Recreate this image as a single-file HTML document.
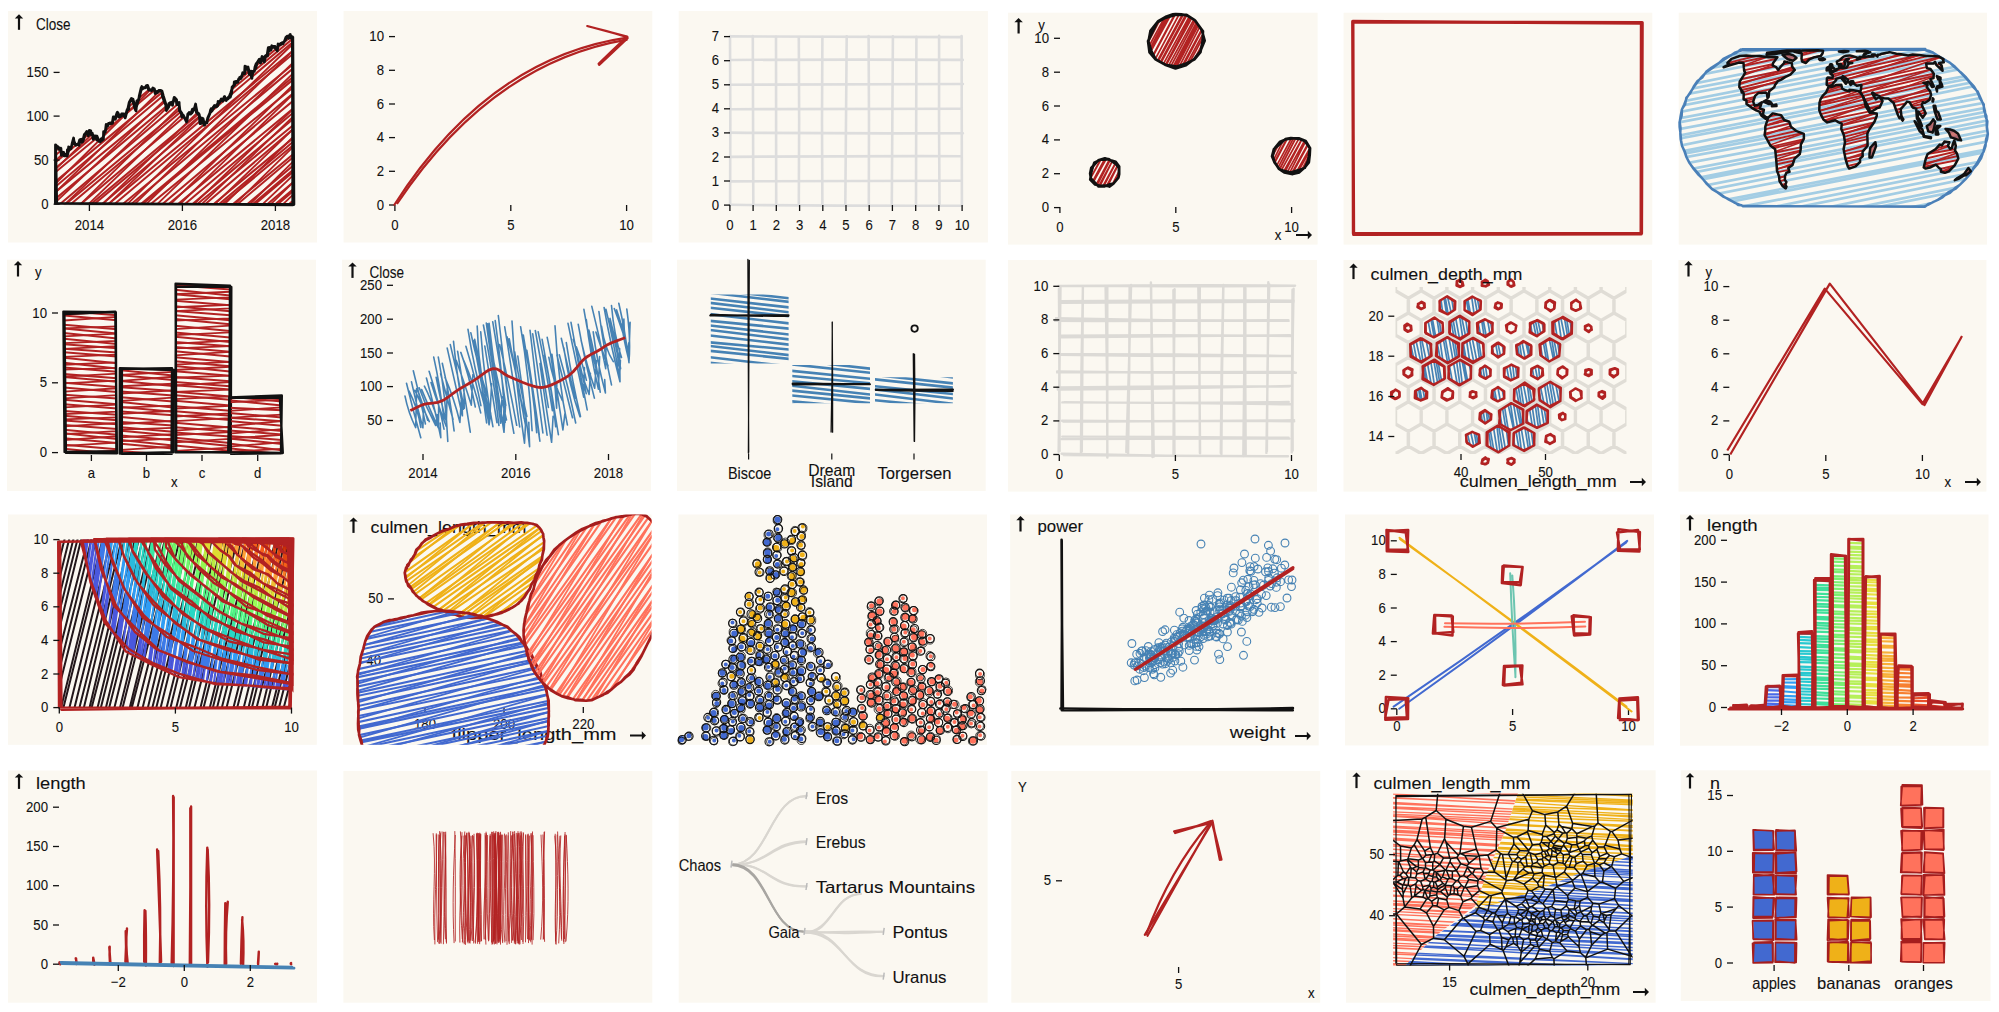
<!DOCTYPE html><html><head><meta charset="utf-8"><title>Sketchy plots</title><style>html,body{margin:0;padding:0;background:#fff;width:1999px;height:1012px;overflow:hidden}text{font-family:"Liberation Sans",sans-serif}</style></head><body><svg width="1999" height="1012" viewBox="0 0 1999 1012" style="display:block;font-family:'Liberation Sans', sans-serif"><defs><clipPath id="c1"><path d="M56 204.2L56 144.8L57.5 146.7L59.1 148.6L60.4 148.9L61.7 155.2L62.9 151.7L64.2 155.4L65.5 155L66.8 155.5L68.1 150.5L69.4 147.4L70.6 148.7L71.9 144.7L73.2 138.7L74.5 143.7L75.8 144.7L77.1 143.6L78.4 144.8L79.6 140.2L80.9 139.9L82.2 142.4L83.5 140.2L84.8 134.8L86.1 133.7L87.3 132.1L88.6 135.1L89.9 131.2L91.2 134.4L92.5 133.7L93.8 138.6L95.1 135.7L96.3 136.9L97.6 139.5L98.9 140.6L100.2 141L101.5 139.5L102.8 140.1L104 131.9L105.3 131.5L106.6 125.2L107.9 125.5L109.2 123.4L110.5 123.6L111.8 122.9L113 117.5L114.3 118.2L115.6 118.7L116.9 113.8L118.2 112.7L119.5 116.9L120.7 115.8L122 113.7L123.3 114.7L124.6 114.7L125.9 117.6L127.2 110.5L128.5 108.9L129.7 103L131 98.4L132.3 100L133.6 102.3L134.9 108.3L136.2 110.4L137.4 101L138.7 100.1L140 95.1L141.3 87L142.6 89.1L143.9 87.2L145.2 88L146.4 85.8L147.7 86.1L149 90L150.3 89.5L151.6 90.2L152.9 88.6L154.1 88.8L155.4 92.8L156.7 92.1L158 91.8L159.3 91L160.6 90L161.8 91L163.1 96.7L164.4 101.4L165.7 104.1L167 110.6L168.3 107L169.6 103.4L170.8 102.3L172.1 104.8L173.4 103.6L174.7 97.6L176 99.6L177.3 104L178.5 102.8L179.8 110.9L181.1 113.1L182.4 116.4L183.7 115.1L185 117.8L186.3 121.5L187.5 114.7L188.8 112.7L190.1 114.1L191.4 113.3L192.7 110L194 108.7L195.2 103.9L196.5 112.4L197.8 113.5L199.1 115.2L200.4 123.2L201.7 118.4L203 119.2L204.2 125.7L205.5 123L206.8 122.2L208.1 117.7L209.4 112.4L210.7 109.4L211.9 111.2L213.2 107.6L214.5 105.6L215.8 106.3L217.1 104.9L218.4 101.6L219.7 103L220.9 99.4L222.2 100.5L223.5 98.6L224.8 96.6L226.1 100.2L227.4 98.3L228.6 96.9L229.9 97L231.2 93L232.5 87.3L233.8 85.1L235.1 82.6L236.4 81.8L237.6 82.2L238.9 78.5L240.2 78.1L241.5 77L242.8 73.1L244.1 73.4L245.3 66.2L246.6 69.9L247.9 67.6L249.2 74.1L250.5 71.4L251.8 77.7L253.1 71.7L254.3 71.5L255.6 67L256.9 63.8L258.2 61.1L259.5 59.2L260.8 63.4L262 57.2L263.3 57.5L264.6 61.8L265.9 56.6L267.2 55.2L268.5 48L269.7 50.7L271 49.6L272.3 46.1L273.6 46.7L274.9 46.3L276.2 48L277.5 50.1L278.7 44.6L280 45.1L281.3 42.7L282.6 43.4L283.9 42.1L285.2 40.3L286.4 36.9L287.7 36.4L289 37.8L290.3 35.1L291.6 38.2L292.9 37.3L293.5 204.2Z"/></clipPath><clipPath id="c2"><path d="M56 204.2L56 144.8L57.5 146.7L59.1 148.6L60.4 148.9L61.7 155.2L62.9 151.7L64.2 155.4L65.5 155L66.8 155.5L68.1 150.5L69.4 147.4L70.6 148.7L71.9 144.7L73.2 138.7L74.5 143.7L75.8 144.7L77.1 143.6L78.4 144.8L79.6 140.2L80.9 139.9L82.2 142.4L83.5 140.2L84.8 134.8L86.1 133.7L87.3 132.1L88.6 135.1L89.9 131.2L91.2 134.4L92.5 133.7L93.8 138.6L95.1 135.7L96.3 136.9L97.6 139.5L98.9 140.6L100.2 141L101.5 139.5L102.8 140.1L104 131.9L105.3 131.5L106.6 125.2L107.9 125.5L109.2 123.4L110.5 123.6L111.8 122.9L113 117.5L114.3 118.2L115.6 118.7L116.9 113.8L118.2 112.7L119.5 116.9L120.7 115.8L122 113.7L123.3 114.7L124.6 114.7L125.9 117.6L127.2 110.5L128.5 108.9L129.7 103L131 98.4L132.3 100L133.6 102.3L134.9 108.3L136.2 110.4L137.4 101L138.7 100.1L140 95.1L141.3 87L142.6 89.1L143.9 87.2L145.2 88L146.4 85.8L147.7 86.1L149 90L150.3 89.5L151.6 90.2L152.9 88.6L154.1 88.8L155.4 92.8L156.7 92.1L158 91.8L159.3 91L160.6 90L161.8 91L163.1 96.7L164.4 101.4L165.7 104.1L167 110.6L168.3 107L169.6 103.4L170.8 102.3L172.1 104.8L173.4 103.6L174.7 97.6L176 99.6L177.3 104L178.5 102.8L179.8 110.9L181.1 113.1L182.4 116.4L183.7 115.1L185 117.8L186.3 121.5L187.5 114.7L188.8 112.7L190.1 114.1L191.4 113.3L192.7 110L194 108.7L195.2 103.9L196.5 112.4L197.8 113.5L199.1 115.2L200.4 123.2L201.7 118.4L203 119.2L204.2 125.7L205.5 123L206.8 122.2L208.1 117.7L209.4 112.4L210.7 109.4L211.9 111.2L213.2 107.6L214.5 105.6L215.8 106.3L217.1 104.9L218.4 101.6L219.7 103L220.9 99.4L222.2 100.5L223.5 98.6L224.8 96.6L226.1 100.2L227.4 98.3L228.6 96.9L229.9 97L231.2 93L232.5 87.3L233.8 85.1L235.1 82.6L236.4 81.8L237.6 82.2L238.9 78.5L240.2 78.1L241.5 77L242.8 73.1L244.1 73.4L245.3 66.2L246.6 69.9L247.9 67.6L249.2 74.1L250.5 71.4L251.8 77.7L253.1 71.7L254.3 71.5L255.6 67L256.9 63.8L258.2 61.1L259.5 59.2L260.8 63.4L262 57.2L263.3 57.5L264.6 61.8L265.9 56.6L267.2 55.2L268.5 48L269.7 50.7L271 49.6L272.3 46.1L273.6 46.7L274.9 46.3L276.2 48L277.5 50.1L278.7 44.6L280 45.1L281.3 42.7L282.6 43.4L283.9 42.1L285.2 40.3L286.4 36.9L287.7 36.4L289 37.8L290.3 35.1L291.6 38.2L292.9 37.3L293.5 204.2Z"/></clipPath><clipPath id="pc4"><rect x="1008" y="12.7" width="309.6" height="231.9"/></clipPath><clipPath id="c4"><path d="M1118.9 173L1117.4 178.3L1114.2 182.6L1109.7 185.4L1104.6 186.7L1099.2 186L1094.4 183.2L1091.2 178.6L1090.3 173L1091.8 167.7L1095 163.4L1099.5 160.6L1104.6 159.3L1110 160L1114.8 162.8L1118 167.4Z"/></clipPath><clipPath id="c5"><path d="M1203.8 40.8L1200.9 51L1194.6 59.2L1186.1 64.8L1176.2 67.2L1165.8 66L1156.5 60.5L1150.3 51.5L1148.6 40.8L1151.5 30.6L1157.8 22.4L1166.3 16.8L1176.2 14.4L1186.6 15.6L1195.9 21.1L1202.1 30.1Z"/></clipPath><clipPath id="c6"><path d="M1310 155.2L1308.1 162L1303.9 167.5L1298.2 171.2L1291.6 172.8L1284.7 172L1278.4 168.4L1274.3 162.4L1273.2 155.2L1275.1 148.4L1279.3 142.9L1285 139.2L1291.6 137.6L1298.5 138.4L1304.8 142L1308.9 148Z"/></clipPath><clipPath id="c7"><path d="M1924.7 206.2L1925.7 205.7L1928.5 204.4L1932.7 202.4L1937.9 199.6L1943.6 196.3L1949.4 192.6L1955.1 188.4L1960.4 183.8L1965.4 179L1969.9 173.9L1973.9 168.6L1977.4 163.1L1980.4 157.4L1982.9 151.6L1984.8 145.8L1986.2 139.8L1987.1 133.8L1987.3 127.8L1987.1 121.8L1986.2 115.8L1984.8 109.8L1982.9 104L1980.4 98.2L1977.4 92.5L1973.9 87L1969.9 81.7L1965.4 76.6L1960.4 71.8L1955.1 67.2L1949.4 63L1943.6 59.3L1937.9 56L1932.7 53.2L1928.5 51.2L1925.7 49.9L1924.7 49.4L1742.5 49.4L1741.5 49.9L1738.7 51.2L1734.5 53.2L1729.3 56L1723.6 59.3L1717.8 63L1712.1 67.2L1706.8 71.8L1701.8 76.6L1697.3 81.7L1693.3 87L1689.8 92.5L1686.8 98.2L1684.3 104L1682.4 109.8L1681 115.8L1680.1 121.8L1679.9 127.8L1680.1 133.8L1681 139.8L1682.4 145.8L1684.3 151.6L1686.8 157.4L1689.8 163.1L1693.3 168.6L1697.3 173.9L1701.8 179L1706.8 183.8L1712.1 188.4L1717.8 192.6L1723.6 196.3L1729.3 199.6L1734.5 202.4L1738.7 204.4L1741.5 205.7L1742.5 206.2Z"/></clipPath><clipPath id="c8"><path d="M1727.4 63L1731.5 58.9L1739.7 56L1746.2 55.5L1751.6 56.1L1759.4 56L1768.5 57.2L1777.4 57.2L1773.1 63L1772.7 65.5L1776.2 67.2L1778.2 69.9L1780.3 67.2L1784.1 63L1784.4 61.5L1787.7 62.3L1791.8 63L1792.1 66.4L1794.8 69.9L1790.3 74.6L1785.1 77.1L1781.3 79.6L1777.8 81.2L1775 84.9L1774.4 87L1769.2 91.4L1768.6 97L1767.5 98.2L1767 93.6L1765.7 92.5L1761.5 93.1L1758.3 93.1L1755.1 95.9L1753.2 101.6L1754.5 105.7L1757.9 105.1L1761.8 102.2L1759.8 108.6L1763.9 109.8L1762.9 114.6L1765.7 117L1767.8 117.6L1765.6 118.8L1761.5 115.8L1759.4 111.6L1756.2 110.4L1753.1 108.6L1746.5 104L1746.5 100.5L1743.6 99.3L1743.7 93.6L1742.5 91.4L1741.7 92.5L1741.2 89.8L1739.3 87L1739.7 81.7L1743.5 75.6L1745.2 72.7L1744.2 70.8L1743.8 67.2L1743.5 63L1738.8 62.6L1734.8 63.9L1728.9 65.5L1723.6 67.2L1729.1 64.3L1727.4 63Z"/></clipPath><clipPath id="c9"><path d="M1727.4 63L1731.5 58.9L1739.7 56L1746.2 55.5L1751.6 56.1L1759.4 56L1768.5 57.2L1777.4 57.2L1773.1 63L1772.7 65.5L1776.2 67.2L1778.2 69.9L1780.3 67.2L1784.1 63L1784.4 61.5L1787.7 62.3L1791.8 63L1792.1 66.4L1794.8 69.9L1790.3 74.6L1785.1 77.1L1781.3 79.6L1777.8 81.2L1775 84.9L1774.4 87L1769.2 91.4L1768.6 97L1767.5 98.2L1767 93.6L1765.7 92.5L1761.5 93.1L1758.3 93.1L1755.1 95.9L1753.2 101.6L1754.5 105.7L1757.9 105.1L1761.8 102.2L1759.8 108.6L1763.9 109.8L1762.9 114.6L1765.7 117L1767.8 117.6L1765.6 118.8L1761.5 115.8L1759.4 111.6L1756.2 110.4L1753.1 108.6L1746.5 104L1746.5 100.5L1743.6 99.3L1743.7 93.6L1742.5 91.4L1741.7 92.5L1741.2 89.8L1739.3 87L1739.7 81.7L1743.5 75.6L1745.2 72.7L1744.2 70.8L1743.8 67.2L1743.5 63L1738.8 62.6L1734.8 63.9L1728.9 65.5L1723.6 67.2L1729.1 64.3L1727.4 63Z"/></clipPath><clipPath id="c10"><path d="M1794.5 51.9L1802.4 50.5L1818.1 50.2L1823.1 50.8L1822.6 53.2L1820.8 56L1814.7 57.2L1809.2 59.3L1805.9 63L1802.1 61.5L1801.5 58.6L1801.7 56L1801.7 53.2L1797.2 52.5L1794.5 51.9Z"/></clipPath><clipPath id="c11"><path d="M1794.5 51.9L1802.4 50.5L1818.1 50.2L1823.1 50.8L1822.6 53.2L1820.8 56L1814.7 57.2L1809.2 59.3L1805.9 63L1802.1 61.5L1801.5 58.6L1801.7 56L1801.7 53.2L1797.2 52.5L1794.5 51.9Z"/></clipPath><clipPath id="c12"><path d="M1768.2 117.6L1772.7 113.4L1781.1 115.2L1784.2 120L1789.3 121.8L1790.9 126.6L1796 130.8L1803.8 133.8L1803.9 138.6L1800.8 144.6L1800.7 149.3L1799.8 154L1794.6 158.6L1792.4 165.3L1788.3 168L1789.5 171.8L1786.4 172.8L1785 176L1784.9 180L1786.4 181.9L1785.4 184.8L1786.5 186.6L1785.7 188.4L1782.3 185.7L1779.5 181L1779 176L1777 170.7L1776.5 163.1L1775.2 149.3L1770.6 145.8L1764.6 135L1765.3 130.2L1765.3 126.6L1768.2 117.6Z"/></clipPath><clipPath id="c13"><path d="M1768.2 117.6L1772.7 113.4L1781.1 115.2L1784.2 120L1789.3 121.8L1790.9 126.6L1796 130.8L1803.8 133.8L1803.9 138.6L1800.8 144.6L1800.7 149.3L1799.8 154L1794.6 158.6L1792.4 165.3L1788.3 168L1789.5 171.8L1786.4 172.8L1785 176L1784.9 180L1786.4 181.9L1785.4 184.8L1786.5 186.6L1785.7 188.4L1782.3 185.7L1779.5 181L1779 176L1777 170.7L1776.5 163.1L1775.2 149.3L1770.6 145.8L1764.6 135L1765.3 130.2L1765.3 126.6L1768.2 117.6Z"/></clipPath><clipPath id="c14"><path d="M1826.9 78.6L1827.7 77.6L1832.5 78.1L1832.9 75.6L1830.4 73.7L1832.5 72.2L1835 70.8L1836.4 70.4L1837 69L1839.4 68.1L1838.9 65.5L1840.5 65.1L1840.7 67.7L1843.1 68.1L1846.5 67.7L1847.8 65.5L1849.1 63.4L1852.3 63L1848 62.6L1847 60.7L1848.8 58.9L1846.4 59.3L1844.3 61.5L1845.2 63.4L1844.3 66.4L1842 66.4L1840.7 63.9L1837.2 63.9L1836.8 61.5L1839.8 60L1842 57.9L1843.6 56.6L1846.3 55.7L1849.7 55.4L1852.8 56.3L1858.1 57.9L1856.9 59.6L1860.2 58.6L1859.5 56.9L1864.8 56.9L1868.6 56.3L1873.4 56.6L1872 54.5L1874.8 54.5L1877.5 56.6L1877.9 54.8L1879.9 54.5L1882 53.7L1887.9 52.5L1889.6 52.1L1896.4 53.7L1901 54.2L1908.2 55.4L1912.7 54.5L1919.2 55.1L1926.3 56L1932.1 56L1939 56.6L1943.6 59.3L1943 59.6L1943.8 62.3L1939.1 63L1941.6 65.5L1942.6 70.8L1936.5 65.1L1935 61.9L1933.8 63.4L1926.1 63.4L1926.9 68.1L1930.5 69L1933.8 73.7L1933.5 78.1L1930.4 79.1L1933.9 86.5L1932.2 87L1930.4 84.3L1928.2 81.7L1926.1 82.8L1923.5 82.8L1927.6 84.9L1926.7 87L1930.2 91.4L1931.1 94.8L1929.5 99.9L1925 102.8L1922.8 102.2L1921.8 105.1L1925.7 113.4L1922.8 117.6L1920.9 115.2L1918.3 111.6L1917.7 117L1919.6 120L1922 126L1919.8 124.2L1916.9 118.2L1916.2 108.6L1912.6 107.5L1909.6 102.2L1907 101.6L1905.3 104L1900.7 109.2L1901.4 115.8L1899.5 118.2L1898 115.2L1893.5 102.8L1891.2 101L1888.3 98.4L1884.2 98.2L1880 97.6L1879.3 95.9L1875.5 94.8L1872.7 92.5L1872 93.1L1874.1 96.5L1875.8 99.3L1879.1 97L1882.6 101L1879.6 107.5L1877.1 108.1L1869.9 112.8L1869.2 108.6L1865.8 102.2L1861.8 94.8L1861.5 95.3L1859.6 92.5L1860.6 90.9L1861.3 87L1861.4 85.1L1856.8 85.7L1853.9 83.8L1853.2 81.2L1851 81.2L1852 83.8L1850.6 84.9L1848.3 81.2L1847.8 79.6L1845 77.6L1842.7 76.1L1844.1 79.6L1845.7 81.7L1847.6 81.7L1845.9 83.8L1845.4 83.3L1842.6 79.6L1841 77.6L1838.8 78.1L1835.8 79.1L1836.2 80.2L1833.6 82.8L1832.1 85.1L1828.9 85.9L1826.7 84.9L1826.9 78.6Z"/></clipPath><clipPath id="c15"><path d="M1826.9 78.6L1827.7 77.6L1832.5 78.1L1832.9 75.6L1830.4 73.7L1832.5 72.2L1835 70.8L1836.4 70.4L1837 69L1839.4 68.1L1838.9 65.5L1840.5 65.1L1840.7 67.7L1843.1 68.1L1846.5 67.7L1847.8 65.5L1849.1 63.4L1852.3 63L1848 62.6L1847 60.7L1848.8 58.9L1846.4 59.3L1844.3 61.5L1845.2 63.4L1844.3 66.4L1842 66.4L1840.7 63.9L1837.2 63.9L1836.8 61.5L1839.8 60L1842 57.9L1843.6 56.6L1846.3 55.7L1849.7 55.4L1852.8 56.3L1858.1 57.9L1856.9 59.6L1860.2 58.6L1859.5 56.9L1864.8 56.9L1868.6 56.3L1873.4 56.6L1872 54.5L1874.8 54.5L1877.5 56.6L1877.9 54.8L1879.9 54.5L1882 53.7L1887.9 52.5L1889.6 52.1L1896.4 53.7L1901 54.2L1908.2 55.4L1912.7 54.5L1919.2 55.1L1926.3 56L1932.1 56L1939 56.6L1943.6 59.3L1943 59.6L1943.8 62.3L1939.1 63L1941.6 65.5L1942.6 70.8L1936.5 65.1L1935 61.9L1933.8 63.4L1926.1 63.4L1926.9 68.1L1930.5 69L1933.8 73.7L1933.5 78.1L1930.4 79.1L1933.9 86.5L1932.2 87L1930.4 84.3L1928.2 81.7L1926.1 82.8L1923.5 82.8L1927.6 84.9L1926.7 87L1930.2 91.4L1931.1 94.8L1929.5 99.9L1925 102.8L1922.8 102.2L1921.8 105.1L1925.7 113.4L1922.8 117.6L1920.9 115.2L1918.3 111.6L1917.7 117L1919.6 120L1922 126L1919.8 124.2L1916.9 118.2L1916.2 108.6L1912.6 107.5L1909.6 102.2L1907 101.6L1905.3 104L1900.7 109.2L1901.4 115.8L1899.5 118.2L1898 115.2L1893.5 102.8L1891.2 101L1888.3 98.4L1884.2 98.2L1880 97.6L1879.3 95.9L1875.5 94.8L1872.7 92.5L1872 93.1L1874.1 96.5L1875.8 99.3L1879.1 97L1882.6 101L1879.6 107.5L1877.1 108.1L1869.9 112.8L1869.2 108.6L1865.8 102.2L1861.8 94.8L1861.5 95.3L1859.6 92.5L1860.6 90.9L1861.3 87L1861.4 85.1L1856.8 85.7L1853.9 83.8L1853.2 81.2L1851 81.2L1852 83.8L1850.6 84.9L1848.3 81.2L1847.8 79.6L1845 77.6L1842.7 76.1L1844.1 79.6L1845.7 81.7L1847.6 81.7L1845.9 83.8L1845.4 83.3L1842.6 79.6L1841 77.6L1838.8 78.1L1835.8 79.1L1836.2 80.2L1833.6 82.8L1832.1 85.1L1828.9 85.9L1826.7 84.9L1826.9 78.6Z"/></clipPath><clipPath id="c16"><path d="M1819.5 102.8L1820.5 99.3L1823.1 95.3L1826 92.5L1828.9 86.2L1832 87L1835.9 85.1L1841.3 84.7L1842.2 88.7L1845.5 90.3L1849.5 91.4L1849.4 89.8L1853.4 90.3L1859 91.2L1861.3 93.6L1863.8 98.2L1865.7 106.3L1869.9 112.8L1876.7 113.4L1876.8 115.8L1874.5 121.8L1869.5 129L1867.3 133.8L1867.5 140.4L1867.6 145.8L1862.6 151.6L1862.7 156.3L1860 158.6L1860.1 162L1855.6 166.4L1849.2 168.6L1847.8 166.4L1845.7 159.7L1843.6 149.3L1845 142.2L1843.8 135L1841.3 129L1841.7 123.6L1838.7 122.4L1835.3 120.2L1829.3 121.8L1827.2 122.4L1823.4 119.4L1820.9 114.6L1819.3 110.4L1819.5 102.8Z"/></clipPath><clipPath id="c17"><path d="M1819.5 102.8L1820.5 99.3L1823.1 95.3L1826 92.5L1828.9 86.2L1832 87L1835.9 85.1L1841.3 84.7L1842.2 88.7L1845.5 90.3L1849.5 91.4L1849.4 89.8L1853.4 90.3L1859 91.2L1861.3 93.6L1863.8 98.2L1865.7 106.3L1869.9 112.8L1876.7 113.4L1876.8 115.8L1874.5 121.8L1869.5 129L1867.3 133.8L1867.5 140.4L1867.6 145.8L1862.6 151.6L1862.7 156.3L1860 158.6L1860.1 162L1855.6 166.4L1849.2 168.6L1847.8 166.4L1845.7 159.7L1843.6 149.3L1845 142.2L1843.8 135L1841.3 129L1841.7 123.6L1838.7 122.4L1835.3 120.2L1829.3 121.8L1827.2 122.4L1823.4 119.4L1820.9 114.6L1819.3 110.4L1819.5 102.8Z"/></clipPath><clipPath id="c18"><path d="M1927.6 154L1925.8 158.6L1923.7 167.5L1925.6 168.6L1930 167.5L1935.9 164.7L1939.1 168L1940.9 169.1L1940.9 171.8L1944.8 172.8L1948.9 171.3L1954.7 165.3L1958.3 158.6L1957.2 154L1955 150.5L1955.8 145.8L1954.3 140.4L1953 143.4L1951.9 148.1L1950.1 148.7L1947.9 145.8L1949.4 142.2L1944.4 141.6L1942.1 145.2L1939.7 144.6L1935.4 149.3L1927.6 154Z"/></clipPath><clipPath id="c19"><path d="M1927.6 154L1925.8 158.6L1923.7 167.5L1925.6 168.6L1930 167.5L1935.9 164.7L1939.1 168L1940.9 169.1L1940.9 171.8L1944.8 172.8L1948.9 171.3L1954.7 165.3L1958.3 158.6L1957.2 154L1955 150.5L1955.8 145.8L1954.3 140.4L1953 143.4L1951.9 148.1L1950.1 148.7L1947.9 145.8L1949.4 142.2L1944.4 141.6L1942.1 145.2L1939.7 144.6L1935.4 149.3L1927.6 154Z"/></clipPath><clipPath id="c20"><path d="M1829.7 71.8L1834.6 70.8L1834.8 69L1833.3 67.7L1832.3 66.4L1832.3 64.9L1831.6 64.2L1830.3 64.2L1829.6 65.9L1830.5 67.7L1831.5 68.6L1830.5 69.9L1829.7 71.8Z"/></clipPath><clipPath id="c21"><path d="M1829.7 71.8L1834.6 70.8L1834.8 69L1833.3 67.7L1832.3 66.4L1832.3 64.9L1831.6 64.2L1830.3 64.2L1829.6 65.9L1830.5 67.7L1831.5 68.6L1830.5 69.9L1829.7 71.8Z"/></clipPath><clipPath id="c22"><path d="M64.2 313L116.1 313L116.1 452.6L64.2 452.6Z"/></clipPath><clipPath id="c23"><path d="M64.2 313L116.1 313L116.1 452.6L64.2 452.6Z"/></clipPath><clipPath id="c24"><path d="M121 368.8L173 368.8L173 452.6L121 452.6Z"/></clipPath><clipPath id="c25"><path d="M121 368.8L173 368.8L173 452.6L121 452.6Z"/></clipPath><clipPath id="c26"><path d="M175.4 285.1L229.7 285.1L229.7 452.6L175.4 452.6Z"/></clipPath><clipPath id="c27"><path d="M175.4 285.1L229.7 285.1L229.7 452.6L175.4 452.6Z"/></clipPath><clipPath id="c28"><path d="M229.7 396.8L281.6 396.8L281.6 452.6L229.7 452.6Z"/></clipPath><clipPath id="c29"><path d="M229.7 396.8L281.6 396.8L281.6 452.6L229.7 452.6Z"/></clipPath><clipPath id="c30"><path d="M710.8 294.5L788.6 294.5L788.6 363.6L710.8 363.6Z"/></clipPath><clipPath id="c31"><path d="M792.3 364.9L870 364.9L870 403.2L792.3 403.2Z"/></clipPath><clipPath id="c32"><path d="M875 377.2L952.9 377.2L952.9 403.2L875 403.2Z"/></clipPath><clipPath id="hexclip"><rect x="1395.5" y="287" width="231" height="167"/></clipPath><clipPath id="c33"><path d="M1447.4 314.5L1439.7 310L1439.7 301.1L1447.4 296.7L1455.1 301.1L1455.1 310Z"/></clipPath><clipPath id="c34"><path d="M1472.8 314.5L1465.1 310L1465.1 301.1L1472.8 296.7L1480.5 301.1L1480.5 310Z"/></clipPath><clipPath id="c35"><path d="M1433.8 337.7L1425.3 332.8L1425.3 322.9L1433.8 317.9L1442.4 322.9L1442.4 332.8Z"/></clipPath><clipPath id="c36"><path d="M1459.8 339.2L1449.9 333.5L1449.9 322.1L1459.8 316.5L1469.6 322.1L1469.6 333.5Z"/></clipPath><clipPath id="c37"><path d="M1485.2 336.7L1477.5 332.3L1477.5 323.4L1485.2 318.9L1492.9 323.4L1492.9 332.3Z"/></clipPath><clipPath id="c38"><path d="M1537.1 335.7L1530.2 331.8L1530.2 323.9L1537.1 319.9L1543.9 323.9L1543.9 331.8Z"/></clipPath><clipPath id="c39"><path d="M1562.3 338.7L1552.9 333.3L1552.9 322.4L1562.3 316.9L1571.7 322.4L1571.7 333.3Z"/></clipPath><clipPath id="c40"><path d="M1421 361.9L1410.7 356L1410.7 344.1L1421 338.2L1431.2 344.1L1431.2 356Z"/></clipPath><clipPath id="c41"><path d="M1447.4 362.9L1436.3 356.5L1436.3 343.6L1447.4 337.2L1458.5 343.6L1458.5 356.5Z"/></clipPath><clipPath id="c42"><path d="M1472.8 362.4L1462.1 356.2L1462.1 343.9L1472.8 337.7L1483.5 343.9L1483.5 356.2Z"/></clipPath><clipPath id="c43"><path d="M1498 357L1492.1 353.5L1492.1 346.6L1498 343.1L1504 346.6L1504 353.5Z"/></clipPath><clipPath id="c44"><path d="M1524 358.4L1516.7 354.2L1516.7 345.8L1524 341.7L1531.3 345.8L1531.3 354.2Z"/></clipPath><clipPath id="c45"><path d="M1549.9 361.4L1540.1 355.7L1540.1 344.4L1549.9 338.7L1559.8 344.4L1559.8 355.7Z"/></clipPath><clipPath id="c46"><path d="M1433.8 384.6L1423.1 378.5L1423.1 366.1L1433.8 359.9L1444.5 366.1L1444.5 378.5Z"/></clipPath><clipPath id="c47"><path d="M1459.8 385.1L1448.6 378.7L1448.6 365.9L1459.8 359.4L1470.9 365.9L1470.9 378.7Z"/></clipPath><clipPath id="c48"><path d="M1485.2 378.7L1479.6 375.5L1479.6 369.1L1485.2 365.9L1490.8 369.1L1490.8 375.5Z"/></clipPath><clipPath id="c49"><path d="M1511.1 380.2L1504.3 376.2L1504.3 368.3L1511.1 364.4L1518 368.3L1518 376.2Z"/></clipPath><clipPath id="c50"><path d="M1537.1 378.7L1531.5 375.5L1531.5 369.1L1537.1 365.9L1542.6 369.1L1542.6 375.5Z"/></clipPath><clipPath id="c51"><path d="M1421 400.9L1415.4 397.7L1415.4 391.3L1421 388.1L1426.5 391.3L1426.5 397.7Z"/></clipPath><clipPath id="c52"><path d="M1498 401.4L1492.1 398L1492.1 391.1L1498 387.6L1504 391.1L1504 398Z"/></clipPath><clipPath id="c53"><path d="M1524 405.9L1514.1 400.2L1514.1 388.8L1524 383.2L1533.8 388.8L1533.8 400.2Z"/></clipPath><clipPath id="c54"><path d="M1549.9 406.9L1539.2 400.7L1539.2 388.3L1549.9 382.2L1560.6 388.3L1560.6 400.7Z"/></clipPath><clipPath id="c55"><path d="M1485.2 423.2L1479.6 420L1479.6 413.5L1485.2 410.3L1490.8 413.5L1490.8 420Z"/></clipPath><clipPath id="c56"><path d="M1511.1 430.1L1499.6 423.4L1499.6 410.1L1511.1 403.4L1522.7 410.1L1522.7 423.4Z"/></clipPath><clipPath id="c57"><path d="M1537.1 428.6L1526.8 422.7L1526.8 410.8L1537.1 404.9L1547.3 410.8L1547.3 422.7Z"/></clipPath><clipPath id="c58"><path d="M1472.8 446.4L1466.4 442.7L1466.4 435.3L1472.8 431.6L1479.3 435.3L1479.3 442.7Z"/></clipPath><clipPath id="c59"><path d="M1498 451.8L1486.9 445.4L1486.9 432.6L1498 426.1L1509.2 432.6L1509.2 445.4Z"/></clipPath><clipPath id="c60"><path d="M1524 450.8L1513.7 444.9L1513.7 433.1L1524 427.1L1534.3 433.1L1534.3 444.9Z"/></clipPath><clipPath id="ctr"><rect x="57.3" y="537.6" width="236.2" height="172.0"/></clipPath><clipPath id="c61"><path d="M59.3 707.6L291.5 707.6L291.5 539.6L59.3 539.6Z"/></clipPath><clipPath id="c62"><path d="M82.5 539.6L83.8 548.5L86.4 563.9L90 580.6L94.4 596.5L99.5 610.6L105.3 622.7L111.6 633L118.6 641.8L126 649.1L134 655.4L142.5 660.7L151.5 665.3L160.9 669.2L170.7 672.6L181 675.6L191.8 678.1L202.9 680.4L214.4 682.4L226.3 684.2L238.6 685.8L251.3 687.3L264.3 688.6L277.7 689.7L291.5 690.8L291.5 682.4L278.5 680.9L265.8 679.3L253.5 677.5L241.6 675.5L229.9 673.3L218.7 670.9L207.8 668.2L197.3 665.2L187.2 661.8L177.4 658.1L168.1 653.8L159.2 649L150.8 643.6L142.8 637.5L135.2 630.5L128.2 622.6L121.6 613.7L115.6 603.7L110.2 592.6L105.4 580.6L101.2 568L97.8 555.7L95.4 545.3L94.1 539.6Z"/></clipPath><clipPath id="c63"><path d="M94.1 539.6L95.4 545.3L97.8 555.7L101.2 568L105.4 580.6L110.2 592.6L115.6 603.7L121.6 613.7L128.2 622.6L135.2 630.5L142.8 637.5L150.8 643.6L159.2 649L168.1 653.8L177.4 658.1L187.2 661.8L197.3 665.2L207.8 668.2L218.7 670.9L229.9 673.3L241.6 675.5L253.5 677.5L265.8 679.3L278.5 680.9L291.5 682.4L291.5 674L279.3 672.1L267.4 670.1L255.8 667.9L244.5 665.5L233.6 662.8L223 659.9L212.7 656.7L202.8 653.2L193.3 649.4L184.2 645.1L175.4 640.4L167 635.2L159.1 629.4L151.5 623L144.4 615.9L137.8 608.2L131.6 599.7L126 590.5L120.8 580.8L116.3 570.7L112.4 560.7L109.2 551.3L106.9 543.7L105.7 539.6Z"/></clipPath><clipPath id="c64"><path d="M105.7 539.6L106.9 543.7L109.2 551.3L112.4 560.7L116.3 570.7L120.8 580.8L126 590.5L131.6 599.7L137.8 608.2L144.4 615.9L151.5 623L159.1 629.4L167 635.2L175.4 640.4L184.2 645.1L193.3 649.4L202.8 653.2L212.7 656.7L223 659.9L233.6 662.8L244.5 665.5L255.8 667.9L267.4 670.1L279.3 672.1L291.5 674L291.5 665.6L280 663.4L268.9 661.1L258 658.5L247.4 655.8L237.2 652.8L227.3 649.5L217.7 646L208.4 642.2L199.4 638L190.9 633.5L182.6 628.5L174.8 623.2L167.3 617.3L160.3 611L153.6 604.2L147.4 596.9L141.6 589.1L136.3 580.9L131.5 572.5L127.3 564.1L123.6 555.9L120.6 548.6L118.4 542.7L117.3 539.6Z"/></clipPath><clipPath id="c65"><path d="M117.3 539.6L118.4 542.7L120.6 548.6L123.6 555.9L127.3 564.1L131.5 572.5L136.3 580.9L141.6 589.1L147.4 596.9L153.6 604.2L160.3 611L167.3 617.3L174.8 623.2L182.6 628.5L190.9 633.5L199.4 638L208.4 642.2L217.7 646L227.3 649.5L237.2 652.8L247.4 655.8L258 658.5L268.9 661.1L280 663.4L291.5 665.6L291.5 657.2L280.8 654.8L270.4 652.2L260.2 649.4L250.4 646.4L240.8 643.1L231.5 639.7L222.6 635.9L213.9 631.9L205.6 627.6L197.6 623L189.9 618L182.6 612.7L175.6 607L169 600.9L162.8 594.5L157 587.8L151.6 580.8L146.6 573.6L142.2 566.4L138.2 559.3L134.8 552.6L132 546.6L130 542L129 539.6Z"/></clipPath><clipPath id="c66"><path d="M129 539.6L130 542L132 546.6L134.8 552.6L138.2 559.3L142.2 566.4L146.6 573.6L151.6 580.8L157 587.8L162.8 594.5L169 600.9L175.6 607L182.6 612.7L189.9 618L197.6 623L205.6 627.6L213.9 631.9L222.6 635.9L231.5 639.7L240.8 643.1L250.4 646.4L260.2 649.4L270.4 652.2L280.8 654.8L291.5 657.2L291.5 648.8L281.6 646.2L271.9 643.4L262.5 640.4L253.3 637.2L244.4 633.8L235.8 630.3L227.5 626.4L219.5 622.4L211.7 618L204.3 613.4L197.2 608.6L190.4 603.4L183.9 598L177.8 592.3L172 586.4L166.6 580.3L161.6 574.1L157 567.8L152.8 561.6L149.2 555.7L146 550.1L143.4 545.3L141.5 541.5L140.6 539.6Z"/></clipPath><clipPath id="c67"><path d="M140.6 539.6L141.5 541.5L143.4 545.3L146 550.1L149.2 555.7L152.8 561.6L157 567.8L161.6 574.1L166.6 580.3L172 586.4L177.8 592.3L183.9 598L190.4 603.4L197.2 608.6L204.3 613.4L211.7 618L219.5 622.4L227.5 626.4L235.8 630.3L244.4 633.8L253.3 637.2L262.5 640.4L271.9 643.4L281.6 646.2L291.5 648.8L291.5 640.4L282.3 637.6L273.4 634.7L264.7 631.6L256.2 628.4L248 624.9L240.1 621.3L232.4 617.5L225 613.4L217.9 609.2L211 604.7L204.4 600.1L198.1 595.2L192.2 590.2L186.5 584.9L181.2 579.6L176.2 574.1L171.6 568.6L167.3 563.2L163.5 557.9L160.1 552.8L157.2 548.2L154.8 544.2L153 541.1L152.2 539.6Z"/></clipPath><clipPath id="c68"><path d="M152.2 539.6L153 541.1L154.8 544.2L157.2 548.2L160.1 552.8L163.5 557.9L167.3 563.2L171.6 568.6L176.2 574.1L181.2 579.6L186.5 584.9L192.2 590.2L198.1 595.2L204.4 600.1L211 604.7L217.9 609.2L225 613.4L232.4 617.5L240.1 621.3L248 624.9L256.2 628.4L264.7 631.6L273.4 634.7L282.3 637.6L291.5 640.4L291.5 632L283.1 629.2L274.9 626.2L266.9 623.1L259.2 619.8L251.7 616.3L244.4 612.8L237.3 609L230.5 605.1L224 601L217.7 596.8L211.7 592.4L205.9 587.9L200.4 583.2L195.3 578.5L190.4 573.7L185.8 568.8L181.6 564L177.7 559.3L174.2 554.8L171.1 550.5L168.4 546.7L166.2 543.4L164.6 540.9L163.8 539.6Z"/></clipPath><clipPath id="c69"><path d="M163.8 539.6L164.6 540.9L166.2 543.4L168.4 546.7L171.1 550.5L174.2 554.8L177.7 559.3L181.6 564L185.8 568.8L190.4 573.7L195.3 578.5L200.4 583.2L205.9 587.9L211.7 592.4L217.7 596.8L224 601L230.5 605.1L237.3 609L244.4 612.8L251.7 616.3L259.2 619.8L266.9 623.1L274.9 626.2L283.1 629.2L291.5 632L291.5 623.6L283.9 620.7L276.4 617.8L269.2 614.7L262.1 611.4L255.3 608.1L248.7 604.6L242.3 601L236.1 597.3L230.1 593.4L224.4 589.5L218.9 585.4L213.7 581.3L208.7 577.1L204 572.8L199.6 568.5L195.4 564.3L191.6 560.1L188 556.1L184.8 552.2L182 548.6L179.6 545.4L177.6 542.7L176.1 540.6L175.4 539.6Z"/></clipPath><clipPath id="c70"><path d="M175.4 539.6L176.1 540.6L177.6 542.7L179.6 545.4L182 548.6L184.8 552.2L188 556.1L191.6 560.1L195.4 564.3L199.6 568.5L204 572.8L208.7 577.1L213.7 581.3L218.9 585.4L224.4 589.5L230.1 593.4L236.1 597.3L242.3 601L248.7 604.6L255.3 608.1L262.1 611.4L269.2 614.7L276.4 617.8L283.9 620.7L291.5 623.6L291.5 615.2L284.6 612.4L277.9 609.5L271.4 606.4L265.1 603.3L258.9 600.1L253 596.8L247.2 593.4L241.6 589.9L236.3 586.4L231.1 582.7L226.2 579L221.5 575.3L217 571.5L212.8 567.8L208.8 564.1L205 560.4L201.6 556.8L198.4 553.3L195.5 550.1L193 547.1L190.8 544.4L189 542.1L187.7 540.4L187 539.6Z"/></clipPath><clipPath id="c71"><path d="M187 539.6L187.7 540.4L189 542.1L190.8 544.4L193 547.1L195.5 550.1L198.4 553.3L201.6 556.8L205 560.4L208.8 564.1L212.8 567.8L217 571.5L221.5 575.3L226.2 579L231.1 582.7L236.3 586.4L241.6 589.9L247.2 593.4L253 596.8L258.9 600.1L265.1 603.3L271.4 606.4L277.9 609.5L284.6 612.4L291.5 615.2L291.5 606.8L285.4 604.1L279.4 601.3L273.6 598.4L268 595.4L262.5 592.4L257.2 589.4L252.1 586.2L247.2 583L242.4 579.8L237.8 576.5L233.4 573.2L229.3 569.9L225.3 566.6L221.5 563.3L218 560.1L214.6 556.9L211.6 553.9L208.7 551L206.2 548.2L203.9 545.7L202 543.5L200.4 541.7L199.2 540.3L198.6 539.6Z"/></clipPath><clipPath id="c72"><path d="M198.6 539.6L199.2 540.3L200.4 541.7L202 543.5L203.9 545.7L206.2 548.2L208.7 551L211.6 553.9L214.6 556.9L218 560.1L221.5 563.3L225.3 566.6L229.3 569.9L233.4 573.2L237.8 576.5L242.4 579.8L247.2 583L252.1 586.2L257.2 589.4L262.5 592.4L268 595.4L273.6 598.4L279.4 601.3L285.4 604.1L291.5 606.8L291.5 598.4L286.2 595.8L280.9 593.2L275.9 590.5L270.9 587.8L266.2 585L261.5 582.2L257 579.4L252.7 576.5L248.5 573.6L244.5 570.7L240.7 567.8L237 564.9L233.6 562.1L230.3 559.3L227.1 556.5L224.2 553.9L221.5 551.3L219.1 548.9L216.8 546.6L214.9 544.6L213.1 542.8L211.8 541.3L210.7 540.2L210.2 539.6Z"/></clipPath><clipPath id="c73"><path d="M210.2 539.6L210.7 540.2L211.8 541.3L213.1 542.8L214.9 544.6L216.8 546.6L219.1 548.9L221.5 551.3L224.2 553.9L227.1 556.5L230.3 559.3L233.6 562.1L237 564.9L240.7 567.8L244.5 570.7L248.5 573.6L252.7 576.5L257 579.4L261.5 582.2L266.2 585L270.9 587.8L275.9 590.5L280.9 593.2L286.2 595.8L291.5 598.4L291.5 590L286.9 587.6L282.4 585.2L278.1 582.8L273.9 580.3L269.8 577.9L265.8 575.4L262 572.9L258.3 570.3L254.7 567.8L251.2 565.3L248 562.9L244.8 560.4L241.8 558L239 555.6L236.3 553.4L233.9 551.2L231.5 549.1L229.4 547.1L227.5 545.3L225.8 543.6L224.3 542.1L223.1 540.9L222.3 540L221.8 539.6Z"/></clipPath><clipPath id="c74"><path d="M221.8 539.6L222.3 540L223.1 540.9L224.3 542.1L225.8 543.6L227.5 545.3L229.4 547.1L231.5 549.1L233.9 551.2L236.3 553.4L239 555.6L241.8 558L244.8 560.4L248 562.9L251.2 565.3L254.7 567.8L258.3 570.3L262 572.9L265.8 575.4L269.8 577.9L273.9 580.3L278.1 582.8L282.4 585.2L286.9 587.6L291.5 590L291.5 581.6L287.7 579.5L284 577.4L280.3 575.2L276.8 573.1L273.4 570.9L270.1 568.8L266.9 566.7L263.8 564.5L260.8 562.4L258 560.3L255.2 558.3L252.6 556.2L250.1 554.3L247.8 552.4L245.5 550.5L243.5 548.7L241.5 547.1L239.8 545.5L238.2 544L236.8 542.7L235.5 541.6L234.5 540.6L233.8 539.9L233.4 539.6Z"/></clipPath><clipPath id="c75"><path d="M233.4 539.6L233.8 539.9L234.5 540.6L235.5 541.6L236.8 542.7L238.2 544L239.8 545.5L241.5 547.1L243.5 548.7L245.5 550.5L247.8 552.4L250.1 554.3L252.6 556.2L255.2 558.3L258 560.3L260.8 562.4L263.8 564.5L266.9 566.7L270.1 568.8L273.4 570.9L276.8 573.1L280.3 575.2L284 577.4L287.7 579.5L291.5 581.6L291.5 573.2L288.4 571.4L285.5 569.6L282.6 567.8L279.7 566L277 564.3L274.4 562.5L271.8 560.7L269.3 559L267 557.3L264.7 555.6L262.5 554L260.4 552.4L258.4 550.8L256.5 549.3L254.7 547.9L253.1 546.5L251.5 545.3L250.1 544L248.8 542.9L247.7 542L246.7 541.1L245.9 540.4L245.3 539.9L245.1 539.6Z"/></clipPath><clipPath id="c76"><path d="M245.1 539.6L245.3 539.9L245.9 540.4L246.7 541.1L247.7 542L248.8 542.9L250.1 544L251.5 545.3L253.1 546.5L254.7 547.9L256.5 549.3L258.4 550.8L260.4 552.4L262.5 554L264.7 555.6L267 557.3L269.3 559L271.8 560.7L274.4 562.5L277 564.3L279.7 566L282.6 567.8L285.5 569.6L288.4 571.4L291.5 573.2L291.5 564.8L289.2 563.4L287 562L284.8 560.6L282.7 559.2L280.6 557.8L278.7 556.4L276.7 555.1L274.9 553.8L273.1 552.5L271.4 551.2L269.7 550L268.2 548.8L266.7 547.7L265.3 546.6L263.9 545.6L262.7 544.6L261.5 543.6L260.5 542.8L259.5 542L258.7 541.3L257.9 540.7L257.3 540.2L256.9 539.8L256.7 539.6Z"/></clipPath><clipPath id="c77"><path d="M256.7 539.6L256.9 539.8L257.3 540.2L257.9 540.7L258.7 541.3L259.5 542L260.5 542.8L261.5 543.6L262.7 544.6L263.9 545.6L265.3 546.6L266.7 547.7L268.2 548.8L269.7 550L271.4 551.2L273.1 552.5L274.9 553.8L276.7 555.1L278.7 556.4L280.6 557.8L282.7 559.2L284.8 560.6L287 562L289.2 563.4L291.5 564.8L291.5 556.4L290 555.4L288.5 554.4L287 553.4L285.6 552.5L284.3 551.5L282.9 550.6L281.7 549.7L280.4 548.8L279.2 548L278.1 547.1L277 546.3L275.9 545.5L274.9 544.8L274 544.1L273.1 543.4L272.3 542.8L271.5 542.2L270.8 541.6L270.2 541.1L269.6 540.7L269.1 540.3L268.7 539.9L268.4 539.7L268.3 539.6Z"/></clipPath><clipPath id="c78"><path d="M268.3 539.6L268.4 539.7L268.7 539.9L269.1 540.3L269.6 540.7L270.2 541.1L270.8 541.6L271.5 542.2L272.3 542.8L273.1 543.4L274 544.1L274.9 544.8L275.9 545.5L277 546.3L278.1 547.1L279.2 548L280.4 548.8L281.7 549.7L282.9 550.6L284.3 551.5L285.6 552.5L287 553.4L288.5 554.4L290 555.4L291.5 556.4L291.5 548L290.7 547.5L290 547L289.3 546.4L288.6 546L287.9 545.5L287.2 545L286.6 544.5L286 544.1L285.4 543.7L284.8 543.3L284.2 542.9L283.7 542.5L283.2 542.1L282.8 541.8L282.3 541.4L281.9 541.1L281.5 540.8L281.2 540.6L280.8 540.3L280.6 540.1L280.3 539.9L280.1 539.8L280 539.7L279.9 539.6Z"/></clipPath><clipPath id="c79"><path d="M279.9 539.6L280 539.7L280.1 539.8L280.3 539.9L280.6 540.1L280.8 540.3L281.2 540.6L281.5 540.8L281.9 541.1L282.3 541.4L282.8 541.8L283.2 542.1L283.7 542.5L284.2 542.9L284.8 543.3L285.4 543.7L286 544.1L286.6 544.5L287.2 545L287.9 545.5L288.6 546L289.3 546.4L290 547L290.7 547.5L291.5 548L291.5 539.6Z"/></clipPath><clipPath id="pc32"><rect x="343.2" y="514.5" width="308.3" height="230.3"/></clipPath><clipPath id="c80"><path d="M411 560.1L412.8 557L414.6 553.6L416.7 550.1L419.2 546.6L422.3 543.2L426.1 540.1L430.7 537.1L436.1 534.2L442 531.5L448.3 528.9L454.8 526.8L461.2 525.1L467.6 523.8L474.3 523.1L481.2 522.7L488.1 522.5L494.8 522.5L501.3 522.5L507.7 522.5L514.3 522.4L520.8 522.4L526.9 522.7L532.1 523.6L536.3 525.1L539.4 527.3L541.4 530.1L542.8 533.4L543.5 537L543.8 541L543.9 545.1L543.6 549.6L542.7 554.6L541.5 559.8L540 565.2L538.2 570.3L536.3 575.2L534.3 579.8L532.1 584.4L529.6 588.8L527 593L524.2 596.8L521.3 600.2L518.4 603.1L515.4 605.6L512.2 607.8L508.9 609.6L505.2 611.3L501.3 612.8L496.8 614.2L492 615.5L486.8 616.5L481.6 617.3L476.3 617.8L471.2 617.8L466.1 617.3L461 616.5L455.8 615.3L450.8 613.8L445.8 612.1L441.1 610.3L436.5 608.3L431.9 606L427.4 603.5L423.2 600.9L419.3 598.1L416 595.2L413.2 592.1L410.7 588.7L408.6 585.2L406.9 581.7L405.7 578.3L405 575.2L404.9 572.4L405.4 570L406.4 567.7L407.7 565.3L409.3 562.9Z"/></clipPath><clipPath id="c81"><path d="M411 560.1L412.8 557L414.6 553.6L416.7 550.1L419.2 546.6L422.3 543.2L426.1 540.1L430.7 537.1L436.1 534.2L442 531.5L448.3 528.9L454.8 526.8L461.2 525.1L467.6 523.8L474.3 523.1L481.2 522.7L488.1 522.5L494.8 522.5L501.3 522.5L507.7 522.5L514.3 522.4L520.8 522.4L526.9 522.7L532.1 523.6L536.3 525.1L539.4 527.3L541.4 530.1L542.8 533.4L543.5 537L543.8 541L543.9 545.1L543.6 549.6L542.7 554.6L541.5 559.8L540 565.2L538.2 570.3L536.3 575.2L534.3 579.8L532.1 584.4L529.6 588.8L527 593L524.2 596.8L521.3 600.2L518.4 603.1L515.4 605.6L512.2 607.8L508.9 609.6L505.2 611.3L501.3 612.8L496.8 614.2L492 615.5L486.8 616.5L481.6 617.3L476.3 617.8L471.2 617.8L466.1 617.3L461 616.5L455.8 615.3L450.8 613.8L445.8 612.1L441.1 610.3L436.5 608.3L431.9 606L427.4 603.5L423.2 600.9L419.3 598.1L416 595.2L413.2 592.1L410.7 588.7L408.6 585.2L406.9 581.7L405.7 578.3L405 575.2L404.9 572.4L405.4 570L406.4 567.7L407.7 565.3L409.3 562.9Z"/></clipPath><clipPath id="c82"><path d="M370.9 630.3L374.8 626.6L379.3 623.9L384.2 621.9L389.6 620.5L395.2 619.2L401 617.8L407.1 616.2L413.6 614.7L420.4 613.4L427.4 612.4L434.3 611.6L441.1 611.3L447.9 611.3L454.8 611.7L461.8 612.5L468.6 613.5L475.1 614.8L481.2 616.3L486.9 618L492.3 619.9L497.5 622L502.4 624.5L507 627.2L511.3 630.3L515.3 633.7L518.9 637.5L522.2 641.5L525.4 645.9L528.4 650.5L531.3 655.4L534.3 660.7L537.2 666.5L539.9 672.6L542.5 678.8L544.6 684.8L546.4 690.5L547.6 695.8L548.4 701L548.9 706.1L549.1 711.1L549 715.9L548.9 720.5L548.7 724.9L548.4 729.1L547.9 733.1L547.1 737.1L545.8 741.2L543.9 745.6L541.7 750.6L539.4 756L536.7 761.6L533 767L528 771.8L521.3 775.7L512.4 778.9L501.4 781.6L489.2 783.8L476.3 785.3L463.4 786L451.1 785.7L438.9 784.2L425.9 781.4L412.9 777.9L400.6 773.8L389.7 769.6L381 765.7L374.5 761.9L369.9 758L366.7 754.1L364.4 749.9L362.6 745.4L360.9 740.6L359.4 735.3L358.7 729.6L358.4 723.7L358.4 717.6L358.5 711.5L358.4 705.5L358.1 699.7L357.7 694L357.5 688.3L357.4 682.5L357.6 676.6L358.4 670.4L359.6 663.7L361 656.4L362.8 649L365 641.8L367.7 635.5Z"/></clipPath><clipPath id="c83"><path d="M370.9 630.3L374.8 626.6L379.3 623.9L384.2 621.9L389.6 620.5L395.2 619.2L401 617.8L407.1 616.2L413.6 614.7L420.4 613.4L427.4 612.4L434.3 611.6L441.1 611.3L447.9 611.3L454.8 611.7L461.8 612.5L468.6 613.5L475.1 614.8L481.2 616.3L486.9 618L492.3 619.9L497.5 622L502.4 624.5L507 627.2L511.3 630.3L515.3 633.7L518.9 637.5L522.2 641.5L525.4 645.9L528.4 650.5L531.3 655.4L534.3 660.7L537.2 666.5L539.9 672.6L542.5 678.8L544.6 684.8L546.4 690.5L547.6 695.8L548.4 701L548.9 706.1L549.1 711.1L549 715.9L548.9 720.5L548.7 724.9L548.4 729.1L547.9 733.1L547.1 737.1L545.8 741.2L543.9 745.6L541.7 750.6L539.4 756L536.7 761.6L533 767L528 771.8L521.3 775.7L512.4 778.9L501.4 781.6L489.2 783.8L476.3 785.3L463.4 786L451.1 785.7L438.9 784.2L425.9 781.4L412.9 777.9L400.6 773.8L389.7 769.6L381 765.7L374.5 761.9L369.9 758L366.7 754.1L364.4 749.9L362.6 745.4L360.9 740.6L359.4 735.3L358.7 729.6L358.4 723.7L358.4 717.6L358.5 711.5L358.4 705.5L358.1 699.7L357.7 694L357.5 688.3L357.4 682.5L357.6 676.6L358.4 670.4L359.6 663.7L361 656.4L362.8 649L365 641.8L367.7 635.5Z"/></clipPath><clipPath id="c84"><path d="M531.3 595.2L533.2 589.3L535.2 583.3L537.4 577.2L540 571.3L542.9 565.6L546.4 560.1L550.4 555L554.9 549.9L559.8 545.1L565.1 540.6L570.7 536.4L576.4 532.6L582.6 529.1L589.3 526L596.2 523.2L603.2 520.8L610 518.9L616.5 517.5L622.9 516.3L629.2 514.9L635.3 514.1L641.2 514.3L646.7 516.1L651.6 520L656.4 526.6L661.3 535.3L665.7 545.6L669.3 556.9L671.4 568.6L671.7 580.2L669.5 592.4L665.2 605.8L659.5 619.7L653.1 633.1L646.9 645.3L641.6 655.4L637.2 663.2L633.1 669.3L629.1 674.2L625.1 678.2L621 681.8L616.5 685.5L611.9 689.1L607.1 692.5L602.1 695.5L597 697.9L591.8 699.6L586.5 700.5L580.7 700.4L574.6 699.6L568.3 698L562.1 695.8L556.4 693.3L551.4 690.5L547 687.3L543.1 683.6L539.6 679.5L536.5 675.1L533.8 670.3L531.3 665.4L529.2 660.1L527.3 654.4L525.8 648.5L524.7 642.4L524 636.3L523.8 630.3L524.1 624.5L524.9 618.6L526.2 612.8L527.7 606.9L529.5 601.1Z"/></clipPath><clipPath id="c85"><path d="M531.3 595.2L533.2 589.3L535.2 583.3L537.4 577.2L540 571.3L542.9 565.6L546.4 560.1L550.4 555L554.9 549.9L559.8 545.1L565.1 540.6L570.7 536.4L576.4 532.6L582.6 529.1L589.3 526L596.2 523.2L603.2 520.8L610 518.9L616.5 517.5L622.9 516.3L629.2 514.9L635.3 514.1L641.2 514.3L646.7 516.1L651.6 520L656.4 526.6L661.3 535.3L665.7 545.6L669.3 556.9L671.4 568.6L671.7 580.2L669.5 592.4L665.2 605.8L659.5 619.7L653.1 633.1L646.9 645.3L641.6 655.4L637.2 663.2L633.1 669.3L629.1 674.2L625.1 678.2L621 681.8L616.5 685.5L611.9 689.1L607.1 692.5L602.1 695.5L597 697.9L591.8 699.6L586.5 700.5L580.7 700.4L574.6 699.6L568.3 698L562.1 695.8L556.4 693.3L551.4 690.5L547 687.3L543.1 683.6L539.6 679.5L536.5 675.1L533.8 670.3L531.3 665.4L529.2 660.1L527.3 654.4L525.8 648.5L524.7 642.4L524 636.3L523.8 630.3L524.1 624.5L524.9 618.6L526.2 612.8L527.7 606.9L529.5 601.1Z"/></clipPath><clipPath id="c86"><path d="M1766 686.6L1780.5 686.6L1780.5 707.5L1766 707.5Z"/></clipPath><clipPath id="c87"><path d="M1782.5 675.7L1797 675.7L1797 707.5L1782.5 707.5Z"/></clipPath><clipPath id="c88"><path d="M1799 632.3L1813.4 632.3L1813.4 707.5L1799 707.5Z"/></clipPath><clipPath id="c89"><path d="M1815.4 579.6L1829.8 579.6L1829.8 707.5L1815.4 707.5Z"/></clipPath><clipPath id="c90"><path d="M1831.8 555.3L1846.3 555.3L1846.3 707.5L1831.8 707.5Z"/></clipPath><clipPath id="c91"><path d="M1848.3 540.3L1862.8 540.3L1862.8 707.5L1848.3 707.5Z"/></clipPath><clipPath id="c92"><path d="M1864.8 576.2L1879.2 576.2L1879.2 707.5L1864.8 707.5Z"/></clipPath><clipPath id="c93"><path d="M1881.2 634.8L1895.6 634.8L1895.6 707.5L1881.2 707.5Z"/></clipPath><clipPath id="c94"><path d="M1897.6 665.7L1912.1 665.7L1912.1 707.5L1897.6 707.5Z"/></clipPath><clipPath id="c95"><path d="M1914.1 694.1L1928.5 694.1L1928.5 707.5L1914.1 707.5Z"/></clipPath><clipPath id="c96"><path d="M1930.5 701.6L1945 701.6L1945 707.5L1930.5 707.5Z"/></clipPath><clipPath id="c97"><path d="M1393.1 793.6L1517.9 793.6L1505.4 830.7L1487.8 870.8L1475.3 905.9L1435.2 936L1405.2 965.5L1393.1 965.5Z"/></clipPath><clipPath id="c98"><path d="M1517.9 793.6L1632.7 793.6L1632.7 855.8L1585.6 870.8L1535.5 890.9L1475.3 910.9L1475.3 905.9L1487.8 870.8L1505.4 830.7Z"/></clipPath><clipPath id="c99"><path d="M1475.3 908.4L1535.5 890.9L1585.6 870.8L1632.7 855.8L1632.7 965.5L1405.2 965.5L1435.2 936Z"/></clipPath><clipPath id="vor"><rect x="1393.1" y="793.7" width="239.5" height="171.9"/></clipPath></defs><rect x="8" y="11" width="309" height="231.5" fill="#fbf8f1"/><g clip-path="url(#c1)"><path d="M-45.4 103L195.4 -98.6M-45.3 107.4L197.1 -98.7M-38.2 108.2L201.1 -95.9M-39 111.1L204.7 -90.9M-34.7 117.7L206.2 -88M-33.9 119.9L209 -85.9M-26.9 123.2L213.1 -82.8M-24.5 125.4L218 -76M-24.9 131.6L217.6 -72.3M-19.5 132.8L222.1 -68.2M-19 135.5L225 -65.5M-15.7 139.7L229 -61.9M-11.9 141.9L232.5 -62.4M-10.3 148L231.8 -56.5M-7.8 147.4L233.6 -55.7M-4 153.7L240.1 -51.5M0.3 155.7L243.4 -47.6M0.8 161.4L245.1 -43.2M4 163.2L246.4 -41.1M10 168.4L250 -37.5M12.2 168.4L254.4 -35.3M11.8 174.1L257.5 -31.4M17 178.7L259.8 -24.8M20.8 179.9L263.1 -23.1M23.5 182.4L263.2 -21.5M25.5 187.9L266.6 -16.8M27.3 191.9L272.6 -14M29.3 193.8L275.6 -10M32.7 200.6L275.6 -2.5M36.5 202.7L279.5 -2.7M40.8 204.2L284.2 3.3M42.8 209.4L283.4 8.5M48 214.3L290.3 8.7M51.2 216.2L293.7 15M52.5 219.5L295.2 15.9M55 225.8L300.4 19.1M61.3 228.9L303.8 25.7M62.5 230.6L304.3 29M63.1 237.3L306.8 30.3M67.8 237.8L310 36.5M71.6 240.2L311.8 38M74.4 243.8L317.9 43.9M79.5 247.5L320.7 45.2M81.9 253.4L324.1 50.8M81.5 254.6L325.3 53M84.2 258.6L329.8 57.3M90.2 265.3L329.8 62.3M93.2 266.6L334.1 66.9M94.9 273L340.1 69.6M98.7 276.9L341.9 71.5M104.1 278.8L342.5 77.3M103.7 281.2L348 80M109.5 285.9L348.7 81.7M112 288.5L353.8 87.7M112.6 293.8L355.7 89M115.3 292.9L358.9 90.7M120.7 297.1L360.4 98.5M122.8 301.1L362.1 98.9M123.5 308.3L369.2 101.6M128.9 308.7L368.1 106.5M128.3 310.8L370 107.3M133.4 317.9L377.2 110.9M135.1 320.7L380.7 116.6M138.1 321.9L379.5 118.4M143.9 327.3L382.6 124.7M143.3 329.6L388.2 128.5M146.4 333.1L390.8 129.9M152.8 338.3L393.3 134.9M156.7 343L397.4 136.6" fill="none" stroke="#b22222" stroke-width="2.0"/></g><g clip-path="url(#c2)"><path d="M-48.3 119.8L183.8 -101.8M-38.9 126.5L188.3 -93M-36.5 131.7L193.9 -89.4M-29.5 134.6L201.1 -83.3M-24 144.2L203.8 -76.7M-18 148.2L208.3 -73.2M-10.9 152.7L213.1 -65.5M-5.9 158.7L222.3 -59.8M-1.7 168.6L227.2 -52.7M3.5 173.6L233.4 -48.9M12.1 179.3L236.9 -43.1M19 184.6L243.4 -35.3M24.5 190.7L252.3 -30.1M30.1 193.5L256.9 -23.9M35.7 203.2L259.2 -17.7M40.1 207.2L267.8 -13.8M44.3 212.6L275.4 -3.5M49.7 218.5L279.4 1.7M59.4 225L282.1 5.8M61.8 229.7L290.3 10.9M68.5 236.7L296.1 17.7M70.7 240.2L298.4 23.1M80.1 249.7L306.9 30.4M85.7 251.7L308.6 35.5M90.5 257.7L316.8 39.7M93.1 265.8L322.4 45.3M101.9 270.9L328.8 50.1M104.7 277.5L333.7 54.6M111.2 283.5L339.8 64.5M116.5 285.9L344.7 67.1M122.4 293L351.4 73.1M126.5 300.5L354 77M134.4 303.2L358.5 82.5M140.9 311.7L365.2 90.4M146.8 314.2L373.4 99M152.5 319.7L375.3 102.1M155.4 326.5L384.9 106.5M159.3 333.7L386.3 112.1M167.1 338.9L391.6 120.2" fill="none" stroke="#b22222" stroke-width="1.8"/></g><path d="M55.4 203.4L55.5 144.8L57.3 146.7L59.1 149.4L60.7 148.3L61.4 155.4L63.7 152.4L64.8 155.9L66.2 154.2L67.2 155.2L67.4 149.8L70.1 147.6L70.5 149.1L72.1 144.4L73.4 139.3L74.6 143L75.8 145.3L77.9 143.8L78.6 144.4L79.4 140.6L81 139.7L81.6 142.3L82.7 141L84.4 134.4L85.6 133.2L86.7 131.5L88.2 135.9L89.3 130.4L91.3 134.3L92.3 133.3L93.2 139.3L95.7 136.5L95.8 137.2L96.8 140.1L98.8 140L100.4 141.7L101 140.1L103.4 139.4L103.6 131.7L104.8 132L107.2 124.8L107.8 124.9L108.9 123.7L110 122.8L112.3 122.8L113.3 116.9L114.9 117.6L115.2 118.4L116.9 113.1L117.4 112.2L119.6 116.2L120.6 115.1L122.2 113.9L123.9 114L124 115.2L125.2 117.9L127.2 110.4L128.7 109.3L129.2 103.5L131.2 99L132.3 100.2L133.2 102.2L135.1 109L136 110.9L136.9 100.9L138.4 99.9L139.9 95L141.9 86.5L142.3 89L143.5 87.6L145 87.6L146 86.3L147.1 86.3L148.9 90.1L149.8 89.5L151.6 90.8L152.8 88L154.1 88.7L155.5 92.4L156.3 91.8L157.5 92.5L158.8 90.5L160.8 90.4L162 91.3L162.4 96.3L164.1 100.8L165.8 104.9L166.3 110.5L168.6 106.9L169.8 103.2L170.1 102.7L172.5 105.3L172.7 103.6L174.7 97.6L176.5 99.6L177.2 104.7L179 103.2L179.9 110.5L181.9 113.6L182.4 116.9L183 115.2L184.2 117.1L186.5 122L187.8 115L189.2 112.4L189.5 113.8L190.7 114.1L192.4 109.4L194.4 108.5L195.6 104L196.4 112.4L198.4 113.3L199.2 114.6L200.9 123.6L202 118L202.3 119.8L204.2 125.2L205.8 122.6L206.9 122.7L207.7 118L210 112.8L210.6 109.8L211.2 111.6L213.8 107.7L214.3 105.7L216.3 106.9L217.8 105.6L218.1 101.4L219.1 103L221.4 100L222.7 99.9L224.2 99L224.7 96.7L225.5 99.9L227.8 99L229.1 97.5L229.4 96.3L230.9 92.4L232.6 86.9L234.3 85.3L235.4 82.9L236.2 82.5L237.7 82.4L238.7 79L240.9 78.6L241.8 76.3L242.7 72.8L244.6 73.6L245.9 66.7L246.5 69.3L248 66.9L249.3 74.3L249.8 71.3L251.9 78.4L252.5 71.4L254.3 71.4L255 66.9L256.1 63.9L257.8 61.8L258.9 59.8L260.9 62.7L262.4 56.8L263.4 58.1L264.1 61.4L265.4 55.9L267.2 54.7L268.3 47.7L269.1 50.9L270.4 49.5L271.8 45.8L273.9 47.5L274.4 47L275.4 47.7L277.3 50.3L278.3 44.3L280.2 44.7L282.1 42.6L283.3 43.1L283.2 42.8L284.6 41L285.8 37.6L287.1 36.3L288.2 37.4L290.2 34.4L291 38.1L292.4 36.7L292.8 204.9ZM56.7 203.6L55.6 145.5L58.3 147L59.8 149.2L60.9 148.3L61.4 155.4L63 152.3L64.1 155.9L65.4 155.7L67.2 156L68.6 150.4L68.6 147L71 148.6L72 144.2L73.6 138L74.1 143.8L76.5 144.5L77.7 144.1L79 145.3L79.7 139.7L81.1 139.2L82.4 141.9L83.2 140.6L85.1 134.1L85.9 133.7L86.7 132L88.3 135.6L90.7 130.7L91.1 134.5L92.4 134.5L94.5 138.1L94.6 135.8L97 136.2L98.2 139.2L99.1 141.4L99.9 141L101.3 138.7L102.1 140.4L104.6 132.2L105.3 132L106.2 124.5L107.5 126.2L108.5 123.4L109.7 123.8L112.5 123.4L113.4 117.3L114.3 118.6L115.3 119.3L117.2 114.5L118.1 113.2L119.1 117.1L121.2 116.3L121.7 113.8L122.6 115.1L125.2 115.3L125.1 117.2L126.9 110.5L127.9 108.5L129.2 102.5L131.4 98.4L133 99.3L133.7 102L135.6 107.6L135.5 110.1L138.2 100.7L138.8 99.6L139.3 95.7L141.2 87.7L143.2 88.5L144.2 87.6L145.2 87.9L146.4 85.6L147.6 85.4L149.2 90L149.8 89.6L151.1 90.1L152.7 88.9L154.4 88.9L155.2 93.6L156.9 91.4L157.6 91.4L159.8 91L161 90.8L161.9 90.8L163.3 95.9L165 101.4L166.1 104.9L166.2 109.9L168.7 106.9L168.9 103.5L171.6 102.3L171.9 104.5L172.9 103.2L174.2 97.4L176.2 100.3L176.7 104L179.1 102.4L179.5 110.8L181.3 113.1L181.8 117L183.2 115.1L184.7 118.2L187 121L187.8 114L188.6 113.2L190.6 113.7L191.8 113L193.3 110.5L194.5 108.5L195.5 104.3L197 112L197.7 113.9L199.2 114.6L200 123.6L202.2 118.4L203 118.6L204.6 125L206 122.3L206.5 122.2L207.9 118.3L210.1 113L211.2 108.7L212.1 110.7L213.4 107.1L214.9 105.6L215.9 105.7L216.7 105L219 102.4L219 103.4L221.3 98.9L222.8 101.1L223.6 98.4L224.3 96.8L226.2 100.5L227.9 97.7L229.4 96.4L230.2 97.3L231.6 93.1L232.1 87.2L234.1 84.8L234.3 81.8L235.6 81.5L237.5 81.4L239.6 78L239.6 77.6L241.3 76.7L242.9 73.6L244.5 73.7L245 66.1L246.9 69.4L248 67.1L249.7 73.8L250.9 71.1L251.5 77.5L253.4 71.4L254.1 70.9L256 67.5L256.8 63.5L257.9 61.4L259.4 59.1L260.2 63.1L262.1 56.5L262.9 56.9L264.3 62L265.6 56.3L267.5 55.9L269.2 47.3L269.9 50.5L270.9 50L272 46.7L274.1 46.4L275 46.5L275.4 48.4L277.3 50.9L278.1 44L280.7 44.5L280.8 43.5L282.9 43.8L283.7 42.1L285.8 39.6L285.9 37.3L287.3 36.2L288.7 38.3L290.1 35.7L291.9 38.6L292.8 37.1L293.9 204.5Z" fill="none" stroke="#111" stroke-width="2.8" stroke-linejoin="round" stroke-linecap="round"/><path d="M53.6 204.2h6" stroke="#111" stroke-width="1.3"/><text x="48.6" y="208.7" text-anchor="end" font-size="15" fill="#111" stroke="#111" stroke-width="0.1"  textLength="7.3" lengthAdjust="spacingAndGlyphs">0</text><path d="M53.6 160.1h6" stroke="#111" stroke-width="1.3"/><text x="48.6" y="164.6" text-anchor="end" font-size="15" fill="#111" stroke="#111" stroke-width="0.1"  textLength="14.7" lengthAdjust="spacingAndGlyphs">50</text><path d="M53.6 116.1h6" stroke="#111" stroke-width="1.3"/><text x="48.6" y="120.6" text-anchor="end" font-size="15" fill="#111" stroke="#111" stroke-width="0.1"  textLength="22" lengthAdjust="spacingAndGlyphs">100</text><path d="M53.6 72.4h6" stroke="#111" stroke-width="1.3"/><text x="48.6" y="76.9" text-anchor="end" font-size="15" fill="#111" stroke="#111" stroke-width="0.1"  textLength="22" lengthAdjust="spacingAndGlyphs">150</text><path d="M89.4 205v6" stroke="#111" stroke-width="1.3"/><text x="89.4" y="230" text-anchor="middle" font-size="15" fill="#111" stroke="#111" stroke-width="0.1"  textLength="29.4" lengthAdjust="spacingAndGlyphs">2014</text><path d="M182.4 205v6" stroke="#111" stroke-width="1.3"/><text x="182.4" y="230" text-anchor="middle" font-size="15" fill="#111" stroke="#111" stroke-width="0.1"  textLength="29.4" lengthAdjust="spacingAndGlyphs">2016</text><path d="M275.4 205v6" stroke="#111" stroke-width="1.3"/><text x="275.4" y="230" text-anchor="middle" font-size="15" fill="#111" stroke="#111" stroke-width="0.1"  textLength="29.4" lengthAdjust="spacingAndGlyphs">2018</text><path d="M14.8 18.5L19 14.3L23.2 18.5Z" fill="#111"/><path d="M19 17.3V29.8" stroke="#111" stroke-width="2.2"/><text x="36" y="30.3" text-anchor="start" font-size="16.5" fill="#111" stroke="#111" stroke-width="0.1"  textLength="34.6" lengthAdjust="spacingAndGlyphs">Close</text><rect x="343.6" y="11" width="308.7" height="231.5" fill="#fbf8f1"/><path d="M389 205h6" stroke="#111" stroke-width="1.3"/><text x="384" y="209.5" text-anchor="end" font-size="15" fill="#111" stroke="#111" stroke-width="0.1"  textLength="7.3" lengthAdjust="spacingAndGlyphs">0</text><path d="M389 171.3h6" stroke="#111" stroke-width="1.3"/><text x="384" y="175.8" text-anchor="end" font-size="15" fill="#111" stroke="#111" stroke-width="0.1"  textLength="7.3" lengthAdjust="spacingAndGlyphs">2</text><path d="M389 137.6h6" stroke="#111" stroke-width="1.3"/><text x="384" y="142.1" text-anchor="end" font-size="15" fill="#111" stroke="#111" stroke-width="0.1"  textLength="7.3" lengthAdjust="spacingAndGlyphs">4</text><path d="M389 104h6" stroke="#111" stroke-width="1.3"/><text x="384" y="108.5" text-anchor="end" font-size="15" fill="#111" stroke="#111" stroke-width="0.1"  textLength="7.3" lengthAdjust="spacingAndGlyphs">6</text><path d="M389 70.3h6" stroke="#111" stroke-width="1.3"/><text x="384" y="74.8" text-anchor="end" font-size="15" fill="#111" stroke="#111" stroke-width="0.1"  textLength="7.3" lengthAdjust="spacingAndGlyphs">8</text><path d="M389 36.6h6" stroke="#111" stroke-width="1.3"/><text x="384" y="41.1" text-anchor="end" font-size="15" fill="#111" stroke="#111" stroke-width="0.1"  textLength="14.7" lengthAdjust="spacingAndGlyphs">10</text><path d="M394.9 205v6" stroke="#111" stroke-width="1.3"/><text x="394.9" y="230" text-anchor="middle" font-size="15" fill="#111" stroke="#111" stroke-width="0.1"  textLength="7.3" lengthAdjust="spacingAndGlyphs">0</text><path d="M510.8 205v6" stroke="#111" stroke-width="1.3"/><text x="510.8" y="230" text-anchor="middle" font-size="15" fill="#111" stroke="#111" stroke-width="0.1"  textLength="7.3" lengthAdjust="spacingAndGlyphs">5</text><path d="M626.6 205v6" stroke="#111" stroke-width="1.3"/><text x="626.6" y="230" text-anchor="middle" font-size="15" fill="#111" stroke="#111" stroke-width="0.1"  textLength="14.7" lengthAdjust="spacingAndGlyphs">10</text><path d="M393.9 205.5Q488 58 627.2 37.6" fill="none" stroke="#b22222" stroke-width="2.2"/><path d="M396.9 204Q492 62 627.4 39.6" fill="none" stroke="#b22222" stroke-width="2.2"/><path d="M627.5 37.1Q608 31 587.8 26.3M627.1 36.6Q607.4 31.3 587.2 26" fill="none" stroke="#b22222" stroke-width="2.2" stroke-linecap="round"/><path d="M626.8 36.8Q611.7 50.9 598.6 63.9M627.6 38.3Q612.5 52.7 599.2 64.9" fill="none" stroke="#b22222" stroke-width="2.2" stroke-linecap="round"/><rect x="678.7" y="11" width="309.2" height="231.5" fill="#fbf8f1"/><path d="M730 36.1Q730.6 120.7 730.1 205.6" fill="none" stroke="#ddd" stroke-width="2.6" stroke-linecap="round"/><path d="M752.8 36Q752.8 120.3 753.3 205.6" fill="none" stroke="#ddd" stroke-width="2.6" stroke-linecap="round"/><path d="M776 36.8Q775.9 120.3 776.2 204.6" fill="none" stroke="#ddd" stroke-width="2.6" stroke-linecap="round"/><path d="M798.8 37.3Q799.5 120.7 798.8 204.4" fill="none" stroke="#ddd" stroke-width="2.6" stroke-linecap="round"/><path d="M822.4 37Q821.6 121.4 822.4 205.3" fill="none" stroke="#ddd" stroke-width="2.6" stroke-linecap="round"/><path d="M846.7 36.3Q846 120.4 845.3 205.9" fill="none" stroke="#ddd" stroke-width="2.6" stroke-linecap="round"/><path d="M868.6 36Q869.3 119.7 868.8 204.8" fill="none" stroke="#ddd" stroke-width="2.6" stroke-linecap="round"/><path d="M892.9 36.2Q892.4 120 891.8 204.6" fill="none" stroke="#ddd" stroke-width="2.6" stroke-linecap="round"/><path d="M916.4 36.9Q916.3 121.2 916 204.7" fill="none" stroke="#ddd" stroke-width="2.6" stroke-linecap="round"/><path d="M939.1 35.9Q938.8 119.5 939.5 204.8" fill="none" stroke="#ddd" stroke-width="2.6" stroke-linecap="round"/><path d="M961.6 36Q961.8 120.1 961.9 205.1" fill="none" stroke="#ddd" stroke-width="2.6" stroke-linecap="round"/><path d="M730 204.8Q845.5 206 962 205.7" fill="none" stroke="#ddd" stroke-width="2.6" stroke-linecap="round"/><path d="M730.2 181.4Q846.6 181 961.6 180.8" fill="none" stroke="#ddd" stroke-width="2.6" stroke-linecap="round"/><path d="M730.4 156.9Q845.3 156 961.4 156.2" fill="none" stroke="#ddd" stroke-width="2.6" stroke-linecap="round"/><path d="M729.4 132.6Q846.8 133.7 962.9 133.2" fill="none" stroke="#ddd" stroke-width="2.6" stroke-linecap="round"/><path d="M730.6 109.2Q845.5 109.3 961.4 108.8" fill="none" stroke="#ddd" stroke-width="2.6" stroke-linecap="round"/><path d="M729.2 84.7Q846.2 84.7 962.9 84" fill="none" stroke="#ddd" stroke-width="2.6" stroke-linecap="round"/><path d="M730.4 60Q846.8 59.3 962.8 59.9" fill="none" stroke="#ddd" stroke-width="2.6" stroke-linecap="round"/><path d="M730.1 36.4Q845.1 37 961.5 37.1" fill="none" stroke="#ddd" stroke-width="2.6" stroke-linecap="round"/><path d="M724 205.1h6" stroke="#111" stroke-width="1.3"/><text x="719" y="209.6" text-anchor="end" font-size="15" fill="#111" stroke="#111" stroke-width="0.1"  textLength="7.3" lengthAdjust="spacingAndGlyphs">0</text><path d="M724 181h6" stroke="#111" stroke-width="1.3"/><text x="719" y="185.5" text-anchor="end" font-size="15" fill="#111" stroke="#111" stroke-width="0.1"  textLength="7.3" lengthAdjust="spacingAndGlyphs">1</text><path d="M724 157h6" stroke="#111" stroke-width="1.3"/><text x="719" y="161.5" text-anchor="end" font-size="15" fill="#111" stroke="#111" stroke-width="0.1"  textLength="7.3" lengthAdjust="spacingAndGlyphs">2</text><path d="M724 132.9h6" stroke="#111" stroke-width="1.3"/><text x="719" y="137.4" text-anchor="end" font-size="15" fill="#111" stroke="#111" stroke-width="0.1"  textLength="7.3" lengthAdjust="spacingAndGlyphs">3</text><path d="M724 108.8h6" stroke="#111" stroke-width="1.3"/><text x="719" y="113.3" text-anchor="end" font-size="15" fill="#111" stroke="#111" stroke-width="0.1"  textLength="7.3" lengthAdjust="spacingAndGlyphs">4</text><path d="M724 84.8h6" stroke="#111" stroke-width="1.3"/><text x="719" y="89.2" text-anchor="end" font-size="15" fill="#111" stroke="#111" stroke-width="0.1"  textLength="7.3" lengthAdjust="spacingAndGlyphs">5</text><path d="M724 60.7h6" stroke="#111" stroke-width="1.3"/><text x="719" y="65.2" text-anchor="end" font-size="15" fill="#111" stroke="#111" stroke-width="0.1"  textLength="7.3" lengthAdjust="spacingAndGlyphs">6</text><path d="M724 36.6h6" stroke="#111" stroke-width="1.3"/><text x="719" y="41.1" text-anchor="end" font-size="15" fill="#111" stroke="#111" stroke-width="0.1"  textLength="7.3" lengthAdjust="spacingAndGlyphs">7</text><path d="M729.9 205v6" stroke="#111" stroke-width="1.3"/><text x="729.9" y="230" text-anchor="middle" font-size="15" fill="#111" stroke="#111" stroke-width="0.1"  textLength="7.3" lengthAdjust="spacingAndGlyphs">0</text><path d="M753.1 205v6" stroke="#111" stroke-width="1.3"/><text x="753.1" y="230" text-anchor="middle" font-size="15" fill="#111" stroke="#111" stroke-width="0.1"  textLength="7.3" lengthAdjust="spacingAndGlyphs">1</text><path d="M776.3 205v6" stroke="#111" stroke-width="1.3"/><text x="776.3" y="230" text-anchor="middle" font-size="15" fill="#111" stroke="#111" stroke-width="0.1"  textLength="7.3" lengthAdjust="spacingAndGlyphs">2</text><path d="M799.6 205v6" stroke="#111" stroke-width="1.3"/><text x="799.6" y="230" text-anchor="middle" font-size="15" fill="#111" stroke="#111" stroke-width="0.1"  textLength="7.3" lengthAdjust="spacingAndGlyphs">3</text><path d="M822.8 205v6" stroke="#111" stroke-width="1.3"/><text x="822.8" y="230" text-anchor="middle" font-size="15" fill="#111" stroke="#111" stroke-width="0.1"  textLength="7.3" lengthAdjust="spacingAndGlyphs">4</text><path d="M846 205v6" stroke="#111" stroke-width="1.3"/><text x="846" y="230" text-anchor="middle" font-size="15" fill="#111" stroke="#111" stroke-width="0.1"  textLength="7.3" lengthAdjust="spacingAndGlyphs">5</text><path d="M869.2 205v6" stroke="#111" stroke-width="1.3"/><text x="869.2" y="230" text-anchor="middle" font-size="15" fill="#111" stroke="#111" stroke-width="0.1"  textLength="7.3" lengthAdjust="spacingAndGlyphs">6</text><path d="M892.4 205v6" stroke="#111" stroke-width="1.3"/><text x="892.4" y="230" text-anchor="middle" font-size="15" fill="#111" stroke="#111" stroke-width="0.1"  textLength="7.3" lengthAdjust="spacingAndGlyphs">7</text><path d="M915.7 205v6" stroke="#111" stroke-width="1.3"/><text x="915.7" y="230" text-anchor="middle" font-size="15" fill="#111" stroke="#111" stroke-width="0.1"  textLength="7.3" lengthAdjust="spacingAndGlyphs">8</text><path d="M938.9 205v6" stroke="#111" stroke-width="1.3"/><text x="938.9" y="230" text-anchor="middle" font-size="15" fill="#111" stroke="#111" stroke-width="0.1"  textLength="7.3" lengthAdjust="spacingAndGlyphs">9</text><path d="M962.1 205v6" stroke="#111" stroke-width="1.3"/><text x="962.1" y="230" text-anchor="middle" font-size="15" fill="#111" stroke="#111" stroke-width="0.1"  textLength="14.7" lengthAdjust="spacingAndGlyphs">10</text><rect x="1008" y="12.7" width="309.6" height="231.9" fill="#fbf8f1"/><path d="M1054 207.6h6" stroke="#111" stroke-width="1.3"/><text x="1049" y="212.1" text-anchor="end" font-size="15" fill="#111" stroke="#111" stroke-width="0.1"  textLength="7.3" lengthAdjust="spacingAndGlyphs">0</text><path d="M1054 173.7h6" stroke="#111" stroke-width="1.3"/><text x="1049" y="178.2" text-anchor="end" font-size="15" fill="#111" stroke="#111" stroke-width="0.1"  textLength="7.3" lengthAdjust="spacingAndGlyphs">2</text><path d="M1054 139.9h6" stroke="#111" stroke-width="1.3"/><text x="1049" y="144.4" text-anchor="end" font-size="15" fill="#111" stroke="#111" stroke-width="0.1"  textLength="7.3" lengthAdjust="spacingAndGlyphs">4</text><path d="M1054 106h6" stroke="#111" stroke-width="1.3"/><text x="1049" y="110.5" text-anchor="end" font-size="15" fill="#111" stroke="#111" stroke-width="0.1"  textLength="7.3" lengthAdjust="spacingAndGlyphs">6</text><path d="M1054 72.2h6" stroke="#111" stroke-width="1.3"/><text x="1049" y="76.7" text-anchor="end" font-size="15" fill="#111" stroke="#111" stroke-width="0.1"  textLength="7.3" lengthAdjust="spacingAndGlyphs">8</text><path d="M1054 38.3h6" stroke="#111" stroke-width="1.3"/><text x="1049" y="42.8" text-anchor="end" font-size="15" fill="#111" stroke="#111" stroke-width="0.1"  textLength="14.7" lengthAdjust="spacingAndGlyphs">10</text><path d="M1059.9 207v6" stroke="#111" stroke-width="1.3"/><text x="1059.9" y="232" text-anchor="middle" font-size="15" fill="#111" stroke="#111" stroke-width="0.1"  textLength="7.3" lengthAdjust="spacingAndGlyphs">0</text><path d="M1175.8 207v6" stroke="#111" stroke-width="1.3"/><text x="1175.8" y="232" text-anchor="middle" font-size="15" fill="#111" stroke="#111" stroke-width="0.1"  textLength="7.3" lengthAdjust="spacingAndGlyphs">5</text><path d="M1291.6 207v6" stroke="#111" stroke-width="1.3"/><text x="1291.6" y="232" text-anchor="middle" font-size="15" fill="#111" stroke="#111" stroke-width="0.1"  textLength="14.7" lengthAdjust="spacingAndGlyphs">10</text><g clip-path="url(#pc4)"><g clip-path="url(#c4)"><path d="M1072.2 182.4L1095.2 140.8M1076.3 185.5L1098.1 143.3M1079.9 185.9L1101.2 143.7M1081.8 189L1104.1 145.7M1084.7 189L1107.4 146.8M1087.7 190.6L1110 149.1M1092.6 193.8L1114.5 151.7M1095.7 194.6L1116.9 151.9M1097.9 195.4L1119.8 155M1101.2 199L1123.1 155M1104.7 200.7L1126.5 158.7M1108 200.8L1129.6 159.2M1110.7 203.2L1133.1 161.5M1072.2 182.8L1095.9 140.2M1075.9 184.6L1098.4 142.4M1079.6 187.1L1100.5 143.5M1082.1 188.4L1104.5 145.5M1084.7 188.8L1107.2 148.3M1087.7 192.2L1111.5 149.5M1091.4 193.6L1114 150.9M1093.7 195.5L1117.4 151.7M1098 197.3L1120.2 154.4M1099.9 198.3L1123 155.5M1104.7 199.3L1125.7 158.3M1107.9 200.8L1129.7 159.7M1109.8 202.7L1132.7 161.1M1114 203.7L1136.4 162.2" fill="none" stroke="#b22222" stroke-width="1.7"/></g><path d="M1119.2 174.2L1118.5 177.6L1113.6 183.5L1109.9 184.3L1104.7 186.4L1098.3 186.5L1095.2 182.8L1090.9 178.5L1090.1 173.5L1091.2 168L1095.6 163.3L1098.3 160.3L1104.9 158.3L1110.8 160.3L1115.7 161.7L1119.2 166.6ZM1118.9 173.2L1118.5 177.3L1113.4 183.8L1109.4 186.6L1105.4 185.6L1099.9 185.7L1095.1 184.5L1090.2 179.6L1091.4 172.1L1092.8 166.9L1094.3 162.7L1100.1 159.8L1104.4 159.6L1108.8 159.1L1115.7 164L1118.9 167.8Z" fill="none" stroke="#111" stroke-width="2.6" stroke-linejoin="round" stroke-linecap="round"/><g clip-path="url(#c5)"><path d="M1120.5 57.8L1159 -15.2M1122.7 60L1162.4 -14.4M1126.1 60.9L1164.8 -13M1128.2 62.4L1167.6 -11.8M1132.8 65L1170.9 -8.9M1135.6 66.4L1174.6 -7.9M1137.6 67.4L1177.2 -5.9M1141 69.4L1181.5 -4.6M1144.4 72.4L1184.3 -2.5M1147.1 74.3L1187.7 -1.6M1150.9 74.9L1190.6 1.1M1153.1 77.3L1193.4 3.1M1157.7 79.6L1198 3.3M1160.6 80.3L1200.8 6.8M1165.1 81.8L1204 8M1167.4 84.7L1206.6 9.4M1171.7 85.4L1211.3 11.3M1173.8 87.9L1214.1 13.3M1178.3 89.5L1217.8 15.1M1180.9 90L1219.9 15.5M1184 92.6L1223.7 18.1M1187.9 94.6L1226.2 20.1M1190.4 96.6L1230.1 22.3M1193.6 96.9L1232.9 22.4M1119.6 58.5L1159.6 -16.5M1123 60.8L1162.4 -14M1125.5 61.6L1165.2 -12.5M1129.7 62.6L1168.8 -11.1M1131.5 65.7L1171.4 -9.7M1134.4 67.6L1173.7 -7.6M1139.1 69.1L1178.4 -5.1M1140.3 69.2L1179.6 -5.3M1144.4 71.4L1183.9 -2.8M1148.1 72.5L1187.3 -1M1149.6 75.4L1190.3 -0.2M1153.4 75.2L1193 1.2M1155.3 78.8L1196.2 3.8M1158.2 79.8L1198.4 5.8M1162.4 82.1L1202.8 6.3M1166.6 82.5L1204.9 9.1M1169.6 85.4L1207.8 11.2M1172.9 85.6L1211.4 12.4M1175.1 89.4L1216 13.5M1178.9 90.3L1218.3 15.8M1183.1 92.3L1222.2 17.6M1185.2 94.3L1225.5 19.8M1188.5 95.3L1228.2 21.3M1193.2 98.3L1232.4 23.7" fill="none" stroke="#b22222" stroke-width="1.7"/></g><path d="M1202.6 41L1200.5 52.2L1194.7 59.3L1186.1 63.5L1176.7 66.5L1165.5 64.7L1155.5 59.4L1149.5 52.5L1148 41.1L1152.7 31.7L1157.3 22.5L1165.2 17.9L1175.9 14.8L1186.6 14.9L1194.7 20.1L1203 31.3ZM1204.7 40.7L1200.3 51.3L1193.9 59.2L1186 65.3L1175.5 68.5L1165 64.7L1155.9 59.5L1151.4 51L1148.4 41.7L1150.4 30.9L1158.2 21.1L1166.5 16.4L1175.8 13.3L1186.8 15.4L1195.2 20.5L1201.9 30.3Z" fill="none" stroke="#111" stroke-width="2.6" stroke-linejoin="round" stroke-linecap="round"/><g clip-path="url(#c6)"><path d="M1253.3 169.1L1281.4 117.2M1257.7 169.6L1285.7 118.3M1259.3 171.4L1287 120.5M1262.7 173.8L1291.5 121.4M1267.8 175.2L1294.7 123.4M1270.7 176.8L1298.9 124.2M1274.3 179.2L1302 126M1276 180L1304.8 127.9M1279.5 182.5L1306.7 130.1M1283.6 184.8L1310.6 131.5M1286.1 185.3L1313.4 134.8M1288.9 188.4L1317.8 136M1293.3 188.8L1321.4 138M1296.4 190.4L1324.5 138.4M1299.2 192.7L1327.2 141.2M1302.4 194.9L1331.5 142.2M1253.4 167.2L1279.9 116.3M1256.1 169.5L1283.2 118.1M1258.2 170.7L1286.5 118M1262.1 173.5L1288.9 121.7M1266 175.3L1292.6 121.6M1267.4 176.9L1295.1 123.7M1272.6 178.1L1299.7 126.4M1274.3 179.8L1301.6 126.9M1278.4 180.9L1306.8 130.3M1280.8 183.9L1310.1 130.7M1285.3 184.9L1313.6 133.6M1288 186.9L1317.1 135.3M1292.5 188.3L1319.1 135.9M1293.9 189.9L1321.5 137.9M1297.9 191.6L1325.3 139.1M1301.8 192.7L1328.2 140.8" fill="none" stroke="#b22222" stroke-width="1.7"/></g><path d="M1309.8 154.3L1308.9 162.4L1304.6 167.6L1299.3 172.4L1292.7 174.1L1284.2 172.5L1279 169L1274.4 161.7L1272.7 156L1274.8 148.1L1280.1 141.6L1286.2 139.3L1292.6 138.4L1298.8 138.2L1305.7 140.9L1310.1 148.2ZM1308.8 156.4L1308 160.9L1304.8 167.9L1298.7 170.1L1290.9 172.6L1283.7 170.8L1279.7 169.5L1274.5 162.5L1272 156.2L1273.8 149.2L1280.5 143.5L1285.3 139.1L1290.9 138L1298.9 138.9L1304.7 141L1309.8 147.9Z" fill="none" stroke="#111" stroke-width="2.6" stroke-linejoin="round" stroke-linecap="round"/></g><path d="M1014.4 22.2L1018.6 18L1022.8 22.2Z" fill="#111"/><path d="M1018.6 21V33.5" stroke="#111" stroke-width="2.2"/><text x="1041.5" y="30" text-anchor="middle" font-size="15" fill="#111" stroke="#111" stroke-width="0.1"  textLength="6.6" lengthAdjust="spacingAndGlyphs">y</text><text x="1278" y="240" text-anchor="middle" font-size="15" fill="#111" stroke="#111" stroke-width="0.1"  textLength="6.6" lengthAdjust="spacingAndGlyphs">x</text><path d="M1307.8 230.8L1312 235L1307.8 239.2Z" fill="#111"/><path d="M1296 235H1309" stroke="#111" stroke-width="2"/><rect x="1343.6" y="12.7" width="308.7" height="231.9" fill="#fbf8f1"/><path d="M1352.9 21.9L1642.2 22.6L1641.5 233.5L1353.4 233.5ZM1352.7 21.4L1641.4 23.2L1641.1 233.9L1353.6 234.4Z" fill="none" stroke="#b22222" stroke-width="3.2" stroke-linejoin="round" stroke-linecap="round"/><rect x="1678.7" y="12.7" width="308.3" height="231.9" fill="#fbf8f1"/><g clip-path="url(#c7)"><path d="M1625.8 -11.9L1975.4 -80.4M1626.2 -7.2L1974.1 -75.8M1627.1 -3.3L1974.4 -72.2M1625.1 3L1978.2 -64.5M1627.9 6.7L1979.5 -59.2M1627.8 13.2L1977.8 -55.7M1630.8 19.6L1980.8 -52.3M1629.4 24.4L1981.3 -46M1632.6 29.6L1980.5 -40.6M1633.1 31.4L1984.6 -35.2M1635.7 38.5L1983 -29.3M1632.9 42.6L1985.1 -25.2M1634.1 49.9L1984.9 -18.5M1635.8 56.6L1986 -15.3M1636.5 59.4L1988 -8.5M1640.2 64.1L1989.5 -3.6M1639.7 69L1990.9 -1.2M1639.5 73.6L1990.7 4.8M1642.6 78.4L1991.4 10.5M1640.5 81.6L1991.8 14.3M1644.8 85.4L1992.9 18.1M1642.7 94L1994 23.1M1647.3 97.3L1994.6 29.9M1646.9 101.6L1995.8 35.9M1645.6 108.7L1995.8 40.3M1646.8 112.2L1998.3 45.5M1648.8 118.1L2001.5 49.5M1649.6 123.8L2002.3 58M1653 127.4L2001.8 61.2M1651.9 134.2L2004.5 68.7M1651.5 140.9L2001.9 72.2M1656.1 143.1L2005.2 76.2M1655.5 150.6L2005.7 79.9M1655.6 156.4L2007 88.3M1655.8 158.9L2005.9 93.2M1656.6 162.4L2009.4 98.2M1661.3 168L2009 103.5M1662 174.8L2009 107.3M1660.7 178.8L2011.9 110.8M1664.1 184.5L2013.5 115.2M1664.5 186.7L2014.4 119.2M1664 193.5L2015.3 125.2M1666.2 198.4L2015.9 129.2M1664.4 204.1L2015.5 136.1M1668 211L2017.6 143.3M1666.4 214.3L2017.2 145.8M1668.8 220.4L2020.5 153.9M1671.3 227.5L2021.8 157.2M1673.3 231.8L2021.6 162.9M1674.1 239.1L2021.5 167.5M1675.4 244.2L2024.4 173.9M1674.7 247.5L2024.8 177.9M1675.5 252.8L2024 185.4M1675 258.2L2026.5 190.5M1679 262.5L2028.7 196.5M1680.3 267.9L2028.9 200.1M1679.3 273.4L2029 204.1M1681 279.4L2029.2 207.8M1680.1 281.1L2031.9 214.2M1680.2 285.9L2032.3 217.3M1684.8 290.4L2034.7 224.9M1685.4 295.2L2034.1 227.5M1683.5 301.7L2035.9 232.2M1686.7 305.4L2034.8 240.6M1688.5 310.3L2038.5 243M1689.4 318.4L2037.8 247.6M1687.3 323.3L2041.1 254.9M1690.4 326.1L2041.1 257.1M1690.8 329.3L2041.7 263.9M1690.4 336.6L2040.5 267.8" fill="none" stroke="#a3cde4" stroke-width="2.7"/></g><path d="M1925 206.8L1925.3 205.9L1927.9 204.9L1932.8 202.2L1937.9 200L1942.8 197.1L1948.5 192.2L1955.8 188.7L1960.5 184.2L1965.3 179.4L1970.5 173.2L1973.7 168.4L1977.6 163.9L1981.2 158.2L1983.5 151.3L1984.7 146.4L1987.1 139.4L1987.9 134L1987 126.9L1987.4 121.3L1985.5 116.5L1984.9 110.7L1983.1 103.9L1980.9 98.7L1977.8 91.7L1973.8 87.7L1969.6 82.3L1965.1 77.2L1960.5 72.4L1954.8 66.5L1950.2 62.9L1943.2 59.1L1938.4 56L1933.3 52.7L1928.5 50.6L1925.8 50.3L1925.4 49L1742.3 49.3L1742 50.4L1738.6 51.3L1735.3 53.4L1729.8 55.5L1723.3 58.8L1718 63.9L1712.9 67.7L1706.9 71.7L1702 76.5L1697.6 81.8L1693.5 87.5L1689.9 93L1686.9 97.5L1684.2 104.4L1682 109.3L1681.7 115.8L1679.5 122.2L1679.6 127L1680.5 133.7L1681.1 140.2L1682.1 146.1L1684.7 151.2L1686.6 157.4L1689.9 163.6L1693.7 169.1L1697.8 174.1L1702 178.1L1706.2 183.3L1712.1 189.2L1717.6 192.5L1722.7 196.3L1728.8 199.2L1735 202.9L1739.5 204.7L1742 205.5L1743.2 206ZM1924.5 206.4L1925.2 206.5L1928.6 203.8L1932.9 202.3L1937.7 199.9L1942.8 196.1L1950 192.9L1955.3 187.8L1960.3 184.4L1965.4 179.4L1970.4 173.8L1973.1 168.5L1977.1 163L1980.3 156.9L1983.7 151.6L1985.6 145.8L1986 139.4L1987.8 134L1986.8 127.9L1986.7 122.5L1986.4 116L1984 110.5L1983.8 104.5L1980 98.3L1977.3 91.8L1974.1 86.5L1969.7 81.8L1966.1 77.4L1960.9 72.4L1954.2 66.9L1949.8 62.7L1943.3 58.7L1937.3 55.8L1932.7 52.5L1929.3 51.7L1926.5 50.6L1924.3 49.5L1743.2 50.3L1740.7 49.5L1738.4 51.3L1734.7 52.7L1729.2 56.5L1724 59.8L1718 63.6L1711.7 67.5L1706.1 71.8L1702.3 77.5L1697.5 80.9L1693.7 86.5L1690.4 93L1686.3 97.8L1685.2 104.1L1681.9 109.3L1680.6 116L1679.7 121.9L1680.6 127.9L1680.3 133.6L1680.6 139L1681.9 145.5L1684.6 151.9L1686.2 156.7L1689.5 163.1L1693.7 168.4L1697.9 173.1L1702.7 179L1707.2 183.9L1711.8 188.7L1718.2 192.5L1724.1 196.8L1728.9 199.7L1735.2 202.8L1738.2 205L1741.4 205.2L1743 206.4Z" fill="none" stroke="#4a80b8" stroke-width="2.4" stroke-linejoin="round" stroke-linecap="round"/><g clip-path="url(#c8)"><path d="M1699.6 53L1799.8 29.7M1700.4 56.2L1799.7 32M1700 59.9L1799.2 35.3M1700.5 65.3L1802.5 41.3M1701.8 69.7L1802.8 44M1702.3 70.3L1803.7 49.1M1704.8 74.4L1805.5 52.4M1705.5 78.6L1805.9 57M1704.6 82.5L1805.6 59.4M1705.9 86.6L1807 65.3M1706.9 91.1L1807.5 66.6M1706.8 96.3L1808.3 70.5M1708.3 97.6L1810.3 74.6M1708.5 102.6L1810 80.6M1711.7 106.4L1810.8 84.9M1713.1 110.7L1812.9 86.9M1713.4 113.4L1813.3 92M1711.9 119.5L1814.8 94.7M1714.7 121.1L1815 100.3M1716 125L1816 101.8M1716.4 129.9L1815.5 106.8M1716.1 133.1L1817.5 112.1M1717.1 138.8L1818.3 115.1M1717.7 142.7L1820.9 119.1M1719.8 144.7L1818.9 121.5M1720.7 147.5L1820.3 124.6" fill="none" stroke="#b22222" stroke-width="1.9"/></g><g clip-path="url(#c9)"><path d="M1692.6 53.8L1792.4 21.4M1696.9 63.4L1795.3 31M1699.1 69.6L1795.1 35.9M1703.2 80.1L1800.4 44.9M1706.5 88.8L1802 54.3M1707.6 94.9L1805.6 62.6M1709.4 103.4L1809.3 70.3M1712.4 113.4L1812.3 77.6M1715 121.3L1814.3 87M1719.9 129.6L1817.2 97.6M1723 139.8L1818.7 103.6M1725.3 145L1821.2 113.5" fill="none" stroke="#b22222" stroke-width="1.6"/></g><path d="M1727.4 63L1731.5 58.9L1739.7 56L1746.2 55.5L1751.6 56.1L1759.4 56L1768.5 57.2L1777.4 57.2L1773.1 63L1772.7 65.5L1776.2 67.2L1778.2 69.9L1780.3 67.2L1784.1 63L1784.4 61.5L1787.7 62.3L1791.8 63L1792.1 66.4L1794.8 69.9L1790.3 74.6L1785.1 77.1L1781.3 79.6L1777.8 81.2L1775 84.9L1774.4 87L1769.2 91.4L1768.6 97L1767.5 98.2L1767 93.6L1765.7 92.5L1761.5 93.1L1758.3 93.1L1755.1 95.9L1753.2 101.6L1754.5 105.7L1757.9 105.1L1761.8 102.2L1759.8 108.6L1763.9 109.8L1762.9 114.6L1765.7 117L1767.8 117.6L1765.6 118.8L1761.5 115.8L1759.4 111.6L1756.2 110.4L1753.1 108.6L1746.5 104L1746.5 100.5L1743.6 99.3L1743.7 93.6L1742.5 91.4L1741.7 92.5L1741.2 89.8L1739.3 87L1739.7 81.7L1743.5 75.6L1745.2 72.7L1744.2 70.8L1743.8 67.2L1743.5 63L1738.8 62.6L1734.8 63.9L1728.9 65.5L1723.6 67.2L1729.1 64.3L1727.4 63Z" fill="none" stroke="#111" stroke-width="2.5" stroke-linejoin="round"/><g clip-path="url(#c10)"><path d="M1784.9 43L1825.2 33.9M1787.3 47.1L1824.6 37M1786.6 51.9L1827 40.8M1787.3 53.4L1825.4 46.1M1790.1 58.3L1827.4 48.3M1789.7 62.9L1827.4 54.2M1789.9 64.8L1829.5 55.8M1792.6 69.9L1828.7 60.4M1792.2 74.5L1829.5 65.7M1792.4 77.1L1832.9 68.2" fill="none" stroke="#b22222" stroke-width="1.9"/></g><g clip-path="url(#c11)"><path d="M1785.2 50.4L1823.6 38.6M1788.2 57.2L1827.3 46.5M1793 68.2L1829.1 55.7M1792.6 75.4L1830 61" fill="none" stroke="#b22222" stroke-width="1.6"/></g><path d="M1794.5 51.9L1802.4 50.5L1818.1 50.2L1823.1 50.8L1822.6 53.2L1820.8 56L1814.7 57.2L1809.2 59.3L1805.9 63L1802.1 61.5L1801.5 58.6L1801.7 56L1801.7 53.2L1797.2 52.5L1794.5 51.9Z" fill="none" stroke="#111" stroke-width="2.5" stroke-linejoin="round"/><path d="M1782.5 54.8L1788.9 54L1793.5 55.4L1796.5 57.9L1793 60.7L1787.8 59.3L1784.1 56.3L1782.5 54.8Z" fill="#b22222" fill-opacity="0.6"/><path d="M1782.5 54.8L1788.9 54L1793.5 55.4L1796.5 57.9L1793 60.7L1787.8 59.3L1784.1 56.3L1782.5 54.8Z" fill="none" stroke="#111" stroke-width="2.5" stroke-linejoin="round"/><path d="M1766.6 54.8L1774.6 54.2L1781.8 52.7L1791.4 51.2L1799.8 50.5L1786.8 50.5L1774.7 51.9L1767.1 52.7L1766.6 54.8Z" fill="#b22222" fill-opacity="0.6"/><path d="M1766.6 54.8L1774.6 54.2L1781.8 52.7L1791.4 51.2L1799.8 50.5L1786.8 50.5L1774.7 51.9L1767.1 52.7L1766.6 54.8Z" fill="none" stroke="#111" stroke-width="2.5" stroke-linejoin="round"/><g clip-path="url(#c12)"><path d="M1727.9 118.2L1818.4 94.9M1729.9 122L1818.6 99M1731.3 125.3L1819.3 104.8M1732.9 129L1820.5 108.6M1733 133.2L1823.7 111.9M1732.6 137.1L1824.9 115.1M1733.2 140.1L1825.1 121M1733.8 145.1L1825 124.4M1737.1 147.8L1826.9 127.4M1738.3 154.3L1828.4 133.5M1738.5 156.5L1829.7 134.9M1739.4 160L1830.6 141.1M1740.2 163.8L1831 143.7M1740.8 169L1831.8 149M1742.1 171.7L1832.8 152.4M1741.5 177L1833.3 155.9M1742.8 179.5L1832.3 160.7M1746.1 184.3L1836.3 165.5M1746.1 188.7L1837.2 168M1746.8 193.9L1837.6 172.4M1747.2 195L1836.7 177M1746.6 200.7L1839.1 179.9M1750 204.6L1840.9 184.6" fill="none" stroke="#b22222" stroke-width="1.9"/></g><g clip-path="url(#c13)"><path d="M1726.5 127.9L1816.7 97.6M1731.7 135.8L1819.5 108.6M1733.2 146.1L1819.9 115.7M1736.8 156.6L1822.9 126.5M1740.4 164L1826.7 133.1M1741.1 170.6L1829.7 141.9M1744.4 180.9L1834.1 149M1746.7 189.6L1835.9 158.4M1749.9 195.6L1836.9 166.2M1752.2 203.2L1841.7 172.6" fill="none" stroke="#b22222" stroke-width="1.6"/></g><path d="M1768.2 117.6L1772.7 113.4L1781.1 115.2L1784.2 120L1789.3 121.8L1790.9 126.6L1796 130.8L1803.8 133.8L1803.9 138.6L1800.8 144.6L1800.7 149.3L1799.8 154L1794.6 158.6L1792.4 165.3L1788.3 168L1789.5 171.8L1786.4 172.8L1785 176L1784.9 180L1786.4 181.9L1785.4 184.8L1786.5 186.6L1785.7 188.4L1782.3 185.7L1779.5 181L1779 176L1777 170.7L1776.5 163.1L1775.2 149.3L1770.6 145.8L1764.6 135L1765.3 130.2L1765.3 126.6L1768.2 117.6Z" fill="none" stroke="#111" stroke-width="2.5" stroke-linejoin="round"/><g clip-path="url(#c14)"><path d="M1796.4 37.1L1940 5.3M1798.4 39.7L1940.2 7.9M1800 45.1L1942.9 12.3M1800.9 47.5L1943.9 16.5M1800.6 51.7L1945.3 20.8M1803.8 56.6L1944.7 23.8M1802.7 60.3L1947.1 26.8M1805.7 62.8L1947.3 30.3M1805.3 68.7L1947.4 34.7M1804.7 72.4L1949.5 38M1805.6 77.9L1949 43.6M1806.7 80.4L1950.9 48M1809.3 84.8L1951.2 50.4M1808.5 88.1L1953.2 53.9M1811 92.8L1953.1 61.1M1812.6 95.6L1954.6 64.4M1812.8 99.4L1956.1 69M1813.2 104.2L1955.4 70.9M1813.6 106.9L1958.8 74.9M1814.5 111L1956.5 78.3M1815.7 116L1958.1 83.8M1818 120.6L1959.9 86.2M1816.9 123L1960.5 91.3M1817.4 127.9L1961.2 95M1819 130.1L1961.5 98M1820.9 136.8L1965 103.3M1822.7 137.5L1962.7 107.3M1821.8 142.6L1965.3 110.6M1824.5 147.7L1965 112.5M1825.2 152.1L1966.6 118.7M1824 154.7L1969.3 122.3M1824.7 159.4L1968.2 126.8M1825.9 161.2L1969 129.9M1827.2 165.1L1970.6 132.1M1830.3 169.8L1973.2 138.8M1828.8 176.6L1972.8 143.4" fill="none" stroke="#b22222" stroke-width="1.9"/></g><g clip-path="url(#c15)"><path d="M1795 51.2L1934.9 4.1M1797.3 60.1L1937.6 11.6M1799.1 67.8L1939.9 22.1M1804.1 77.2L1941.6 31M1805.6 86L1945.8 38.5M1809.7 92L1948.9 45.1M1811.7 102L1951.1 53.6M1815.4 109.3L1953 61.9M1819 118.4L1954.7 69.1M1819.2 127.3L1957.9 77.8M1822 135.8L1962.2 87.4M1826.7 143.3L1965.8 95.9M1827.9 150.4L1968.6 104M1832.3 158.5L1971.7 110.2M1834.5 166.8L1972.9 119.1M1837.3 175.9L1975.3 128.3" fill="none" stroke="#b22222" stroke-width="1.6"/></g><path d="M1826.9 78.6L1827.7 77.6L1832.5 78.1L1832.9 75.6L1830.4 73.7L1832.5 72.2L1835 70.8L1836.4 70.4L1837 69L1839.4 68.1L1838.9 65.5L1840.5 65.1L1840.7 67.7L1843.1 68.1L1846.5 67.7L1847.8 65.5L1849.1 63.4L1852.3 63L1848 62.6L1847 60.7L1848.8 58.9L1846.4 59.3L1844.3 61.5L1845.2 63.4L1844.3 66.4L1842 66.4L1840.7 63.9L1837.2 63.9L1836.8 61.5L1839.8 60L1842 57.9L1843.6 56.6L1846.3 55.7L1849.7 55.4L1852.8 56.3L1858.1 57.9L1856.9 59.6L1860.2 58.6L1859.5 56.9L1864.8 56.9L1868.6 56.3L1873.4 56.6L1872 54.5L1874.8 54.5L1877.5 56.6L1877.9 54.8L1879.9 54.5L1882 53.7L1887.9 52.5L1889.6 52.1L1896.4 53.7L1901 54.2L1908.2 55.4L1912.7 54.5L1919.2 55.1L1926.3 56L1932.1 56L1939 56.6L1943.6 59.3L1943 59.6L1943.8 62.3L1939.1 63L1941.6 65.5L1942.6 70.8L1936.5 65.1L1935 61.9L1933.8 63.4L1926.1 63.4L1926.9 68.1L1930.5 69L1933.8 73.7L1933.5 78.1L1930.4 79.1L1933.9 86.5L1932.2 87L1930.4 84.3L1928.2 81.7L1926.1 82.8L1923.5 82.8L1927.6 84.9L1926.7 87L1930.2 91.4L1931.1 94.8L1929.5 99.9L1925 102.8L1922.8 102.2L1921.8 105.1L1925.7 113.4L1922.8 117.6L1920.9 115.2L1918.3 111.6L1917.7 117L1919.6 120L1922 126L1919.8 124.2L1916.9 118.2L1916.2 108.6L1912.6 107.5L1909.6 102.2L1907 101.6L1905.3 104L1900.7 109.2L1901.4 115.8L1899.5 118.2L1898 115.2L1893.5 102.8L1891.2 101L1888.3 98.4L1884.2 98.2L1880 97.6L1879.3 95.9L1875.5 94.8L1872.7 92.5L1872 93.1L1874.1 96.5L1875.8 99.3L1879.1 97L1882.6 101L1879.6 107.5L1877.1 108.1L1869.9 112.8L1869.2 108.6L1865.8 102.2L1861.8 94.8L1861.5 95.3L1859.6 92.5L1860.6 90.9L1861.3 87L1861.4 85.1L1856.8 85.7L1853.9 83.8L1853.2 81.2L1851 81.2L1852 83.8L1850.6 84.9L1848.3 81.2L1847.8 79.6L1845 77.6L1842.7 76.1L1844.1 79.6L1845.7 81.7L1847.6 81.7L1845.9 83.8L1845.4 83.3L1842.6 79.6L1841 77.6L1838.8 78.1L1835.8 79.1L1836.2 80.2L1833.6 82.8L1832.1 85.1L1828.9 85.9L1826.7 84.9L1826.9 78.6Z" fill="none" stroke="#111" stroke-width="2.5" stroke-linejoin="round"/><g clip-path="url(#c16)"><path d="M1783.4 87.5L1888.4 62.3M1781.8 89.2L1890.5 66.5M1784.9 95.5L1891.3 69.5M1785.3 98.7L1892.5 73.5M1785.5 102.9L1891.7 76.3M1786.8 105.9L1895.2 81M1786.9 109.5L1893.9 86.1M1789.6 112.2L1894.6 88.3M1790.1 117.8L1897 91.6M1791.1 120.8L1896.7 97.1M1790.2 125.8L1896.8 99.1M1791.3 127.5L1898.8 105.4M1793 134.4L1898.8 107.1M1793.5 136.3L1899.7 112.1M1794.9 141.4L1901.4 116M1794.7 145.6L1903.2 118M1797.5 148.1L1903 122.5M1798.7 152.6L1906 127.3M1799.5 155.5L1904.3 130.3M1799.8 162.6L1908.2 134.9M1799.1 163.6L1907.4 141.4M1800.1 168.9L1909.1 144.8M1801.6 170.9L1909.2 148.2M1801.7 177L1910.8 151M1803.2 178.8L1912.5 155.2M1806.2 182.9L1911.9 158.7M1806.6 188.1L1912.2 162M1808.2 191.5L1914.4 168.5" fill="none" stroke="#b22222" stroke-width="1.9"/></g><g clip-path="url(#c17)"><path d="M1778.8 97L1882.6 60.4M1781.7 106.5L1886.9 71M1786.5 116.7L1889.7 79.8M1788.6 121.3L1893.1 86.7M1791.8 132.2L1895 95.1M1794.4 141.3L1899.3 105.1M1799.2 149.3L1901.2 114.4M1801 154.9L1903.8 120.5M1802.4 165.2L1907.5 130.8M1805.3 172.8L1911.3 136.6M1808.4 183.4L1913.9 145.8M1812.7 189.3L1916.5 153.3" fill="none" stroke="#b22222" stroke-width="1.6"/></g><path d="M1819.5 102.8L1820.5 99.3L1823.1 95.3L1826 92.5L1828.9 86.2L1832 87L1835.9 85.1L1841.3 84.7L1842.2 88.7L1845.5 90.3L1849.5 91.4L1849.4 89.8L1853.4 90.3L1859 91.2L1861.3 93.6L1863.8 98.2L1865.7 106.3L1869.9 112.8L1876.7 113.4L1876.8 115.8L1874.5 121.8L1869.5 129L1867.3 133.8L1867.5 140.4L1867.6 145.8L1862.6 151.6L1862.7 156.3L1860 158.6L1860.1 162L1855.6 166.4L1849.2 168.6L1847.8 166.4L1845.7 159.7L1843.6 149.3L1845 142.2L1843.8 135L1841.3 129L1841.7 123.6L1838.7 122.4L1835.3 120.2L1829.3 121.8L1827.2 122.4L1823.4 119.4L1820.9 114.6L1819.3 110.4L1819.5 102.8Z" fill="none" stroke="#111" stroke-width="2.5" stroke-linejoin="round"/><path d="M1869.5 157.4L1871.9 157.4L1876 146.4L1875.4 142.2L1870.4 147.5L1869.5 154L1869.5 157.4Z" fill="#b22222" fill-opacity="0.6"/><path d="M1869.5 157.4L1871.9 157.4L1876 146.4L1875.4 142.2L1870.4 147.5L1869.5 154L1869.5 157.4Z" fill="none" stroke="#111" stroke-width="2.5" stroke-linejoin="round"/><g clip-path="url(#c18)"><path d="M1910.2 138.9L1963.6 126.2M1909.4 143.5L1962.5 131M1911.6 147.2L1964 136.4M1912 150.5L1966.3 137.5M1910.4 153.9L1964.8 141.9M1912.4 156.5L1967.7 147.1M1914.9 161.1L1967.5 148.8M1913.3 165.9L1969.8 153.4M1916.5 168.4L1970 157.4M1917.7 174.5L1969.8 161.8M1918.3 176.7L1971.4 165.1M1917.7 182.9L1972.4 168.6M1917.7 186L1973.7 172.2M1919.1 189.7L1973.6 176.8" fill="none" stroke="#b22222" stroke-width="1.9"/></g><g clip-path="url(#c19)"><path d="M1905.4 144.3L1959.7 124.2M1908.5 151.6L1962.1 133.3M1912.9 159L1964.9 140.6M1914.6 168.9L1966.8 149.1M1920.6 179.2L1971.4 160.1M1922.4 185.8L1973.6 168.5" fill="none" stroke="#b22222" stroke-width="1.6"/></g><path d="M1927.6 154L1925.8 158.6L1923.7 167.5L1925.6 168.6L1930 167.5L1935.9 164.7L1939.1 168L1940.9 169.1L1940.9 171.8L1944.8 172.8L1948.9 171.3L1954.7 165.3L1958.3 158.6L1957.2 154L1955 150.5L1955.8 145.8L1954.3 140.4L1953 143.4L1951.9 148.1L1950.1 148.7L1947.9 145.8L1949.4 142.2L1944.4 141.6L1942.1 145.2L1939.7 144.6L1935.4 149.3L1927.6 154Z" fill="none" stroke="#111" stroke-width="2.5" stroke-linejoin="round"/><g clip-path="url(#c20)"><path d="M1823.8 64.5L1839.6 60.9M1822.6 68.3L1841 62.9M1823.2 69.6L1839.9 67.3M1823.7 73.1L1841.4 72.1M1824.9 79L1842.5 73" fill="none" stroke="#b22222" stroke-width="1.9"/></g><g clip-path="url(#c21)"><path d="M1825 69.9L1841 66.2" fill="none" stroke="#b22222" stroke-width="1.6"/></g><path d="M1829.7 71.8L1834.6 70.8L1834.8 69L1833.3 67.7L1832.3 66.4L1832.3 64.9L1831.6 64.2L1830.3 64.2L1829.6 65.9L1830.5 67.7L1831.5 68.6L1830.5 69.9L1829.7 71.8Z" fill="none" stroke="#111" stroke-width="2.5" stroke-linejoin="round"/><path d="M1826.6 70.4L1829.4 69.9L1829.5 67.7L1828.2 67.1L1826.8 68.1L1826.6 70.4Z" fill="#b22222" fill-opacity="0.6"/><path d="M1826.6 70.4L1829.4 69.9L1829.5 67.7L1828.2 67.1L1826.8 68.1L1826.6 70.4Z" fill="none" stroke="#111" stroke-width="2.5" stroke-linejoin="round"/><path d="M1819 58.9L1822.8 58.2L1825 59.3L1822.4 60.3L1820 60.1L1819 58.9Z" fill="#b22222" fill-opacity="0.6"/><path d="M1819 58.9L1822.8 58.2L1825 59.3L1822.4 60.3L1820 60.1L1819 58.9Z" fill="none" stroke="#111" stroke-width="2.5" stroke-linejoin="round"/><path d="M1937 91.4L1936.2 88.1L1939.1 87.6L1942.4 86.5L1941.6 83.8L1940 80.7L1939.6 81.7L1940.4 84.3L1939 85.9L1937 86.5L1937 91.4Z" fill="#b22222" fill-opacity="0.6"/><path d="M1937 91.4L1936.2 88.1L1939.1 87.6L1942.4 86.5L1941.6 83.8L1940 80.7L1939.6 81.7L1940.4 84.3L1939 85.9L1937 86.5L1937 91.4Z" fill="none" stroke="#111" stroke-width="2.5" stroke-linejoin="round"/><path d="M1938.2 79.6L1940.5 79.6L1940.5 77.6L1936.8 76.1L1938.2 79.6Z" fill="#b22222" fill-opacity="0.6"/><path d="M1938.2 79.6L1940.5 79.6L1940.5 77.6L1936.8 76.1L1938.2 79.6Z" fill="none" stroke="#111" stroke-width="2.5" stroke-linejoin="round"/><path d="M1914.6 121.2L1917.2 123.6L1922.4 129.6L1923.9 135L1919.8 131.4L1914.6 121.2Z" fill="#b22222" fill-opacity="0.6"/><path d="M1914.6 121.2L1917.2 123.6L1922.4 129.6L1923.9 135L1919.8 131.4L1914.6 121.2Z" fill="none" stroke="#111" stroke-width="2.5" stroke-linejoin="round"/><path d="M1926.7 126L1930 124.2L1933.2 119.4L1935.1 121.8L1934.4 126.6L1932.6 132.6L1928.3 131.4L1926.7 126Z" fill="#b22222" fill-opacity="0.6"/><path d="M1926.7 126L1930 124.2L1933.2 119.4L1935.1 121.8L1934.4 126.6L1932.6 132.6L1928.3 131.4L1926.7 126Z" fill="none" stroke="#111" stroke-width="2.5" stroke-linejoin="round"/><path d="M1923.4 136L1931 137.2L1930.9 138.3L1923.8 136.8Z" fill="#b22222" fill-opacity="0.6"/><path d="M1923.4 136L1931 137.2L1930.9 138.3L1923.8 136.8Z" fill="none" stroke="#111" stroke-width="2.5" stroke-linejoin="round"/><path d="M1935.2 129L1936.9 126L1940.3 126L1936.9 129L1938.4 134.4L1935.9 134.4L1935.2 129Z" fill="#b22222" fill-opacity="0.6"/><path d="M1935.2 129L1936.9 126L1940.3 126L1936.9 129L1938.4 134.4L1935.9 134.4L1935.2 129Z" fill="none" stroke="#111" stroke-width="2.5" stroke-linejoin="round"/><path d="M1945.5 129L1950.6 129.6L1954 130.8L1958.1 133.8L1961.1 140.4L1958.2 139.8L1955 138.6L1950.9 137.4L1948.8 132.6L1945.5 129Z" fill="#b22222" fill-opacity="0.6"/><path d="M1945.5 129L1950.6 129.6L1954 130.8L1958.1 133.8L1961.1 140.4L1958.2 139.8L1955 138.6L1950.9 137.4L1948.8 132.6L1945.5 129Z" fill="none" stroke="#111" stroke-width="2.5" stroke-linejoin="round"/><path d="M1933.6 105.7L1935.2 105.7L1936.3 111L1938.2 112.2L1940.8 119.4L1937.4 119.4L1934.6 111L1933.6 105.7Z" fill="#b22222" fill-opacity="0.6"/><path d="M1933.6 105.7L1935.2 105.7L1936.3 111L1938.2 112.2L1940.8 119.4L1937.4 119.4L1934.6 111L1933.6 105.7Z" fill="none" stroke="#111" stroke-width="2.5" stroke-linejoin="round"/><path d="M1901.5 116.4L1903.4 119.4L1902.6 120.6L1901.7 119.4L1901.5 116.4Z" fill="#b22222" fill-opacity="0.6"/><path d="M1901.5 116.4L1903.4 119.4L1902.6 120.6L1901.7 119.4L1901.5 116.4Z" fill="none" stroke="#111" stroke-width="2.5" stroke-linejoin="round"/><path d="M1968.4 168L1970.8 171.3L1965.6 175.4L1963.4 174.9L1968.4 168Z" fill="#b22222" fill-opacity="0.6"/><path d="M1968.4 168L1970.8 171.3L1965.6 175.4L1963.4 174.9L1968.4 168Z" fill="none" stroke="#111" stroke-width="2.5" stroke-linejoin="round"/><path d="M1963.8 174.4L1964.1 175.4L1959.2 178.5L1954.8 180.2L1957.4 178L1963.8 174.4Z" fill="#b22222" fill-opacity="0.6"/><path d="M1963.8 174.4L1964.1 175.4L1959.2 178.5L1954.8 180.2L1957.4 178L1963.8 174.4Z" fill="none" stroke="#111" stroke-width="2.5" stroke-linejoin="round"/><path d="M1763.5 101.6L1766.3 100.2L1770.1 101.6L1772.2 104L1768.9 104L1763.5 101.6Z" fill="#b22222" fill-opacity="0.6"/><path d="M1763.5 101.6L1766.3 100.2L1770.1 101.6L1772.2 104L1768.9 104L1763.5 101.6Z" fill="none" stroke="#111" stroke-width="2.5" stroke-linejoin="round"/><path d="M1772 105.7L1776.3 104.5L1776.5 106.1L1771.9 106.3Z" fill="#b22222" fill-opacity="0.6"/><path d="M1772 105.7L1776.3 104.5L1776.5 106.1L1771.9 106.3Z" fill="none" stroke="#111" stroke-width="2.5" stroke-linejoin="round"/><path d="M1932.5 101.6L1932.7 98.2L1933.5 99.3L1932.9 101.6Z" fill="#b22222" fill-opacity="0.6"/><path d="M1932.5 101.6L1932.7 98.2L1933.5 99.3L1932.9 101.6Z" fill="none" stroke="#111" stroke-width="2.5" stroke-linejoin="round"/><path d="M1856.8 51.2L1865 50.8L1867.9 51.2L1860.1 51.3L1856.8 51.2Z" fill="#b22222" fill-opacity="0.6"/><path d="M1856.8 51.2L1865 50.8L1867.9 51.2L1860.1 51.3L1856.8 51.2Z" fill="none" stroke="#111" stroke-width="2.5" stroke-linejoin="round"/><path d="M1838.9 51.5L1844.1 51L1848.4 51.2L1843.3 52.3L1838.9 51.5Z" fill="#b22222" fill-opacity="0.6"/><path d="M1838.9 51.5L1844.1 51L1848.4 51.2L1843.3 52.3L1838.9 51.5Z" fill="none" stroke="#111" stroke-width="2.5" stroke-linejoin="round"/><path d="M1863.4 55.4L1864.6 53.5L1870.3 52.3L1866.6 53.2L1864.8 54.8L1863.4 55.4Z" fill="#b22222" fill-opacity="0.6"/><path d="M1863.4 55.4L1864.6 53.5L1870.3 52.3L1866.6 53.2L1864.8 54.8L1863.4 55.4Z" fill="none" stroke="#111" stroke-width="2.5" stroke-linejoin="round"/><rect x="7" y="259.7" width="309" height="231.3" fill="#fbf8f1"/><g clip-path="url(#c22)"><path d="M17.2 303L175.7 316M18.3 307.3L176 320M17.9 311.4L175.3 325.4M15.6 320.5L172.3 334.2M18.2 324.2L171.2 338.5M17.8 328L171 344.2M15.1 334L171.9 349.4M15.4 340.4L172.2 352.6M15.3 345.2L170.9 356.2M12.9 348.3L170.6 360.8M15.1 352.7L168.8 368.5M14.2 357.6L169.3 374M12.3 363.4L170.6 376.2M13.1 370.2L168.8 382.2M12.7 372.5L167.8 386.2M12.6 378.8L166.7 391M11.1 383.2L169.5 396.3M12.4 390.9L165.5 402M11.6 395.3L167.7 408.5M11.5 400.2L167.3 412.5M9.1 407.2L165.9 418.2M7.8 410.9L163.4 424.2M8.2 416.3L165.7 427.9M6.9 420.8L164.1 432.5M5.7 424.1L162.3 439.1M6.8 427L165.5 444.4M5.5 432.8L161.6 447.2M8.3 440.1L160.9 452.8M6.2 442.9L163.6 458.7M6.8 448.9L161.7 463M4.2 452.5L160.3 466.2" fill="none" stroke="#b22222" stroke-width="2.0"/></g><g clip-path="url(#c23)"><path d="M8.1 308.7L166.2 300.1M9.2 317.5L164.5 309M9.9 324.1L164.1 313.8M10.6 330.4L163.8 324.5M10.6 339.4L167.5 330.8M8.9 345.4L165.7 338.8M11.6 351.6L166.8 343.5M9.5 359.2L166.9 352.4M10.3 367.2L165.9 360.1M12.5 371.5L166.6 366.1M11.5 379.8L170 370.5M10.7 386.1L169.2 378M12.5 394.9L168.5 385M12.4 401.3L170.6 392.1M11.8 410.2L171.4 401.6M12.6 416.5L169.2 409.1M14.5 421.1L172.2 415.5M14.8 429.5L168.8 419.7M14.8 436.8L169.6 428.2M15 443.9L170.6 432.2M14 448.8L172.4 439.4M16.5 455.9L172.3 447.6M15.9 460.6L172.8 450.7" fill="none" stroke="#b22222" stroke-width="1.8"/></g><path d="M63.4 311.6L115.8 312.2L116.4 451.3L64.6 451.9ZM64.4 314.1L115.3 311.8L116.9 453.2L65.9 452.8Z" fill="none" stroke="#111" stroke-width="2.4" stroke-linejoin="round" stroke-linecap="round"/><g clip-path="url(#c24)"><path d="M99.5 355.1L202.8 364.7M99 360.7L203.2 368.6M96.2 364.8L202.4 372.7M97.8 367.9L203.4 378.5M98.6 373.2L201.4 382.6M95.6 378.5L204.1 389M95.2 385.4L202.3 393.2M96.8 389.5L203.2 398M95.8 395.3L201.5 403.9M94 399L201 410.5M95.8 404.7L198.6 414M93.7 409.5L200.6 417.3M94.1 414.6L199 424.2M93.5 420.1L197 427M94.2 424.9L198.5 434.1M93.3 428.2L196.7 437.7M89.6 432.8L196.5 442.4M89.4 436.6L199.1 448.3M90.4 440.8L195.5 450.7M88.3 448.9L197.4 456.5M88.2 452.1L194.8 462.7M90.4 458.1L196 466.5" fill="none" stroke="#b22222" stroke-width="2.0"/></g><g clip-path="url(#c25)"><path d="M90.9 361.6L198.8 356.6M92.1 366.5L197.8 363.3M92.1 376.5L198 370.4M90.7 383.3L200.2 374.6M93.5 387.6L200.6 382.4M91.8 395.3L198.8 388.7M92.1 402.7L199.6 396M92.9 408.7L201.5 404.6M92.7 415.5L199.5 409.2M93.5 425.6L201.9 419.2M95.2 430.4L200.2 426.9M97 438.8L203.3 432.3M95.6 442.5L202.4 437.1M96.2 451.3L204 444.8M94.1 455.6L200.5 453.8M96.4 462.3L201.6 458.3" fill="none" stroke="#b22222" stroke-width="1.8"/></g><path d="M119.9 368.3L174.1 370L173.1 452.2L119.7 453.5ZM121.9 368.9L172 368.2L171.6 453.9L121.8 453.8Z" fill="none" stroke="#111" stroke-width="2.4" stroke-linejoin="round" stroke-linecap="round"/><g clip-path="url(#c26)"><path d="M117.3 273.1L300.7 286.7M116.7 274.9L301.3 290.1M118 280.8L302.7 295.2M118.8 283.8L302.7 303M118.4 289L298.9 305.5M117.7 295.8L300.3 311.2M116.2 300.8L300.3 317.9M116.1 306.3L300.6 320.9M115.6 309.7L297.6 326.4M116.2 313.5L299.9 330.9M114.6 319.9L298.8 337.5M115.2 327.3L295.3 343.3M111.9 330.9L296.9 348.3M112.3 337.3L297.2 351.2M112.6 341.8L296.9 357.3M110.3 345.2L294.3 362.5M111.9 351.8L295.8 367.6M111.6 355.5L296.3 372.2M109.2 359.3L294 377.8M111 365.9L295.1 381.1M111.6 371.8L291.8 386.3M107.9 376.9L294.5 391.2M108.4 380.2L292.1 394.1M110.4 385.9L293.5 402.2M109.2 390.2L292.9 404.6M106 395L290.9 410.7M105.8 400.8L290 415.4M108.6 405.5L289 420.9M105.7 409.6L290.5 424.9M105.3 416.6L287.9 432.4M106.9 422.3L289.1 435.8M106.6 427.5L288.7 440.8M103.1 431.1L289.5 448.5M103.2 433.3L288.2 451.7M105.5 438.8L288.6 456.3M102.5 447L288.8 459.3M101.1 451.2L286.8 467.5" fill="none" stroke="#b22222" stroke-width="2.0"/></g><g clip-path="url(#c27)"><path d="M106.1 284.3L291.6 273.7M107.8 288.7L289.2 282.3M107.6 297.3L291.2 289M107 302.3L288.9 294.9M108.3 310.2L292.7 302.1M107.8 314.5L290.2 305.4M108.3 323.6L290.6 315.7M109.8 333.2L293.3 321.5M107.9 338.7L293 329.1M108.1 347.2L291.9 337.3M108.7 351.1L295.3 343.4M110.7 359.3L293.3 347.9M109.7 367.9L295.1 358.5M111.9 373.8L295.8 362.8M112.3 380.2L295.3 373M112.3 389.2L294.1 378.4M110.5 394.6L296 386.8M113 402.1L295.8 393.2M113.8 411.9L295.4 402.3M114.6 419.9L298.3 409.6M112.8 424.4L295.5 414.5M112.8 434.9L298.7 422.3M112.2 438.5L299.7 428.4M115.3 446.1L299.9 434.6M115.9 454.5L297 443.6M117 461.7L298.5 451" fill="none" stroke="#b22222" stroke-width="1.8"/></g><path d="M176 286.7L231.3 286.9L230.7 452.3L175.3 452.3ZM175.6 283.7L230 285.8L229.3 452.6L176.2 451.9Z" fill="none" stroke="#111" stroke-width="2.4" stroke-linejoin="round" stroke-linecap="round"/><g clip-path="url(#c28)"><path d="M218.2 379.9L300.5 387.6M215.5 387.6L300.4 393.8M217 390.4L301.5 399.4M217.1 395.5L300.9 403.3M215.1 398.9L301 407.4M214.6 407L300.3 411.2M214.1 411.6L299.7 419.1M212.5 416.5L299.1 422.4M211.7 419.6L299 427.1M212.1 425L296 432.2M211 429L295.7 435.5M212.8 434.7L294.6 440.9M213.4 436.8L295.7 445.4M213.5 441.4L293.8 451.8M210.8 446.3L295.7 455.8M209.5 452.9L292.8 460.3M211.4 456.1L293.6 464.3" fill="none" stroke="#b22222" stroke-width="2.0"/></g><g clip-path="url(#c29)"><path d="M210.3 387.9L297.1 383.1M212.7 393.4L297.9 389.3M211.8 403.2L296.3 398.9M213.5 412L296.7 406.3M214.8 418.7L297 413.6M213.6 427.5L295.9 419.7M212.2 435L297.7 427.9M216.3 439.4L298.3 433.6M216.5 447.7L299.4 440.8M215.2 452.5L298.2 447.9M216.1 460.7L299.1 457.4M214.5 466.7L299.1 462.7" fill="none" stroke="#b22222" stroke-width="1.8"/></g><path d="M229.4 397.9L279.9 397.8L282.8 453L228.2 452.1ZM229.4 397.5L281.8 395.5L281 453.3L231 453.8Z" fill="none" stroke="#111" stroke-width="2.4" stroke-linejoin="round" stroke-linecap="round"/><path d="M52 452.6h6" stroke="#111" stroke-width="1.3"/><text x="47" y="457.1" text-anchor="end" font-size="15" fill="#111" stroke="#111" stroke-width="0.1"  textLength="7.3" lengthAdjust="spacingAndGlyphs">0</text><path d="M52 382.8h6" stroke="#111" stroke-width="1.3"/><text x="47" y="387.3" text-anchor="end" font-size="15" fill="#111" stroke="#111" stroke-width="0.1"  textLength="7.3" lengthAdjust="spacingAndGlyphs">5</text><path d="M52 313h6" stroke="#111" stroke-width="1.3"/><text x="47" y="317.5" text-anchor="end" font-size="15" fill="#111" stroke="#111" stroke-width="0.1"  textLength="14.7" lengthAdjust="spacingAndGlyphs">10</text><path d="M91.4 455v6" stroke="#111" stroke-width="1.3"/><text x="91.4" y="478" text-anchor="middle" font-size="15" fill="#111" stroke="#111" stroke-width="0.1"  textLength="7.3" lengthAdjust="spacingAndGlyphs">a</text><path d="M146.5 455v6" stroke="#111" stroke-width="1.3"/><text x="146.5" y="478" text-anchor="middle" font-size="15" fill="#111" stroke="#111" stroke-width="0.1"  textLength="7.3" lengthAdjust="spacingAndGlyphs">b</text><path d="M202 455v6" stroke="#111" stroke-width="1.3"/><text x="202" y="478" text-anchor="middle" font-size="15" fill="#111" stroke="#111" stroke-width="0.1"  textLength="6.6" lengthAdjust="spacingAndGlyphs">c</text><path d="M257.7 455v6" stroke="#111" stroke-width="1.3"/><text x="257.7" y="478" text-anchor="middle" font-size="15" fill="#111" stroke="#111" stroke-width="0.1"  textLength="7.3" lengthAdjust="spacingAndGlyphs">d</text><text x="174.2" y="487" text-anchor="middle" font-size="15" fill="#111" stroke="#111" stroke-width="0.1"  textLength="6.6" lengthAdjust="spacingAndGlyphs">x</text><path d="M13.8 265.2L18 261L22.2 265.2Z" fill="#111"/><path d="M18 264V276.5" stroke="#111" stroke-width="2.2"/><text x="35" y="277" text-anchor="start" font-size="15" fill="#111" stroke="#111" stroke-width="0.1"  textLength="6.6" lengthAdjust="spacingAndGlyphs">y</text><rect x="342" y="259.7" width="309" height="231.3" fill="#fbf8f1"/><path d="M387 420.5h6" stroke="#111" stroke-width="1.3"/><text x="382" y="425" text-anchor="end" font-size="15" fill="#111" stroke="#111" stroke-width="0.1"  textLength="14.7" lengthAdjust="spacingAndGlyphs">50</text><path d="M387 386.6h6" stroke="#111" stroke-width="1.3"/><text x="382" y="391.1" text-anchor="end" font-size="15" fill="#111" stroke="#111" stroke-width="0.1"  textLength="22" lengthAdjust="spacingAndGlyphs">100</text><path d="M387 353h6" stroke="#111" stroke-width="1.3"/><text x="382" y="357.5" text-anchor="end" font-size="15" fill="#111" stroke="#111" stroke-width="0.1"  textLength="22" lengthAdjust="spacingAndGlyphs">150</text><path d="M387 319.2h6" stroke="#111" stroke-width="1.3"/><text x="382" y="323.7" text-anchor="end" font-size="15" fill="#111" stroke="#111" stroke-width="0.1"  textLength="22" lengthAdjust="spacingAndGlyphs">200</text><path d="M387 285.3h6" stroke="#111" stroke-width="1.3"/><text x="382" y="289.8" text-anchor="end" font-size="15" fill="#111" stroke="#111" stroke-width="0.1"  textLength="22" lengthAdjust="spacingAndGlyphs">250</text><path d="M423 454v6" stroke="#111" stroke-width="1.3"/><text x="423" y="478" text-anchor="middle" font-size="15" fill="#111" stroke="#111" stroke-width="0.1"  textLength="29.4" lengthAdjust="spacingAndGlyphs">2014</text><path d="M515.8 454v6" stroke="#111" stroke-width="1.3"/><text x="515.8" y="478" text-anchor="middle" font-size="15" fill="#111" stroke="#111" stroke-width="0.1"  textLength="29.4" lengthAdjust="spacingAndGlyphs">2016</text><path d="M608.5 454v6" stroke="#111" stroke-width="1.3"/><text x="608.5" y="478" text-anchor="middle" font-size="15" fill="#111" stroke="#111" stroke-width="0.1"  textLength="29.4" lengthAdjust="spacingAndGlyphs">2018</text><path d="M348.3 266.6L352.5 262.4L356.7 266.6Z" fill="#111"/><path d="M352.5 265.4V277.9" stroke="#111" stroke-width="2.2"/><text x="369.5" y="278.4" text-anchor="start" font-size="16.5" fill="#111" stroke="#111" stroke-width="0.1"  textLength="34.6" lengthAdjust="spacingAndGlyphs">Close</text><path d="M405 396.1Q408.3 412.7 415.7 427.6M415.7 427.6L416.6 388.8M406.5 383.3Q413.1 410.8 420.8 437.7M409.1 391.2Q417.8 408.3 420.8 427.4M411.5 381.9Q416.1 403.7 422.9 427.8M422.9 427.8L423.4 410M413.3 370.8Q420.9 401 425.4 424M414.9 390.3Q422.7 406.8 429.3 421.6M417.7 390.1Q424.9 411.1 427.7 420.2M419.2 387.7Q425.7 406.8 435.7 425.5M435.7 425.5L437.4 414.7M421.7 389.6Q431.5 413.3 438.4 427.8M438.4 427.8L438.7 405M424.4 386.2Q430.6 397.9 437.8 420.1M426.4 378Q436.2 413.9 440.8 437.7M440.8 437.7L440.2 423M429.1 371.3Q437.8 397.8 444 429.1M431 382.5Q439.2 408.1 446.2 426.3M433.7 357.1Q439.8 383.8 444.1 420.1M436.1 377.2Q440.6 401.2 446.4 421.8M446.4 421.8L447.2 388.3M438.3 357.1Q445.8 396.1 447.8 441.5M440.6 373.7Q447.4 399.2 453 419.3M442.3 363.3Q450.3 398.1 454.1 430.9M445 377.4Q454.6 399.7 459.9 422.4M459.9 422.4L461.5 397M447.2 348.1Q454.2 379 462.4 415.8M462.4 415.8L462.2 402.3M450.3 344.6Q458 375.2 464.2 408.4M464.2 408.4L463.9 383M453.5 341.4Q457.4 380.5 463.2 409.3M456.2 360.3Q464.9 384.4 471.3 405.1M471.3 405.1L472.9 374.6M457.6 351.2Q464.2 392.4 470.3 432.2M460.8 352.4Q468.9 374.1 475.3 407M463.8 360.7Q473.9 383.4 480.7 412.9M465.9 346.3Q476.1 380.1 480.9 405.7M468 329.3Q474 368.6 484.9 407.4M484.9 407.4L485 389M470.8 332.7Q476.8 361.9 487.7 397M473.4 340.5Q482.2 387.4 489.1 424.8M489.1 424.8L490.7 413.1M474.7 339.4Q482 375.9 489.7 420M489.7 420L491.6 383.7M477.2 326.1Q479 371.7 486.6 422.9M479 355.6Q482.5 387.9 491.1 417.4M480.7 331.8Q484.6 383.2 492.9 426.7M483.4 325Q493.8 377.5 498.9 425.4M484.8 346Q490.7 382.3 496.9 422.7M486.3 323Q493.1 376.6 503.2 423.6M503.2 423.6L504 407.7M487.6 323.8Q494 375.1 500.7 423.1M500.7 423.1L502 396.7M489.1 323.4Q495.6 379.8 504 432.3M504 432.3L505.5 406.3M491 348.4Q499.4 388.6 506.5 420M492.7 321.7Q500.1 364.3 505.8 405.4M495.2 320.6Q502.8 376 505.2 422.4M498.3 315.5Q503.3 359.1 508.9 404.1M499.7 344.6Q508.3 379.5 516.7 425.3M501.7 344.8Q506.5 394.6 513.9 433.3M504.7 326.9Q512.1 371.6 519.7 427M507.1 336.9Q517.8 376.4 524.1 418.5M524.1 418.5L523.3 400.8M509.2 338.7Q518.1 386.4 525.5 425.2M512 321Q515.3 382 524.5 443.2M524.5 443.2L526 415.1M514.7 351.9Q520.2 388.2 526.9 416.5M517.8 356Q523.8 398.2 529.6 446.6M529.6 446.6L528.8 422.4M520.6 326.7Q529.3 377.7 532.1 430.7M523.3 335.1Q533 392.8 539.9 441.1M525.5 349.8Q533.2 388.9 536.7 432.8M526.8 350.2Q533.1 389.5 539.3 435.1M530 330.2Q535.5 380.7 542.9 432.9M532.7 333.9Q539.5 382.7 547.1 435.1M535.3 330.5Q542.3 368.3 548.4 407.5M538.2 331.8Q546.8 373.3 552.4 410.7M540 363.6Q544.5 397.7 551.6 442.3M551.6 442.3L553.1 416.4M542.1 339.3Q551.2 387.1 558.4 434.7M544.5 355.4Q552.5 393.5 555.7 426.8M547.2 337.4Q554.5 369.5 556.6 408.3M556.6 408.3L556.8 382.6M548.8 357.2Q553 381.9 562.4 400.7M551.9 354.2Q556.8 391.8 562.9 429.9M562.9 429.9L564.9 413.7M555 325.9Q558.3 381.4 567.4 424.9M556.9 355Q563.7 382.2 572.5 417.8M559.3 354.8Q568.1 385.9 575.7 423M561.3 338.3Q568.5 370.4 575 398.3M563.8 347.7Q569.4 386.9 580 416.8M566.3 342.6Q572.4 382.6 580.5 416.5M568 323.4Q576.5 364.9 583.7 397.1M583.7 397.1L584.4 367.5M571 322.4Q579 367.6 587.2 409.9M573.3 339.2Q581.2 367.4 586.2 393.7M574.8 344.3Q579.4 369.1 589.1 394.5M589.1 394.5L590.4 373.2M576.4 346.9Q584 367.9 586.4 380.3M578.2 324.2Q584 357.8 594.4 398.1M581.1 340.2Q587 366.5 594.7 388.2M594.7 388.2L596.4 360.5M583.9 309.3Q588.5 338.4 598.6 379.2M586.3 319.6Q589.8 351.6 598.4 389.1M598.4 389.1L599.6 356.6M588.9 330.1Q595.9 357.8 600.2 392.2M591.8 306.4Q599.4 336.1 605.7 368.7M605.7 368.7L606 346.2M593.2 331.9Q596.6 359.7 605.4 392.9M605.4 392.9L604.7 379.5M595.9 332.1Q599.9 344.8 608 365.9M598.9 311.5Q604.2 351.7 611.5 384.9M601.5 326Q604.9 348.6 613.3 361.6M604.1 307.5Q611.1 347.3 620 381.7M620 381.7L619.6 348.6M606 309.4Q613.5 341.1 619.6 377.5M619.6 377.5L620.4 360.4M607.9 317.4Q616.4 342.8 619.1 366M610 318.4Q617.9 348.8 620.6 368.7M611.5 305.5Q614 335.1 621.5 357.5M614.3 308.6Q623.8 333.7 629 352.8M629 352.8L630.1 322.4M616.6 309.9Q623.5 329.2 629 359.3M629 359.3L629.2 342.5M618.8 303.2Q625.1 330.4 629 362.7M621.6 324.1Q623.8 340.3 629 360.7M623.9 319.1Q623.7 336.5 629 359.8M626.8 309.1Q630.9 338.5 629 361.5M629 361.5L628.7 342.9" fill="none" stroke="#4682b4" stroke-width="1.6" stroke-linecap="round"/><path d="M410.3 410.6L412.1 409.7L414.6 408.4L417.6 407L420.8 405.5L423.9 404.4L427.2 403.7L430.6 403.3L434.1 402.9L437.7 402.3L441.2 401.2L444.7 399.4L448.3 397L451.8 394.4L455.2 391.8L458.5 389.6L461.6 387.7L464.4 386.1L467.2 384.5L470.1 382.8L473.3 380.9L477.1 378.4L481.1 375.3L485.3 372.3L489.4 369.8L493.1 368.6L496.2 368.8L498.9 370L501.5 371.9L504.4 374L507.9 376L512.4 378L517.6 380.2L523 382.5L528.2 384.5L532.6 385.9L536.1 386.8L538.9 387.3L541.5 387.5L544.2 387.2L547.5 386.4L551.5 384.9L556.2 382.8L561 380.3L565.6 377.6L569.7 374.8L573.1 371.7L576.1 368.3L578.9 364.8L581.7 361.5L584.5 358.7L587.5 356.5L590.7 354.6L593.8 353L596.7 351.5L599.3 350L601.5 348.7L603.3 347.4L605 346.2L606.9 345.1L609.2 343.9L612.3 342.5L616 341.1L619.7 339.7L623 338.5L625.3 337.7" fill="none" stroke="#b22222" stroke-width="2.8" stroke-linejoin="round"/><rect x="677" y="259.7" width="308.7" height="231.3" fill="#fbf8f1"/><g clip-path="url(#c30)"><path d="M699.7 272.2L810.4 283.5M699.2 276.4L809.9 288.6M698.5 281.6L810.1 293.4M696.7 287.9L808.1 300.4M697.1 291.2L809.2 304.2M696.7 297L808.7 309.6M697.2 301.3L806.7 314.4M696.4 306.2L808.1 318.4M695.3 312.4L807.6 325.6M693.7 319.3L806.5 330.3M693 323.6L804.7 336.3M692.4 327.9L805.5 341.4M692.6 333.5L804.9 346.4M691.1 340.7L802.8 350.7M692.5 343.9L803.2 356.8M690.1 348.8L803.4 360.3M691.7 355.2L801.4 367.7M690.4 360.9L801 372M690.1 365.4L801 377.4M687.8 372.6L799.4 382M689.3 375.7L800.8 389.3" fill="none" stroke="#4682b4" stroke-width="2.6"/></g><path d="M747.9 259.4Q747.9 355.9 748.7 452.3M749.3 260.3Q748.7 356.8 748.4 453" fill="none" stroke="#111" stroke-width="1.3" stroke-linecap="round"/><path d="M710.8 314.8Q750.1 315.9 788.4 316.1M710.2 315.6Q749.2 315.3 788.6 315.2" fill="none" stroke="#111" stroke-width="2.0" stroke-linecap="round"/><g clip-path="url(#c31)"><path d="M787.5 335.7L882 346.1M787.9 340.8L882.4 351.1M788.8 344.1L882.5 356.3M787.5 348.9L881.4 360.4M787.5 353.2L880.3 363.1M785.6 359L879.8 369.8M784.7 363.6L880.2 373.8M785.2 370.2L878.2 379.6M783.7 375.2L878.3 384.1M784.6 380.5L877 389.6M784 384.8L878.1 395.4M783.1 389.8L876.6 399M782.4 394.6L875.7 403.7M782.8 400.6L877 409M782 403.4L874.8 415.1M780.6 408.4L875.5 419.6M779.7 414.8L873.6 423.4M780.3 419.5L873.1 429.9M779.2 424.6L872.4 434.6" fill="none" stroke="#4682b4" stroke-width="2.6"/></g><path d="M832.3 322.1Q832.4 376.7 831.1 432.1M832.2 322.1Q832.7 376.6 832.6 432.2" fill="none" stroke="#111" stroke-width="1.3" stroke-linecap="round"/><path d="M792.6 383.6Q831.1 383.8 870 384.2M792.7 384.5Q830.7 384.1 869.2 383.9" fill="none" stroke="#111" stroke-width="2.0" stroke-linecap="round"/><g clip-path="url(#c32)"><path d="M873.5 341.4L962.6 352.5M874.1 346.4L963.5 355.9M873.6 351.5L961.9 362.1M871.4 357L961.5 365.4M872.3 363L962 370.9M871.1 367L961.4 378.4M870.9 374.6L960.2 384.1M871 378.9L960.6 388.4M868.8 385.7L958.9 394.6M869.4 388.7L957.9 399.1M868.6 393.8L957.1 404.2M867.6 399.6L958.2 408.3M866.4 405.3L957.2 412.5M866.3 408.7L955.4 419.5M865.5 413.3L956.1 423M865.7 418.8L955.4 429.4M864.3 423.7L955.8 434.7" fill="none" stroke="#4682b4" stroke-width="2.6"/></g><path d="M914.5 354.1Q915.3 397.8 914.5 441.4M913.3 353.7Q913.8 397.1 914.2 441.3" fill="none" stroke="#111" stroke-width="1.3" stroke-linecap="round"/><path d="M875.7 389.7Q914.8 389.5 953 389.6M875.7 389.9Q914.3 390.9 952.8 391.1" fill="none" stroke="#111" stroke-width="2.0" stroke-linecap="round"/><circle cx="914.6" cy="328.6" r="3.2" fill="none" stroke="#111" stroke-width="1.8"/><path d="M748.6 453.5v6" stroke="#111" stroke-width="1.2"/><path d="M831.8 453.5v6" stroke="#111" stroke-width="1.2"/><path d="M914 453.5v6" stroke="#111" stroke-width="1.2"/><text x="749.6" y="478.5" text-anchor="middle" font-size="16.5" fill="#111" stroke="#111" stroke-width="0.1"  textLength="43.3" lengthAdjust="spacingAndGlyphs">Biscoe</text><text x="831.8" y="476" text-anchor="middle" font-size="16.5" fill="#111" stroke="#111" stroke-width="0.1"  textLength="47" lengthAdjust="spacingAndGlyphs">Dream</text><text x="831.8" y="487" text-anchor="middle" font-size="16.5" fill="#111" stroke="#111" stroke-width="0.1"  textLength="42" lengthAdjust="spacingAndGlyphs">Island</text><text x="914.5" y="478.5" text-anchor="middle" font-size="16.5" fill="#111" stroke="#111" stroke-width="0.1"  textLength="74" lengthAdjust="spacingAndGlyphs">Torgersen</text><rect x="1008" y="260" width="309" height="231.6" fill="#fbf8f1"/><path d="M1058.9 288.9Q1059.9 371.7 1058.6 451.8M1060.5 287.6Q1058.9 369.9 1059.6 450.9" fill="none" stroke="#dcdad6" stroke-width="2.4" stroke-linecap="round"/><path d="M1082.9 286.5Q1082.3 369.7 1081.8 451.6M1082.9 286.8Q1080.9 370.1 1081 453.5" fill="none" stroke="#dcdad6" stroke-width="2.4" stroke-linecap="round"/><path d="M1105.6 287.7Q1107.4 371.7 1107.4 457.5M1107.3 287.2Q1107.3 371.6 1107.3 457.5" fill="none" stroke="#dcdad6" stroke-width="2.4" stroke-linecap="round"/><path d="M1129.6 286.7Q1129.6 371.1 1128.1 454M1131.1 284.9Q1129.1 368.2 1126.3 452" fill="none" stroke="#dcdad6" stroke-width="2.4" stroke-linecap="round"/><path d="M1150.9 282.4Q1152.4 369.4 1153.8 456.6M1151.1 284.1Q1151.8 370 1152.5 457" fill="none" stroke="#dcdad6" stroke-width="2.4" stroke-linecap="round"/><path d="M1173.4 290.1Q1174.3 371.4 1173.5 455.4M1174.6 289.3Q1173.3 371.9 1174.5 455.5" fill="none" stroke="#dcdad6" stroke-width="2.4" stroke-linecap="round"/><path d="M1198.3 285.3Q1199.6 369.9 1200.1 453.2M1199.8 285.4Q1199.1 368.1 1199.9 452.9" fill="none" stroke="#dcdad6" stroke-width="2.4" stroke-linecap="round"/><path d="M1223.3 284.9Q1221.1 368.6 1220.8 453.1M1223.4 285.3Q1221.8 370.7 1221.4 454.3" fill="none" stroke="#dcdad6" stroke-width="2.4" stroke-linecap="round"/><path d="M1244.3 287.3Q1244.7 370.6 1243.3 456M1245.4 287.9Q1245 371.7 1245.7 454.4" fill="none" stroke="#dcdad6" stroke-width="2.4" stroke-linecap="round"/><path d="M1268.3 282.3Q1268.1 367.1 1266.4 452.9M1269.2 284.1Q1267 366.9 1266.9 451.3" fill="none" stroke="#dcdad6" stroke-width="2.4" stroke-linecap="round"/><path d="M1293.6 288.7Q1291.9 368.1 1292.7 450.5M1292.5 289.7Q1292.4 372 1291.7 452.4" fill="none" stroke="#dcdad6" stroke-width="2.4" stroke-linecap="round"/><path d="M1063.7 455.1Q1174.9 456.3 1286.8 456.3M1061.6 453.7Q1173.7 456.4 1288 456.2" fill="none" stroke="#dcdad6" stroke-width="2.4" stroke-linecap="round"/><path d="M1062.3 436.6Q1174.7 436.6 1288.6 437.8M1061.3 439.1Q1174.5 438.3 1289.6 438.6" fill="none" stroke="#dcdad6" stroke-width="2.4" stroke-linecap="round"/><path d="M1063.5 421.9Q1178.3 420.6 1294.2 421.2M1062 420.8Q1178.3 421.6 1294.1 420.1" fill="none" stroke="#dcdad6" stroke-width="2.4" stroke-linecap="round"/><path d="M1062.3 402.4Q1176.4 402.4 1290.7 404.3M1064.3 402.4Q1177.8 403.5 1288.7 401.9" fill="none" stroke="#dcdad6" stroke-width="2.4" stroke-linecap="round"/><path d="M1057.3 387.5Q1172.8 386 1289.2 386.6M1057.8 389.5Q1173.3 389.2 1291.3 385.9" fill="none" stroke="#dcdad6" stroke-width="2.4" stroke-linecap="round"/><path d="M1057.1 372.4Q1175.5 372.3 1293.9 371.9M1057.1 371.5Q1177.5 373.4 1295.9 372.7" fill="none" stroke="#dcdad6" stroke-width="2.4" stroke-linecap="round"/><path d="M1058.9 354.9Q1174 356.6 1291.9 355.9M1061.2 354.3Q1175.7 354.1 1291.6 356" fill="none" stroke="#dcdad6" stroke-width="2.4" stroke-linecap="round"/><path d="M1059.3 335.7Q1174.2 334.8 1291.4 336M1061.6 337.3Q1176.3 335.9 1290 335.2" fill="none" stroke="#dcdad6" stroke-width="2.4" stroke-linecap="round"/><path d="M1055.1 320.9Q1171.6 321.1 1288.4 320.1M1056 318.3Q1172.3 321.1 1288.6 320.9" fill="none" stroke="#dcdad6" stroke-width="2.4" stroke-linecap="round"/><path d="M1060.2 302.8Q1175.5 301.9 1293.4 301.8M1060.6 301.3Q1177.4 300 1293.5 300.6" fill="none" stroke="#dcdad6" stroke-width="2.4" stroke-linecap="round"/><path d="M1058.9 286.1Q1176.6 284.8 1295.1 285.6M1058.4 285.9Q1175.3 286.6 1294.4 285.9" fill="none" stroke="#dcdad6" stroke-width="2.4" stroke-linecap="round"/><path d="M1053.3 454.5h6" stroke="#111" stroke-width="1.3"/><text x="1048.3" y="459" text-anchor="end" font-size="15" fill="#111" stroke="#111" stroke-width="0.1"  textLength="7.3" lengthAdjust="spacingAndGlyphs">0</text><path d="M1053.3 420.9h6" stroke="#111" stroke-width="1.3"/><text x="1048.3" y="425.4" text-anchor="end" font-size="15" fill="#111" stroke="#111" stroke-width="0.1"  textLength="7.3" lengthAdjust="spacingAndGlyphs">2</text><path d="M1053.3 387.2h6" stroke="#111" stroke-width="1.3"/><text x="1048.3" y="391.7" text-anchor="end" font-size="15" fill="#111" stroke="#111" stroke-width="0.1"  textLength="7.3" lengthAdjust="spacingAndGlyphs">4</text><path d="M1053.3 353.6h6" stroke="#111" stroke-width="1.3"/><text x="1048.3" y="358.1" text-anchor="end" font-size="15" fill="#111" stroke="#111" stroke-width="0.1"  textLength="7.3" lengthAdjust="spacingAndGlyphs">6</text><path d="M1053.3 319.9h6" stroke="#111" stroke-width="1.3"/><text x="1048.3" y="324.4" text-anchor="end" font-size="15" fill="#111" stroke="#111" stroke-width="0.1"  textLength="7.3" lengthAdjust="spacingAndGlyphs">8</text><path d="M1053.3 286.3h6" stroke="#111" stroke-width="1.3"/><text x="1048.3" y="290.8" text-anchor="end" font-size="15" fill="#111" stroke="#111" stroke-width="0.1"  textLength="14.7" lengthAdjust="spacingAndGlyphs">10</text><path d="M1059.3 455v6" stroke="#111" stroke-width="1.3"/><text x="1059.3" y="479" text-anchor="middle" font-size="15" fill="#111" stroke="#111" stroke-width="0.1"  textLength="7.3" lengthAdjust="spacingAndGlyphs">0</text><path d="M1175.4 455v6" stroke="#111" stroke-width="1.3"/><text x="1175.4" y="479" text-anchor="middle" font-size="15" fill="#111" stroke="#111" stroke-width="0.1"  textLength="7.3" lengthAdjust="spacingAndGlyphs">5</text><path d="M1291.5 455v6" stroke="#111" stroke-width="1.3"/><text x="1291.5" y="479" text-anchor="middle" font-size="15" fill="#111" stroke="#111" stroke-width="0.1"  textLength="14.7" lengthAdjust="spacingAndGlyphs">10</text><rect x="1343.5" y="260" width="308.5" height="231.6" fill="#fbf8f1"/><g clip-path="url(#hexclip)"><path d="M1344.1 276L1331.3 268.6L1331.3 253.8L1344.1 246.4L1356.9 253.8L1356.9 268.6ZM1369.8 276L1357 268.6L1357 253.8L1369.8 246.4L1382.6 253.8L1382.6 268.6ZM1395.5 276L1382.7 268.6L1382.7 253.8L1395.5 246.4L1408.3 253.8L1408.3 268.6ZM1421.2 276L1408.4 268.6L1408.4 253.8L1421.2 246.4L1434 253.8L1434 268.6ZM1446.9 276L1434.1 268.6L1434.1 253.8L1446.9 246.4L1459.7 253.8L1459.7 268.6ZM1472.6 276L1459.8 268.6L1459.8 253.8L1472.6 246.4L1485.4 253.8L1485.4 268.6ZM1498.3 276L1485.5 268.6L1485.5 253.8L1498.3 246.4L1511.1 253.8L1511.1 268.6ZM1524 276L1511.2 268.6L1511.2 253.8L1524 246.4L1536.8 253.8L1536.8 268.6ZM1549.7 276L1536.9 268.6L1536.9 253.8L1549.7 246.4L1562.5 253.8L1562.5 268.6ZM1575.4 276L1562.6 268.6L1562.6 253.8L1575.4 246.4L1588.2 253.8L1588.2 268.6ZM1601.1 276L1588.3 268.6L1588.3 253.8L1601.1 246.4L1613.9 253.8L1613.9 268.6ZM1626.8 276L1614 268.6L1614 253.8L1626.8 246.4L1639.6 253.8L1639.6 268.6ZM1357 298.2L1344.1 290.8L1344.1 276L1357 268.6L1369.8 276L1369.8 290.8ZM1382.7 298.2L1369.8 290.8L1369.8 276L1382.7 268.6L1395.5 276L1395.5 290.8ZM1408.4 298.2L1395.5 290.8L1395.5 276L1408.4 268.6L1421.2 276L1421.2 290.8ZM1434.1 298.2L1421.2 290.8L1421.2 276L1434.1 268.6L1446.9 276L1446.9 290.8ZM1459.8 298.2L1446.9 290.8L1446.9 276L1459.8 268.6L1472.6 276L1472.6 290.8ZM1485.5 298.2L1472.6 290.8L1472.6 276L1485.5 268.6L1498.3 276L1498.3 290.8ZM1511.2 298.2L1498.3 290.8L1498.3 276L1511.2 268.6L1524 276L1524 290.8ZM1536.9 298.2L1524 290.8L1524 276L1536.9 268.6L1549.7 276L1549.7 290.8ZM1562.6 298.2L1549.7 290.8L1549.7 276L1562.6 268.6L1575.4 276L1575.4 290.8ZM1588.3 298.2L1575.4 290.8L1575.4 276L1588.3 268.6L1601.1 276L1601.1 290.8ZM1614 298.2L1601.1 290.8L1601.1 276L1614 268.6L1626.8 276L1626.8 290.8ZM1639.7 298.2L1626.8 290.8L1626.8 276L1639.7 268.6L1652.5 276L1652.5 290.8ZM1344.1 320.4L1331.3 313L1331.3 298.2L1344.1 290.8L1356.9 298.2L1356.9 313ZM1369.8 320.4L1357 313L1357 298.2L1369.8 290.8L1382.6 298.2L1382.6 313ZM1395.5 320.4L1382.7 313L1382.7 298.2L1395.5 290.8L1408.3 298.2L1408.3 313ZM1421.2 320.4L1408.4 313L1408.4 298.2L1421.2 290.8L1434 298.2L1434 313ZM1446.9 320.4L1434.1 313L1434.1 298.2L1446.9 290.8L1459.7 298.2L1459.7 313ZM1472.6 320.4L1459.8 313L1459.8 298.2L1472.6 290.8L1485.4 298.2L1485.4 313ZM1498.3 320.4L1485.5 313L1485.5 298.2L1498.3 290.8L1511.1 298.2L1511.1 313ZM1524 320.4L1511.2 313L1511.2 298.2L1524 290.8L1536.8 298.2L1536.8 313ZM1549.7 320.4L1536.9 313L1536.9 298.2L1549.7 290.8L1562.5 298.2L1562.5 313ZM1575.4 320.4L1562.6 313L1562.6 298.2L1575.4 290.8L1588.2 298.2L1588.2 313ZM1601.1 320.4L1588.3 313L1588.3 298.2L1601.1 290.8L1613.9 298.2L1613.9 313ZM1626.8 320.4L1614 313L1614 298.2L1626.8 290.8L1639.6 298.2L1639.6 313ZM1357 342.6L1344.1 335.2L1344.1 320.4L1357 313L1369.8 320.4L1369.8 335.2ZM1382.7 342.6L1369.8 335.2L1369.8 320.4L1382.7 313L1395.5 320.4L1395.5 335.2ZM1408.4 342.6L1395.5 335.2L1395.5 320.4L1408.4 313L1421.2 320.4L1421.2 335.2ZM1434.1 342.6L1421.2 335.2L1421.2 320.4L1434.1 313L1446.9 320.4L1446.9 335.2ZM1459.8 342.6L1446.9 335.2L1446.9 320.4L1459.8 313L1472.6 320.4L1472.6 335.2ZM1485.5 342.6L1472.6 335.2L1472.6 320.4L1485.5 313L1498.3 320.4L1498.3 335.2ZM1511.2 342.6L1498.3 335.2L1498.3 320.4L1511.2 313L1524 320.4L1524 335.2ZM1536.9 342.6L1524 335.2L1524 320.4L1536.9 313L1549.7 320.4L1549.7 335.2ZM1562.6 342.6L1549.7 335.2L1549.7 320.4L1562.6 313L1575.4 320.4L1575.4 335.2ZM1588.3 342.6L1575.4 335.2L1575.4 320.4L1588.3 313L1601.1 320.4L1601.1 335.2ZM1614 342.6L1601.1 335.2L1601.1 320.4L1614 313L1626.8 320.4L1626.8 335.2ZM1639.7 342.6L1626.8 335.2L1626.8 320.4L1639.7 313L1652.5 320.4L1652.5 335.2ZM1344.1 364.8L1331.3 357.4L1331.3 342.6L1344.1 335.2L1356.9 342.6L1356.9 357.4ZM1369.8 364.8L1357 357.4L1357 342.6L1369.8 335.2L1382.6 342.6L1382.6 357.4ZM1395.5 364.8L1382.7 357.4L1382.7 342.6L1395.5 335.2L1408.3 342.6L1408.3 357.4ZM1421.2 364.8L1408.4 357.4L1408.4 342.6L1421.2 335.2L1434 342.6L1434 357.4ZM1446.9 364.8L1434.1 357.4L1434.1 342.6L1446.9 335.2L1459.7 342.6L1459.7 357.4ZM1472.6 364.8L1459.8 357.4L1459.8 342.6L1472.6 335.2L1485.4 342.6L1485.4 357.4ZM1498.3 364.8L1485.5 357.4L1485.5 342.6L1498.3 335.2L1511.1 342.6L1511.1 357.4ZM1524 364.8L1511.2 357.4L1511.2 342.6L1524 335.2L1536.8 342.6L1536.8 357.4ZM1549.7 364.8L1536.9 357.4L1536.9 342.6L1549.7 335.2L1562.5 342.6L1562.5 357.4ZM1575.4 364.8L1562.6 357.4L1562.6 342.6L1575.4 335.2L1588.2 342.6L1588.2 357.4ZM1601.1 364.8L1588.3 357.4L1588.3 342.6L1601.1 335.2L1613.9 342.6L1613.9 357.4ZM1626.8 364.8L1614 357.4L1614 342.6L1626.8 335.2L1639.6 342.6L1639.6 357.4ZM1357 387L1344.1 379.6L1344.1 364.8L1357 357.4L1369.8 364.8L1369.8 379.6ZM1382.7 387L1369.8 379.6L1369.8 364.8L1382.7 357.4L1395.5 364.8L1395.5 379.6ZM1408.4 387L1395.5 379.6L1395.5 364.8L1408.4 357.4L1421.2 364.8L1421.2 379.6ZM1434.1 387L1421.2 379.6L1421.2 364.8L1434.1 357.4L1446.9 364.8L1446.9 379.6ZM1459.8 387L1446.9 379.6L1446.9 364.8L1459.8 357.4L1472.6 364.8L1472.6 379.6ZM1485.5 387L1472.6 379.6L1472.6 364.8L1485.5 357.4L1498.3 364.8L1498.3 379.6ZM1511.2 387L1498.3 379.6L1498.3 364.8L1511.2 357.4L1524 364.8L1524 379.6ZM1536.9 387L1524 379.6L1524 364.8L1536.9 357.4L1549.7 364.8L1549.7 379.6ZM1562.6 387L1549.7 379.6L1549.7 364.8L1562.6 357.4L1575.4 364.8L1575.4 379.6ZM1588.3 387L1575.4 379.6L1575.4 364.8L1588.3 357.4L1601.1 364.8L1601.1 379.6ZM1614 387L1601.1 379.6L1601.1 364.8L1614 357.4L1626.8 364.8L1626.8 379.6ZM1639.7 387L1626.8 379.6L1626.8 364.8L1639.7 357.4L1652.5 364.8L1652.5 379.6ZM1344.1 409.2L1331.3 401.8L1331.3 387L1344.1 379.6L1356.9 387L1356.9 401.8ZM1369.8 409.2L1357 401.8L1357 387L1369.8 379.6L1382.6 387L1382.6 401.8ZM1395.5 409.2L1382.7 401.8L1382.7 387L1395.5 379.6L1408.3 387L1408.3 401.8ZM1421.2 409.2L1408.4 401.8L1408.4 387L1421.2 379.6L1434 387L1434 401.8ZM1446.9 409.2L1434.1 401.8L1434.1 387L1446.9 379.6L1459.7 387L1459.7 401.8ZM1472.6 409.2L1459.8 401.8L1459.8 387L1472.6 379.6L1485.4 387L1485.4 401.8ZM1498.3 409.2L1485.5 401.8L1485.5 387L1498.3 379.6L1511.1 387L1511.1 401.8ZM1524 409.2L1511.2 401.8L1511.2 387L1524 379.6L1536.8 387L1536.8 401.8ZM1549.7 409.2L1536.9 401.8L1536.9 387L1549.7 379.6L1562.5 387L1562.5 401.8ZM1575.4 409.2L1562.6 401.8L1562.6 387L1575.4 379.6L1588.2 387L1588.2 401.8ZM1601.1 409.2L1588.3 401.8L1588.3 387L1601.1 379.6L1613.9 387L1613.9 401.8ZM1626.8 409.2L1614 401.8L1614 387L1626.8 379.6L1639.6 387L1639.6 401.8ZM1357 431.4L1344.1 424L1344.1 409.2L1357 401.8L1369.8 409.2L1369.8 424ZM1382.7 431.4L1369.8 424L1369.8 409.2L1382.7 401.8L1395.5 409.2L1395.5 424ZM1408.4 431.4L1395.5 424L1395.5 409.2L1408.4 401.8L1421.2 409.2L1421.2 424ZM1434.1 431.4L1421.2 424L1421.2 409.2L1434.1 401.8L1446.9 409.2L1446.9 424ZM1459.8 431.4L1446.9 424L1446.9 409.2L1459.8 401.8L1472.6 409.2L1472.6 424ZM1485.5 431.4L1472.6 424L1472.6 409.2L1485.5 401.8L1498.3 409.2L1498.3 424ZM1511.2 431.4L1498.3 424L1498.3 409.2L1511.2 401.8L1524 409.2L1524 424ZM1536.9 431.4L1524 424L1524 409.2L1536.9 401.8L1549.7 409.2L1549.7 424ZM1562.6 431.4L1549.7 424L1549.7 409.2L1562.6 401.8L1575.4 409.2L1575.4 424ZM1588.3 431.4L1575.4 424L1575.4 409.2L1588.3 401.8L1601.1 409.2L1601.1 424ZM1614 431.4L1601.1 424L1601.1 409.2L1614 401.8L1626.8 409.2L1626.8 424ZM1639.7 431.4L1626.8 424L1626.8 409.2L1639.7 401.8L1652.5 409.2L1652.5 424ZM1344.1 453.6L1331.3 446.2L1331.3 431.4L1344.1 424L1356.9 431.4L1356.9 446.2ZM1369.8 453.6L1357 446.2L1357 431.4L1369.8 424L1382.6 431.4L1382.6 446.2ZM1395.5 453.6L1382.7 446.2L1382.7 431.4L1395.5 424L1408.3 431.4L1408.3 446.2ZM1421.2 453.6L1408.4 446.2L1408.4 431.4L1421.2 424L1434 431.4L1434 446.2ZM1446.9 453.6L1434.1 446.2L1434.1 431.4L1446.9 424L1459.7 431.4L1459.7 446.2ZM1472.6 453.6L1459.8 446.2L1459.8 431.4L1472.6 424L1485.4 431.4L1485.4 446.2ZM1498.3 453.6L1485.5 446.2L1485.5 431.4L1498.3 424L1511.1 431.4L1511.1 446.2ZM1524 453.6L1511.2 446.2L1511.2 431.4L1524 424L1536.8 431.4L1536.8 446.2ZM1549.7 453.6L1536.9 446.2L1536.9 431.4L1549.7 424L1562.5 431.4L1562.5 446.2ZM1575.4 453.6L1562.6 446.2L1562.6 431.4L1575.4 424L1588.2 431.4L1588.2 446.2ZM1601.1 453.6L1588.3 446.2L1588.3 431.4L1601.1 424L1613.9 431.4L1613.9 446.2ZM1626.8 453.6L1614 446.2L1614 431.4L1626.8 424L1639.6 431.4L1639.6 446.2ZM1357 475.8L1344.1 468.4L1344.1 453.6L1357 446.2L1369.8 453.6L1369.8 468.4ZM1382.7 475.8L1369.8 468.4L1369.8 453.6L1382.7 446.2L1395.5 453.6L1395.5 468.4ZM1408.4 475.8L1395.5 468.4L1395.5 453.6L1408.4 446.2L1421.2 453.6L1421.2 468.4ZM1434.1 475.8L1421.2 468.4L1421.2 453.6L1434.1 446.2L1446.9 453.6L1446.9 468.4ZM1459.8 475.8L1446.9 468.4L1446.9 453.6L1459.8 446.2L1472.6 453.6L1472.6 468.4ZM1485.5 475.8L1472.6 468.4L1472.6 453.6L1485.5 446.2L1498.3 453.6L1498.3 468.4ZM1511.2 475.8L1498.3 468.4L1498.3 453.6L1511.2 446.2L1524 453.6L1524 468.4ZM1536.9 475.8L1524 468.4L1524 453.6L1536.9 446.2L1549.7 453.6L1549.7 468.4ZM1562.6 475.8L1549.7 468.4L1549.7 453.6L1562.6 446.2L1575.4 453.6L1575.4 468.4ZM1588.3 475.8L1575.4 468.4L1575.4 453.6L1588.3 446.2L1601.1 453.6L1601.1 468.4ZM1614 475.8L1601.1 468.4L1601.1 453.6L1614 446.2L1626.8 453.6L1626.8 468.4ZM1639.7 475.8L1626.8 468.4L1626.8 453.6L1639.7 446.2L1652.5 453.6L1652.5 468.4ZM1344.1 498L1331.3 490.6L1331.3 475.8L1344.1 468.4L1356.9 475.8L1356.9 490.6ZM1369.8 498L1357 490.6L1357 475.8L1369.8 468.4L1382.6 475.8L1382.6 490.6ZM1395.5 498L1382.7 490.6L1382.7 475.8L1395.5 468.4L1408.3 475.8L1408.3 490.6ZM1421.2 498L1408.4 490.6L1408.4 475.8L1421.2 468.4L1434 475.8L1434 490.6ZM1446.9 498L1434.1 490.6L1434.1 475.8L1446.9 468.4L1459.7 475.8L1459.7 490.6ZM1472.6 498L1459.8 490.6L1459.8 475.8L1472.6 468.4L1485.4 475.8L1485.4 490.6ZM1498.3 498L1485.5 490.6L1485.5 475.8L1498.3 468.4L1511.1 475.8L1511.1 490.6ZM1524 498L1511.2 490.6L1511.2 475.8L1524 468.4L1536.8 475.8L1536.8 490.6ZM1549.7 498L1536.9 490.6L1536.9 475.8L1549.7 468.4L1562.5 475.8L1562.5 490.6ZM1575.4 498L1562.6 490.6L1562.6 475.8L1575.4 468.4L1588.2 475.8L1588.2 490.6ZM1601.1 498L1588.3 490.6L1588.3 475.8L1601.1 468.4L1613.9 475.8L1613.9 490.6ZM1626.8 498L1614 490.6L1614 475.8L1626.8 468.4L1639.6 475.8L1639.6 490.6Z" fill="none" stroke="#e0ddd6" stroke-width="3.4"/></g><path d="M1460.2 287L1456.6 285.5L1456.9 281L1459.1 280.5L1462.1 282.2L1462.2 285.8ZM1460.3 286.6L1457.2 284.9L1457 281.1L1459.8 280L1462.4 282L1463.3 285.6Z" fill="none" stroke="#b22222" stroke-width="2.6" stroke-linejoin="round" stroke-linecap="round"/><path d="M1485.5 286.3L1481.8 285.7L1482.4 281.9L1485.2 279.7L1487.6 281.1L1488.9 284.8ZM1485.7 286.4L1482.1 285.1L1481.9 281.8L1485.4 280.4L1487.6 282.2L1488.1 284.6Z" fill="none" stroke="#b22222" stroke-width="2.6" stroke-linejoin="round" stroke-linecap="round"/><path d="M1511.6 286.7L1507.7 284.7L1507.7 282L1511.2 279.7L1513.6 281.9L1514.3 285.4ZM1510.6 286.5L1508.5 284.7L1507.9 281.5L1510.9 279.6L1513.6 282L1513.8 285.2Z" fill="none" stroke="#b22222" stroke-width="2.6" stroke-linejoin="round" stroke-linecap="round"/><path d="M1421.1 309.1L1418.4 306.8L1418 303.9L1421.3 302.5L1423.6 303.4L1424.7 307.4ZM1420.7 308.9L1417.5 307.1L1418.3 304.1L1421.6 301.9L1424.5 303.5L1424.6 307.4Z" fill="none" stroke="#b22222" stroke-width="2.6" stroke-linejoin="round" stroke-linecap="round"/><g clip-path="url(#c33)"><path d="M1459.4 287L1464.2 319M1456 286L1461.7 320.3M1453.1 287.7L1459 321.5M1450.2 289.5L1455.4 321.9M1445.8 289.2L1453.4 322.3M1444.1 290.4L1449.5 322.1M1442.8 290.7L1447.8 321.6M1439.9 291L1443.9 322.5M1435.7 290.8L1441.9 322.2M1433.8 291.4L1438.7 323.7M1428.8 292.7L1435.8 325.1" fill="none" stroke="#4682b4" stroke-width="1.7"/></g><path d="M1447.7 314.4L1439.6 310.7L1439.7 300.7L1447.2 296.3L1455.3 301.2L1455 309.6ZM1447.2 314.2L1439.9 309.4L1439.5 301.1L1446.7 296.5L1454.6 301.4L1454.5 310Z" fill="none" stroke="#b22222" stroke-width="2.4" stroke-linejoin="round" stroke-linecap="round"/><g clip-path="url(#c34)"><path d="M1485.9 285.9L1489.9 320M1481.6 286.5L1488.3 318.7M1478.4 286.9L1483.2 319.7M1475.6 289.2L1481.3 319.8M1473 289.5L1478.8 320.5M1470.7 290L1475.2 321.7M1465.9 288.7L1471.9 321.6M1464.6 290.9L1470.6 323M1461.1 290.3L1465.5 323.9M1456.6 292.4L1463.2 324.2M1453.8 291.1L1461.7 324.7" fill="none" stroke="#4682b4" stroke-width="1.7"/></g><path d="M1473 314L1464.5 310L1464.9 301L1472.5 297L1480.7 300.5L1480.2 309.8ZM1472.6 315.1L1464.6 310.3L1464.5 301.2L1472.3 296.5L1480.9 301.2L1480.6 309.4Z" fill="none" stroke="#b22222" stroke-width="2.4" stroke-linejoin="round" stroke-linecap="round"/><path d="M1498.3 309.2L1495.6 306.7L1495.5 304.5L1497.6 302.4L1501.4 303.7L1501.1 306.9ZM1498 309.3L1494.8 307.7L1495.7 303.5L1498.4 302.7L1501.7 303.9L1501.5 307.8Z" fill="none" stroke="#b22222" stroke-width="2.6" stroke-linejoin="round" stroke-linecap="round"/><path d="M1550.4 310.4L1545.2 307.6L1545.6 302.4L1549.2 300.1L1554.3 303.5L1554.1 309ZM1550.5 311.4L1545.8 307.7L1545.9 303.4L1549.9 299.9L1555 302.3L1554.5 308.2Z" fill="none" stroke="#b22222" stroke-width="2.4" stroke-linejoin="round" stroke-linecap="round"/><path d="M1575.8 310.8L1571.4 308.8L1571.2 302.7L1575.5 300.1L1580.1 302.6L1580.2 308.8ZM1575.4 310.6L1571.2 308.2L1571.5 303.5L1576.1 299.6L1580 302.9L1581.1 308.3Z" fill="none" stroke="#b22222" stroke-width="2.4" stroke-linejoin="round" stroke-linecap="round"/><path d="M1407.6 331.7L1404.6 329.6L1405.2 326.5L1407.9 324.8L1411 325.7L1411.4 330.2ZM1408.3 331.3L1404.6 329.1L1404.5 325.5L1407.4 323.7L1410.4 325.8L1411.4 329.5Z" fill="none" stroke="#b22222" stroke-width="2.6" stroke-linejoin="round" stroke-linecap="round"/><g clip-path="url(#c35)"><path d="M1445.3 307.5L1452 344M1442.8 307.7L1449.2 342.1M1439.6 309.5L1447 343.2M1437.4 308.7L1443 344.6M1435.4 308.2L1441 345.6M1430.8 310.3L1437.1 344.3M1429.5 311.3L1435.5 344.7M1426.3 311.7L1433.1 346.9M1421.9 312.7L1428.4 347.5M1419.3 312.8L1426 346.8M1416.5 313.1L1421.5 348.2M1413 312.3L1419.4 348.7" fill="none" stroke="#4682b4" stroke-width="1.7"/></g><path d="M1433.3 337.2L1425.2 332.4L1425.3 323.1L1434.5 317.5L1442.7 323.5L1443.1 332.1ZM1433.9 337.4L1425.8 333.4L1425.6 322.9L1433.9 317.7L1442.6 322.5L1443 332.4Z" fill="none" stroke="#b22222" stroke-width="2.4" stroke-linejoin="round" stroke-linecap="round"/><g clip-path="url(#c36)"><path d="M1476.6 304.4L1481.3 343.4M1472.2 304.5L1479.1 343.8M1469.1 306.8L1476.8 345.9M1466.9 305.9L1474.3 346.1M1464 307.8L1469.8 347.2M1459.7 307.5L1467.8 347.1M1458.4 308.5L1464.3 348.6M1453.9 308.6L1461.2 347.6M1451.1 308.3L1458.1 348.3M1449.2 309.7L1455.9 349M1446.2 308.8L1451.9 349.8M1441.4 310.9L1449.5 349M1439.6 310.7L1445.9 351.3M1437.7 311.4L1444.8 350.5" fill="none" stroke="#4682b4" stroke-width="1.7"/></g><path d="M1460.2 339.5L1449.3 332.9L1449.4 321.8L1459.2 316.1L1469.4 321.9L1469 333.8ZM1459.5 338.6L1449.8 333.9L1449.9 322.4L1460 315.8L1469.3 321.5L1469.4 333.2Z" fill="none" stroke="#b22222" stroke-width="2.4" stroke-linejoin="round" stroke-linecap="round"/><g clip-path="url(#c37)"><path d="M1499.5 307.9L1503.3 341.5M1495.1 309.1L1501.3 343M1490.8 309.2L1496.6 341.6M1488.8 311.4L1494.3 344.1M1485.9 310.4L1491.6 343.3M1481.9 312.6L1487.8 344.4M1480.2 310.7L1485.5 345.5M1476.2 313.3L1482.8 345.8M1473.9 312.1L1480.2 346.6M1469.9 314.2L1475.9 345.4M1467.3 313.3L1472.2 346" fill="none" stroke="#4682b4" stroke-width="1.7"/></g><path d="M1485.5 336.1L1477.6 332.9L1477 323.1L1484.7 319.3L1492.7 322.8L1492.2 331.8ZM1485.4 337L1477.6 332.3L1477.9 323L1485.3 319.4L1492.4 323.7L1492.6 332.4Z" fill="none" stroke="#b22222" stroke-width="2.4" stroke-linejoin="round" stroke-linecap="round"/><path d="M1511.4 333L1506.9 330.9L1506 325.2L1510.7 322.4L1516.2 325.6L1515.4 330.7ZM1510.6 333L1506.8 330.2L1507.1 324.9L1511.6 322.7L1516.4 325.5L1515.3 330.9Z" fill="none" stroke="#b22222" stroke-width="2.4" stroke-linejoin="round" stroke-linecap="round"/><g clip-path="url(#c38)"><path d="M1549 311.4L1552.8 339.4M1544.1 311.5L1550.8 341.6M1542.9 310.7L1546.8 341.2M1540.4 311.8L1545.4 342.2M1536.2 313L1542.8 342.9M1533.7 312.2L1539.8 342.8M1531.4 313.2L1537.5 342.9M1529.1 314.1L1533.7 344.2M1526.2 313.3L1531.1 345.5M1522.6 314.4L1527.7 344.9" fill="none" stroke="#4682b4" stroke-width="1.7"/></g><path d="M1536.7 336.1L1529.6 332.4L1530.3 324.3L1536.7 320.2L1544.4 324.4L1544.4 331.2ZM1537 336.2L1530.2 331.7L1529.9 323.2L1537.5 320L1543.7 323.2L1543.7 331.1Z" fill="none" stroke="#b22222" stroke-width="2.4" stroke-linejoin="round" stroke-linecap="round"/><g clip-path="url(#c39)"><path d="M1576.7 305.7L1583.7 344M1573.9 306.5L1580 343.8M1572 307L1578.7 344.8M1567.8 306.8L1574.1 346.3M1564.6 306.9L1571.1 345.5M1562.6 307.6L1569.3 346.2M1559.1 309.5L1566.6 346.1M1556.9 308.5L1562.4 347M1552.7 308.8L1559 349.1M1548.3 309.4L1556.8 348.8M1545.3 312L1554.2 347.9M1542.2 311.1L1548.9 348.6" fill="none" stroke="#4682b4" stroke-width="1.7"/></g><path d="M1561.8 339.1L1552.5 333.7L1552.3 322L1561.8 317.6L1571.9 322.4L1571.2 333.1ZM1562.9 339.3L1553.4 333.2L1553.3 322.5L1562.9 316.7L1572.1 322.3L1571.9 333.8Z" fill="none" stroke="#b22222" stroke-width="2.4" stroke-linejoin="round" stroke-linecap="round"/><path d="M1588.7 332L1585 329.4L1585.3 326.5L1588.9 324.8L1591.3 326.7L1591.4 329.2ZM1588.1 331.1L1585.2 329.4L1585 326.1L1588.3 324.6L1591 326.5L1591.7 329.8Z" fill="none" stroke="#b22222" stroke-width="2.6" stroke-linejoin="round" stroke-linecap="round"/><g clip-path="url(#c40)"><path d="M1434.9 327.2L1442.5 367.7M1433.5 325.9L1439.2 367.1M1429.8 326.3L1437.3 368.4M1426.6 326.9L1433.8 368.1M1423.7 327.8L1431.6 368.3M1419.4 328.6L1428 369.2M1418.5 328.6L1424 370M1413.4 329.4L1422.7 370M1411.3 331.4L1418.8 371.3M1407.7 330.4L1416.8 373.2M1407.1 332.2L1412.3 371.4M1402.7 332.9L1409.4 373.7M1399.6 332L1406.9 373.2M1396.5 332.1L1404.9 372.9" fill="none" stroke="#4682b4" stroke-width="1.7"/></g><path d="M1421.4 362.5L1410.6 356.6L1410.2 344L1420.4 338.2L1430.9 344.3L1431.6 355.7ZM1420.6 361.7L1410.9 355.6L1410.3 344.8L1421.5 338.4L1431.2 344L1430.6 356.3Z" fill="none" stroke="#b22222" stroke-width="2.4" stroke-linejoin="round" stroke-linecap="round"/><g clip-path="url(#c41)"><path d="M1464.2 325.6L1472.7 368.6M1459.9 325.2L1469 367.6M1458.1 324.9L1464.9 368.9M1455 327L1463.2 370M1452.7 327L1459.3 370.5M1450.3 327.6L1457.7 371.1M1447.3 328.2L1455.1 371.9M1443.5 328.4L1451.3 371.8M1441.5 328.9L1449.4 372.7M1438.4 329.4L1444.6 372.8M1434.6 329.9L1443.2 373.7M1432.9 330L1440 373.1M1429.8 329.8L1437.2 373.2M1427 331.4L1433.3 373.9M1422.7 330.9L1431.5 376.4" fill="none" stroke="#4682b4" stroke-width="1.7"/></g><path d="M1447.6 362.7L1436.8 355.9L1436.7 343L1447.4 337.1L1457.9 344.2L1459.1 356.1ZM1447.7 363.2L1436 355.9L1436.8 344L1446.9 337.5L1459 343.4L1458.8 356.6Z" fill="none" stroke="#b22222" stroke-width="2.4" stroke-linejoin="round" stroke-linecap="round"/><g clip-path="url(#c42)"><path d="M1489.8 324.7L1497.1 367.8M1486.1 324.8L1493.7 368.4M1482.9 326.4L1491.7 367.5M1480.9 327.4L1486.7 368.9M1476.6 327.2L1483.3 370.5M1475 328.5L1481.2 370.7M1470.1 327.7L1478.8 370.5M1467.3 328.6L1475.8 372.6M1464.8 328.9L1471.5 373M1461.4 330.9L1468 371.5M1459.8 329.8L1467 373.6M1455.4 331.3L1463.6 372.4M1452.7 332.6L1459.7 373.8M1448.9 333L1457.4 375.4" fill="none" stroke="#4682b4" stroke-width="1.7"/></g><path d="M1473 361.9L1462.2 355.8L1462.4 343.4L1473.1 337.9L1483 343.3L1484 356.2ZM1472.9 363L1462 356.8L1462.6 344L1472.4 338.2L1483.5 344L1483.7 356.8Z" fill="none" stroke="#b22222" stroke-width="2.4" stroke-linejoin="round" stroke-linecap="round"/><g clip-path="url(#c43)"><path d="M1508 334.2L1513.9 360.1M1505.5 334.2L1510.1 361.1M1502.2 335.8L1507.1 362.4M1501.1 336.5L1505.1 363.4M1496.6 336.7L1502.2 364.2M1494.4 336.9L1499.4 364.3M1490.4 337.8L1495.8 365.2M1488.5 337.3L1491.8 364.8M1485.6 339.1L1488.3 366.6" fill="none" stroke="#4682b4" stroke-width="1.7"/></g><path d="M1498.1 357.6L1492.6 353.2L1492 346.6L1497.5 342.8L1504.5 347.1L1504.1 353.6ZM1498.1 356.9L1492 353.3L1492.2 347.3L1498.6 342.6L1504 346.5L1503.9 354Z" fill="none" stroke="#b22222" stroke-width="2.4" stroke-linejoin="round" stroke-linecap="round"/><g clip-path="url(#c44)"><path d="M1536.3 331.2L1540.5 362.3M1532.5 332.9L1539.6 362.8M1531.2 332.2L1535.9 365.1M1526 334.1L1531.7 364.7M1524.2 334.9L1530.8 365.5M1520.6 335.6L1526.9 366.8M1518.5 335.1L1522.9 366.4M1515.8 335.1L1521.2 366.8M1511.7 337L1517.7 367.3M1508.8 335.6L1514.8 368.9M1504.9 336.1L1510.3 367.9" fill="none" stroke="#4682b4" stroke-width="1.7"/></g><path d="M1524 358.5L1517 354.2L1516.2 346.3L1523.3 341L1531.1 345.3L1530.6 354.3ZM1524.5 358.6L1517.2 354L1516.2 345.2L1524.1 341.9L1531.4 346L1531.3 354.7Z" fill="none" stroke="#b22222" stroke-width="2.4" stroke-linejoin="round" stroke-linecap="round"/><g clip-path="url(#c45)"><path d="M1563.8 326.2L1572.9 366M1560.9 328.7L1569.4 367.8M1558.9 328L1567 368.3M1555.2 327.8L1561.7 367.8M1551.8 328.7L1559.5 368.4M1550 328.8L1556.7 369.7M1547.4 329.9L1555.4 368.9M1543.6 331.4L1550.1 370.7M1541.2 330L1548.3 370.7M1538.1 331L1544.8 371.1M1533.9 332.6L1542 372.4M1532.4 332.6L1537.6 372.1M1529.2 334.1L1535.8 372.1" fill="none" stroke="#4682b4" stroke-width="1.7"/></g><path d="M1549.3 361.5L1540.4 355.2L1539.5 344.6L1549.7 338.3L1560.2 344.5L1559.3 356.1ZM1549.4 361.4L1540.7 355.6L1540.2 344.9L1550.2 338.6L1560 344.1L1559.4 355.2Z" fill="none" stroke="#b22222" stroke-width="2.4" stroke-linejoin="round" stroke-linecap="round"/><path d="M1408.1 377.4L1403.7 374.4L1403.5 370.3L1408.3 367.6L1412.4 369.5L1411.4 374.9ZM1408.4 377.4L1403.8 374L1404.4 369.7L1407.6 367.9L1411.9 370.4L1412.2 375.1Z" fill="none" stroke="#b22222" stroke-width="2.6" stroke-linejoin="round" stroke-linecap="round"/><g clip-path="url(#c46)"><path d="M1449.7 348.6L1455.7 389.3M1445.5 349.3L1454.3 390.9M1444.3 349.7L1451.2 390.7M1440.7 349.8L1448.4 391.3M1436.1 350.7L1443.7 392.9M1434.3 350.3L1441.3 392M1432 350L1439.3 393M1429.1 350.2L1435.6 393M1425.2 350.9L1433 394M1422.1 352.4L1430 395.3M1421.3 353.1L1428 395.8M1416.5 353.9L1425.4 396M1413 354.6L1421.6 395.4M1410.6 354L1416.9 398" fill="none" stroke="#4682b4" stroke-width="1.7"/></g><path d="M1433.7 385L1423.3 378.1L1422.6 366.4L1434.4 359.6L1444.5 366.6L1444.9 378.3ZM1433.4 384.7L1422.5 379.1L1423.3 366.8L1433.9 360.6L1444 366.6L1444.5 378.9Z" fill="none" stroke="#b22222" stroke-width="2.4" stroke-linejoin="round" stroke-linecap="round"/><g clip-path="url(#c47)"><path d="M1475.7 347.9L1483.2 391.5M1472.2 347.8L1479.3 390.1M1469.5 347.3L1475.6 390.6M1466.1 348.1L1474.5 391.2M1461.9 350.2L1469.8 393M1460 350.1L1468.4 393.8M1457.9 349.1L1463.6 394.3M1455 350.2L1461.4 395M1451.4 350.7L1459 394.3M1447 352.5L1454.9 395.2M1444.7 353.2L1452.9 397.2M1442.4 352.8L1448.2 396.5M1438.4 354.7L1446.7 396.2M1434.4 354.6L1444.3 398.8" fill="none" stroke="#4682b4" stroke-width="1.7"/></g><path d="M1459.5 384.8L1448.4 378.2L1448.9 366.1L1459.7 360L1471.2 366.1L1470.5 378.8ZM1459.4 385.4L1449.1 378.9L1448.4 366.3L1460.4 359.8L1471.1 366.1L1470.9 378.6Z" fill="none" stroke="#b22222" stroke-width="2.4" stroke-linejoin="round" stroke-linecap="round"/><g clip-path="url(#c48)"><path d="M1493.6 357.1L1497.7 384.2M1491.4 358.9L1495.8 384.6M1488 358.7L1491.7 385.5M1484.4 358.9L1488.2 385M1481.8 360.8L1485.8 385.9M1478.8 360.4L1483.7 386.7M1475.5 360.8L1479.4 387.1M1472.4 361L1476.6 387.8" fill="none" stroke="#4682b4" stroke-width="1.7"/></g><path d="M1484.7 378.4L1480 376L1479.8 369.6L1484.8 365.6L1490.7 369.5L1490.5 375.8ZM1485.8 378.9L1479.4 375.2L1480.3 368.5L1485.7 366.1L1490.1 369L1490.6 375.3Z" fill="none" stroke="#b22222" stroke-width="2.4" stroke-linejoin="round" stroke-linecap="round"/><g clip-path="url(#c49)"><path d="M1523.5 354.2L1528.6 384.6M1520.7 356.2L1524.6 384.6M1517.9 354.7L1523.1 386.3M1514.3 357.1L1518.1 386M1511.7 355.8L1515.1 386.6M1508.1 356.4L1513.2 387.1M1504.9 357.5L1510.5 387.6M1502.7 358.5L1505.9 388.3M1498.1 359.6L1503.7 389.6M1496.7 359.8L1500.5 388.8" fill="none" stroke="#4682b4" stroke-width="1.7"/></g><path d="M1511.3 380.2L1504 375.9L1503.9 368.3L1511.2 365L1518.5 367.8L1518.2 376.9ZM1510.6 380.5L1504.1 376.9L1504.8 368.5L1511.4 364.5L1517.8 367.8L1517.8 376.8Z" fill="none" stroke="#b22222" stroke-width="2.4" stroke-linejoin="round" stroke-linecap="round"/><g clip-path="url(#c50)"><path d="M1545.6 357.1L1550.4 382.9M1544 357.6L1547.2 383M1540.3 358.2L1545 384.5M1537.7 358.3L1540.3 384.3M1533.7 359.4L1538.8 385.4M1531.3 361.3L1535 384.9M1526.2 359.8L1531.8 385.3M1525.1 361.6L1530 387.8" fill="none" stroke="#4682b4" stroke-width="1.7"/></g><path d="M1537.7 378.9L1531.1 375.5L1531.3 368.9L1536.8 366L1542.6 369L1543.1 375.3ZM1537.7 379.3L1531 375.4L1531.6 369.3L1537.7 365.7L1542.7 368.7L1541.9 375.7Z" fill="none" stroke="#b22222" stroke-width="2.4" stroke-linejoin="round" stroke-linecap="round"/><path d="M1562.6 377.5L1557.4 374.4L1557.7 369.9L1561.9 367L1567.4 369.5L1567.1 374.8ZM1561.9 378.4L1557.7 374.8L1558 369.1L1562.9 366.4L1566.7 369.4L1566.6 375.1Z" fill="none" stroke="#b22222" stroke-width="2.4" stroke-linejoin="round" stroke-linecap="round"/><path d="M1587.8 375.1L1585.5 373.8L1585.4 370L1588.9 369.2L1591.6 369.9L1591.6 374.4ZM1588.8 376L1584.9 374.3L1585.9 371.1L1588.2 369.4L1591 370.6L1590.7 374.6Z" fill="none" stroke="#b22222" stroke-width="2.6" stroke-linejoin="round" stroke-linecap="round"/><path d="M1613.5 377.3L1609.8 374.3L1609.9 369.8L1614.8 368.2L1617.8 369.4L1617.9 373.9ZM1614 376.3L1609.9 374.5L1610.5 370.3L1614.3 368.5L1617.6 369.6L1617.4 374.5Z" fill="none" stroke="#b22222" stroke-width="2.6" stroke-linejoin="round" stroke-linecap="round"/><path d="M1395.9 398.8L1391.2 396.9L1392.2 392.8L1395.4 389.6L1399.3 391.9L1399.4 396.8ZM1394.9 399L1391.4 396.8L1391.2 392.1L1395.8 389.8L1399.5 392L1399.6 396.4Z" fill="none" stroke="#b22222" stroke-width="2.6" stroke-linejoin="round" stroke-linecap="round"/><g clip-path="url(#c51)"><path d="M1431.6 380.5L1436.3 404.3M1429 380.3L1432 406.5M1424.8 379.9L1431 405.8M1421.4 380.3L1426.2 407.9M1418.5 381.6L1423.4 407.5M1417.2 380.8L1421.6 407M1414.9 382.4L1419.7 409.2M1411.5 383L1417.2 408M1408.8 383L1413.1 409.1" fill="none" stroke="#4682b4" stroke-width="1.7"/></g><path d="M1420.5 400.3L1414.8 398.1L1415.1 391.1L1421.1 387.7L1426.3 392L1425.9 397.8ZM1420.5 400.6L1416.1 397.6L1415.5 390.7L1420.6 388L1427.2 391.9L1427 398.2Z" fill="none" stroke="#b22222" stroke-width="2.4" stroke-linejoin="round" stroke-linecap="round"/><path d="M1446.7 400.6L1441.6 397.5L1442.2 391.8L1448 388.1L1453.1 392.1L1452.8 397.9ZM1447.7 399.9L1441.7 397.1L1442.8 392.1L1447.8 389.3L1452.9 391.4L1452 397.9Z" fill="none" stroke="#b22222" stroke-width="2.4" stroke-linejoin="round" stroke-linecap="round"/><path d="M1473.4 398.2L1470.4 396.9L1470.1 392.3L1472.4 391.2L1475.9 392.5L1476.4 396.7ZM1472.7 397.3L1469.8 396.8L1470.2 393.1L1472.8 391.5L1476.2 392.3L1476 396.6Z" fill="none" stroke="#b22222" stroke-width="2.6" stroke-linejoin="round" stroke-linecap="round"/><g clip-path="url(#c52)"><path d="M1510.2 377.7L1514.5 405.8M1506.5 379.6L1511.4 405.4M1503.6 380.5L1507.7 408M1500.5 379.8L1505.5 407.6M1496.7 381.2L1501.9 408.8M1492.9 381.7L1498.3 409.5M1490.4 381.2L1496.8 409.2M1487.3 382L1492.8 409.9M1484.7 382.7L1488.9 409.5M1481.7 382.2L1486 409.7" fill="none" stroke="#4682b4" stroke-width="1.7"/></g><path d="M1497.7 401.4L1492.4 398.6L1492.4 390.9L1498 387L1504 391.5L1504.3 398ZM1497.8 401.4L1491.4 397.7L1492.2 390.6L1497.9 387.3L1504.2 391.2L1504.3 398.5Z" fill="none" stroke="#b22222" stroke-width="2.4" stroke-linejoin="round" stroke-linecap="round"/><g clip-path="url(#c53)"><path d="M1539.3 370.7L1547.5 410.1M1536.5 372.4L1543.7 412.3M1533.9 372.5L1540.7 412.1M1530.8 372.9L1538.6 412.8M1527.2 374L1534 413.7M1525.9 373.3L1531.1 414.6M1521.2 373.9L1529.5 414.8M1519 374.4L1525 414.2M1516.5 374.9L1522.9 415.9M1513.8 376.4L1521 414.6M1509.6 377.6L1516.2 417.3M1506.7 376.9L1513.4 417.3M1503.6 376.5L1511.3 416.5M1501.5 376.9L1508.9 417.3" fill="none" stroke="#4682b4" stroke-width="1.7"/></g><path d="M1523.6 405.9L1514.1 400.8L1514.6 389.2L1524.7 382.5L1534.5 389.3L1533.8 400.4ZM1524.6 406.2L1513.9 400L1514.2 389.2L1523.9 383.8L1533.2 389.5L1534.3 399.8Z" fill="none" stroke="#b22222" stroke-width="2.4" stroke-linejoin="round" stroke-linecap="round"/><g clip-path="url(#c54)"><path d="M1566.8 369.5L1573.2 411.1M1563.6 370.7L1570.7 412.7M1558.9 371.5L1566.7 413.7M1555.8 372.5L1564.5 414M1553.2 371.5L1561.8 415.5M1549.7 371.9L1558.4 415.7M1548.1 373.2L1554.8 414.5M1544.8 373.2L1553 415.9M1543 374.5L1549.5 417.2M1537.8 374.9L1547.2 417.9M1535.8 376.1L1544.3 416.6M1532.2 375.3L1541.6 418.1M1530.5 376.2L1538.8 418.3M1527 377L1535.7 419.3" fill="none" stroke="#4682b4" stroke-width="1.7"/></g><path d="M1549.4 406.3L1539.7 400.1L1538.9 388.4L1550.3 381.7L1560.7 388.6L1560.4 400.8ZM1550.3 407.3L1539.6 400.2L1538.7 388.9L1549.7 381.9L1560.8 387.8L1560.4 401.1Z" fill="none" stroke="#b22222" stroke-width="2.4" stroke-linejoin="round" stroke-linecap="round"/><path d="M1576.1 400.5L1571 396.9L1570.5 391.9L1575.3 388.4L1580.3 390.9L1581.7 398.1ZM1575.6 401L1570.4 397.6L1570.1 392.1L1575.5 388.4L1581.5 391.4L1581.5 397.8Z" fill="none" stroke="#b22222" stroke-width="2.4" stroke-linejoin="round" stroke-linecap="round"/><path d="M1602.5 398.7L1598.7 396.1L1598.8 392.6L1602.1 391.1L1604.8 392.2L1604.9 396.8ZM1601.7 397.4L1598.9 396L1598.9 392.5L1601.5 391.8L1604.8 392.9L1604.9 395.6Z" fill="none" stroke="#b22222" stroke-width="2.6" stroke-linejoin="round" stroke-linecap="round"/><g clip-path="url(#c55)"><path d="M1492.1 402.1L1497 428.4M1490.8 402.3L1495.1 427.8M1486.5 402.2L1490.9 429.2M1485.5 404.1L1488.3 428.2M1482 404.5L1486.3 430.3M1480.2 404.2L1483.1 429.9M1476 404.4L1481.1 430.2M1472.1 404.8L1477.9 430.7" fill="none" stroke="#4682b4" stroke-width="1.7"/></g><path d="M1485.2 423.5L1480.1 419.5L1480.3 414.2L1484.9 410.8L1491.4 414.2L1491 419.6ZM1485 423.3L1479.4 419.4L1479.9 413L1484.9 410L1490.7 414.2L1490.9 419.4Z" fill="none" stroke="#b22222" stroke-width="2.4" stroke-linejoin="round" stroke-linecap="round"/><g clip-path="url(#c56)"><path d="M1528.5 391.5L1535.4 434.8M1526.1 391.5L1534.2 436.1M1522.7 391.2L1529.8 436.8M1520.1 392.8L1528 438.2M1516.5 393.6L1524.3 436.9M1513.8 392.1L1523.1 438M1511.8 393.7L1519.4 438.4M1508.9 393.7L1515.9 439.5M1505.6 393.3L1515.6 438.4M1502.8 396L1510 440.7M1500.6 396.4L1507.6 439.4M1497.5 396.9L1504.2 440.1M1493.9 397.7L1502.4 441.4M1492.1 397L1498.1 442.7M1488.2 397.1L1495.9 442.6M1486 397.3L1492 442" fill="none" stroke="#4682b4" stroke-width="1.7"/></g><path d="M1510.6 430L1499.2 423.7L1500.3 410L1511.4 403.2L1522.7 409.6L1523.4 423.5ZM1510.5 430.2L1500.1 424L1499 410.7L1511.2 403.1L1523.3 409.5L1523.1 423.8Z" fill="none" stroke="#b22222" stroke-width="2.4" stroke-linejoin="round" stroke-linecap="round"/><g clip-path="url(#c57)"><path d="M1553 392.6L1559.5 433.2M1549.9 392.4L1557.2 433.5M1547.7 393.1L1553.7 435.6M1544.9 394.7L1552.2 436M1542.2 395.8L1548.7 436.5M1539.3 395.7L1546 436.6M1536.2 395.1L1542 437.2M1534 396.4L1539.7 436.1M1530.8 397L1536.6 436.6M1527.8 398L1534.3 438.4M1523.3 398L1531 439.9M1520.3 398.4L1529.6 439.8M1519 398.2L1526.4 439.1M1514.9 399.7L1522.6 440.9M1512.2 400.5L1520.6 440.3" fill="none" stroke="#4682b4" stroke-width="1.7"/></g><path d="M1536.9 427.9L1526.3 422.5L1527.3 411.3L1537.1 405L1547.5 411.1L1547.5 422.8ZM1537.1 427.9L1526.4 422.1L1526.6 410.9L1536.8 404.5L1547.9 410.5L1547.8 422.8Z" fill="none" stroke="#b22222" stroke-width="2.4" stroke-linejoin="round" stroke-linecap="round"/><path d="M1561.9 420.1L1559.4 418.3L1559.1 414.6L1562.9 412.9L1565.3 415.2L1565.2 419.1ZM1561.8 420L1559.9 418.4L1560 415.7L1562.6 413.1L1565.3 414.4L1565.2 419.1Z" fill="none" stroke="#b22222" stroke-width="2.6" stroke-linejoin="round" stroke-linecap="round"/><g clip-path="url(#c58)"><path d="M1484.1 422.3L1490.5 451.3M1481.7 421.6L1486.9 450.5M1478 422.3L1482.9 452.2M1474.6 424.5L1480 453.5M1472.8 424.6L1477.8 452.4M1469.1 425.1L1475.4 453.1M1465.5 425.7L1472.5 454.8M1462.8 426.1L1467.7 454.6M1459.8 427.2L1466 456M1458.4 426.1L1463 454.5" fill="none" stroke="#4682b4" stroke-width="1.7"/></g><path d="M1472.7 446.8L1466.4 442L1466.1 435.3L1472.2 431.8L1479.1 434.7L1479.8 443ZM1473.4 446.5L1467 443.1L1465.9 434.8L1472.4 431.9L1479.1 435L1479 443.1Z" fill="none" stroke="#b22222" stroke-width="2.4" stroke-linejoin="round" stroke-linecap="round"/><g clip-path="url(#c59)"><path d="M1516 414.5L1522.4 456.3M1512.9 413.5L1520.8 458.3M1508.8 413.9L1516.5 459.3M1506.3 416.2L1513.1 458.6M1504.6 415L1510.1 459.6M1499.7 416.7L1507.4 460.5M1497.2 416.2L1504.3 461M1495.7 416.2L1501 460.1M1492 417.9L1498.8 461.1M1488 417.2L1496 462.6M1486.6 418.5L1493.2 461.2M1483 418.4L1490.3 463.3M1479.7 419.9L1489.1 464.4M1477.9 421.1L1485.1 463.2M1474.8 420.6L1482.2 465" fill="none" stroke="#4682b4" stroke-width="1.7"/></g><path d="M1498.1 452.3L1487.4 446L1487.5 432.5L1498.3 425.5L1508.5 432.4L1509.3 445.5ZM1498.6 452.2L1486.6 445.5L1486.7 432.3L1497.4 425.8L1509.6 432.1L1509.2 445.4Z" fill="none" stroke="#b22222" stroke-width="2.4" stroke-linejoin="round" stroke-linecap="round"/><g clip-path="url(#c60)"><path d="M1538.9 414.2L1547 456.1M1537 416.2L1544.5 455.6M1534 415.8L1541.8 456.1M1531.7 416.4L1537.3 457.4M1529.3 416.6L1534.7 457M1525.9 417L1532 459.3M1523.2 417L1530.2 459.6M1519.6 419.1L1526.5 458.9M1517.3 418.1L1522.5 459M1514.2 420.6L1521.1 461.4M1510.5 421L1517.3 460.4M1506 421.4L1515.6 461.4M1503.4 420.5L1510.3 462.7M1500.3 422.9L1508.5 463.4" fill="none" stroke="#4682b4" stroke-width="1.7"/></g><path d="M1524.1 451L1513.3 445.3L1514 432.8L1523.4 427.5L1533.8 432.8L1534.3 445.2ZM1523.8 450.5L1513.3 445L1513.6 433.2L1524.6 427.5L1534.5 433.3L1534.1 445.5Z" fill="none" stroke="#b22222" stroke-width="2.4" stroke-linejoin="round" stroke-linecap="round"/><path d="M1550.5 443.4L1545.4 441.8L1546.2 436L1550.4 434.1L1554.4 437.2L1554.7 440.9ZM1549.9 443.9L1546.1 440.9L1546.1 436.2L1549.9 434.5L1554.4 436.5L1554.7 441.3Z" fill="none" stroke="#b22222" stroke-width="2.6" stroke-linejoin="round" stroke-linecap="round"/><path d="M1484.7 464.3L1481.8 462.8L1482.5 459.6L1485.3 457.4L1487.8 459.7L1488 462.6ZM1485.8 464.1L1481.6 463.4L1482.7 460L1485.6 458.4L1488.7 459.1L1487.8 462.9Z" fill="none" stroke="#b22222" stroke-width="2.6" stroke-linejoin="round" stroke-linecap="round"/><path d="M1511.4 464.7L1508.4 462.8L1507.5 459.6L1511.8 458.1L1514.2 459.4L1514.4 462.5ZM1511.6 464.7L1507.4 463.1L1508.4 459L1511.2 458.2L1514.5 459.6L1513.7 462.3Z" fill="none" stroke="#b22222" stroke-width="2.6" stroke-linejoin="round" stroke-linecap="round"/><path d="M1388.3 316.2h6" stroke="#111" stroke-width="1.3"/><text x="1383.3" y="320.7" text-anchor="end" font-size="15" fill="#111" stroke="#111" stroke-width="0.1"  textLength="14.7" lengthAdjust="spacingAndGlyphs">20</text><path d="M1388.3 356.2h6" stroke="#111" stroke-width="1.3"/><text x="1383.3" y="360.7" text-anchor="end" font-size="15" fill="#111" stroke="#111" stroke-width="0.1"  textLength="14.7" lengthAdjust="spacingAndGlyphs">18</text><path d="M1388.3 396.5h6" stroke="#111" stroke-width="1.3"/><text x="1383.3" y="401" text-anchor="end" font-size="15" fill="#111" stroke="#111" stroke-width="0.1"  textLength="14.7" lengthAdjust="spacingAndGlyphs">16</text><path d="M1388.3 436.5h6" stroke="#111" stroke-width="1.3"/><text x="1383.3" y="441" text-anchor="end" font-size="15" fill="#111" stroke="#111" stroke-width="0.1"  textLength="14.7" lengthAdjust="spacingAndGlyphs">14</text><path d="M1461 454v6" stroke="#111" stroke-width="1.3"/><text x="1461" y="477" text-anchor="middle" font-size="15" fill="#111" stroke="#111" stroke-width="0.1"  textLength="14.7" lengthAdjust="spacingAndGlyphs">40</text><path d="M1545.5 454v6" stroke="#111" stroke-width="1.3"/><text x="1545.5" y="477" text-anchor="middle" font-size="15" fill="#111" stroke="#111" stroke-width="0.1"  textLength="14.7" lengthAdjust="spacingAndGlyphs">50</text><path d="M1349.3 267.8L1353.5 263.6L1357.7 267.8Z" fill="#111"/><path d="M1353.5 266.6V279.1" stroke="#111" stroke-width="2.2"/><text x="1370.5" y="279.6" text-anchor="start" font-size="16.5" fill="#111" stroke="#111" stroke-width="0.1"  textLength="152" lengthAdjust="spacingAndGlyphs">culmen_depth_mm</text><path d="M1641.8 477.8L1646 482L1641.8 486.2Z" fill="#111"/><path d="M1630 482H1643" stroke="#111" stroke-width="2"/><text x="1459.8" y="487" text-anchor="start" font-size="16.5" fill="#111" stroke="#111" stroke-width="0.1"  textLength="157" lengthAdjust="spacingAndGlyphs">culmen_length_mm</text><rect x="1678.5" y="260" width="307.9" height="231.6" fill="#fbf8f1"/><path d="M1727.3 450.5L1824.8 288.6L1922.4 404.1L1961 338M1730.3 454.5L1829.8 283.6L1924.4 405.1L1962 336" fill="none" stroke="#b22222" stroke-width="2.2" stroke-linejoin="round"/><path d="M1723.3 454.5h6" stroke="#111" stroke-width="1.3"/><text x="1718.3" y="459" text-anchor="end" font-size="15" fill="#111" stroke="#111" stroke-width="0.1"  textLength="7.3" lengthAdjust="spacingAndGlyphs">0</text><path d="M1723.3 420.9h6" stroke="#111" stroke-width="1.3"/><text x="1718.3" y="425.4" text-anchor="end" font-size="15" fill="#111" stroke="#111" stroke-width="0.1"  textLength="7.3" lengthAdjust="spacingAndGlyphs">2</text><path d="M1723.3 387.3h6" stroke="#111" stroke-width="1.3"/><text x="1718.3" y="391.8" text-anchor="end" font-size="15" fill="#111" stroke="#111" stroke-width="0.1"  textLength="7.3" lengthAdjust="spacingAndGlyphs">4</text><path d="M1723.3 353.8h6" stroke="#111" stroke-width="1.3"/><text x="1718.3" y="358.3" text-anchor="end" font-size="15" fill="#111" stroke="#111" stroke-width="0.1"  textLength="7.3" lengthAdjust="spacingAndGlyphs">6</text><path d="M1723.3 320.2h6" stroke="#111" stroke-width="1.3"/><text x="1718.3" y="324.7" text-anchor="end" font-size="15" fill="#111" stroke="#111" stroke-width="0.1"  textLength="7.3" lengthAdjust="spacingAndGlyphs">8</text><path d="M1723.3 286.6h6" stroke="#111" stroke-width="1.3"/><text x="1718.3" y="291.1" text-anchor="end" font-size="15" fill="#111" stroke="#111" stroke-width="0.1"  textLength="14.7" lengthAdjust="spacingAndGlyphs">10</text><path d="M1729.3 455v6" stroke="#111" stroke-width="1.3"/><text x="1729.3" y="479" text-anchor="middle" font-size="15" fill="#111" stroke="#111" stroke-width="0.1"  textLength="7.3" lengthAdjust="spacingAndGlyphs">0</text><path d="M1825.8 455v6" stroke="#111" stroke-width="1.3"/><text x="1825.8" y="479" text-anchor="middle" font-size="15" fill="#111" stroke="#111" stroke-width="0.1"  textLength="7.3" lengthAdjust="spacingAndGlyphs">5</text><path d="M1922.4 455v6" stroke="#111" stroke-width="1.3"/><text x="1922.4" y="479" text-anchor="middle" font-size="15" fill="#111" stroke="#111" stroke-width="0.1"  textLength="14.7" lengthAdjust="spacingAndGlyphs">10</text><path d="M1684.3 265.2L1688.5 261L1692.7 265.2Z" fill="#111"/><path d="M1688.5 264V276.5" stroke="#111" stroke-width="2.2"/><text x="1705.5" y="277" text-anchor="start" font-size="15" fill="#111" stroke="#111" stroke-width="0.1"  textLength="6.6" lengthAdjust="spacingAndGlyphs">y</text><text x="1947.8" y="487" text-anchor="middle" font-size="15" fill="#111" stroke="#111" stroke-width="0.1"  textLength="6.6" lengthAdjust="spacingAndGlyphs">x</text><path d="M1976.8 477.8L1981 482L1976.8 486.2Z" fill="#111"/><path d="M1965 482H1978" stroke="#111" stroke-width="2"/><rect x="8" y="514.5" width="308.8" height="230.3" fill="#fbf8f1"/><g clip-path="url(#ctr)"><g clip-path="url(#c61)"><path d="M0.1 730.9L72.3 445.8M5.5 734.2L77.8 447.4M8.4 734L82.3 448.7M14.8 736.9L87 450.1M20 736.9L91.4 449.8M24.4 738.3L94.8 452.1M28.1 737.2L99.2 452.4M32.4 739.5L102.2 453M36.9 739.2L108.9 456.4M41.5 742L112.2 455M44.9 743.8L117.2 456M51.7 745.6L122.4 458.8M54.1 744.8L125.5 460.7M59.9 746.4L130.2 460.9M64.5 748L135.3 462.6M69.1 748.7L140.9 463.4M73.8 749.2L142.9 463.7M79 752L147.2 464.9M80.3 751.7L153.8 466.8M86.7 752L156.3 468M89.5 753.4L160.5 467.7M94.4 755.1L164.1 468.3M97.2 754.9L169 471.6M102.2 756.9L173.4 469.8M107.8 757.1L178.1 472M109.9 758L181.7 473.4M116.5 761.3L187 476.1M118.3 760.2L191.8 474.5M123.2 764.1L195.3 477.6M129.1 763.1L199 477.1M134.2 764.1L203.4 478M137.3 767.5L209.6 479.8M141.6 766.5L212.9 480.9M145.8 767.8L216.2 482.5M151.2 769.5L222.9 481.9M154.9 771.1L225.4 484.2M160.2 771.9L232 484.3M163.4 772.2L236.9 485.3M169.5 774.3L239.6 486.8M172.3 776.1L242.5 489.1M177.2 774.9L249.8 491.4M183.4 777.7L253.1 491.6M185.5 779.4L257.5 493.8M191.7 779.2L263.9 493.4M194.9 780.3L265.5 494.9M199 780L270 495.5M202.5 783.9L275.7 495.1M207.8 782.4L278.9 498.8M214.2 784.3L286.1 498.1M217.2 787.4L288.9 501.3M223.8 787.6L294.9 502M229 787.4L298.4 503.2M231.9 788.3L302.4 504.1M235.7 789.4L308.7 503.7M242.2 791.5L310.9 506.1M245.7 791.4L315.2 507.7M250.2 793.3L322.4 508.6M252.6 793.7L325.2 510.2M256.8 794.4L329.8 508.7M260.6 796.3L334.7 512.4M266.4 797.6L337.5 513.7M271.4 799.3L341.8 513.3M276.7 799.6L348.1 514.8M281 800.5L351.4 515.7" fill="none" stroke="#23171b" stroke-width="2.0"/></g><g clip-path="url(#c62)"><path d="M37.9 728L73.7 463.6M38.1 728.4L77.9 463.7M40.1 727.8L78.2 464.9M44.4 730L80.8 465M45.3 731L84.4 468M49.8 728.7L85.9 468.4M50 729.2L88.2 468.5M51.8 729L91.3 468.2M56.5 729.7L94.8 466.8M56.6 730L96.8 469.2M59.4 732.6L98.2 469.7M65.1 733.8L100.5 469.8M66 733.1L103.8 470.4M69.5 732.6L104.1 468.7M70.6 734.6L107.5 468.5M73.7 732.2L110 469.4M74.9 733.5L111.9 469.9M75.9 735L113.4 471.8M79.7 735.3L115.5 471.2M84.3 735.3L120.3 472.8M84.1 736L122.6 470M88 736.7L123.7 471.2M88.3 736.2L125.7 472.5M92.6 736.2L131.1 474.4M96.7 736.1L133.4 473.2M97.7 738.7L135.8 473.7M98.7 736.7L137.4 472.5M102.9 737.5L140.5 475.5M103.4 738.8L143.2 475M106.8 736.8L142.7 473.7M109.2 740.3L147.4 474M113.8 739.8L150.6 474.1M116.5 738.4L152.8 477.5M119.2 740.7L156.1 474.9M117.9 741.3L155.2 478M121 740.4L158.2 477.4M125.9 740.8L162.1 478.9M128.4 739.8L162.4 476.8M128.5 741.8L167.9 477.8M131.1 742.2L170.4 477.4M132.4 742.3L169.4 477.4M137.4 742.8L174.7 478.6M139.5 744.4L175.1 478.9M143.1 742.2L177.8 479.4M145.2 742.2L182 479.4M148.5 742.4L182.4 482M149.4 742.7L186.6 481M152.4 745.3L187.2 481.2M153.3 743.2L189.9 480.1M158.5 743.6L193.7 482.4M159.1 745.4L195.3 481.5M161.1 745.3L197.8 482.1M163.6 745.8L203.4 482.3M166.1 748.3L203.2 482M168.1 746.1L206.8 484M171.4 748.7L210.1 485.5M173.3 748.8L209.6 484.7M175.7 747.4L212.1 486.2M178.2 749.3L215.6 485.5M180.1 749.2L216.7 485.4M182.4 749.7L222 484.9M185.7 749.2L224.1 486.3M188.2 750.9L224.8 487.7M190.7 750.1L227.2 485.9M193.1 750.9L230.5 485.7M196.4 752.5L234.8 488.2M200.5 750.6L237.7 487.9M201.1 750.9L238.6 487.8M204.3 752.9L240.6 489M207.6 750.8L244.5 489.4M209.1 752.8L247.9 490.2M211.2 754.4L247.9 488.2M213.6 751.8L250.4 491.6M216.5 752L254.4 491M218.2 755.1L254.6 491.4M220.3 753.8L258.5 490.7M224.6 754.9L259.8 490.6M226.2 755.3L265.2 493M228.8 754.1L265.5 493.2M230.8 756.3L268 492.1M234.3 754.5L272.6 494.2M235.1 757.9L275.2 492M239.7 756.3L277.9 492M240.6 756L278 494M244.7 758.2L281.2 496M248.2 759.2L282.1 493.5M248 758L286 493.8M250.6 757.3L288.6 494.5M254.7 758.6L290.3 496.7M257.3 760.8L291.6 494.7M260.1 758.5L294.1 496.3M260.2 758.8L298.4 496M263.6 761L298.8 497.8M265.4 762.2L303.8 497.2M267.3 760.8L305.2 495.7M268.2 759.9L307.3 496.9M273.7 759.7L309 499M276.3 760.5L309.9 499.7M276.9 761L312.8 500.4M280.1 763.4L315.6 499.7M284.3 761.7L320.6 499.5M286.3 763.5L322 500.8M287.6 765L323 501M291.1 762.4L325.9 499.3M293.5 764.2L330.8 499.8M295.8 764.1L331.9 499.9M299.5 766.4L336.5 501.8M301.1 765.6L336.9 502.9" fill="none" stroke="#4a58dd" stroke-width="2.1"/></g><g clip-path="url(#c63)"><path d="M51 717L85.8 469.2M54.9 718.4L88 470.1M54.9 717.6L89.8 468.4M58.1 719.7L94.7 469.1M58.9 720.5L96 471.9M64.6 719.2L99.5 471.4M64.7 720.4L99.2 472.7M66.8 720.2L102.5 470.8M69.6 720.1L105.4 472.3M72.5 722.1L108.4 473.5M75.3 723.4L112.4 471.5M78.7 721.4L113.5 473.2M79 722.4L114.9 474.7M84.4 721.1L117.2 474.7M84.5 724.1L121.1 474.4M89 723.1L124.8 473.2M89.7 722.1L124.6 473.1M94.8 723.3L129.5 474.7M96.7 726L131.6 474.6M98 725.3L133.3 475.1M100 725.9L137.2 476.6M103.1 724L140.1 474.8M106.6 726.7L143 476.3M107.5 727.3L144.6 478.4M109.5 725.9L146.8 478.3M112.4 727.4L149.1 479.2M117.4 728.1L151.7 479.7M119.3 729L152.3 476.7M120.2 727.1L155.4 479.8M122.5 729.8L158.5 479.3M125.2 729L158.8 479.5M128.3 727.4L164 480.7M132 731L165.5 480.5M132.7 730.9L168.5 479.3M133.9 729.4L171.5 482.1M139.2 729.1L174.3 480.4M140.5 731.6L176.7 480.8M141.3 732.2L177.9 482.7M143.4 732.9L179.7 482.7M148.6 731.9L182.1 483.2M150.8 732.6L185.7 481.1M152.9 731.6L186.2 481.9M154.9 733.7L190 483.3M157.7 733.3L192.1 483.5M159.5 733.4L193.6 485M162.4 732.6L198.4 483.3M164.5 734.3L197.8 483.8M168.4 733.4L202.5 484.4M170.1 736.3L203.6 485.1M173.6 734.7L207.5 485M173.9 735L211.3 484.9M178.2 735.4L214.2 487.1M179.6 735.8L214.9 485.9M180.9 737.7L217.4 487.5M184.7 736.4L219.6 487.5M187.6 736.9L222.8 486.5M190.8 738.5L226.7 487.1M193.2 737.2L227.3 488.3M195 739.3L227.7 489.5M195.5 740.1L232.3 489.7M197.4 740L234.3 488.2M200.9 738.6L238 490.2M204.9 738.5L240.3 488.8M205.9 739.3L239.6 490.6M208.4 741.3L244.9 489.6M213.1 741.5L246.2 490M214 741.7L250.3 490.8M217.4 742.3L252 493.6M220.2 743.2L254.2 492.2M221 740.3L255.4 492.6M221.9 743.9L257.7 494.8M224.9 744.3L260.7 492.8M228.8 742.2L264.5 494.9M231.3 742.6L264.8 494.2M231.6 744.2L268.3 495.5M236.5 743.7L271.4 493.5M237.1 744.7L271.8 495.9M241.1 744.3L274.2 496.5M243.4 746.3L279.3 497M244.8 745.8L280.8 497.3M249 747.5L285.3 498.3M250.8 747L286.5 498M251.6 747.3L289.9 497.6M255.3 748L292.7 497.8M257.7 748.1L293.2 497.2M259 746.1L294.3 497.1M264.2 748.5L297.8 497.7M265.6 749.3L302.6 498.5M266.4 748.4L301.4 498.7M272.1 748.3L306.1 498.7M273.3 749.5L306.3 499.9M274.6 750.6L308.8 499.3M279.6 749.2L314.2 499.5M281.1 749L317.4 500.5M283.9 751.6L317 502.3M285 751.3L321.5 500.1M289 750.2L323.8 500.8M290.2 753L325.7 501.8M293.9 751L328.9 503.9M296.4 751.1L329.5 501.9M297.9 754.4L331.9 504.6" fill="none" stroke="#3c7ae9" stroke-width="2.1"/></g><g clip-path="url(#c64)"><path d="M66.6 707.8L100.5 473.8M67.8 709.1L103.1 474M71.2 707.7L104.7 473.6M74.1 710.8L106 474.7M77.4 708.2L110.8 473.7M78.2 709.9L110.7 474.1M80.6 710.2L115.9 475M84.9 709.6L115.9 475.3M87.7 709.9L118.8 475.4M88.1 711.7L120.9 478M90.5 711.7L124.9 475.9M94.7 710.5L127 475.2M98.4 713.4L130.6 476.8M97.1 712.8L130.2 479.2M102.6 712.1L134.6 478.9M101.9 714.6L136.4 478.2M105.5 714L139.8 477M108.8 715L141.5 478M109.5 715.2L143.3 478.7M112.8 713.3L146.5 479.6M115.6 715.2L150.2 480.8M116.7 715.7L150.9 480.3M120.8 715.2L153.5 479M122.9 716.6L156.5 481.5M124.4 714.7L160.5 482.9M129.5 718.1L160.8 483.1M130.7 718.2L164.6 482.1M132.1 719.1L166.7 481.5M134.6 717.5L168.2 481.7M137.6 717.9L171.1 484.8M140.7 720L175.4 484.9M144.6 718.5L176.4 485M146.4 719.3L177.2 484.8M149.8 718.3L180.3 485.9M150.6 718.2L183.1 484.7M153.4 720.3L187.8 484M156.5 720.7L189 487.3M155.9 722.4L189.3 486.3M161.2 720.5L193.3 486.5M162.3 720L196.3 485.1M164.7 720.1L199.2 487.6M167.1 720.9L199.8 488.8M170 720.8L202.7 488.1M171.1 724.1L204.1 489.5M176.2 722.2L208 488.7M177 725L210.3 488.7M181.3 723.9L212.5 487.9M182.1 723L215.5 490.8M186.6 723.3L218.6 489.8M186.2 724.2L220.4 488.9M190.2 725.1L222.1 492.1M194.4 727.4L226.7 491.4M194.1 727.6L226.4 490.3M196.2 725.4L231 491.9M199.5 725.4L232 492M203.8 728.5L235.7 491.9M204 727.8L238.5 492.7M208.4 727.6L240.4 493.8M209.4 729.4L245.2 492.4M213.3 730.1L245.7 492.9M214.8 727.3L247.2 493.8M217 730.2L250.9 495.8M220.3 729.1L255 495M223.9 730L255.9 495.9M226.2 730.9L257.3 496M226.1 731.6L259.3 494.9M229.5 732.4L261.4 496.4M232.9 730.8L267.2 494.7M236.4 731.6L268.7 498M235.7 730.3L272.1 497.4M238.5 731.9L273.6 496.7M240.8 732.3L275.4 497.3M243.1 734.8L278.1 497.9M247 734L278.4 499.1M247.8 734.6L282.2 497.2M252.5 734.3L285.4 500.3M255.5 733.9L286.9 498.9M257.6 733.1L288.3 500.8M257.3 736.5L293 499.3M260.8 735.5L296.2 499.1M262.9 734.7L295.5 500.7M267.9 737.2L299.6 501.3M269.3 737.1L301.6 501.6M272.9 738L304.2 500.2M274.7 735.7L305.4 503.8M276.8 739.2L308.8 501.8M279.1 739.4L313.2 501.5M282 738.7L314.4 502.4M283.7 739.2L317.5 502.2M287.8 740.7L319.9 505.1M289.6 740.3L321.9 504.2M293.2 740.7L325.7 503.8M295 740.6L326.2 504.4M297.3 740.2L328.4 504.5M298.2 741.4L331.8 504.9" fill="none" stroke="#2f9df5" stroke-width="2.1"/></g><g clip-path="url(#c65)"><path d="M79 696.6L110.1 476.9M83.4 699.4L112.4 476.7M83.9 698.9L115.4 479.2M86.6 699.9L119.6 477.2M89.1 700.4L120.8 478.8M91.6 698.3L124.1 478.1M96 700L125.3 480.5M97.4 698.9L128.9 478.8M100.4 701.8L129.4 479.3M103.8 701.2L132.3 479.3M105.8 701.3L135.6 482.1M108.1 701.9L138.5 480.5M111.2 700.2L141.6 481M111.9 703.7L144.2 480.3M114.5 701.1L146.1 481.5M117.6 703.8L148.2 481.4M118.9 702.5L149.9 483.8M121.8 702.1L152.4 482.3M125.3 703.4L157.2 484.9M127.4 702.9L157.6 483.8M130 706.4L163 484.9M134.1 705.2L164.6 485M136.3 706.7L166.1 486.3M139.9 706.2L167.4 484.1M139 704.6L173 484M141.4 708.1L172 485.4M144.2 707.3L175.9 487.6M146.3 707.3L178.5 486.3M151.2 706.4L180 486.5M153 707.5L182.6 487.6M152.5 709.1L184.6 487M156.1 708L186.6 486.5M160.6 709.3L190.1 488.3M161.9 708.9L192.8 487.2M164.2 709.7L193.9 488M165.2 710.1L198.7 490.7M170.4 712L201.8 487.9M170.1 711.1L204.2 491.3M173.3 710.8L203.2 490.3M175 712.7L207.6 488.8M180.2 712.6L208.4 492.1M180.3 710.7L211.9 491.5M183.6 712.9L216.7 492.1M188.4 712.5L216 490.2M190.7 714.4L222 492.9M192.5 713.5L222.1 492.7M195 712.9L225.9 494.1M196.8 715L229.4 494.7M198.4 714.8L228.7 494M202.4 713.1L233 494.6M204.9 713.9L235.6 495.9M205.9 715.5L238 495.2M210.4 716.1L241.4 496.1M210.7 715.7L243.1 493.9M213.8 716.3L244.9 494.6M218 718L249.4 496.6M220 717.1L249.4 497.5M220 719.1L253.2 496.1M222.9 718.2L255.1 497.1M224.6 719.4L257 498.6M230 717.2L260.2 499.3M230.2 719.7L260.9 498.2M233.9 719.3L264.3 499.4M236.4 720.9L267.5 499.4M239.5 720.4L270 498.5M241.3 718.5L271.5 499.7M243.4 720.3L272.5 498.6M245.9 721L275.1 501.9M247.3 721.1L278 499M250.3 720.1L280.2 502.2M254.6 722.1L285.6 500.3M254.8 723.9L287.1 500.9M256.9 723.3L288.6 501.1M261.3 723.8L290.8 500.9M263.8 721.8L294.8 502.1M265.5 724.5L296.1 501.7M268.4 724.6L297 501.6M270.3 723.1L298.2 501.9M271.3 723.1L302.4 503.5M273.7 724.2L305.3 505.9M277.4 724.4L307.5 502.8M278.1 725.6L307.6 503.3M281.3 724.4L312.6 504.5M282.9 726.1L316 506.9M287.4 726.1L317.9 506.1M289.6 726.5L320.9 507.4M292 725.6L323.1 505.8M292 729L322.9 505.5M296.9 727.2L327.1 508.1M296.9 730L331 509.3" fill="none" stroke="#2bbadc" stroke-width="2.1"/></g><g clip-path="url(#c66)"><path d="M94.6 688.8L124.8 481.2M96.3 687.5L125.5 480.3M98.8 688.4L127.9 483.1M101.1 688.1L132.1 482.7M103.4 687.5L133.8 483.7M105.2 690.1L134.6 483.5M107.9 688.8L138.2 481.5M111.3 691.4L140.1 483.9M113.8 691.7L143.9 483.2M116.1 689.1L146.1 483M121.2 691.7L149.1 485.9M120.4 690L149.5 485.8M125.5 691L151.4 486.2M126.3 691.1L155.1 484.5M127.1 692.7L159 484.7M132.6 694.4L159.4 485.2M132 692.5L163.1 485.8M134.5 693.3L166.3 487.9M137.3 693.8L168.1 488.2M141.4 693L169.9 486.8M145 693.8L172 486M144.7 694.3L174.8 488M147.6 694L177.7 490.2M150.4 694.1L181.6 488M152.8 696.7L184.2 487.8M157.3 694.6L184.4 488.1M158.9 694.8L186.6 489.2M160.5 698.1L189.8 489.6M162.8 698.7L194 492.1M165.7 698.9L194.9 489.9M169.5 698.1L198.9 492.4M173.3 699.9L202.4 491.1M175.8 697.5L204.4 493.9M178.2 698.5L207.1 493.7M180.4 698.8L207.8 494.5M183.4 698.1L209.1 491.6M185.6 700.2L213.4 494M186.6 699.8L214.7 493.9M189.4 701.6L218.8 495.2M190.9 702.4L222.2 494.4M194.5 702.4L222.3 496.6M196 702.2L226.5 494.2M198.2 701.3L227.2 495.4M200.7 703.4L231 495.5M204.4 704.6L233 495.4M205 704.9L235.5 496.3M208 703.9L239.2 495.9M212.9 703.2L241.2 498.3M215.8 705.5L241.9 497.2M216.8 702.9L244.1 499.5M219.7 705.3L249.5 498.8M222.8 705.4L249 497.6M224.7 706.3L251.3 498.2M227.5 707.6L253.8 499.6M229.3 705L257.2 499M231.1 708L260.6 501M233.6 705.4L264 500.2M235.1 707.2L265.2 500.6M237.5 708.8L267.6 500.8M241 707.1L270.5 502.5M243.1 707.1L271.9 502.1M247.3 707.7L275.4 502.9M247.5 710.1L278.9 502.5M251.4 707.8L279.6 503.8M252.6 708.1L280.8 503.2M256.1 710.2L282.8 503.3M256.4 711.6L288.9 503.4M260.9 710.5L290.6 503.6M262.7 712.9L293.5 503.9M264 713.3L293.5 505.9M267.3 712.4L296.7 505.6M271.2 713.6L300.4 507.2M271.9 714.1L300.2 506.8M276.1 711.8L305.2 507.3M276.7 711.6L308.7 506.5M279.9 712.8L309.5 508.1M282.8 712.9L311.4 506.4M285.2 712.8L314.1 507.3M288.4 714.7L315 507.7M290.6 714.2L318.1 507.2M292.2 715.6L319.9 508.9M295.5 716.8L324 510.3M298.1 715.9L327.1 510.2" fill="none" stroke="#27d7c4" stroke-width="2.1"/></g><g clip-path="url(#c67)"><path d="M105.6 675.4L134.7 483M108.6 676.8L135.7 486.4M111.7 676.3L139.4 485.7M113.4 678.9L140.9 483.8M115.6 678.8L142.6 487M119 677.6L147.1 485.7M120.4 679.4L147.5 486.7M124.2 679.2L150.7 487.8M125.8 680.4L151.7 488.2M127.8 679.5L153.8 485.8M132.3 681.3L159.5 486.8M133.4 681.8L160.9 486.8M137.4 679.6L161.8 488.2M140.4 682L167.3 489.6M141.3 680.3L168 487.9M141.6 680.5L169 490.2M145.8 682.5L171.8 490.8M150.2 683.7L175.1 490.1M150.8 683.3L177 491.5M154.3 684.8L179.6 489.3M157.1 683L181.5 491.6M159.1 684.6L185.4 490.5M160.9 684.8L186.9 491.9M163.6 683.2L190.4 493M166.8 683.9L191.6 491.5M166.6 683.9L196.4 491.8M170.4 684.6L198.3 495M174.1 686.6L199.4 494M176.4 688.4L203.5 495.1M178.5 687.6L206.2 494.6M181.2 687.6L208.3 495.8M183.7 685.9L208.4 493.6M184.1 687.6L212.7 495M185.6 689L213.7 496.8M191.2 689.3L216.6 494.5M192.9 689.6L220.4 495.1M194 689.5L222.1 498.2M195.5 689.9L224 497.3M199.1 689.4L227.4 495.9M199.9 690.2L228.5 497.9M203.6 689.4L232.5 499.4M207.5 689.6L234.3 500.1M211 690.1L237.4 498.4M212.8 692L240.7 498.2M215.6 690.4L240.2 499.3M218.5 692.3L244.9 501.2M218.4 693.8L248.2 501.3M224.1 695L248.7 501.9M223.5 694.9L253.8 499.4M229.2 693.2L255.9 502.6M228.9 694.5L258.5 501.6M234.1 694.2L258.1 501.1M234.5 693.7L262.9 501.6M238.2 695.9L266 502.8M241.1 696.9L267.7 502.5M243.4 694.3L271.4 503M246.9 697.3L272.8 503.6M246.8 697.8L274.5 505.8M250.2 695.6L275.7 504.3M252.1 698.2L279.9 504.4M253.7 697.7L283 507M255.2 698.3L282.9 505.2M258.2 698.1L284.9 504.1M261 698.9L289.7 506.9M264.2 700.6L291.4 506.9M267.9 700L292.4 505.4M269.3 701.3L297 506.2M270.5 699.9L297.2 507.1M274.5 699L300.2 508.6M277.9 702.7L303 508.1M280.4 701.9L307 508.9M283.7 702.3L310.6 510M286.7 701.5L310.9 510.9M285.8 703.9L315.1 508.4M288.8 702.1L315.4 508.5M292.3 704.3L318.7 510M296.4 702.7L322.6 511.1M296.5 704.8L323.6 513.1" fill="none" stroke="#3ae8a4" stroke-width="2.1"/></g><g clip-path="url(#c68)"><path d="M121.8 668.2L144 489.4M122.4 668.8L149.6 489.4M126.2 668.2L148.7 489.1M128.9 669.3L152.7 488.4M130.4 666.5L155 491.4M132.2 668L156 490M136.9 670.4L161.3 490M136.7 668.5L162.7 491.3M141.6 670.1L167 491.1M141.9 668.1L167.4 491.6M146.2 669L172.2 492.2M148.4 669.2L172.7 492.1M152 672.6L177.2 494M154.7 669.5L178.7 494.1M156 671.7L180.2 494.7M159.4 672.1L182.7 493.5M160.2 672.4L185.9 495.2M163.5 672.2L187.1 493.8M166 672.4L189.2 494.4M167.8 672.2L190.5 495M170.9 675.2L196.3 494.8M172.5 675L194.9 497.4M173.7 673.5L200.1 497M175.8 673.8L199.6 497.4M178.2 675.1L203.6 497.6M179.6 674.5L204.7 495.9M184.5 675.8L210.7 496M186.5 677.3L210.5 496.3M189 676.4L214.2 496.8M190.9 677.2L218.7 499.9M193.8 678L221.4 498.8M198.2 676.7L222.7 500.2M202.2 677.4L225.4 500.7M201.4 677.7L227.1 499.6M207.5 679.3L232.4 500.8M207.8 679.3L232 500.2M210.3 679.4L235.3 502.5M212.4 681.1L236.3 502M216.9 679.2L238.9 502.3M218 681.9L243 503.1M221.2 681.6L247.4 502.5M223.9 682L248.9 503.1M223.6 681.6L251.1 502M227.4 681.7L251 504.7M229.5 683.4L254.9 505.5M232.2 681.5L257.9 503.5M234.2 682.2L260.9 504.8M237.9 681.6L261.8 504M240.8 682.8L265.7 504.1M242.6 683.8L267 506.4M246.8 684.2L271.1 504.4M249.9 683L273.9 505.6M252 685.8L277.3 505.2M254.5 685.8L279.8 506.7M254.4 686L281.6 505.7M257.2 684.2L284.3 507.9M261.7 687.8L284.5 508.7M262.3 684.9L286.8 509.9M264.9 686.4L291.1 510.2M267.2 688.6L292 509.7M269.3 689.2L297.3 508.3M273.8 689.5L298.3 511.1M273.8 687.8L300.4 511.5M279 690.6L302.8 510.6M279.4 687.5L304.4 511.6M281.4 690.6L308.9 512.2M286.6 690.5L310 512.6M286.5 688.7L314.2 512.3M291.2 691.5L316.5 512.8M292.4 690.5L316.1 511.3M296.6 689.8L320.8 511.9M298.3 693.3L322.6 513.9" fill="none" stroke="#4df884" stroke-width="2.1"/></g><g clip-path="url(#c69)"><path d="M133.8 656.7L159.2 491.5M139.4 658.2L162.6 493.7M141.1 656.9L163.4 494.2M142.7 659.1L167.8 494.3M144.8 656.3L168.7 495.3M149.6 656.8L170.8 492.7M152.4 658L173.2 493.4M154.2 657.3L174.8 493.3M157 659.4L176.9 495.6M158.9 659.1L179.7 496.1M158.3 661.6L182.9 496.1M163.3 660.5L187.1 496.8M166.1 661.6L189.9 495.9M166.3 659.2L192.3 495.7M169.7 661L193.9 498.6M173.5 663L196.5 498.6M176.6 662L196.5 499.5M177.5 662.2L201.2 499.7M178.8 661.9L201.1 498.1M184 661.4L206.9 500.7M185.4 662.6L207.4 499.1M185.5 663.9L208.9 499.6M190 663.8L211.8 501.3M190.6 665.1L213.7 501.3M195.9 663.6L218.8 501.6M196.9 665.9L218.6 501.8M198.6 666.9L222.8 501.5M201.7 664.1L224.9 502.6M203.7 667.6L227 501.7M206.1 667.9L229.8 501.8M210.2 665.6L233.6 503.9M211.3 665.6L236.5 502.3M215.2 668L239.3 504.8M215.7 667.6L238.5 505.7M220.5 668.7L244.5 504.6M223.4 670.3L243.8 504.7M223 668.5L249.2 505.5M228.7 670.7L251.5 507.1M230.9 668.3L251.6 507.4M231.1 670.4L254 505.4M234.3 671.7L256.4 506.5M234.8 671.6L260.9 506.7M239.7 669.7L263.2 505.3M243 670L263.7 507.3M242.9 673.3L268.4 507.7M248.4 671.4L270.3 509.9M250.8 674L273.2 508.3M252.1 672.9L274.7 508.3M253.2 672.6L278.3 507.5M258 671.9L280.6 507.7M258.7 675.4L281.5 510.9M262.5 673L284.1 512M264.2 674.2L288.8 512.3M268.2 675.6L291.7 512.7M269.1 675.1L291.9 511.8M272.4 674L294.4 510.1M274.9 677.7L299.1 510.5M279.2 677.1L298.8 510.7M278.5 675.1L301.8 511.1M281.5 675.8L307.1 512.1M284.6 679.1L307.7 513.6M288.4 678.5L311.1 512.4M290.1 679.2L311.7 512.8M293.8 677.3L316 513M295.9 679.9L318.2 515.8M296.7 677.8L321.4 514.8" fill="none" stroke="#71fa6a" stroke-width="2.1"/></g><g clip-path="url(#c70)"><path d="M147 644.4L170.5 497.6M151.5 647.6L171 495.7M155.2 645.3L175.2 495.4M157 646.2L178.4 498.7M157.3 647.9L179 496.2M162 649.6L182.5 496.5M164.7 646.5L183.4 496.6M166.5 649.5L187.1 497.3M171.1 647.6L190.1 499.2M171.9 650.9L193.5 498.1M174 650.8L195.8 500.2M174.5 650.3L198.5 500.4M177.7 651.8L200.8 499.5M183.5 651.6L203.4 499.6M184.6 652.1L203.7 501.1M187.4 652.5L206.6 499.9M188.8 652.9L211.1 500.5M190.5 652L212.3 502.2M193.2 651.2L214.2 501.5M196.6 651.1L218.2 502.6M199.5 654.7L222.3 505.1M203.7 655.4L221.2 505M205.9 655L224.4 504.8M208.7 654.5L227.7 506.2M210.1 656.4L232.6 504.7M211.8 655.4L235.2 506.2M213.8 655.6L238.1 504.9M219.5 654.6L240.4 505.6M218.8 655L241.6 506.1M224.3 657.3L244.5 505M225.6 658.5L245.8 506.5M229.2 657.5L249 507.7M230 658.8L250.3 509.4M231.4 658.7L253.3 507.4M235.7 657.7L254.8 509M238.5 657.8L257.3 508.2M241.6 660.5L261.2 510.1M243.1 659.3L264.6 508M245.9 658.1L267.7 508.9M248.6 659.5L268.6 511M250.6 660.2L271.9 511.6M252.8 659.3L273.8 512M256.5 662L275.8 509.9M256.9 660.7L278.6 510.2M259.3 662.9L282.1 510.6M262.2 662.8L282.3 513.6M265.7 662.5L286 511.8M266.4 662.1L289.3 514.5M268 661.3L290.1 514.4M272.8 662.1L292.4 514M273.6 664.4L296.2 514.8M278.1 662.5L298 515.9M279 663.4L299.7 516.4M283.2 665.2L303.9 513.3M283.2 666.3L305.5 513.8M287.9 665.6L307.8 517.1M289.9 666.2L308.7 517.6M290.2 664.5L313.9 516.5M292.4 668.1L313.6 516.3M297.3 666L319.3 518.3" fill="none" stroke="#95fb51" stroke-width="2.1"/></g><g clip-path="url(#c71)"><path d="M163.1 635.9L183.3 500.2M167.1 635L186.9 501.2M169.4 634.9L187.4 502.6M172.4 637.2L190.8 502.6M174.5 637.4L194.1 500.3M174.8 638.4L193.6 500.8M180 638.8L197.6 502.2M181.6 639.4L199.9 503M183.2 639.8L204.1 502.8M186.5 638.3L205.5 504.5M189.2 640.7L206.9 503.7M192 639.4L212.2 502.8M195.6 641.1L211.8 503M195.2 639.4L217.3 504.8M199.1 641.3L218.2 507M201.7 640.4L221.2 504.8M203.3 642.6L222.6 505M207.8 643.3L225 504.7M209.4 641.1L229.4 508.4M209.8 643.2L228.7 507.6M214.2 643.7L231.2 507.9M217.9 642.5L236.2 507.3M220 644.8L236.8 508.2M220.1 642.2L238.5 506.8M223.1 645.3L242.7 507.5M224.7 645.8L245.6 510.4M227.7 646L245.1 508M230.5 644.4L250.3 508.4M231.8 646.7L251.3 511M235 647.5L253.9 511.5M236.1 645.1L256.3 511.7M240.3 646.8L257.2 511.5M242.1 648.3L260.9 511.2M244.2 647.1L264.9 511.5M246.4 646.4L267.6 512M250.1 647.7L267.3 511.5M252.7 648.6L271 512.9M256.3 647.3L272.3 513.1M257.9 648.8L275 512.9M260.7 650.6L279.9 514.1M264 649.3L282.1 513.5M265.1 649.4L282.7 514.5M267.9 651.6L287.2 516M269.6 650.1L290.6 515.2M274.2 651.9L293.2 516.5M277.5 650.6L293.9 516.6M280.3 652.1L295.9 514.9M280.2 650.9L299.1 518.1M283.1 654.3L301.2 518.8M284.3 653.2L304.5 516.3M290.3 652.5L307.9 516.9M291.5 655.2L310.2 516.5M292 653.1L311.3 517.4M298.1 652.9L314.5 520.3" fill="none" stroke="#baec42" stroke-width="2.1"/></g><g clip-path="url(#c72)"><path d="M174.4 625.2L191.8 504M177.7 626.5L195.5 503.8M179.4 626.5L197.4 503.1M182.5 625.2L201.6 505.4M186.9 628.2L204.3 505.8M188.9 627.8L205.1 504.1M189.2 627.3L206.2 506.1M192.1 626.8L210.7 505.8M194.2 628.7L212.2 507.8M196.5 628.3L213.9 506.5M197.8 627.8L214.6 507.6M201.4 629.4L220.3 507.6M206.3 630.4L220.5 508.7M208.3 628.7L222.7 509.6M207.5 628.6L226.5 509.9M210.3 629L227.7 508.7M213.4 631.5L230.5 507.7M215.4 632L232.6 508M218.9 630L236.3 510.3M221.2 631.4L238.1 510.6M226.3 630.5L242.8 512.1M227.7 631L243.2 509.4M230 631.4L246.1 510.8M231.3 634.8L249 512.2M233.7 634.7L252.4 513M237.8 634.3L254.3 513.8M238.5 635.7L256.2 513.8M242.6 633.3L259.3 512.9M243.8 635.8L263 512.3M245.7 634.2L262.2 512.2M250.2 634.2L266.1 513.9M251 636L266.8 512.9M253 638.1L269 515.7M256.5 636.3L272.4 514.1M258.7 638.6L276.1 516.8M260.8 638.2L278.7 514.1M263.7 636.4L280.3 515.6M265.9 637.1L283.2 516M266.9 636.7L285.1 517.7M271.2 638.2L288.5 515.7M272.1 640.6L291 519.1M273.7 638.1L291 516.8M276.3 640.1L295.2 519M277.7 639.2L295.2 518.6M282.7 641.8L298.7 517.3M283.3 642.4L302.7 518.9M285.1 639.4L304.9 518.1M290.4 642.1L306.3 518.8M292.9 643L310 521.9M292.4 641.9L311.9 520.8M296.7 643.5L313.1 522.3" fill="none" stroke="#dedd32" stroke-width="2.1"/></g><g clip-path="url(#c73)"><path d="M190.4 616.1L207.5 509M194.3 616L208.9 506.6M196.9 616.2L212.8 510.4M200.6 618L212.5 510.5M200.4 616.3L216.7 510.9M205.7 618.4L220.1 511.4M206.3 617.1L222.5 511.9M208.2 618.6L224.3 511.1M211.7 617.5L225.9 510.5M214.3 618.2L228.3 511.1M215.8 619.9L231.9 511.7M220.8 618.7L234 511.5M220.6 619.5L235.9 512.6M222.6 618.6L237.7 513.3M227.2 620L243.1 513.2M228.9 619.3L244.9 512.3M232.9 620L247.3 515.3M234.4 620.8L250 514.5M236.4 622.8L249.3 514M239.3 623.7L254.4 513.9M239 621.9L257.2 516.2M244 622.2L257 513.5M244.4 622.8L260.8 514.4M248.9 624.1L263.7 517.4M249.8 622.1L266.2 515.9M252.7 622.2L266.7 517M255.1 623.1L271.8 517.5M258.3 624L274.4 516.8M259.4 623.3L275.2 516.1M261.6 623.7L279.3 519.5M266.8 626.2L280.6 517.8M267.1 625.2L281.9 517.4M268.5 625.4L284.6 518M273.8 626.1L287 520.1M274.8 627.4L289 518.1M276.3 626L291 520.1M279.9 627.2L295.5 519.6M282.7 627.4L297.2 519.9M284.7 629.8L300 520.9M286.4 628.5L303.2 522.4M292 631.1L306.1 521.7M292.4 630.2L307.7 522.8M296.1 629.5L309.2 523.5" fill="none" stroke="#eebe34" stroke-width="2.1"/></g><g clip-path="url(#c74)"><path d="M203.8 605.6L218.4 511.8M206.2 605.5L220.8 511.7M207.4 606.7L220.3 510.8M210.2 607.4L223.1 513.6M214.8 605.1L226.1 512.8M217.4 605.1L229.6 513.4M219 605.9L232.9 512.7M223.6 607.1L233.3 515.6M223.6 609.3L237.4 513.7M227.9 609.6L239.5 514.9M229.9 608.4L241.9 513.8M233.1 607.1L245 516.7M236.2 607.7L248.7 515.6M235.9 610.8L250.5 516.6M240.3 609.6L253.3 516.5M240.5 610.9L254.3 516.2M242.8 611.1L256.1 515.8M247.4 610.5L259.8 518.3M248.8 609.8L262.1 516.6M253.6 610.8L265.6 519.1M255.1 613.3L268.5 517.5M257.5 613.1L268.1 520.4M260.8 612.4L272.7 521.3M261.4 611.7L275.9 519.9M265.3 611.6L275.3 521.2M265.2 615.4L278.6 519.2M268.9 615.7L282.1 521.8M271.3 613L284.4 523M275.8 613.1L286.1 522.4M275.8 613.9L290.7 523.1M281.2 614L292.4 523.5M282.9 617.5L297.2 522.9M285.1 615.7L297.1 522M285.6 616.6L299.1 523.7M290.6 616.8L302.6 524M293.5 617.5L303.8 524.2M296.1 617.7L307.4 523.8M295.1 619.1L308.3 526.4" fill="none" stroke="#ff9f36" stroke-width="2.1"/></g><g clip-path="url(#c75)"><path d="M219.3 593.7L231.6 515.3M222.5 595.7L231 517.7M223.2 596.4L235.2 517.5M226.8 596.1L237.3 517.3M230.2 594.8L241.4 515.8M231.2 597.9L241 516.7M234.4 597.6L244.5 517.4M236.4 597.2L248.9 517.9M237.8 596.8L249.8 517.1M240.3 599.4L252.4 519.5M244.3 599.6L255 519.3M244.4 597.5L256.7 518.9M248.7 599.8L260.4 519.1M252.1 599.7L260.9 518.9M255 600.8L264.9 521M256 598.4L267.7 522.6M260.4 600.6L268.9 521.2M261.3 600L272.5 522.2M263.3 601.5L273.9 521M264.5 601.7L275.5 521.8M267.3 602.9L280.3 523.8M272.8 602.4L281.1 521.6M276 600.9L283.7 522.4M277 602.6L285.8 524.8M279.2 602.7L290.9 524.9M280.7 603.1L291.6 523.3M282.9 603.1L296.5 524M286.5 604.1L297.9 524M289.3 603.1L300 525M291.7 605.1L301.2 526.9M293.9 605.9L305.1 527.6M297.1 606.7L308.4 527.9" fill="none" stroke="#fa7f27" stroke-width="2.1"/></g><g clip-path="url(#c76)"><path d="M232.4 586.1L241.2 520.8M235.6 584.9L244.8 520.3M238.2 586.8L247.4 520.2M240.5 583.9L250.2 521.2M242.5 585.2L253.1 519.7M247.8 587.7L256.9 521.8M248.2 587.1L257.9 523.2M249.7 586.2L259.2 522.3M251.6 588L262.6 521.4M254.4 589.2L266 523.3M258.5 587.5L266.4 521.5M259.8 587.4L270.4 522.4M262 589.2L273.4 524.1M265.3 589.3L274.3 522.7M266.3 589.9L276.3 526M270.8 588.6L278.1 525.2M271.3 590.3L282.5 524.7M275 591.1L282.7 525.5M278.5 591.7L287.1 525.7M280.1 591L290.5 527.8M282.4 589.8L290.7 526.6M284.9 590.8L292.2 526.5M287.4 593L295 525.9M288.2 592.8L298.3 528.2M292.1 594.3L302.8 527.7M293.9 592.7L305.2 527.3" fill="none" stroke="#f65f18" stroke-width="2.1"/></g><g clip-path="url(#c77)"><path d="M244.6 573L251 522.3M249.2 574.1L256.5 523.2M249.3 575.2L257.8 525.3M251.4 575L259.6 523.2M254.4 575.3L261.5 524M255.1 576.6L264.6 526M260.2 574.6L266.8 524.1M259.8 577.6L267.5 527.3M262.7 577.3L269.6 525.3M265.8 575.7L271.7 526.7M270.7 577.4L276.6 525.4M270.2 577.7L278.5 527.8M273.1 579.3L282.8 528.4M275.3 577.7L284 529.3M280.8 578.4L287.1 526.9M280.7 579.1L290.7 527M282.9 580.6L291.6 530.5M286.7 580.4L294.9 530M289.7 580.7L294.7 530.1M292.3 579.3L300.5 528.9M295.3 582L303.2 531.2" fill="none" stroke="#e0440e" stroke-width="2.1"/></g><g clip-path="url(#c78)"><path d="M263.3 565.4L265.8 528.8M265.2 565.3L267.5 529.2M266.7 563.4L270.3 529.6M269.2 564.8L273.1 529M270.6 563.5L275.6 528.1M275.2 563.8L278.4 529.2M274.9 565.9L282.8 528.6M278.2 568.1L283.9 529.3M280.7 565.3L286.4 531.3M282.8 565.7L288.5 532M286.2 567.5L293.3 531.8M289.4 569.2L295.5 531.3M290.1 567.9L294.6 531.8M292.5 566.8L296.6 530.8M295.2 569.5L299.5 531.1" fill="none" stroke="#ca2a04" stroke-width="2.1"/></g><g clip-path="url(#c79)"><path d="M273.7 552.4L277.7 532.5M278.1 552.8L280.6 532.2M280.6 554.3L283 530.4M283.4 553.9L287.5 530.8M285.3 555.2L289.7 533M287.3 556.8L290.8 534.3M292.3 556.4L295.3 534.6M294.1 556L295.6 535.6" fill="none" stroke="#ad1b02" stroke-width="2.1"/></g><path d="M81 541.6L91 581.7L106 620.8L125.9 651.5L151.5 664.4L179.2 677.2L216.1 683.3L250.2 685.6L293.9 689.9L293 688.8L290.7 541.3ZM82.4 540.3L90.4 582L104.4 622.4L128.4 648.7L153.6 663.4L178.7 673.6L215.2 684.1L251.1 685.6L291.5 688.4L293.8 691.2L289.7 541.4Z" fill="none" stroke="#b22222" stroke-width="2.3" stroke-linejoin="round" stroke-linecap="round"/><path d="M94.1 539.1L101.2 569.7L116.2 605.7L135 632L157 649.5L186.4 661.8L220.9 671.8L254 675.5L289.7 682.7L293.5 684.9L289.5 539.9ZM95 540.7L101.8 567.3L113.8 605.7L137.4 629.9L159 650.4L189.2 662.1L217.8 671.6L254.6 677.8L291.7 684L293.6 680.7L288.1 537.1Z" fill="none" stroke="#b22222" stroke-width="2.3" stroke-linejoin="round" stroke-linecap="round"/><path d="M104 538.9L113.6 562.7L123.9 588.2L143.3 618.1L168 633.7L193.2 651L221.3 660L256.6 669.8L293.6 674.4L289.5 671.4L291.4 541ZM107 537.4L112.4 562.5L125.3 590.4L144.2 615.6L166.6 636.8L194.5 646.8L221 658.3L256.1 666.8L289.6 673.8L291.9 675.7L293 540.8Z" fill="none" stroke="#b22222" stroke-width="2.3" stroke-linejoin="round" stroke-linecap="round"/><path d="M118.3 540.1L123.9 555.7L137.5 583.1L154 601.8L175.3 623.3L200.3 640.1L226.8 649.8L257.1 657.5L292 663.2L293.4 663.5L287.7 542.5ZM118.8 538.8L123.9 556.5L134.6 578.4L153.1 604.7L174.4 621.3L196.9 639.2L229.1 648.5L258.4 659.5L293.5 663.6L293.6 663.5L291.2 542.1Z" fill="none" stroke="#b22222" stroke-width="2.3" stroke-linejoin="round" stroke-linecap="round"/><path d="M128 538.8L132.3 550L146.2 572.9L163.1 596.8L182.6 612.1L204.2 628.3L229 641.3L258.2 648.4L293.2 659.8L292.6 659.2L293.2 538.3ZM129.3 538L132.6 551.7L146.1 574L162.8 593.1L183.4 614.6L207 629.1L229.9 637.8L260.3 649.3L293.2 654.7L291.2 654.8L292.7 537.8Z" fill="none" stroke="#b22222" stroke-width="2.3" stroke-linejoin="round" stroke-linecap="round"/><path d="M142.5 539.8L148.4 552.5L158.7 568.4L171.2 588.9L189.5 603.4L211.4 616.7L235.7 631.3L264.8 639.7L293.4 649.7L290 649.2L288.9 540.2ZM141.3 540.9L148.2 552L155.8 568.2L170.6 586.8L191.8 601.7L211.1 619L233.5 627.9L263.6 642.4L290 646.4L290.6 648.7L289.4 539.6Z" fill="none" stroke="#b22222" stroke-width="2.3" stroke-linejoin="round" stroke-linecap="round"/><path d="M151.6 538L158.6 547.6L165.6 561L179.3 581L196.9 594.3L219 611.6L238.3 622.2L263.5 633.8L291.4 638.1L290 640.9L288.4 540.6ZM153.9 540.8L155 549.6L165.4 565L179.5 579.5L198.8 594.7L218 610.6L241.2 623.5L266.4 631.2L293.3 641.9L292.2 640.8L288.3 537.8Z" fill="none" stroke="#b22222" stroke-width="2.3" stroke-linejoin="round" stroke-linecap="round"/><path d="M166.3 537.9L169.1 544.8L175.1 558.6L191.1 575.6L207.1 587.7L222.2 601.2L245.5 611L268.3 622L294.1 633.3L290.8 629.6L289.9 540.2ZM165.5 537.6L166.2 547.3L176 559.9L188.5 572.2L205.2 586.7L226 601.9L245.9 611.7L267.7 625L293.4 634.1L289.8 630.7L290.6 544Z" fill="none" stroke="#b22222" stroke-width="2.3" stroke-linejoin="round" stroke-linecap="round"/><path d="M174.3 540.9L180.9 547L188.4 556.3L199 569.1L214.3 583.3L228.5 591.8L246.2 606.6L268.1 613.9L293.5 623.7L289 622.2L289.2 542.8ZM175.8 538.8L181.7 543.7L187.4 556.8L201.9 569.3L216.1 580.8L230.3 593.1L251 605.4L267 615.6L292.5 624.6L290.9 621.8L288.7 542.6Z" fill="none" stroke="#b22222" stroke-width="2.3" stroke-linejoin="round" stroke-linecap="round"/><path d="M186.8 539.3L193.4 546.5L199.3 554L209.5 565.9L219.7 573.9L236 586.2L254.9 596.4L269.8 604.3L291.9 616.6L292.7 613.2L289.9 543ZM184.8 541.2L189 542.9L196.4 554.7L206.9 563.2L221.9 577.4L236.5 584.8L252.5 596.7L273.8 608.6L290.4 616.6L290.8 616.8L288.6 539.3Z" fill="none" stroke="#b22222" stroke-width="2.3" stroke-linejoin="round" stroke-linecap="round"/><path d="M201.1 542.1L202.3 542.6L208.2 552.6L218.2 561L228.7 569.7L241.2 580.9L258.5 590L275.7 599L289.1 607.5L290.5 604.7L290.5 542.3ZM198.6 541.5L201.9 543.1L210 553.1L218.8 561L231.1 572.4L244.2 581L258.7 587.2L273.4 598.1L293.5 604.7L291.2 608.2L288.7 541.1Z" fill="none" stroke="#b22222" stroke-width="2.3" stroke-linejoin="round" stroke-linecap="round"/><path d="M211.5 540.9L215.1 545.2L220.5 550.5L228.5 555.8L235 565L250.6 572.9L263.1 583.4L275.7 591.9L291.4 599.7L292.5 600.9L288.8 540.3ZM211.1 542L211.1 541.2L220.2 550L229.7 556.5L236.4 565.9L246.3 572.7L263 583.4L275.5 588.5L289.9 595.9L291.3 599.2L291 539.3Z" fill="none" stroke="#b22222" stroke-width="2.3" stroke-linejoin="round" stroke-linecap="round"/><path d="M219.4 537.3L225.3 542.5L230.1 547.1L237.8 554.9L245.8 562.8L253.1 569.2L268.2 574.3L278 584.1L291.5 590.7L293.4 590.2L289 544.3ZM223 542.1L222.3 539.7L231.7 545.9L237.1 554.6L246.2 561.8L256.6 569.5L268.2 574.9L276.9 582.9L290.9 590.2L290.4 589.4L291.7 542.7Z" fill="none" stroke="#b22222" stroke-width="2.3" stroke-linejoin="round" stroke-linecap="round"/><path d="M230.9 541.5L234.8 542.3L239.3 544.2L245.5 548.2L254.8 555.3L262.7 560.8L270.3 567.6L281.7 576.2L290.2 582.9L289.1 582L288.5 544.1ZM230.9 537.1L234.8 543.9L241.8 545.4L244.8 549.1L253.5 557.6L263.2 563.8L270.8 570.5L282.9 577L291.2 583.9L292 579.4L290.3 544.6Z" fill="none" stroke="#b22222" stroke-width="2.3" stroke-linejoin="round" stroke-linecap="round"/><path d="M243.1 537.8L246.2 542.8L248.3 546.3L253.6 549.2L259.9 552.8L267.9 555.4L274.4 561.6L282.3 566.7L293.6 572.4L293.4 575.7L289.4 543.4ZM246 541L247.4 540.7L248.5 544.2L252.5 545.5L262.9 555L266.8 555.8L271.9 561.8L283 569.6L291 572.3L290.2 574.1L291.3 543.5Z" fill="none" stroke="#b22222" stroke-width="2.3" stroke-linejoin="round" stroke-linecap="round"/><path d="M257 539.2L256.7 541L258.9 542.3L263.3 544.9L267.9 548.2L272.9 553.2L279.5 557L284.2 561.4L293.9 564.4L290.9 565.2L288.6 541ZM258.6 539.6L260 541.7L261 544.1L262.3 544.5L268.1 549.4L272.9 552.8L276.3 557.1L287 562.6L291.7 565L290.1 564.6L286.7 539.3Z" fill="none" stroke="#b22222" stroke-width="2.3" stroke-linejoin="round" stroke-linecap="round"/><path d="M268.6 541.2L267.9 539.4L269.4 539.9L275.7 543.8L274.6 547.1L280.8 546.8L281.3 551.8L289.3 553.6L292.2 554.3L290.3 558.9L290.3 538.7ZM268.8 541.1L268.8 539.8L272.6 540L271.8 540.9L275.7 543.7L276.7 545.6L280.9 550.1L289.3 555.4L293.7 558.2L292.7 555.3L289.3 543.1Z" fill="none" stroke="#b22222" stroke-width="2.3" stroke-linejoin="round" stroke-linecap="round"/><path d="M278.4 540.9L280.8 538.4L281 539.6L284.8 539.5L286.1 541.2L283.4 545.5L285.2 544.2L288.3 548.2L289.7 549.8L289.5 550.4L290.8 541.7ZM278.5 540.5L280.5 539L283.4 538.6L281 541.6L283.2 541.3L283.4 545.6L289 543.6L291.6 545.2L289.1 547.1L292.1 547.8L290.7 539.3Z" fill="none" stroke="#b22222" stroke-width="2.3" stroke-linejoin="round" stroke-linecap="round"/></g><path d="M59.1 707.5L290.6 708.3L293.2 538.5L58.3 541.7ZM61.4 709.6L289.5 706.8L292.7 538.9L60 541.7Z" fill="none" stroke="#b22222" stroke-width="2.6" stroke-linejoin="round" stroke-linecap="round"/><path d="M53.3 707.6h6" stroke="#111" stroke-width="1.3"/><text x="48.3" y="712.1" text-anchor="end" font-size="15" fill="#111" stroke="#111" stroke-width="0.1"  textLength="7.3" lengthAdjust="spacingAndGlyphs">0</text><path d="M53.3 674h6" stroke="#111" stroke-width="1.3"/><text x="48.3" y="678.5" text-anchor="end" font-size="15" fill="#111" stroke="#111" stroke-width="0.1"  textLength="7.3" lengthAdjust="spacingAndGlyphs">2</text><path d="M53.3 640.4h6" stroke="#111" stroke-width="1.3"/><text x="48.3" y="644.9" text-anchor="end" font-size="15" fill="#111" stroke="#111" stroke-width="0.1"  textLength="7.3" lengthAdjust="spacingAndGlyphs">4</text><path d="M53.3 606.8h6" stroke="#111" stroke-width="1.3"/><text x="48.3" y="611.3" text-anchor="end" font-size="15" fill="#111" stroke="#111" stroke-width="0.1"  textLength="7.3" lengthAdjust="spacingAndGlyphs">6</text><path d="M53.3 573.2h6" stroke="#111" stroke-width="1.3"/><text x="48.3" y="577.7" text-anchor="end" font-size="15" fill="#111" stroke="#111" stroke-width="0.1"  textLength="7.3" lengthAdjust="spacingAndGlyphs">8</text><path d="M53.3 539.6h6" stroke="#111" stroke-width="1.3"/><text x="48.3" y="544.1" text-anchor="end" font-size="15" fill="#111" stroke="#111" stroke-width="0.1"  textLength="14.7" lengthAdjust="spacingAndGlyphs">10</text><path d="M59.3 707.6v6" stroke="#111" stroke-width="1.3"/><text x="59.3" y="731.6" text-anchor="middle" font-size="15" fill="#111" stroke="#111" stroke-width="0.1"  textLength="7.3" lengthAdjust="spacingAndGlyphs">0</text><path d="M175.4 707.6v6" stroke="#111" stroke-width="1.3"/><text x="175.4" y="731.6" text-anchor="middle" font-size="15" fill="#111" stroke="#111" stroke-width="0.1"  textLength="7.3" lengthAdjust="spacingAndGlyphs">5</text><path d="M291.5 707.6v6" stroke="#111" stroke-width="1.3"/><text x="291.5" y="731.6" text-anchor="middle" font-size="15" fill="#111" stroke="#111" stroke-width="0.1"  textLength="14.7" lengthAdjust="spacingAndGlyphs">10</text><rect x="343.2" y="514.5" width="308.3" height="230.3" fill="#fbf8f1"/><path d="M388 598.9h6" stroke="#111" stroke-width="1.3"/><text x="383" y="603.4" text-anchor="end" font-size="15" fill="#111" stroke="#111" stroke-width="0.1"  textLength="14.7" lengthAdjust="spacingAndGlyphs">50</text><text x="381" y="665" text-anchor="end" font-size="15" fill="#111" stroke="#111" stroke-width="0.1"  textLength="14.7" lengthAdjust="spacingAndGlyphs">40</text><path d="M425 707v6" stroke="#111" stroke-width="1.3"/><text x="425" y="729" text-anchor="middle" font-size="15" fill="#111" stroke="#111" stroke-width="0.1"  textLength="22" lengthAdjust="spacingAndGlyphs">180</text><path d="M504 707v6" stroke="#111" stroke-width="1.3"/><text x="504" y="729" text-anchor="middle" font-size="15" fill="#111" stroke="#111" stroke-width="0.1"  textLength="22" lengthAdjust="spacingAndGlyphs">200</text><path d="M583.3 707v6" stroke="#111" stroke-width="1.3"/><text x="583.3" y="729" text-anchor="middle" font-size="15" fill="#111" stroke="#111" stroke-width="0.1"  textLength="22" lengthAdjust="spacingAndGlyphs">220</text><path d="M349.3 521.6L353.5 517.4L357.7 521.6Z" fill="#111"/><path d="M353.5 520.4V532.9" stroke="#111" stroke-width="2.2"/><text x="370.5" y="533.4" text-anchor="start" font-size="16.5" fill="#111" stroke="#111" stroke-width="0.1"  textLength="156" lengthAdjust="spacingAndGlyphs">culmen_length_mm</text><text x="616.6" y="740" text-anchor="end" font-size="16.5" fill="#111" stroke="#111" stroke-width="0.1"  textLength="165" lengthAdjust="spacingAndGlyphs">flipper_length_mm</text><path d="M641.8 731.3L646 735.5L641.8 739.7Z" fill="#111"/><path d="M630 735.5H643" stroke="#111" stroke-width="2"/><g clip-path="url(#pc32)"><g clip-path="url(#c80)"><path d="M353.2 551.5L497.4 452M357.2 556.4L499.7 453.9M359.5 560.2L503.3 456.7M363 563.7L507.3 462.3M363.3 565.8L508.6 465.7M365.8 571.4L511.1 469.8M369.5 573.5L514.2 471.7M371.9 577.9L516.6 475.5M373.2 580.3L520.3 480.2M376.6 583.4L521.1 482.4M380.6 589.5L523.6 487.7M383 592.7L528.5 491M385.3 595.6L529 496.5M389.6 602L533.7 498.3M390.8 603.6L534.5 502.3M394.6 608.6L538.3 506.7M397.9 613.7L540.4 510.4M398.4 615.4L542.1 514.8M402.3 619.7L546.8 518.5M402.3 623.5L548.6 521.8M406 626.1L550.9 524.4M407.8 631.5L553.4 528.2M410.5 632.7L557.3 533.2M413.1 637.3L558.4 538.3M416.7 643.3L563.2 541.8M418.6 646.2L563.3 544.2M423.5 650.2L565.8 549.2M424.5 653.6L570.6 552M428.2 656.4L572.8 554.5M430.1 661.6L574.3 560.2M433.3 663.5L576.4 564.5M435.7 669.1L579.1 567.7M438.2 673L581.6 570.9M442.3 676.9L586.8 575.7M442.4 680.7L587.2 578.2M446.3 684.8L589.8 583.1M450 687.6L592.7 585.9M453.1 691.5L596.9 589.1" fill="none" stroke="#efb118" stroke-width="2.1"/></g><g clip-path="url(#c81)"><path d="M354.4 563.7L492.7 450.4M359.1 569.2L496 458.6M365.5 576.1L502.6 464.6M370.3 581.1L506.4 469.9M376.7 589.2L515.1 477.7M383.2 596.6L520.5 484.5M386.3 603.1L524 490.9M392.2 609L529.4 498.6M397.7 615.7L535.7 504.1M405.2 624L540.9 511.8M410.3 633.4L549.1 520.8M414.5 639L553.8 526.1M420.6 645.8L559.8 533.6M426.4 649.9L564.5 539.7M430.8 658.9L568.7 547.1M437.4 664.8L573.7 553.5M444.4 671.4L581.7 562M449.1 681.3L587.2 567.9M456.6 687.7L592.6 577.4" fill="none" stroke="#efb118" stroke-width="1.8"/></g><path d="M411.6 559.8L413.3 556.6L415.2 554L417 549.5L419.4 547L422.1 543.3L425.7 539.5L430.2 537.3L436.5 533.8L441.8 531.1L448.9 528.9L454.6 526.4L461.3 524.9L467.6 524.2L474.4 523.3L481.6 523L487.6 522.4L495.4 522.2L501.7 522.2L507.4 522.9L514.7 522.8L521.2 522.9L527.1 522.8L532.1 523.8L536.9 525.1L539.1 527.4L541.1 529.8L543 533.8L543.5 537.2L544.2 540.8L543.9 545.3L543.6 549.2L542.5 554.5L541.9 560L539.5 564.6L538.2 570.7L535.7 575.4L534.6 579.4L531.5 584.1L529.7 589.3L527.3 592.6L524.4 597.2L521.3 600.2L518.8 603.3L515.4 605.5L512 607.7L508.8 609.5L505 611.4L501.2 612.2L497.2 613.7L491.5 615.7L486.5 616.9L481.6 617.5L476.3 617.8L470.7 617.8L466.6 617.6L461.1 617L456.3 615L450.7 613.6L445.9 612.3L441.1 609.7L436.4 608.8L431.9 606.6L427.4 604L422.8 600.7L419.5 598.5L416.2 595.1L412.7 591.6L411.1 588.1L409.1 585.3L406.3 581.8L405.4 578L405.1 575.2L404.7 572.7L405.5 570L406.1 567.5L408.3 565.8L409.6 562.6ZM410.8 559.7L413.3 557.3L414.8 554L416.3 549.8L419.6 546.6L421.8 543.2L425.8 540.1L430.8 537.5L436.5 533.9L442.4 531.2L448 529.5L454.5 526.5L461.2 524.6L467.1 523.9L473.9 522.7L481.4 522.6L487.7 522.2L495 522.2L500.7 522.9L508.1 522.3L513.8 522.9L521.3 522.3L526.4 523L532.7 523.8L536.1 525.1L539.5 527.7L541 530.4L543.2 533.9L543.4 537.4L544.1 541.2L544 544.9L543.9 549.3L542.5 555.2L541.8 559.3L539.7 564.6L538.7 569.9L536.1 575.5L534.8 579.7L531.6 584.3L530.1 588.2L526.4 593.3L524.3 597.1L521.5 600.6L518.9 602.6L515.8 605.4L511.9 607.8L508.9 609.2L504.9 611.1L501.3 613.1L497.1 614.3L491.8 615.1L486.3 616.4L481.1 617.8L476 617.9L471.6 618L466.2 617.3L461.3 616.5L455.8 614.8L450.5 614.4L446.1 611.6L441.1 610.3L436.5 608.4L432 605.8L427.5 603.5L423 601.2L419.1 597.5L416.2 595.6L413.4 591.8L411.2 588.6L408.1 585.7L407 582L405.8 578.7L405.4 575.1L404.7 572.8L405.5 569.8L406.9 568.2L407.2 565.1L409.6 562.6Z" fill="none" stroke="#a51d1d" stroke-width="2.6" stroke-linejoin="round" stroke-linecap="round"/><g clip-path="url(#c82)"><path d="M293.5 596.4L555.9 541.7M295 601.2L556.8 545.4M297.4 606.4L557.8 549.7M298.1 609.1L559.8 555.3M299.7 614.3L560.5 559.3M299.5 620L561 563.7M300.2 621.6L561.3 567.3M302.5 628.6L562.1 571.3M301.7 631.3L564 575.7M304.2 638.6L565.7 580.2M304.4 642.4L564.9 585.9M305.1 645.6L567.3 590.4M305.1 651.8L569.2 596.3M308.7 656.8L569.6 601.1M309.1 660.2L570.1 605.8M310.8 665.7L569.5 610.1M309 669.5L570.5 613.8M311.3 672.9L573.6 617.4M313.1 678.9L573.3 622.6M312.9 683.3L574 627.7M315.6 686.1L574.7 631.5M314 690.7L576.9 634.7M315 695.5L578.2 640.1M318.5 701.3L579.6 644.3M318.9 703.8L579.8 650.1M319.6 708.6L581.1 651.9M320.2 714.2L580.9 657.7M319.7 717.9L582.9 663.7M322.5 723.4L584.1 669.5M323.2 729.7L584 672.9M323.9 734L585.6 677.8M324.5 736L586.9 680.4M326.7 742.1L588.3 685.6M326.2 747.8L589.3 692.2M326.8 749.3L590.2 695.8M329.4 755.1L590.8 698.8M328 758.8L590 703.5M328.9 764.6L592.4 708.8M330.7 768L593.7 711.4M331.1 774.1L592.4 716.4M334.6 776.1L595.6 720.9M333.4 781.3L596.8 725.3M333.9 786.1L597 730.9M337.4 791.7L597.5 736.6M336.1 794.9L597.4 741.5M339 801.9L599.3 745.8M339 805.7L602.2 749.3M339.4 810.1L602.8 754M342.4 814.2L602.6 758.4M341.4 818.6L604.7 763.7M344 824.1L605.4 768.6M343 827.6L604.5 770M346.1 831.7L607.3 776.1M346.2 837.1L607.4 782.4M347.9 841.9L608.2 785.4M347.9 845.3L609.4 789.3M347.9 851.9L611.2 795.7M349.9 856.6L611.1 799.7" fill="none" stroke="#4269d0" stroke-width="2.1"/></g><g clip-path="url(#c83)"><path d="M289.6 611L546 536.2M291 621.5L548.4 548.2M295 631.5L552 556.9M296.4 638.8L554.2 566.6M298.5 648.2L557.8 574M302.7 655.9L559.6 581.4M303.7 661.8L559.6 590.5M307.3 670.8L563.7 596.2M308.1 678.6L564.6 604.3M309.8 688.5L567.6 615.2M311.9 696.5L571.1 622.9M315.1 702.9L571.2 629.8M317.6 713.8L575.6 639.7M321.4 720.5L577.1 648.9M321.8 728.6L580.6 656.1M326.6 738.1L582.6 664.8M327.4 746.7L583.9 673.9M329.3 756.6L587.5 683.7M332.3 763.1L589.3 691.4M337.1 772.5L592.4 699.7M338.5 780.4L594.7 707.6M339.8 790.3L597.3 717.3M344.2 799.7L601.1 725.7M346.8 808.5L602.3 734.2M348.1 815.6L605 742.4M349.4 821.9L607.9 750.6M353.1 831.5L610.5 756.8M356.2 839.8L611.7 766M358.8 849.4L615.4 776.2M360.6 857.7L618.6 785.5" fill="none" stroke="#4269d0" stroke-width="1.8"/></g><path d="M371.1 630.7L374.5 626.6L379.6 624.5L383.9 621.7L389.6 620.1L395.1 619.7L401 617.8L406.6 616.7L413.6 615.2L420.7 612.9L427.5 611.9L434 611.2L440.9 610.7L448 611.7L455.3 611.7L461.6 612.3L468 613.4L474.9 614.4L480.8 616.9L486.9 618.2L492.3 619.9L497 621.7L502.5 624.6L507.5 626.8L511.1 630.3L515.2 633.7L518.7 637.4L521.9 641.9L525.5 646L528.4 650.9L531.7 654.8L534.1 660.4L537.6 667L540.1 672.9L542.3 678.8L544.7 684.9L546.1 690.2L547.6 696.2L548.3 701.3L548.3 705.7L548.9 711L548.6 715.9L548.6 720L548.7 725.3L548.2 729.7L548.1 733.3L547.1 737.2L545.7 741.2L543.8 746.1L541.7 750.1L539.5 756.1L536.4 761.7L532.5 767.3L528.1 772.2L521.8 775.5L512 778.4L502 781.8L489.5 783.8L476.5 784.9L463.7 785.9L451 785.9L439.4 784.7L425.3 781.7L412.7 778.1L400.8 773.4L390.3 769.8L381.4 765.4L375 762.3L370.2 758.1L366.8 754.5L364.2 749.8L362.1 745.4L360.5 740.3L359 734.8L359.2 729.7L358.5 723.4L358.4 717.6L358.2 711.8L358.7 705.9L357.8 699.8L357.4 693.9L357.4 688.4L357.8 682.8L357.1 676.7L358.3 670.3L360 663.8L360.9 656.9L363.4 648.7L365.1 641.7L368 635.6ZM371.4 629.8L375.3 626.1L379.8 623.9L384.5 621.6L389.3 620.7L394.8 619.3L401.2 618.2L407.6 616.4L413.5 615.3L420.5 614L427.9 612.2L434.2 611.2L441.6 611L448.1 610.9L454.3 611.5L461.4 613L468.6 613.1L475.3 615.3L481.3 615.8L487.5 618.4L491.9 619.9L497.4 622.6L502.7 624.8L506.8 626.8L510.8 630.4L515.4 633.6L519.4 636.9L521.7 641.1L525.7 645.6L528 649.9L531.2 655.5L534.5 661.3L536.7 666.7L540.4 672.1L542 678.6L544.2 684.6L546.5 690.1L547.3 695.6L548.7 700.7L548.8 706.2L548.8 711.7L548.9 716.4L548.4 720.3L548.3 724.5L548.5 728.9L548.2 732.8L547.6 737.1L545.8 741.6L543.7 745.5L541.9 751.1L539.9 755.4L536.4 762L532.7 767.3L527.8 771.9L521 775.4L512 778.6L501.5 781.7L489.2 783.6L476.8 785.6L463.6 785.5L450.6 785.8L438.6 784.2L426.4 781.3L413.2 778L400.5 774.1L390.1 769.3L381 765.8L374.8 761.7L369.7 758.1L367.2 754.5L364.9 749.6L362.2 745.9L361.4 740.7L359.5 735.4L358.2 729.6L358 723.6L358.2 717.8L358.6 711.1L358.3 705.8L358 699.6L358.2 694.5L357.5 688.2L357.4 682L357.5 676.8L358.1 670.4L359.9 663.5L360.7 656.7L363.2 648.8L365.2 641.3L367.2 635.9Z" fill="none" stroke="#a51d1d" stroke-width="2.6" stroke-linejoin="round" stroke-linecap="round"/><g clip-path="url(#c84)"><path d="M426.1 637.4L568.6 435.9M431.8 639.3L572.8 440.2M435.7 641.9L575.4 440.4M437.1 646.9L579.9 443.5M441.3 646.7L581.3 446.6M443.7 649.9L587.5 448.2M449.1 654.1L590.5 452.6M450.7 654.4L593.6 454.4M454.6 657.4L595.5 456.9M458.9 662.1L600.6 457.8M463.9 662.7L605 462.9M466.1 666.6L609.1 463.8M471.3 668.8L613 466.1M473.8 671.3L614.4 469M479.4 675L618.6 472.3M482.7 676.4L623.1 475.2M487.7 679.7L626.6 477.3M490.7 680.9L630.4 479.8M493.1 684.8L635.5 484.3M496.3 686L637.4 487.4M502 689.9L642.7 489.1M504.6 691.5L647.1 490.4M508.7 695.7L648.7 494.1M510.6 697.8L654.3 496.4M514.5 701.3L657.1 498M517.9 703.5L660.7 499.9M522 706.4L663.7 504.2M526.6 706.8L668.8 508.1M530.2 709.8L670.8 509.2M533.6 714.3L674.5 512.7M540.1 716.4L680.6 514.2M542.7 718.6L683.6 516.2M546 720.1L685.9 520.7M549.2 723.6L690.4 520.7M553.8 726.4L694.6 525.4M556.8 728.5L698.4 526.6M560.7 730.9L701.9 530.2M564.4 732.9L705 530.6M566.1 736L708.6 534.3M570.7 737.9L711.2 536.7M574.5 740.6L715.8 540.1M579.7 744.3L720.8 543.5M583.3 745.6L724.2 543.7M584.8 747.9L726.7 547.1M590.5 753.6L731.8 551.9M593.2 754.5L736.5 552.4M597.6 756.3L738.5 557.1M600.4 760.1L743.5 557.9M606.3 763.9L745.5 562.7M608.8 763.9L751.1 563.3M612.3 768.8L752.4 566M616.8 768.9L757.9 568.2M620.3 774.2L760.1 570.9M625.8 776.1L766.4 573.8" fill="none" stroke="#ff725c" stroke-width="2.1"/></g><g clip-path="url(#c85)"><path d="M434.1 653L561.1 441.9M441.1 656.4L568.5 445.4M447.1 659.5L573.9 449.7M456.7 666.9L584.1 454.7M463.2 671.7L590.7 459.3M473.4 674.7L599.7 465.6M481.5 681.6L608.7 468.5M489.1 685.6L613.9 473.3M494.4 688.5L621.6 479.7M503.5 695.8L632 484M512.5 699.2L638.2 489.2M518.9 704.3L644.3 493.5M526.7 708.4L654 496.7M534.4 714.1L663.4 502.2M543.1 718.6L670.2 505.8M551 723.5L677.3 513.1M559.6 728L685.8 516.3M563.9 730.6L692.7 520M573 736L698.3 523.8M581 742L708.6 530.5M587 743.1L714.8 534.9M595.4 749.5L720.7 538.6M602.2 752.8L728.8 542.3M611.2 758.2L737.7 548.6M618.9 762.2L745.2 552.4M624.7 766.4L753.8 557.6M633.7 771.1L760.7 561.3" fill="none" stroke="#ff725c" stroke-width="1.8"/></g><path d="M530.9 595L533.7 589.1L534.7 583.2L536.9 577.8L539.9 571L542.4 566L546.8 560.6L550.8 554.7L554.4 549.4L559.9 544.7L565 540.5L570.8 536.4L576.4 532.4L582.3 528.9L589.8 526L596.7 523.8L603.2 520.8L609.7 519.3L616.3 517.1L622.5 516.7L628.6 515L635.2 513.7L641.3 514L646.7 516.6L651.1 520.4L656.8 527.1L661.7 535.3L665.3 545.5L668.8 557.3L671.2 568.4L671.7 580.4L669.8 591.8L665.5 605.4L658.9 619.4L653.4 632.8L646.4 645.9L641.7 655.8L637.3 663.3L632.7 669.8L629.1 673.6L624.6 677.8L621.1 681.8L616 684.9L611.8 689.3L607.6 692.7L602.6 694.9L597.2 697.6L591.6 700.2L586.1 700.7L580.9 699.9L574.5 699.5L568.1 698.3L561.6 696.2L556.5 693.5L550.9 690.4L547.3 686.7L543.4 684.1L540.2 679.1L536.3 674.7L534.1 670.8L531.7 665L528.6 659.8L527.7 654.2L525.6 647.9L524.3 642.8L523.7 636.7L523.5 630.4L524.1 623.9L525.3 618.9L526.4 613.3L528.2 607.4L529.4 600.8ZM530.8 594.7L533.3 589.8L535 583.7L537 577.2L539.9 571.7L542.8 565.6L546.2 560L550.6 555.5L554.6 550.5L559.3 545.1L564.5 541L570.3 536.8L576.8 532.7L582.7 529.6L589.8 525.8L595.8 523L603 521.3L610.6 518.6L617.1 517L623 516.1L628.7 514.7L635.3 513.7L641.6 514.2L646.2 515.7L651.3 520.6L656.8 526.4L661 535.4L665.8 545.6L668.8 557L671.5 568.6L671.7 579.6L670 591.8L665.4 606.3L659.7 620.2L652.8 632.7L646.6 645.6L641.9 655.3L636.8 663L633.6 669.6L629.6 674.4L625.3 677.7L620.6 682.2L616.3 685.3L611.4 689.6L606.8 692.2L602.3 695.4L597.3 697.5L592.2 699.8L586 700.7L580.4 700.4L575.1 700.1L568.4 697.4L562.3 696.4L557 693.7L552 690.3L546.4 687.2L543.1 683.1L540 679.8L536 674.5L533.2 670L531.3 665.9L529.6 659.7L527 654.5L526.1 648.6L524.8 641.9L523.6 635.8L523.7 629.7L524.1 625L524.9 618.8L526.5 612.3L527.6 606.4L529.3 600.8Z" fill="none" stroke="#a51d1d" stroke-width="2.6" stroke-linejoin="round" stroke-linecap="round"/></g><rect x="678.4" y="514.5" width="308.6" height="230.3" fill="#fbf8f1"/><path d="M678.2 739.2a3.1 3.1 0 1 0 6.2 0a3.1 3.1 0 1 0 -6.2 0M686.4 735.7a2.5 2.5 0 1 0 5 0a2.5 2.5 0 1 0 -5 0M702.2 737a3.1 3.1 0 1 0 6.2 0a3.1 3.1 0 1 0 -6.2 0M702.1 727.3a3.3 3.3 0 1 0 6.6 0a3.3 3.3 0 1 0 -6.6 0M706.1 717.7a2 2 0 1 0 4 0a2 2 0 1 0 -4 0M712.3 740.4a2 2 0 1 0 4 0a2 2 0 1 0 -4 0M714.5 730.4a2 2 0 1 0 4 0a2 2 0 1 0 -4 0M711.8 720.4a2.5 2.5 0 1 0 5 0a2.5 2.5 0 1 0 -5 0M710.5 713a3.1 3.1 0 1 0 6.2 0a3.1 3.1 0 1 0 -6.2 0M714.3 703.5a2.5 2.5 0 1 0 5 0a2.5 2.5 0 1 0 -5 0M712.6 695.8a3.3 3.3 0 1 0 6.6 0a3.3 3.3 0 1 0 -6.6 0M720.7 735.9a3.3 3.3 0 1 0 6.6 0a3.3 3.3 0 1 0 -6.6 0M721.2 727.7a3.1 3.1 0 1 0 6.2 0a3.1 3.1 0 1 0 -6.2 0M721.1 718.6a3.3 3.3 0 1 0 6.6 0a3.3 3.3 0 1 0 -6.6 0M723.1 709.4a2.5 2.5 0 1 0 5 0a2.5 2.5 0 1 0 -5 0M721.5 690.6a2.5 2.5 0 1 0 5 0a2.5 2.5 0 1 0 -5 0M720.3 683.4a2 2 0 1 0 4 0a2 2 0 1 0 -4 0M719.2 672.8a3.1 3.1 0 1 0 6.2 0a3.1 3.1 0 1 0 -6.2 0M723.8 664.6a2 2 0 1 0 4 0a2 2 0 1 0 -4 0M731.9 740.6a2 2 0 1 0 4 0a2 2 0 1 0 -4 0M728.2 731.3a3.3 3.3 0 1 0 6.6 0a3.3 3.3 0 1 0 -6.6 0M730.9 721.5a2 2 0 1 0 4 0a2 2 0 1 0 -4 0M731.8 712.6a2.5 2.5 0 1 0 5 0a2.5 2.5 0 1 0 -5 0M728.2 703.8a3.3 3.3 0 1 0 6.6 0a3.3 3.3 0 1 0 -6.6 0M730.2 695.4a2.5 2.5 0 1 0 5 0a2.5 2.5 0 1 0 -5 0M731.2 684.9a3.3 3.3 0 1 0 6.6 0a3.3 3.3 0 1 0 -6.6 0M729.6 667.4a2.5 2.5 0 1 0 5 0a2.5 2.5 0 1 0 -5 0M730 658.8a3.1 3.1 0 1 0 6.2 0a3.1 3.1 0 1 0 -6.2 0M731.1 649.5a3.1 3.1 0 1 0 6.2 0a3.1 3.1 0 1 0 -6.2 0M728.2 641a2.5 2.5 0 1 0 5 0a2.5 2.5 0 1 0 -5 0M731.2 633.5a3.1 3.1 0 1 0 6.2 0a3.1 3.1 0 1 0 -6.2 0M730.5 622.4a2 2 0 1 0 4 0a2 2 0 1 0 -4 0M737.3 735.7a2 2 0 1 0 4 0a2 2 0 1 0 -4 0M738.2 728.1a3.1 3.1 0 1 0 6.2 0a3.1 3.1 0 1 0 -6.2 0M740.4 718.7a2.5 2.5 0 1 0 5 0a2.5 2.5 0 1 0 -5 0M737.9 708.4a3.1 3.1 0 1 0 6.2 0a3.1 3.1 0 1 0 -6.2 0M738.7 701.9a3.3 3.3 0 1 0 6.6 0a3.3 3.3 0 1 0 -6.6 0M737.9 691.6a3.1 3.1 0 1 0 6.2 0a3.1 3.1 0 1 0 -6.2 0M739.3 682.6a2.5 2.5 0 1 0 5 0a2.5 2.5 0 1 0 -5 0M736.6 672.2a3.1 3.1 0 1 0 6.2 0a3.1 3.1 0 1 0 -6.2 0M739.1 665a3.1 3.1 0 1 0 6.2 0a3.1 3.1 0 1 0 -6.2 0M737.6 656.9a3.3 3.3 0 1 0 6.6 0a3.3 3.3 0 1 0 -6.6 0M738.8 646.8a2.5 2.5 0 1 0 5 0a2.5 2.5 0 1 0 -5 0M747.2 731.3a2 2 0 1 0 4 0a2 2 0 1 0 -4 0M748.5 721.9a2.5 2.5 0 1 0 5 0a2.5 2.5 0 1 0 -5 0M747.7 703.7a3.1 3.1 0 1 0 6.2 0a3.1 3.1 0 1 0 -6.2 0M747.3 695a2 2 0 1 0 4 0a2 2 0 1 0 -4 0M746.4 686.7a2.5 2.5 0 1 0 5 0a2.5 2.5 0 1 0 -5 0M749.2 678.1a2.5 2.5 0 1 0 5 0a2.5 2.5 0 1 0 -5 0M748.1 661a2.5 2.5 0 1 0 5 0a2.5 2.5 0 1 0 -5 0M748 643.2a3.1 3.1 0 1 0 6.2 0a3.1 3.1 0 1 0 -6.2 0M756.5 707.8a3.3 3.3 0 1 0 6.6 0a3.3 3.3 0 1 0 -6.6 0M757.9 700.2a2.5 2.5 0 1 0 5 0a2.5 2.5 0 1 0 -5 0M756.2 691.1a2.5 2.5 0 1 0 5 0a2.5 2.5 0 1 0 -5 0M754.7 681.8a3.3 3.3 0 1 0 6.6 0a3.3 3.3 0 1 0 -6.6 0M756.1 662.8a3.3 3.3 0 1 0 6.6 0a3.3 3.3 0 1 0 -6.6 0M756.4 655a2.5 2.5 0 1 0 5 0a2.5 2.5 0 1 0 -5 0M767.7 741.7a2 2 0 1 0 4 0a2 2 0 1 0 -4 0M763.9 729.6a3.3 3.3 0 1 0 6.6 0a3.3 3.3 0 1 0 -6.6 0M765.9 723a3.3 3.3 0 1 0 6.6 0a3.3 3.3 0 1 0 -6.6 0M765.4 712a2 2 0 1 0 4 0a2 2 0 1 0 -4 0M765.9 705.7a3.3 3.3 0 1 0 6.6 0a3.3 3.3 0 1 0 -6.6 0M766.4 695.5a2.5 2.5 0 1 0 5 0a2.5 2.5 0 1 0 -5 0M764.6 685.9a3.1 3.1 0 1 0 6.2 0a3.1 3.1 0 1 0 -6.2 0M767.8 677a2 2 0 1 0 4 0a2 2 0 1 0 -4 0M766.2 667.1a2 2 0 1 0 4 0a2 2 0 1 0 -4 0M763 659.6a3.1 3.1 0 1 0 6.2 0a3.1 3.1 0 1 0 -6.2 0M765.7 649.3a2 2 0 1 0 4 0a2 2 0 1 0 -4 0M766.1 640.6a2.5 2.5 0 1 0 5 0a2.5 2.5 0 1 0 -5 0M765.6 633.5a3.3 3.3 0 1 0 6.6 0a3.3 3.3 0 1 0 -6.6 0M764.8 623.5a3.3 3.3 0 1 0 6.6 0a3.3 3.3 0 1 0 -6.6 0M767.7 614.1a2 2 0 1 0 4 0a2 2 0 1 0 -4 0M766.1 607.4a3.1 3.1 0 1 0 6.2 0a3.1 3.1 0 1 0 -6.2 0M765.2 596.3a2.5 2.5 0 1 0 5 0a2.5 2.5 0 1 0 -5 0M767.1 571.3a3.1 3.1 0 1 0 6.2 0a3.1 3.1 0 1 0 -6.2 0M764.6 560a3.3 3.3 0 1 0 6.6 0a3.3 3.3 0 1 0 -6.6 0M764.2 552.5a3.3 3.3 0 1 0 6.6 0a3.3 3.3 0 1 0 -6.6 0M763.8 542.4a3.3 3.3 0 1 0 6.6 0a3.3 3.3 0 1 0 -6.6 0M766.1 533.9a2.5 2.5 0 1 0 5 0a2.5 2.5 0 1 0 -5 0M772.7 734.8a3.1 3.1 0 1 0 6.2 0a3.1 3.1 0 1 0 -6.2 0M773.7 726.4a2.5 2.5 0 1 0 5 0a2.5 2.5 0 1 0 -5 0M773.4 718.4a3.3 3.3 0 1 0 6.6 0a3.3 3.3 0 1 0 -6.6 0M773.3 698.8a3.1 3.1 0 1 0 6.2 0a3.1 3.1 0 1 0 -6.2 0M775.1 689.3a2.5 2.5 0 1 0 5 0a2.5 2.5 0 1 0 -5 0M775.7 672.3a2.5 2.5 0 1 0 5 0a2.5 2.5 0 1 0 -5 0M772.4 656.1a2.5 2.5 0 1 0 5 0a2.5 2.5 0 1 0 -5 0M775 647a2 2 0 1 0 4 0a2 2 0 1 0 -4 0M774.3 637.4a2.5 2.5 0 1 0 5 0a2.5 2.5 0 1 0 -5 0M775.3 629.8a2 2 0 1 0 4 0a2 2 0 1 0 -4 0M775 618.3a3.1 3.1 0 1 0 6.2 0a3.1 3.1 0 1 0 -6.2 0M774.7 609.3a3.1 3.1 0 1 0 6.2 0a3.1 3.1 0 1 0 -6.2 0M775.2 600.3a2.5 2.5 0 1 0 5 0a2.5 2.5 0 1 0 -5 0M773.7 592.7a3.3 3.3 0 1 0 6.6 0a3.3 3.3 0 1 0 -6.6 0M773 575a3.1 3.1 0 1 0 6.2 0a3.1 3.1 0 1 0 -6.2 0M774.8 564.5a2.5 2.5 0 1 0 5 0a2.5 2.5 0 1 0 -5 0M774.2 556a2 2 0 1 0 4 0a2 2 0 1 0 -4 0M775.1 538a3.3 3.3 0 1 0 6.6 0a3.3 3.3 0 1 0 -6.6 0M775.4 529.3a2 2 0 1 0 4 0a2 2 0 1 0 -4 0M774.4 519.7a3.1 3.1 0 1 0 6.2 0a3.1 3.1 0 1 0 -6.2 0M781.9 739.2a2.5 2.5 0 1 0 5 0a2.5 2.5 0 1 0 -5 0M782.8 732.1a3.1 3.1 0 1 0 6.2 0a3.1 3.1 0 1 0 -6.2 0M783.3 721.7a2 2 0 1 0 4 0a2 2 0 1 0 -4 0M782.7 713a3.3 3.3 0 1 0 6.6 0a3.3 3.3 0 1 0 -6.6 0M783.2 703.8a3.1 3.1 0 1 0 6.2 0a3.1 3.1 0 1 0 -6.2 0M784.2 685.6a2 2 0 1 0 4 0a2 2 0 1 0 -4 0M782.7 668.6a2 2 0 1 0 4 0a2 2 0 1 0 -4 0M781.2 660.2a2.5 2.5 0 1 0 5 0a2.5 2.5 0 1 0 -5 0M784.4 652.2a2 2 0 1 0 4 0a2 2 0 1 0 -4 0M782.3 642.2a3.3 3.3 0 1 0 6.6 0a3.3 3.3 0 1 0 -6.6 0M782.3 633.8a3.3 3.3 0 1 0 6.6 0a3.3 3.3 0 1 0 -6.6 0M792.9 736.7a2 2 0 1 0 4 0a2 2 0 1 0 -4 0M792.7 726.4a2 2 0 1 0 4 0a2 2 0 1 0 -4 0M792.2 717.4a2.5 2.5 0 1 0 5 0a2.5 2.5 0 1 0 -5 0M791.1 708.2a2.5 2.5 0 1 0 5 0a2.5 2.5 0 1 0 -5 0M792.1 698.9a2.5 2.5 0 1 0 5 0a2.5 2.5 0 1 0 -5 0M788.5 691.3a3.1 3.1 0 1 0 6.2 0a3.1 3.1 0 1 0 -6.2 0M791.2 681.6a2 2 0 1 0 4 0a2 2 0 1 0 -4 0M790.5 672.4a2.5 2.5 0 1 0 5 0a2.5 2.5 0 1 0 -5 0M789.6 664.7a2.5 2.5 0 1 0 5 0a2.5 2.5 0 1 0 -5 0M791.5 656.7a2 2 0 1 0 4 0a2 2 0 1 0 -4 0M790.8 646a2 2 0 1 0 4 0a2 2 0 1 0 -4 0M790 637.3a2 2 0 1 0 4 0a2 2 0 1 0 -4 0M789.9 628a3.3 3.3 0 1 0 6.6 0a3.3 3.3 0 1 0 -6.6 0M798.3 739.1a2.5 2.5 0 1 0 5 0a2.5 2.5 0 1 0 -5 0M797.9 730a2.5 2.5 0 1 0 5 0a2.5 2.5 0 1 0 -5 0M797.2 722.4a3.3 3.3 0 1 0 6.6 0a3.3 3.3 0 1 0 -6.6 0M798.8 706.1a3.3 3.3 0 1 0 6.6 0a3.3 3.3 0 1 0 -6.6 0M797.5 696.2a3.1 3.1 0 1 0 6.2 0a3.1 3.1 0 1 0 -6.2 0M797.1 678.9a2.5 2.5 0 1 0 5 0a2.5 2.5 0 1 0 -5 0M797.7 671.2a3.3 3.3 0 1 0 6.6 0a3.3 3.3 0 1 0 -6.6 0M797.5 660.1a3.1 3.1 0 1 0 6.2 0a3.1 3.1 0 1 0 -6.2 0M800 652.3a3.3 3.3 0 1 0 6.6 0a3.3 3.3 0 1 0 -6.6 0M797.7 644a3.1 3.1 0 1 0 6.2 0a3.1 3.1 0 1 0 -6.2 0M800.3 633.3a2 2 0 1 0 4 0a2 2 0 1 0 -4 0M798.4 624.4a3.1 3.1 0 1 0 6.2 0a3.1 3.1 0 1 0 -6.2 0M810.5 726.4a2 2 0 1 0 4 0a2 2 0 1 0 -4 0M807.2 717.5a3.3 3.3 0 1 0 6.6 0a3.3 3.3 0 1 0 -6.6 0M808.9 708.9a2 2 0 1 0 4 0a2 2 0 1 0 -4 0M808.5 700.1a2.5 2.5 0 1 0 5 0a2.5 2.5 0 1 0 -5 0M808.4 691.6a3.3 3.3 0 1 0 6.6 0a3.3 3.3 0 1 0 -6.6 0M808.7 683.8a2 2 0 1 0 4 0a2 2 0 1 0 -4 0M809.4 675.4a2.5 2.5 0 1 0 5 0a2.5 2.5 0 1 0 -5 0M808.1 666.2a2.5 2.5 0 1 0 5 0a2.5 2.5 0 1 0 -5 0M807.9 648.5a2.5 2.5 0 1 0 5 0a2.5 2.5 0 1 0 -5 0M809.6 639a2.5 2.5 0 1 0 5 0a2.5 2.5 0 1 0 -5 0M808.3 630.1a2 2 0 1 0 4 0a2 2 0 1 0 -4 0M817.5 731.7a3.3 3.3 0 1 0 6.6 0a3.3 3.3 0 1 0 -6.6 0M817 722a3.1 3.1 0 1 0 6.2 0a3.1 3.1 0 1 0 -6.2 0M815.9 696.6a3.3 3.3 0 1 0 6.6 0a3.3 3.3 0 1 0 -6.6 0M818.1 670.2a2 2 0 1 0 4 0a2 2 0 1 0 -4 0M818.3 661.2a2 2 0 1 0 4 0a2 2 0 1 0 -4 0M814.9 652.1a3.1 3.1 0 1 0 6.2 0a3.1 3.1 0 1 0 -6.2 0M823.9 736.4a3.3 3.3 0 1 0 6.6 0a3.3 3.3 0 1 0 -6.6 0M823.9 711a3.1 3.1 0 1 0 6.2 0a3.1 3.1 0 1 0 -6.2 0M825.7 683a2.5 2.5 0 1 0 5 0a2.5 2.5 0 1 0 -5 0M825.9 665.2a2.5 2.5 0 1 0 5 0a2.5 2.5 0 1 0 -5 0M834.3 740.7a2.5 2.5 0 1 0 5 0a2.5 2.5 0 1 0 -5 0M832.4 731.3a3.1 3.1 0 1 0 6.2 0a3.1 3.1 0 1 0 -6.2 0M832.8 722.8a3.3 3.3 0 1 0 6.6 0a3.3 3.3 0 1 0 -6.6 0M832.9 712.5a2.5 2.5 0 1 0 5 0a2.5 2.5 0 1 0 -5 0M841.5 734.3a2 2 0 1 0 4 0a2 2 0 1 0 -4 0M842.3 717.3a2.5 2.5 0 1 0 5 0a2.5 2.5 0 1 0 -5 0M844.3 710.9a2 2 0 1 0 4 0a2 2 0 1 0 -4 0M851.6 739.3a2 2 0 1 0 4 0a2 2 0 1 0 -4 0M850.5 730.4a2 2 0 1 0 4 0a2 2 0 1 0 -4 0M849.7 712a3.3 3.3 0 1 0 6.6 0a3.3 3.3 0 1 0 -6.6 0" fill="#4269d0"/><path d="M729.3 676.3a2.5 2.5 0 1 0 5 0a2.5 2.5 0 1 0 -5 0M738.9 639.1a3.3 3.3 0 1 0 6.6 0a3.3 3.3 0 1 0 -6.6 0M738.1 629.3a3.3 3.3 0 1 0 6.6 0a3.3 3.3 0 1 0 -6.6 0M741.5 621.3a2 2 0 1 0 4 0a2 2 0 1 0 -4 0M738.1 611.9a2 2 0 1 0 4 0a2 2 0 1 0 -4 0M747.1 739.9a3.1 3.1 0 1 0 6.2 0a3.1 3.1 0 1 0 -6.2 0M749.3 670a2 2 0 1 0 4 0a2 2 0 1 0 -4 0M747.4 650.1a2.5 2.5 0 1 0 5 0a2.5 2.5 0 1 0 -5 0M749 632.6a3.3 3.3 0 1 0 6.6 0a3.3 3.3 0 1 0 -6.6 0M747.6 623.5a3.3 3.3 0 1 0 6.6 0a3.3 3.3 0 1 0 -6.6 0M749.4 614a3.1 3.1 0 1 0 6.2 0a3.1 3.1 0 1 0 -6.2 0M746.6 604.2a2.5 2.5 0 1 0 5 0a2.5 2.5 0 1 0 -5 0M746 596a2.5 2.5 0 1 0 5 0a2.5 2.5 0 1 0 -5 0M757.6 718.1a2 2 0 1 0 4 0a2 2 0 1 0 -4 0M757.4 645.9a2.5 2.5 0 1 0 5 0a2.5 2.5 0 1 0 -5 0M755.3 636.6a3.3 3.3 0 1 0 6.6 0a3.3 3.3 0 1 0 -6.6 0M759.4 628.4a2 2 0 1 0 4 0a2 2 0 1 0 -4 0M754.4 617.2a3.1 3.1 0 1 0 6.2 0a3.1 3.1 0 1 0 -6.2 0M757.6 607.8a2.5 2.5 0 1 0 5 0a2.5 2.5 0 1 0 -5 0M758.3 599.4a2 2 0 1 0 4 0a2 2 0 1 0 -4 0M756.8 591.7a2 2 0 1 0 4 0a2 2 0 1 0 -4 0M757.6 572.4a2 2 0 1 0 4 0a2 2 0 1 0 -4 0M754.9 564.6a3.3 3.3 0 1 0 6.6 0a3.3 3.3 0 1 0 -6.6 0M767.2 578a2.5 2.5 0 1 0 5 0a2.5 2.5 0 1 0 -5 0M773.2 682.5a2.5 2.5 0 1 0 5 0a2.5 2.5 0 1 0 -5 0M772.5 664.2a3.3 3.3 0 1 0 6.6 0a3.3 3.3 0 1 0 -6.6 0M772.7 548.2a3.3 3.3 0 1 0 6.6 0a3.3 3.3 0 1 0 -6.6 0M781.9 676.6a3.3 3.3 0 1 0 6.6 0a3.3 3.3 0 1 0 -6.6 0M781.5 624.3a3.3 3.3 0 1 0 6.6 0a3.3 3.3 0 1 0 -6.6 0M783 614.3a2 2 0 1 0 4 0a2 2 0 1 0 -4 0M783.1 605.2a3.1 3.1 0 1 0 6.2 0a3.1 3.1 0 1 0 -6.2 0M783.7 597.5a2 2 0 1 0 4 0a2 2 0 1 0 -4 0M782 589a2 2 0 1 0 4 0a2 2 0 1 0 -4 0M781.2 571.6a2 2 0 1 0 4 0a2 2 0 1 0 -4 0M785 561.6a2 2 0 1 0 4 0a2 2 0 1 0 -4 0M782 543.3a3.3 3.3 0 1 0 6.6 0a3.3 3.3 0 1 0 -6.6 0M791.5 619.4a3.3 3.3 0 1 0 6.6 0a3.3 3.3 0 1 0 -6.6 0M791.3 602a3.3 3.3 0 1 0 6.6 0a3.3 3.3 0 1 0 -6.6 0M789.1 592.8a3.3 3.3 0 1 0 6.6 0a3.3 3.3 0 1 0 -6.6 0M789.5 584.3a2.5 2.5 0 1 0 5 0a2.5 2.5 0 1 0 -5 0M789.2 576.4a3.3 3.3 0 1 0 6.6 0a3.3 3.3 0 1 0 -6.6 0M789.2 567.4a3.1 3.1 0 1 0 6.2 0a3.1 3.1 0 1 0 -6.2 0M790.3 558.8a3.1 3.1 0 1 0 6.2 0a3.1 3.1 0 1 0 -6.2 0M790.1 550.5a2 2 0 1 0 4 0a2 2 0 1 0 -4 0M789.5 540.7a3.1 3.1 0 1 0 6.2 0a3.1 3.1 0 1 0 -6.2 0M792.6 530.9a2 2 0 1 0 4 0a2 2 0 1 0 -4 0M800.4 617.9a3.1 3.1 0 1 0 6.2 0a3.1 3.1 0 1 0 -6.2 0M797.9 607.6a2.5 2.5 0 1 0 5 0a2.5 2.5 0 1 0 -5 0M799.9 599a3.1 3.1 0 1 0 6.2 0a3.1 3.1 0 1 0 -6.2 0M800.2 589.8a3.3 3.3 0 1 0 6.6 0a3.3 3.3 0 1 0 -6.6 0M798.1 582.1a2.5 2.5 0 1 0 5 0a2.5 2.5 0 1 0 -5 0M798 572.5a3.3 3.3 0 1 0 6.6 0a3.3 3.3 0 1 0 -6.6 0M798.7 564.6a2.5 2.5 0 1 0 5 0a2.5 2.5 0 1 0 -5 0M799.8 554.7a2.5 2.5 0 1 0 5 0a2.5 2.5 0 1 0 -5 0M798 545.1a2.5 2.5 0 1 0 5 0a2.5 2.5 0 1 0 -5 0M799.4 536.5a2.5 2.5 0 1 0 5 0a2.5 2.5 0 1 0 -5 0M800.9 526.6a2 2 0 1 0 4 0a2 2 0 1 0 -4 0M808.4 620.3a3.1 3.1 0 1 0 6.2 0a3.1 3.1 0 1 0 -6.2 0M807.4 612.6a2 2 0 1 0 4 0a2 2 0 1 0 -4 0M819.1 679.2a2.5 2.5 0 1 0 5 0a2.5 2.5 0 1 0 -5 0M825.2 727.1a2.5 2.5 0 1 0 5 0a2.5 2.5 0 1 0 -5 0M827.1 700.8a2 2 0 1 0 4 0a2 2 0 1 0 -4 0M824.2 691.5a2 2 0 1 0 4 0a2 2 0 1 0 -4 0M834.2 704.5a2.5 2.5 0 1 0 5 0a2.5 2.5 0 1 0 -5 0M833.3 695.7a3.1 3.1 0 1 0 6.2 0a3.1 3.1 0 1 0 -6.2 0M834.4 687a2.5 2.5 0 1 0 5 0a2.5 2.5 0 1 0 -5 0M834.4 678.1a2 2 0 1 0 4 0a2 2 0 1 0 -4 0M842.6 728a3.1 3.1 0 1 0 6.2 0a3.1 3.1 0 1 0 -6.2 0M841.6 701.1a3.3 3.3 0 1 0 6.6 0a3.3 3.3 0 1 0 -6.6 0M841.8 692.7a2.5 2.5 0 1 0 5 0a2.5 2.5 0 1 0 -5 0M851 722.1a2.5 2.5 0 1 0 5 0a2.5 2.5 0 1 0 -5 0M859 725.1a3.3 3.3 0 1 0 6.6 0a3.3 3.3 0 1 0 -6.6 0M876.3 717.2a3.3 3.3 0 1 0 6.6 0a3.3 3.3 0 1 0 -6.6 0" fill="#efb118"/><path d="M856.5 736.3a3.3 3.3 0 1 0 6.6 0a3.3 3.3 0 1 0 -6.6 0M859.5 716.9a3.3 3.3 0 1 0 6.6 0a3.3 3.3 0 1 0 -6.6 0M860.1 708a2 2 0 1 0 4 0a2 2 0 1 0 -4 0M859.5 697.7a2.5 2.5 0 1 0 5 0a2.5 2.5 0 1 0 -5 0M859.3 690.1a2 2 0 1 0 4 0a2 2 0 1 0 -4 0M867.2 739.5a3.1 3.1 0 1 0 6.2 0a3.1 3.1 0 1 0 -6.2 0M867.5 730.5a2 2 0 1 0 4 0a2 2 0 1 0 -4 0M867.6 703a3.3 3.3 0 1 0 6.6 0a3.3 3.3 0 1 0 -6.6 0M868.3 695.7a3.1 3.1 0 1 0 6.2 0a3.1 3.1 0 1 0 -6.2 0M868.5 684.6a2 2 0 1 0 4 0a2 2 0 1 0 -4 0M868.5 677.5a3.1 3.1 0 1 0 6.2 0a3.1 3.1 0 1 0 -6.2 0M866.3 659.6a2.5 2.5 0 1 0 5 0a2.5 2.5 0 1 0 -5 0M868.3 650.3a2.5 2.5 0 1 0 5 0a2.5 2.5 0 1 0 -5 0M865.7 641.8a3.3 3.3 0 1 0 6.6 0a3.3 3.3 0 1 0 -6.6 0M868.2 635a2.5 2.5 0 1 0 5 0a2.5 2.5 0 1 0 -5 0M868.6 624.6a2 2 0 1 0 4 0a2 2 0 1 0 -4 0M868.6 615.2a3.3 3.3 0 1 0 6.6 0a3.3 3.3 0 1 0 -6.6 0M869.1 605.8a2.5 2.5 0 1 0 5 0a2.5 2.5 0 1 0 -5 0M874.7 736.4a2.5 2.5 0 1 0 5 0a2.5 2.5 0 1 0 -5 0M876.9 727.4a2 2 0 1 0 4 0a2 2 0 1 0 -4 0M876.8 709a2.5 2.5 0 1 0 5 0a2.5 2.5 0 1 0 -5 0M875.1 699.5a3.1 3.1 0 1 0 6.2 0a3.1 3.1 0 1 0 -6.2 0M874.9 692.5a2.5 2.5 0 1 0 5 0a2.5 2.5 0 1 0 -5 0M874.5 683.5a2.5 2.5 0 1 0 5 0a2.5 2.5 0 1 0 -5 0M875.2 674.2a3.1 3.1 0 1 0 6.2 0a3.1 3.1 0 1 0 -6.2 0M876.2 664.9a3.3 3.3 0 1 0 6.6 0a3.3 3.3 0 1 0 -6.6 0M875.1 654.8a3.3 3.3 0 1 0 6.6 0a3.3 3.3 0 1 0 -6.6 0M876.1 646.3a2.5 2.5 0 1 0 5 0a2.5 2.5 0 1 0 -5 0M875.1 636.3a2.5 2.5 0 1 0 5 0a2.5 2.5 0 1 0 -5 0M875.9 628a2.5 2.5 0 1 0 5 0a2.5 2.5 0 1 0 -5 0M873.4 621.3a3.3 3.3 0 1 0 6.6 0a3.3 3.3 0 1 0 -6.6 0M876.5 611.5a3.1 3.1 0 1 0 6.2 0a3.1 3.1 0 1 0 -6.2 0M876.4 601.6a3.1 3.1 0 1 0 6.2 0a3.1 3.1 0 1 0 -6.2 0M882.9 741.4a2 2 0 1 0 4 0a2 2 0 1 0 -4 0M883.1 730.9a3.1 3.1 0 1 0 6.2 0a3.1 3.1 0 1 0 -6.2 0M882.9 723.3a3.3 3.3 0 1 0 6.6 0a3.3 3.3 0 1 0 -6.6 0M883.7 713.5a3.1 3.1 0 1 0 6.2 0a3.1 3.1 0 1 0 -6.2 0M884.6 706.2a2.5 2.5 0 1 0 5 0a2.5 2.5 0 1 0 -5 0M884.2 696a2.5 2.5 0 1 0 5 0a2.5 2.5 0 1 0 -5 0M884.4 687.3a2.5 2.5 0 1 0 5 0a2.5 2.5 0 1 0 -5 0M886.3 677.9a2.5 2.5 0 1 0 5 0a2.5 2.5 0 1 0 -5 0M882.5 670.3a3.3 3.3 0 1 0 6.6 0a3.3 3.3 0 1 0 -6.6 0M885 659.3a2 2 0 1 0 4 0a2 2 0 1 0 -4 0M882.1 650.1a3.1 3.1 0 1 0 6.2 0a3.1 3.1 0 1 0 -6.2 0M883.8 642.1a3.3 3.3 0 1 0 6.6 0a3.3 3.3 0 1 0 -6.6 0M892 735.8a3.3 3.3 0 1 0 6.6 0a3.3 3.3 0 1 0 -6.6 0M891.2 726.7a3.3 3.3 0 1 0 6.6 0a3.3 3.3 0 1 0 -6.6 0M893.5 719.6a2.5 2.5 0 1 0 5 0a2.5 2.5 0 1 0 -5 0M892.2 709.9a3.1 3.1 0 1 0 6.2 0a3.1 3.1 0 1 0 -6.2 0M891.3 701a2.5 2.5 0 1 0 5 0a2.5 2.5 0 1 0 -5 0M892.8 691a3.3 3.3 0 1 0 6.6 0a3.3 3.3 0 1 0 -6.6 0M893.7 682.3a3.3 3.3 0 1 0 6.6 0a3.3 3.3 0 1 0 -6.6 0M890.7 673.9a3.3 3.3 0 1 0 6.6 0a3.3 3.3 0 1 0 -6.6 0M892 666a3.1 3.1 0 1 0 6.2 0a3.1 3.1 0 1 0 -6.2 0M894.4 657.2a2 2 0 1 0 4 0a2 2 0 1 0 -4 0M892.4 648.6a3.3 3.3 0 1 0 6.6 0a3.3 3.3 0 1 0 -6.6 0M892 638.3a3.3 3.3 0 1 0 6.6 0a3.3 3.3 0 1 0 -6.6 0M891.5 629.2a2.5 2.5 0 1 0 5 0a2.5 2.5 0 1 0 -5 0M890.4 621.5a3.1 3.1 0 1 0 6.2 0a3.1 3.1 0 1 0 -6.2 0M891.9 611.6a2.5 2.5 0 1 0 5 0a2.5 2.5 0 1 0 -5 0M891.6 605.2a3.3 3.3 0 1 0 6.6 0a3.3 3.3 0 1 0 -6.6 0M901.3 740.4a3.3 3.3 0 1 0 6.6 0a3.3 3.3 0 1 0 -6.6 0M900.9 721.8a3.1 3.1 0 1 0 6.2 0a3.1 3.1 0 1 0 -6.2 0M900.4 712.9a3.1 3.1 0 1 0 6.2 0a3.1 3.1 0 1 0 -6.2 0M900 704.7a3.1 3.1 0 1 0 6.2 0a3.1 3.1 0 1 0 -6.2 0M901 695.6a3.1 3.1 0 1 0 6.2 0a3.1 3.1 0 1 0 -6.2 0M899.7 686.9a3.3 3.3 0 1 0 6.6 0a3.3 3.3 0 1 0 -6.6 0M900.1 669.2a3.1 3.1 0 1 0 6.2 0a3.1 3.1 0 1 0 -6.2 0M902.5 658.4a2.5 2.5 0 1 0 5 0a2.5 2.5 0 1 0 -5 0M900.6 651.4a3.3 3.3 0 1 0 6.6 0a3.3 3.3 0 1 0 -6.6 0M901.9 641.8a2 2 0 1 0 4 0a2 2 0 1 0 -4 0M903.3 632.5a2 2 0 1 0 4 0a2 2 0 1 0 -4 0M900.5 626.5a3.1 3.1 0 1 0 6.2 0a3.1 3.1 0 1 0 -6.2 0M901.8 616.7a3.3 3.3 0 1 0 6.6 0a3.3 3.3 0 1 0 -6.6 0M902.3 607.5a3.1 3.1 0 1 0 6.2 0a3.1 3.1 0 1 0 -6.2 0M900.9 598.3a2 2 0 1 0 4 0a2 2 0 1 0 -4 0M908.2 735.4a3.1 3.1 0 1 0 6.2 0a3.1 3.1 0 1 0 -6.2 0M908.6 718.5a3.3 3.3 0 1 0 6.6 0a3.3 3.3 0 1 0 -6.6 0M909.2 709.4a2 2 0 1 0 4 0a2 2 0 1 0 -4 0M910 701.3a3.3 3.3 0 1 0 6.6 0a3.3 3.3 0 1 0 -6.6 0M909.7 690.6a3.1 3.1 0 1 0 6.2 0a3.1 3.1 0 1 0 -6.2 0M907.8 682.5a3.1 3.1 0 1 0 6.2 0a3.1 3.1 0 1 0 -6.2 0M908.1 671.8a3.3 3.3 0 1 0 6.6 0a3.3 3.3 0 1 0 -6.6 0M910.3 663.9a2.5 2.5 0 1 0 5 0a2.5 2.5 0 1 0 -5 0M909.8 655.1a2.5 2.5 0 1 0 5 0a2.5 2.5 0 1 0 -5 0M909.7 647.2a3.1 3.1 0 1 0 6.2 0a3.1 3.1 0 1 0 -6.2 0M911 637.1a3.3 3.3 0 1 0 6.6 0a3.3 3.3 0 1 0 -6.6 0M910.7 629.8a2.5 2.5 0 1 0 5 0a2.5 2.5 0 1 0 -5 0M909.6 618.8a3.3 3.3 0 1 0 6.6 0a3.3 3.3 0 1 0 -6.6 0M912 609.7a2.5 2.5 0 1 0 5 0a2.5 2.5 0 1 0 -5 0M918.5 739.9a3.3 3.3 0 1 0 6.6 0a3.3 3.3 0 1 0 -6.6 0M918 731.4a3.1 3.1 0 1 0 6.2 0a3.1 3.1 0 1 0 -6.2 0M918.7 722.6a2 2 0 1 0 4 0a2 2 0 1 0 -4 0M920.8 713.5a2 2 0 1 0 4 0a2 2 0 1 0 -4 0M920.3 704.7a2.5 2.5 0 1 0 5 0a2.5 2.5 0 1 0 -5 0M917.7 695.2a3.3 3.3 0 1 0 6.6 0a3.3 3.3 0 1 0 -6.6 0M918.3 687.1a3.1 3.1 0 1 0 6.2 0a3.1 3.1 0 1 0 -6.2 0M918.1 677.9a2.5 2.5 0 1 0 5 0a2.5 2.5 0 1 0 -5 0M920.5 669.5a2.5 2.5 0 1 0 5 0a2.5 2.5 0 1 0 -5 0M918.3 651a2 2 0 1 0 4 0a2 2 0 1 0 -4 0M919.1 642.2a3.1 3.1 0 1 0 6.2 0a3.1 3.1 0 1 0 -6.2 0M918.3 633.7a3.1 3.1 0 1 0 6.2 0a3.1 3.1 0 1 0 -6.2 0M926.8 737.2a3.3 3.3 0 1 0 6.6 0a3.3 3.3 0 1 0 -6.6 0M927.1 727.3a2 2 0 1 0 4 0a2 2 0 1 0 -4 0M928.2 719.1a3.3 3.3 0 1 0 6.6 0a3.3 3.3 0 1 0 -6.6 0M927.1 711.2a3.1 3.1 0 1 0 6.2 0a3.1 3.1 0 1 0 -6.2 0M929.3 701.9a2 2 0 1 0 4 0a2 2 0 1 0 -4 0M926.7 690.9a3.1 3.1 0 1 0 6.2 0a3.1 3.1 0 1 0 -6.2 0M929.2 681.5a3.1 3.1 0 1 0 6.2 0a3.1 3.1 0 1 0 -6.2 0M928.5 665.3a2.5 2.5 0 1 0 5 0a2.5 2.5 0 1 0 -5 0M928.7 656.3a2 2 0 1 0 4 0a2 2 0 1 0 -4 0M927.7 638.6a2 2 0 1 0 4 0a2 2 0 1 0 -4 0M933.6 740.2a2.5 2.5 0 1 0 5 0a2.5 2.5 0 1 0 -5 0M936.5 730.8a3.3 3.3 0 1 0 6.6 0a3.3 3.3 0 1 0 -6.6 0M935.1 722a2.5 2.5 0 1 0 5 0a2.5 2.5 0 1 0 -5 0M937.6 714.3a2 2 0 1 0 4 0a2 2 0 1 0 -4 0M937.5 703.1a2 2 0 1 0 4 0a2 2 0 1 0 -4 0M936 694a2 2 0 1 0 4 0a2 2 0 1 0 -4 0M937.4 686.3a2.5 2.5 0 1 0 5 0a2.5 2.5 0 1 0 -5 0M936 677.5a2.5 2.5 0 1 0 5 0a2.5 2.5 0 1 0 -5 0M945.8 726.8a2 2 0 1 0 4 0a2 2 0 1 0 -4 0M943.9 718.8a3.1 3.1 0 1 0 6.2 0a3.1 3.1 0 1 0 -6.2 0M944.3 709.3a2 2 0 1 0 4 0a2 2 0 1 0 -4 0M945.1 701.8a2.5 2.5 0 1 0 5 0a2.5 2.5 0 1 0 -5 0M945.5 691.3a3.1 3.1 0 1 0 6.2 0a3.1 3.1 0 1 0 -6.2 0M944.3 682.8a2 2 0 1 0 4 0a2 2 0 1 0 -4 0M953.5 739.9a2.5 2.5 0 1 0 5 0a2.5 2.5 0 1 0 -5 0M953.7 730.8a3.1 3.1 0 1 0 6.2 0a3.1 3.1 0 1 0 -6.2 0M952.5 722a2 2 0 1 0 4 0a2 2 0 1 0 -4 0M954.7 712.6a2 2 0 1 0 4 0a2 2 0 1 0 -4 0M952.1 704.2a2.5 2.5 0 1 0 5 0a2.5 2.5 0 1 0 -5 0M960.5 735.7a2 2 0 1 0 4 0a2 2 0 1 0 -4 0M959.4 726.5a3.1 3.1 0 1 0 6.2 0a3.1 3.1 0 1 0 -6.2 0M959.9 718.9a3.3 3.3 0 1 0 6.6 0a3.3 3.3 0 1 0 -6.6 0M961.4 707.6a2.5 2.5 0 1 0 5 0a2.5 2.5 0 1 0 -5 0M969.7 740.4a3.3 3.3 0 1 0 6.6 0a3.3 3.3 0 1 0 -6.6 0M969 723.4a2 2 0 1 0 4 0a2 2 0 1 0 -4 0M967.7 713a3.1 3.1 0 1 0 6.2 0a3.1 3.1 0 1 0 -6.2 0M971.6 705.5a2 2 0 1 0 4 0a2 2 0 1 0 -4 0M967.8 696.7a2.5 2.5 0 1 0 5 0a2.5 2.5 0 1 0 -5 0M978.1 735.3a2 2 0 1 0 4 0a2 2 0 1 0 -4 0M977.5 726.4a2 2 0 1 0 4 0a2 2 0 1 0 -4 0M977.7 717.3a2 2 0 1 0 4 0a2 2 0 1 0 -4 0M976.6 709.7a3.3 3.3 0 1 0 6.6 0a3.3 3.3 0 1 0 -6.6 0M975.6 700.7a3.1 3.1 0 1 0 6.2 0a3.1 3.1 0 1 0 -6.2 0M979.4 691a2.5 2.5 0 1 0 5 0a2.5 2.5 0 1 0 -5 0M976.7 681.9a3.1 3.1 0 1 0 6.2 0a3.1 3.1 0 1 0 -6.2 0M978.1 673.9a2 2 0 1 0 4 0a2 2 0 1 0 -4 0" fill="#ff725c"/><path d="M678.2 739.6a4.1 4.1 0 1 0 8.2 0a4.1 4.1 0 1 0 -8.2 0M684.9 736.2a4.1 4.1 0 1 0 8.2 0a4.1 4.1 0 1 0 -8.2 0M701.6 736.1a4.1 4.1 0 1 0 8.2 0a4.1 4.1 0 1 0 -8.2 0M701.8 727.8a4.1 4.1 0 1 0 8.2 0a4.1 4.1 0 1 0 -8.2 0M703.8 717.5a4.1 4.1 0 1 0 8.2 0a4.1 4.1 0 1 0 -8.2 0M709.5 740.4a4.1 4.1 0 1 0 8.2 0a4.1 4.1 0 1 0 -8.2 0M712.1 731.1a4.1 4.1 0 1 0 8.2 0a4.1 4.1 0 1 0 -8.2 0M710.5 720.8a4.1 4.1 0 1 0 8.2 0a4.1 4.1 0 1 0 -8.2 0M709.5 712.5a4.1 4.1 0 1 0 8.2 0a4.1 4.1 0 1 0 -8.2 0M712.5 702.3a4.1 4.1 0 1 0 8.2 0a4.1 4.1 0 1 0 -8.2 0M712.2 696.3a4.1 4.1 0 1 0 8.2 0a4.1 4.1 0 1 0 -8.2 0M720 735.3a4.1 4.1 0 1 0 8.2 0a4.1 4.1 0 1 0 -8.2 0M719.9 728.5a4.1 4.1 0 1 0 8.2 0a4.1 4.1 0 1 0 -8.2 0M720.4 719.6a4.1 4.1 0 1 0 8.2 0a4.1 4.1 0 1 0 -8.2 0M721.9 709.5a4.1 4.1 0 1 0 8.2 0a4.1 4.1 0 1 0 -8.2 0M719.7 689.6a4.1 4.1 0 1 0 8.2 0a4.1 4.1 0 1 0 -8.2 0M719 682.4a4.1 4.1 0 1 0 8.2 0a4.1 4.1 0 1 0 -8.2 0M718.3 672.8a4.1 4.1 0 1 0 8.2 0a4.1 4.1 0 1 0 -8.2 0M721.7 664.3a4.1 4.1 0 1 0 8.2 0a4.1 4.1 0 1 0 -8.2 0M729.3 741.2a4.1 4.1 0 1 0 8.2 0a4.1 4.1 0 1 0 -8.2 0M726.4 729.8a4.1 4.1 0 1 0 8.2 0a4.1 4.1 0 1 0 -8.2 0M728.3 721.6a4.1 4.1 0 1 0 8.2 0a4.1 4.1 0 1 0 -8.2 0M730.2 713.6a4.1 4.1 0 1 0 8.2 0a4.1 4.1 0 1 0 -8.2 0M727.7 703.6a4.1 4.1 0 1 0 8.2 0a4.1 4.1 0 1 0 -8.2 0M729.2 695.6a4.1 4.1 0 1 0 8.2 0a4.1 4.1 0 1 0 -8.2 0M729.8 685.2a4.1 4.1 0 1 0 8.2 0a4.1 4.1 0 1 0 -8.2 0M726.9 676.6a4.1 4.1 0 1 0 8.2 0a4.1 4.1 0 1 0 -8.2 0M728.2 667.2a4.1 4.1 0 1 0 8.2 0a4.1 4.1 0 1 0 -8.2 0M728.9 659.2a4.1 4.1 0 1 0 8.2 0a4.1 4.1 0 1 0 -8.2 0M728.8 648.3a4.1 4.1 0 1 0 8.2 0a4.1 4.1 0 1 0 -8.2 0M727.6 641a4.1 4.1 0 1 0 8.2 0a4.1 4.1 0 1 0 -8.2 0M729.8 633.3a4.1 4.1 0 1 0 8.2 0a4.1 4.1 0 1 0 -8.2 0M728.7 623.4a4.1 4.1 0 1 0 8.2 0a4.1 4.1 0 1 0 -8.2 0M736 736.7a4.1 4.1 0 1 0 8.2 0a4.1 4.1 0 1 0 -8.2 0M736.8 727.4a4.1 4.1 0 1 0 8.2 0a4.1 4.1 0 1 0 -8.2 0M738.3 718.7a4.1 4.1 0 1 0 8.2 0a4.1 4.1 0 1 0 -8.2 0M736.5 707.6a4.1 4.1 0 1 0 8.2 0a4.1 4.1 0 1 0 -8.2 0M738.3 700.8a4.1 4.1 0 1 0 8.2 0a4.1 4.1 0 1 0 -8.2 0M738 691.1a4.1 4.1 0 1 0 8.2 0a4.1 4.1 0 1 0 -8.2 0M737.2 682.2a4.1 4.1 0 1 0 8.2 0a4.1 4.1 0 1 0 -8.2 0M736.1 673.7a4.1 4.1 0 1 0 8.2 0a4.1 4.1 0 1 0 -8.2 0M737 665.6a4.1 4.1 0 1 0 8.2 0a4.1 4.1 0 1 0 -8.2 0M736.2 657.3a4.1 4.1 0 1 0 8.2 0a4.1 4.1 0 1 0 -8.2 0M737.5 646.9a4.1 4.1 0 1 0 8.2 0a4.1 4.1 0 1 0 -8.2 0M739.2 637.5a4.1 4.1 0 1 0 8.2 0a4.1 4.1 0 1 0 -8.2 0M736.4 629.1a4.1 4.1 0 1 0 8.2 0a4.1 4.1 0 1 0 -8.2 0M739.3 621.1a4.1 4.1 0 1 0 8.2 0a4.1 4.1 0 1 0 -8.2 0M736.4 612.1a4.1 4.1 0 1 0 8.2 0a4.1 4.1 0 1 0 -8.2 0M745.9 739.6a4.1 4.1 0 1 0 8.2 0a4.1 4.1 0 1 0 -8.2 0M745.8 731.9a4.1 4.1 0 1 0 8.2 0a4.1 4.1 0 1 0 -8.2 0M745.7 721.6a4.1 4.1 0 1 0 8.2 0a4.1 4.1 0 1 0 -8.2 0M746.4 703.5a4.1 4.1 0 1 0 8.2 0a4.1 4.1 0 1 0 -8.2 0M745.5 696.2a4.1 4.1 0 1 0 8.2 0a4.1 4.1 0 1 0 -8.2 0M745.6 687.6a4.1 4.1 0 1 0 8.2 0a4.1 4.1 0 1 0 -8.2 0M746.4 678.5a4.1 4.1 0 1 0 8.2 0a4.1 4.1 0 1 0 -8.2 0M747.4 670.5a4.1 4.1 0 1 0 8.2 0a4.1 4.1 0 1 0 -8.2 0M747.8 661.4a4.1 4.1 0 1 0 8.2 0a4.1 4.1 0 1 0 -8.2 0M746.9 650.4a4.1 4.1 0 1 0 8.2 0a4.1 4.1 0 1 0 -8.2 0M746.5 642.3a4.1 4.1 0 1 0 8.2 0a4.1 4.1 0 1 0 -8.2 0M747 633.3a4.1 4.1 0 1 0 8.2 0a4.1 4.1 0 1 0 -8.2 0M747.2 622.6a4.1 4.1 0 1 0 8.2 0a4.1 4.1 0 1 0 -8.2 0M747 613.9a4.1 4.1 0 1 0 8.2 0a4.1 4.1 0 1 0 -8.2 0M744.8 604.3a4.1 4.1 0 1 0 8.2 0a4.1 4.1 0 1 0 -8.2 0M745.1 596.5a4.1 4.1 0 1 0 8.2 0a4.1 4.1 0 1 0 -8.2 0M754.7 717.4a4.1 4.1 0 1 0 8.2 0a4.1 4.1 0 1 0 -8.2 0M755.4 707.7a4.1 4.1 0 1 0 8.2 0a4.1 4.1 0 1 0 -8.2 0M755.4 699.8a4.1 4.1 0 1 0 8.2 0a4.1 4.1 0 1 0 -8.2 0M754.3 691a4.1 4.1 0 1 0 8.2 0a4.1 4.1 0 1 0 -8.2 0M754.9 681.5a4.1 4.1 0 1 0 8.2 0a4.1 4.1 0 1 0 -8.2 0M754.2 661.4a4.1 4.1 0 1 0 8.2 0a4.1 4.1 0 1 0 -8.2 0M756 655.7a4.1 4.1 0 1 0 8.2 0a4.1 4.1 0 1 0 -8.2 0M755.8 646.5a4.1 4.1 0 1 0 8.2 0a4.1 4.1 0 1 0 -8.2 0M753.5 635.6a4.1 4.1 0 1 0 8.2 0a4.1 4.1 0 1 0 -8.2 0M756.1 628.9a4.1 4.1 0 1 0 8.2 0a4.1 4.1 0 1 0 -8.2 0M753.5 618.4a4.1 4.1 0 1 0 8.2 0a4.1 4.1 0 1 0 -8.2 0M756.3 608.1a4.1 4.1 0 1 0 8.2 0a4.1 4.1 0 1 0 -8.2 0M755.5 600.5a4.1 4.1 0 1 0 8.2 0a4.1 4.1 0 1 0 -8.2 0M755 592.2a4.1 4.1 0 1 0 8.2 0a4.1 4.1 0 1 0 -8.2 0M755 572.1a4.1 4.1 0 1 0 8.2 0a4.1 4.1 0 1 0 -8.2 0M752.9 564a4.1 4.1 0 1 0 8.2 0a4.1 4.1 0 1 0 -8.2 0M765 741.8a4.1 4.1 0 1 0 8.2 0a4.1 4.1 0 1 0 -8.2 0M763.2 730.1a4.1 4.1 0 1 0 8.2 0a4.1 4.1 0 1 0 -8.2 0M764.3 722a4.1 4.1 0 1 0 8.2 0a4.1 4.1 0 1 0 -8.2 0M763.1 713.1a4.1 4.1 0 1 0 8.2 0a4.1 4.1 0 1 0 -8.2 0M765.4 704.6a4.1 4.1 0 1 0 8.2 0a4.1 4.1 0 1 0 -8.2 0M765.3 696.5a4.1 4.1 0 1 0 8.2 0a4.1 4.1 0 1 0 -8.2 0M763.5 685.2a4.1 4.1 0 1 0 8.2 0a4.1 4.1 0 1 0 -8.2 0M765.9 677.1a4.1 4.1 0 1 0 8.2 0a4.1 4.1 0 1 0 -8.2 0M764.4 667.2a4.1 4.1 0 1 0 8.2 0a4.1 4.1 0 1 0 -8.2 0M762 659.1a4.1 4.1 0 1 0 8.2 0a4.1 4.1 0 1 0 -8.2 0M762.7 649.3a4.1 4.1 0 1 0 8.2 0a4.1 4.1 0 1 0 -8.2 0M765.4 641.8a4.1 4.1 0 1 0 8.2 0a4.1 4.1 0 1 0 -8.2 0M765 633a4.1 4.1 0 1 0 8.2 0a4.1 4.1 0 1 0 -8.2 0M764.1 623.5a4.1 4.1 0 1 0 8.2 0a4.1 4.1 0 1 0 -8.2 0M764.6 614.1a4.1 4.1 0 1 0 8.2 0a4.1 4.1 0 1 0 -8.2 0M766.1 606.8a4.1 4.1 0 1 0 8.2 0a4.1 4.1 0 1 0 -8.2 0M764.1 596.4a4.1 4.1 0 1 0 8.2 0a4.1 4.1 0 1 0 -8.2 0M766.2 578.3a4.1 4.1 0 1 0 8.2 0a4.1 4.1 0 1 0 -8.2 0M765.6 570.9a4.1 4.1 0 1 0 8.2 0a4.1 4.1 0 1 0 -8.2 0M763.3 559.4a4.1 4.1 0 1 0 8.2 0a4.1 4.1 0 1 0 -8.2 0M763.5 553a4.1 4.1 0 1 0 8.2 0a4.1 4.1 0 1 0 -8.2 0M763 542.2a4.1 4.1 0 1 0 8.2 0a4.1 4.1 0 1 0 -8.2 0M764.9 534.1a4.1 4.1 0 1 0 8.2 0a4.1 4.1 0 1 0 -8.2 0M771.4 735.9a4.1 4.1 0 1 0 8.2 0a4.1 4.1 0 1 0 -8.2 0M771.9 726.7a4.1 4.1 0 1 0 8.2 0a4.1 4.1 0 1 0 -8.2 0M772.8 718.5a4.1 4.1 0 1 0 8.2 0a4.1 4.1 0 1 0 -8.2 0M773.2 700.1a4.1 4.1 0 1 0 8.2 0a4.1 4.1 0 1 0 -8.2 0M773 690a4.1 4.1 0 1 0 8.2 0a4.1 4.1 0 1 0 -8.2 0M771 683.1a4.1 4.1 0 1 0 8.2 0a4.1 4.1 0 1 0 -8.2 0M774.9 673a4.1 4.1 0 1 0 8.2 0a4.1 4.1 0 1 0 -8.2 0M770.9 664.9a4.1 4.1 0 1 0 8.2 0a4.1 4.1 0 1 0 -8.2 0M770.7 655.6a4.1 4.1 0 1 0 8.2 0a4.1 4.1 0 1 0 -8.2 0M774.3 647.1a4.1 4.1 0 1 0 8.2 0a4.1 4.1 0 1 0 -8.2 0M772.3 637.4a4.1 4.1 0 1 0 8.2 0a4.1 4.1 0 1 0 -8.2 0M773.3 628.8a4.1 4.1 0 1 0 8.2 0a4.1 4.1 0 1 0 -8.2 0M774.4 618.9a4.1 4.1 0 1 0 8.2 0a4.1 4.1 0 1 0 -8.2 0M774.9 609.3a4.1 4.1 0 1 0 8.2 0a4.1 4.1 0 1 0 -8.2 0M772.8 600.6a4.1 4.1 0 1 0 8.2 0a4.1 4.1 0 1 0 -8.2 0M773.4 592.7a4.1 4.1 0 1 0 8.2 0a4.1 4.1 0 1 0 -8.2 0M770.9 574.9a4.1 4.1 0 1 0 8.2 0a4.1 4.1 0 1 0 -8.2 0M773.6 564a4.1 4.1 0 1 0 8.2 0a4.1 4.1 0 1 0 -8.2 0M772.7 555.2a4.1 4.1 0 1 0 8.2 0a4.1 4.1 0 1 0 -8.2 0M772.5 547.3a4.1 4.1 0 1 0 8.2 0a4.1 4.1 0 1 0 -8.2 0M774 538.3a4.1 4.1 0 1 0 8.2 0a4.1 4.1 0 1 0 -8.2 0M774.4 528.5a4.1 4.1 0 1 0 8.2 0a4.1 4.1 0 1 0 -8.2 0M773.6 519.6a4.1 4.1 0 1 0 8.2 0a4.1 4.1 0 1 0 -8.2 0M780.7 740a4.1 4.1 0 1 0 8.2 0a4.1 4.1 0 1 0 -8.2 0M783.1 731.3a4.1 4.1 0 1 0 8.2 0a4.1 4.1 0 1 0 -8.2 0M781.6 721.3a4.1 4.1 0 1 0 8.2 0a4.1 4.1 0 1 0 -8.2 0M782.7 712.5a4.1 4.1 0 1 0 8.2 0a4.1 4.1 0 1 0 -8.2 0M782.1 702.9a4.1 4.1 0 1 0 8.2 0a4.1 4.1 0 1 0 -8.2 0M782 685.4a4.1 4.1 0 1 0 8.2 0a4.1 4.1 0 1 0 -8.2 0M781 677.5a4.1 4.1 0 1 0 8.2 0a4.1 4.1 0 1 0 -8.2 0M780.2 669.6a4.1 4.1 0 1 0 8.2 0a4.1 4.1 0 1 0 -8.2 0M780.5 660.1a4.1 4.1 0 1 0 8.2 0a4.1 4.1 0 1 0 -8.2 0M783.4 651.3a4.1 4.1 0 1 0 8.2 0a4.1 4.1 0 1 0 -8.2 0M780.7 642.5a4.1 4.1 0 1 0 8.2 0a4.1 4.1 0 1 0 -8.2 0M781.2 632.8a4.1 4.1 0 1 0 8.2 0a4.1 4.1 0 1 0 -8.2 0M781.5 623.9a4.1 4.1 0 1 0 8.2 0a4.1 4.1 0 1 0 -8.2 0M780.9 613.3a4.1 4.1 0 1 0 8.2 0a4.1 4.1 0 1 0 -8.2 0M782.2 606.2a4.1 4.1 0 1 0 8.2 0a4.1 4.1 0 1 0 -8.2 0M780.7 597.4a4.1 4.1 0 1 0 8.2 0a4.1 4.1 0 1 0 -8.2 0M780.9 589a4.1 4.1 0 1 0 8.2 0a4.1 4.1 0 1 0 -8.2 0M780 571.4a4.1 4.1 0 1 0 8.2 0a4.1 4.1 0 1 0 -8.2 0M782.1 561.7a4.1 4.1 0 1 0 8.2 0a4.1 4.1 0 1 0 -8.2 0M780.5 543.9a4.1 4.1 0 1 0 8.2 0a4.1 4.1 0 1 0 -8.2 0M791.3 735.5a4.1 4.1 0 1 0 8.2 0a4.1 4.1 0 1 0 -8.2 0M790.3 727.4a4.1 4.1 0 1 0 8.2 0a4.1 4.1 0 1 0 -8.2 0M790 716.4a4.1 4.1 0 1 0 8.2 0a4.1 4.1 0 1 0 -8.2 0M789.4 707.5a4.1 4.1 0 1 0 8.2 0a4.1 4.1 0 1 0 -8.2 0M791.2 699.5a4.1 4.1 0 1 0 8.2 0a4.1 4.1 0 1 0 -8.2 0M788.5 691.7a4.1 4.1 0 1 0 8.2 0a4.1 4.1 0 1 0 -8.2 0M790.1 681.8a4.1 4.1 0 1 0 8.2 0a4.1 4.1 0 1 0 -8.2 0M788.8 672a4.1 4.1 0 1 0 8.2 0a4.1 4.1 0 1 0 -8.2 0M788.2 664.9a4.1 4.1 0 1 0 8.2 0a4.1 4.1 0 1 0 -8.2 0M790.5 655.4a4.1 4.1 0 1 0 8.2 0a4.1 4.1 0 1 0 -8.2 0M788.8 645.7a4.1 4.1 0 1 0 8.2 0a4.1 4.1 0 1 0 -8.2 0M788.7 636.3a4.1 4.1 0 1 0 8.2 0a4.1 4.1 0 1 0 -8.2 0M788.5 628.9a4.1 4.1 0 1 0 8.2 0a4.1 4.1 0 1 0 -8.2 0M791 619.2a4.1 4.1 0 1 0 8.2 0a4.1 4.1 0 1 0 -8.2 0M791.5 601.9a4.1 4.1 0 1 0 8.2 0a4.1 4.1 0 1 0 -8.2 0M787 592.5a4.1 4.1 0 1 0 8.2 0a4.1 4.1 0 1 0 -8.2 0M788.2 584.4a4.1 4.1 0 1 0 8.2 0a4.1 4.1 0 1 0 -8.2 0M788 575.7a4.1 4.1 0 1 0 8.2 0a4.1 4.1 0 1 0 -8.2 0M788.3 567.2a4.1 4.1 0 1 0 8.2 0a4.1 4.1 0 1 0 -8.2 0M790 557.7a4.1 4.1 0 1 0 8.2 0a4.1 4.1 0 1 0 -8.2 0M787.5 551.1a4.1 4.1 0 1 0 8.2 0a4.1 4.1 0 1 0 -8.2 0M787.4 539.4a4.1 4.1 0 1 0 8.2 0a4.1 4.1 0 1 0 -8.2 0M791.4 531.4a4.1 4.1 0 1 0 8.2 0a4.1 4.1 0 1 0 -8.2 0M797.7 738.5a4.1 4.1 0 1 0 8.2 0a4.1 4.1 0 1 0 -8.2 0M796 730.8a4.1 4.1 0 1 0 8.2 0a4.1 4.1 0 1 0 -8.2 0M795.5 721.8a4.1 4.1 0 1 0 8.2 0a4.1 4.1 0 1 0 -8.2 0M797 706.9a4.1 4.1 0 1 0 8.2 0a4.1 4.1 0 1 0 -8.2 0M796.9 695.8a4.1 4.1 0 1 0 8.2 0a4.1 4.1 0 1 0 -8.2 0M795.7 678.5a4.1 4.1 0 1 0 8.2 0a4.1 4.1 0 1 0 -8.2 0M797.4 670.8a4.1 4.1 0 1 0 8.2 0a4.1 4.1 0 1 0 -8.2 0M797.3 660.5a4.1 4.1 0 1 0 8.2 0a4.1 4.1 0 1 0 -8.2 0M798.1 652.8a4.1 4.1 0 1 0 8.2 0a4.1 4.1 0 1 0 -8.2 0M795.7 643.9a4.1 4.1 0 1 0 8.2 0a4.1 4.1 0 1 0 -8.2 0M798.2 633.3a4.1 4.1 0 1 0 8.2 0a4.1 4.1 0 1 0 -8.2 0M797.3 623.9a4.1 4.1 0 1 0 8.2 0a4.1 4.1 0 1 0 -8.2 0M798.3 616.9a4.1 4.1 0 1 0 8.2 0a4.1 4.1 0 1 0 -8.2 0M796.5 607.3a4.1 4.1 0 1 0 8.2 0a4.1 4.1 0 1 0 -8.2 0M798.4 599.9a4.1 4.1 0 1 0 8.2 0a4.1 4.1 0 1 0 -8.2 0M799.4 590a4.1 4.1 0 1 0 8.2 0a4.1 4.1 0 1 0 -8.2 0M795.4 582a4.1 4.1 0 1 0 8.2 0a4.1 4.1 0 1 0 -8.2 0M796.1 571.5a4.1 4.1 0 1 0 8.2 0a4.1 4.1 0 1 0 -8.2 0M796.6 563.3a4.1 4.1 0 1 0 8.2 0a4.1 4.1 0 1 0 -8.2 0M798.3 555.2a4.1 4.1 0 1 0 8.2 0a4.1 4.1 0 1 0 -8.2 0M796.9 545.1a4.1 4.1 0 1 0 8.2 0a4.1 4.1 0 1 0 -8.2 0M796.8 536.2a4.1 4.1 0 1 0 8.2 0a4.1 4.1 0 1 0 -8.2 0M797.8 528a4.1 4.1 0 1 0 8.2 0a4.1 4.1 0 1 0 -8.2 0M808.7 726.5a4.1 4.1 0 1 0 8.2 0a4.1 4.1 0 1 0 -8.2 0M806.2 717.1a4.1 4.1 0 1 0 8.2 0a4.1 4.1 0 1 0 -8.2 0M806.3 710.1a4.1 4.1 0 1 0 8.2 0a4.1 4.1 0 1 0 -8.2 0M806.5 700.6a4.1 4.1 0 1 0 8.2 0a4.1 4.1 0 1 0 -8.2 0M807.5 691.5a4.1 4.1 0 1 0 8.2 0a4.1 4.1 0 1 0 -8.2 0M806.1 682.5a4.1 4.1 0 1 0 8.2 0a4.1 4.1 0 1 0 -8.2 0M808.1 676.6a4.1 4.1 0 1 0 8.2 0a4.1 4.1 0 1 0 -8.2 0M806.4 666.4a4.1 4.1 0 1 0 8.2 0a4.1 4.1 0 1 0 -8.2 0M807.4 647.3a4.1 4.1 0 1 0 8.2 0a4.1 4.1 0 1 0 -8.2 0M807 638.6a4.1 4.1 0 1 0 8.2 0a4.1 4.1 0 1 0 -8.2 0M806.8 629.7a4.1 4.1 0 1 0 8.2 0a4.1 4.1 0 1 0 -8.2 0M806.2 619.9a4.1 4.1 0 1 0 8.2 0a4.1 4.1 0 1 0 -8.2 0M805.7 612.7a4.1 4.1 0 1 0 8.2 0a4.1 4.1 0 1 0 -8.2 0M816.6 732.9a4.1 4.1 0 1 0 8.2 0a4.1 4.1 0 1 0 -8.2 0M816.2 721.5a4.1 4.1 0 1 0 8.2 0a4.1 4.1 0 1 0 -8.2 0M814.6 696.6a4.1 4.1 0 1 0 8.2 0a4.1 4.1 0 1 0 -8.2 0M817.1 678a4.1 4.1 0 1 0 8.2 0a4.1 4.1 0 1 0 -8.2 0M816 669.9a4.1 4.1 0 1 0 8.2 0a4.1 4.1 0 1 0 -8.2 0M816.5 660.3a4.1 4.1 0 1 0 8.2 0a4.1 4.1 0 1 0 -8.2 0M814.9 652.4a4.1 4.1 0 1 0 8.2 0a4.1 4.1 0 1 0 -8.2 0M823.4 736.6a4.1 4.1 0 1 0 8.2 0a4.1 4.1 0 1 0 -8.2 0M823.7 726.8a4.1 4.1 0 1 0 8.2 0a4.1 4.1 0 1 0 -8.2 0M822.7 710.7a4.1 4.1 0 1 0 8.2 0a4.1 4.1 0 1 0 -8.2 0M824.8 700.1a4.1 4.1 0 1 0 8.2 0a4.1 4.1 0 1 0 -8.2 0M822 692.2a4.1 4.1 0 1 0 8.2 0a4.1 4.1 0 1 0 -8.2 0M822.8 683.2a4.1 4.1 0 1 0 8.2 0a4.1 4.1 0 1 0 -8.2 0M823.2 664.4a4.1 4.1 0 1 0 8.2 0a4.1 4.1 0 1 0 -8.2 0M833.4 741.1a4.1 4.1 0 1 0 8.2 0a4.1 4.1 0 1 0 -8.2 0M832 731a4.1 4.1 0 1 0 8.2 0a4.1 4.1 0 1 0 -8.2 0M832 722.3a4.1 4.1 0 1 0 8.2 0a4.1 4.1 0 1 0 -8.2 0M831.3 711.8a4.1 4.1 0 1 0 8.2 0a4.1 4.1 0 1 0 -8.2 0M833 703.6a4.1 4.1 0 1 0 8.2 0a4.1 4.1 0 1 0 -8.2 0M831.6 695.7a4.1 4.1 0 1 0 8.2 0a4.1 4.1 0 1 0 -8.2 0M832.7 686.6a4.1 4.1 0 1 0 8.2 0a4.1 4.1 0 1 0 -8.2 0M831.4 676.8a4.1 4.1 0 1 0 8.2 0a4.1 4.1 0 1 0 -8.2 0M840.5 733.8a4.1 4.1 0 1 0 8.2 0a4.1 4.1 0 1 0 -8.2 0M841.5 728.5a4.1 4.1 0 1 0 8.2 0a4.1 4.1 0 1 0 -8.2 0M840 718.1a4.1 4.1 0 1 0 8.2 0a4.1 4.1 0 1 0 -8.2 0M842.5 710.5a4.1 4.1 0 1 0 8.2 0a4.1 4.1 0 1 0 -8.2 0M840.6 700.7a4.1 4.1 0 1 0 8.2 0a4.1 4.1 0 1 0 -8.2 0M840.8 692.2a4.1 4.1 0 1 0 8.2 0a4.1 4.1 0 1 0 -8.2 0M848.3 740a4.1 4.1 0 1 0 8.2 0a4.1 4.1 0 1 0 -8.2 0M849 730.5a4.1 4.1 0 1 0 8.2 0a4.1 4.1 0 1 0 -8.2 0M849.7 721.8a4.1 4.1 0 1 0 8.2 0a4.1 4.1 0 1 0 -8.2 0M848.5 712.3a4.1 4.1 0 1 0 8.2 0a4.1 4.1 0 1 0 -8.2 0M857.1 737.2a4.1 4.1 0 1 0 8.2 0a4.1 4.1 0 1 0 -8.2 0M858.9 725.7a4.1 4.1 0 1 0 8.2 0a4.1 4.1 0 1 0 -8.2 0M858.8 716a4.1 4.1 0 1 0 8.2 0a4.1 4.1 0 1 0 -8.2 0M857.6 708.9a4.1 4.1 0 1 0 8.2 0a4.1 4.1 0 1 0 -8.2 0M857.2 698.3a4.1 4.1 0 1 0 8.2 0a4.1 4.1 0 1 0 -8.2 0M856.6 689.9a4.1 4.1 0 1 0 8.2 0a4.1 4.1 0 1 0 -8.2 0M866.3 739.6a4.1 4.1 0 1 0 8.2 0a4.1 4.1 0 1 0 -8.2 0M866 730.3a4.1 4.1 0 1 0 8.2 0a4.1 4.1 0 1 0 -8.2 0M867.3 703a4.1 4.1 0 1 0 8.2 0a4.1 4.1 0 1 0 -8.2 0M866.1 694.7a4.1 4.1 0 1 0 8.2 0a4.1 4.1 0 1 0 -8.2 0M866.3 684.5a4.1 4.1 0 1 0 8.2 0a4.1 4.1 0 1 0 -8.2 0M868.1 677.1a4.1 4.1 0 1 0 8.2 0a4.1 4.1 0 1 0 -8.2 0M864.7 659.5a4.1 4.1 0 1 0 8.2 0a4.1 4.1 0 1 0 -8.2 0M866 649.3a4.1 4.1 0 1 0 8.2 0a4.1 4.1 0 1 0 -8.2 0M864.8 642.1a4.1 4.1 0 1 0 8.2 0a4.1 4.1 0 1 0 -8.2 0M867.2 634.6a4.1 4.1 0 1 0 8.2 0a4.1 4.1 0 1 0 -8.2 0M867.5 623.9a4.1 4.1 0 1 0 8.2 0a4.1 4.1 0 1 0 -8.2 0M868.1 615.6a4.1 4.1 0 1 0 8.2 0a4.1 4.1 0 1 0 -8.2 0M867.2 606.4a4.1 4.1 0 1 0 8.2 0a4.1 4.1 0 1 0 -8.2 0M874 736.9a4.1 4.1 0 1 0 8.2 0a4.1 4.1 0 1 0 -8.2 0M875.2 726.7a4.1 4.1 0 1 0 8.2 0a4.1 4.1 0 1 0 -8.2 0M876.3 718.3a4.1 4.1 0 1 0 8.2 0a4.1 4.1 0 1 0 -8.2 0M875.8 708.5a4.1 4.1 0 1 0 8.2 0a4.1 4.1 0 1 0 -8.2 0M874.6 700a4.1 4.1 0 1 0 8.2 0a4.1 4.1 0 1 0 -8.2 0M872.9 691.7a4.1 4.1 0 1 0 8.2 0a4.1 4.1 0 1 0 -8.2 0M873.3 682.3a4.1 4.1 0 1 0 8.2 0a4.1 4.1 0 1 0 -8.2 0M874.7 673.6a4.1 4.1 0 1 0 8.2 0a4.1 4.1 0 1 0 -8.2 0M875.6 664.2a4.1 4.1 0 1 0 8.2 0a4.1 4.1 0 1 0 -8.2 0M875.1 655a4.1 4.1 0 1 0 8.2 0a4.1 4.1 0 1 0 -8.2 0M873.2 645.6a4.1 4.1 0 1 0 8.2 0a4.1 4.1 0 1 0 -8.2 0M873.4 635.7a4.1 4.1 0 1 0 8.2 0a4.1 4.1 0 1 0 -8.2 0M875.6 627.5a4.1 4.1 0 1 0 8.2 0a4.1 4.1 0 1 0 -8.2 0M872.7 620.7a4.1 4.1 0 1 0 8.2 0a4.1 4.1 0 1 0 -8.2 0M875.7 611.1a4.1 4.1 0 1 0 8.2 0a4.1 4.1 0 1 0 -8.2 0M875.1 600.8a4.1 4.1 0 1 0 8.2 0a4.1 4.1 0 1 0 -8.2 0M881.7 740.9a4.1 4.1 0 1 0 8.2 0a4.1 4.1 0 1 0 -8.2 0M882.3 731.7a4.1 4.1 0 1 0 8.2 0a4.1 4.1 0 1 0 -8.2 0M881.7 722.3a4.1 4.1 0 1 0 8.2 0a4.1 4.1 0 1 0 -8.2 0M883.8 713.3a4.1 4.1 0 1 0 8.2 0a4.1 4.1 0 1 0 -8.2 0M883 706.3a4.1 4.1 0 1 0 8.2 0a4.1 4.1 0 1 0 -8.2 0M882.6 695.8a4.1 4.1 0 1 0 8.2 0a4.1 4.1 0 1 0 -8.2 0M881.9 686.4a4.1 4.1 0 1 0 8.2 0a4.1 4.1 0 1 0 -8.2 0M885.1 677a4.1 4.1 0 1 0 8.2 0a4.1 4.1 0 1 0 -8.2 0M882.9 669.1a4.1 4.1 0 1 0 8.2 0a4.1 4.1 0 1 0 -8.2 0M883.5 658.8a4.1 4.1 0 1 0 8.2 0a4.1 4.1 0 1 0 -8.2 0M882.4 650.1a4.1 4.1 0 1 0 8.2 0a4.1 4.1 0 1 0 -8.2 0M884 641.8a4.1 4.1 0 1 0 8.2 0a4.1 4.1 0 1 0 -8.2 0M890 735.7a4.1 4.1 0 1 0 8.2 0a4.1 4.1 0 1 0 -8.2 0M890.3 727.7a4.1 4.1 0 1 0 8.2 0a4.1 4.1 0 1 0 -8.2 0M891.9 719.4a4.1 4.1 0 1 0 8.2 0a4.1 4.1 0 1 0 -8.2 0M891.9 708.6a4.1 4.1 0 1 0 8.2 0a4.1 4.1 0 1 0 -8.2 0M890.1 700.9a4.1 4.1 0 1 0 8.2 0a4.1 4.1 0 1 0 -8.2 0M892.6 691.4a4.1 4.1 0 1 0 8.2 0a4.1 4.1 0 1 0 -8.2 0M891.7 682a4.1 4.1 0 1 0 8.2 0a4.1 4.1 0 1 0 -8.2 0M889.4 673.3a4.1 4.1 0 1 0 8.2 0a4.1 4.1 0 1 0 -8.2 0M891 665.5a4.1 4.1 0 1 0 8.2 0a4.1 4.1 0 1 0 -8.2 0M892 656.6a4.1 4.1 0 1 0 8.2 0a4.1 4.1 0 1 0 -8.2 0M892 648a4.1 4.1 0 1 0 8.2 0a4.1 4.1 0 1 0 -8.2 0M890.4 637.4a4.1 4.1 0 1 0 8.2 0a4.1 4.1 0 1 0 -8.2 0M889.7 629.2a4.1 4.1 0 1 0 8.2 0a4.1 4.1 0 1 0 -8.2 0M889.1 621.7a4.1 4.1 0 1 0 8.2 0a4.1 4.1 0 1 0 -8.2 0M889.7 611.2a4.1 4.1 0 1 0 8.2 0a4.1 4.1 0 1 0 -8.2 0M891.5 605.2a4.1 4.1 0 1 0 8.2 0a4.1 4.1 0 1 0 -8.2 0M900.6 741.6a4.1 4.1 0 1 0 8.2 0a4.1 4.1 0 1 0 -8.2 0M899.8 722.5a4.1 4.1 0 1 0 8.2 0a4.1 4.1 0 1 0 -8.2 0M898.3 713a4.1 4.1 0 1 0 8.2 0a4.1 4.1 0 1 0 -8.2 0M899.1 703.3a4.1 4.1 0 1 0 8.2 0a4.1 4.1 0 1 0 -8.2 0M899.5 696.1a4.1 4.1 0 1 0 8.2 0a4.1 4.1 0 1 0 -8.2 0M898.1 687.2a4.1 4.1 0 1 0 8.2 0a4.1 4.1 0 1 0 -8.2 0M900 668.7a4.1 4.1 0 1 0 8.2 0a4.1 4.1 0 1 0 -8.2 0M899.6 658.8a4.1 4.1 0 1 0 8.2 0a4.1 4.1 0 1 0 -8.2 0M899.4 652.1a4.1 4.1 0 1 0 8.2 0a4.1 4.1 0 1 0 -8.2 0M899.9 642.4a4.1 4.1 0 1 0 8.2 0a4.1 4.1 0 1 0 -8.2 0M901.3 632.8a4.1 4.1 0 1 0 8.2 0a4.1 4.1 0 1 0 -8.2 0M900.5 625.6a4.1 4.1 0 1 0 8.2 0a4.1 4.1 0 1 0 -8.2 0M900.8 617.4a4.1 4.1 0 1 0 8.2 0a4.1 4.1 0 1 0 -8.2 0M900.9 607.3a4.1 4.1 0 1 0 8.2 0a4.1 4.1 0 1 0 -8.2 0M898.9 598.7a4.1 4.1 0 1 0 8.2 0a4.1 4.1 0 1 0 -8.2 0M907.8 736.8a4.1 4.1 0 1 0 8.2 0a4.1 4.1 0 1 0 -8.2 0M907.7 718.8a4.1 4.1 0 1 0 8.2 0a4.1 4.1 0 1 0 -8.2 0M907.6 709a4.1 4.1 0 1 0 8.2 0a4.1 4.1 0 1 0 -8.2 0M908 700.2a4.1 4.1 0 1 0 8.2 0a4.1 4.1 0 1 0 -8.2 0M908.5 690.7a4.1 4.1 0 1 0 8.2 0a4.1 4.1 0 1 0 -8.2 0M906.9 682.3a4.1 4.1 0 1 0 8.2 0a4.1 4.1 0 1 0 -8.2 0M906.8 672.5a4.1 4.1 0 1 0 8.2 0a4.1 4.1 0 1 0 -8.2 0M908.3 664.6a4.1 4.1 0 1 0 8.2 0a4.1 4.1 0 1 0 -8.2 0M909 656.1a4.1 4.1 0 1 0 8.2 0a4.1 4.1 0 1 0 -8.2 0M908.2 647.1a4.1 4.1 0 1 0 8.2 0a4.1 4.1 0 1 0 -8.2 0M909.4 637.7a4.1 4.1 0 1 0 8.2 0a4.1 4.1 0 1 0 -8.2 0M910.4 628.6a4.1 4.1 0 1 0 8.2 0a4.1 4.1 0 1 0 -8.2 0M908.9 619a4.1 4.1 0 1 0 8.2 0a4.1 4.1 0 1 0 -8.2 0M909.3 610.6a4.1 4.1 0 1 0 8.2 0a4.1 4.1 0 1 0 -8.2 0M917.5 739.8a4.1 4.1 0 1 0 8.2 0a4.1 4.1 0 1 0 -8.2 0M916.5 730.1a4.1 4.1 0 1 0 8.2 0a4.1 4.1 0 1 0 -8.2 0M916.1 722.7a4.1 4.1 0 1 0 8.2 0a4.1 4.1 0 1 0 -8.2 0M917.5 712.6a4.1 4.1 0 1 0 8.2 0a4.1 4.1 0 1 0 -8.2 0M918.9 704.6a4.1 4.1 0 1 0 8.2 0a4.1 4.1 0 1 0 -8.2 0M915.6 695a4.1 4.1 0 1 0 8.2 0a4.1 4.1 0 1 0 -8.2 0M917.8 687.2a4.1 4.1 0 1 0 8.2 0a4.1 4.1 0 1 0 -8.2 0M916.9 678.8a4.1 4.1 0 1 0 8.2 0a4.1 4.1 0 1 0 -8.2 0M918.4 669.6a4.1 4.1 0 1 0 8.2 0a4.1 4.1 0 1 0 -8.2 0M916.4 651.2a4.1 4.1 0 1 0 8.2 0a4.1 4.1 0 1 0 -8.2 0M918.6 641.1a4.1 4.1 0 1 0 8.2 0a4.1 4.1 0 1 0 -8.2 0M917.6 634.8a4.1 4.1 0 1 0 8.2 0a4.1 4.1 0 1 0 -8.2 0M926.2 737.3a4.1 4.1 0 1 0 8.2 0a4.1 4.1 0 1 0 -8.2 0M925.2 726.8a4.1 4.1 0 1 0 8.2 0a4.1 4.1 0 1 0 -8.2 0M926.3 718.7a4.1 4.1 0 1 0 8.2 0a4.1 4.1 0 1 0 -8.2 0M927.1 711a4.1 4.1 0 1 0 8.2 0a4.1 4.1 0 1 0 -8.2 0M926.6 701.6a4.1 4.1 0 1 0 8.2 0a4.1 4.1 0 1 0 -8.2 0M924.8 690.8a4.1 4.1 0 1 0 8.2 0a4.1 4.1 0 1 0 -8.2 0M927.4 681.6a4.1 4.1 0 1 0 8.2 0a4.1 4.1 0 1 0 -8.2 0M926.7 666.6a4.1 4.1 0 1 0 8.2 0a4.1 4.1 0 1 0 -8.2 0M926.8 656.7a4.1 4.1 0 1 0 8.2 0a4.1 4.1 0 1 0 -8.2 0M926.1 638.6a4.1 4.1 0 1 0 8.2 0a4.1 4.1 0 1 0 -8.2 0M932.1 740.4a4.1 4.1 0 1 0 8.2 0a4.1 4.1 0 1 0 -8.2 0M936.3 730.3a4.1 4.1 0 1 0 8.2 0a4.1 4.1 0 1 0 -8.2 0M934.5 722.5a4.1 4.1 0 1 0 8.2 0a4.1 4.1 0 1 0 -8.2 0M935.5 713a4.1 4.1 0 1 0 8.2 0a4.1 4.1 0 1 0 -8.2 0M935.4 704.2a4.1 4.1 0 1 0 8.2 0a4.1 4.1 0 1 0 -8.2 0M933.4 694a4.1 4.1 0 1 0 8.2 0a4.1 4.1 0 1 0 -8.2 0M936.2 686.4a4.1 4.1 0 1 0 8.2 0a4.1 4.1 0 1 0 -8.2 0M935 678.8a4.1 4.1 0 1 0 8.2 0a4.1 4.1 0 1 0 -8.2 0M943.4 727.4a4.1 4.1 0 1 0 8.2 0a4.1 4.1 0 1 0 -8.2 0M943.8 718.2a4.1 4.1 0 1 0 8.2 0a4.1 4.1 0 1 0 -8.2 0M942.1 708.2a4.1 4.1 0 1 0 8.2 0a4.1 4.1 0 1 0 -8.2 0M943.3 702.1a4.1 4.1 0 1 0 8.2 0a4.1 4.1 0 1 0 -8.2 0M943.4 691.3a4.1 4.1 0 1 0 8.2 0a4.1 4.1 0 1 0 -8.2 0M941.4 683.3a4.1 4.1 0 1 0 8.2 0a4.1 4.1 0 1 0 -8.2 0M952.9 739.4a4.1 4.1 0 1 0 8.2 0a4.1 4.1 0 1 0 -8.2 0M952.5 729.8a4.1 4.1 0 1 0 8.2 0a4.1 4.1 0 1 0 -8.2 0M950 722.6a4.1 4.1 0 1 0 8.2 0a4.1 4.1 0 1 0 -8.2 0M953.5 713.9a4.1 4.1 0 1 0 8.2 0a4.1 4.1 0 1 0 -8.2 0M949.2 704.4a4.1 4.1 0 1 0 8.2 0a4.1 4.1 0 1 0 -8.2 0M958.7 736.4a4.1 4.1 0 1 0 8.2 0a4.1 4.1 0 1 0 -8.2 0M958.8 725.6a4.1 4.1 0 1 0 8.2 0a4.1 4.1 0 1 0 -8.2 0M957.8 719.9a4.1 4.1 0 1 0 8.2 0a4.1 4.1 0 1 0 -8.2 0M961.2 708.7a4.1 4.1 0 1 0 8.2 0a4.1 4.1 0 1 0 -8.2 0M969.3 740.9a4.1 4.1 0 1 0 8.2 0a4.1 4.1 0 1 0 -8.2 0M967.7 722.9a4.1 4.1 0 1 0 8.2 0a4.1 4.1 0 1 0 -8.2 0M967 714.5a4.1 4.1 0 1 0 8.2 0a4.1 4.1 0 1 0 -8.2 0M969.2 704.5a4.1 4.1 0 1 0 8.2 0a4.1 4.1 0 1 0 -8.2 0M967.1 696.6a4.1 4.1 0 1 0 8.2 0a4.1 4.1 0 1 0 -8.2 0M977 736a4.1 4.1 0 1 0 8.2 0a4.1 4.1 0 1 0 -8.2 0M976.5 726.3a4.1 4.1 0 1 0 8.2 0a4.1 4.1 0 1 0 -8.2 0M976.8 717.5a4.1 4.1 0 1 0 8.2 0a4.1 4.1 0 1 0 -8.2 0M975.9 708.9a4.1 4.1 0 1 0 8.2 0a4.1 4.1 0 1 0 -8.2 0M975.3 700.9a4.1 4.1 0 1 0 8.2 0a4.1 4.1 0 1 0 -8.2 0M977.3 690.6a4.1 4.1 0 1 0 8.2 0a4.1 4.1 0 1 0 -8.2 0M976.3 680.9a4.1 4.1 0 1 0 8.2 0a4.1 4.1 0 1 0 -8.2 0M975.5 673.2a4.1 4.1 0 1 0 8.2 0a4.1 4.1 0 1 0 -8.2 0" fill="none" stroke="#111" stroke-width="1.1"/><path d="M677.9 740.9a3.7 3.7 0 1 0 7.4 0a3.7 3.7 0 1 0 -7.4 0M684.3 736.6a3.9 3.9 0 1 0 7.8 0a3.9 3.9 0 1 0 -7.8 0M703 736.2a3.7 3.7 0 1 0 7.3 0a3.7 3.7 0 1 0 -7.3 0M702.3 727.9a4.2 4.2 0 1 0 8.5 0a4.2 4.2 0 1 0 -8.5 0M705.3 718.5a3.7 3.7 0 1 0 7.4 0a3.7 3.7 0 1 0 -7.4 0M710.2 741.2a3.8 3.8 0 1 0 7.7 0a3.8 3.8 0 1 0 -7.7 0M712.5 731.4a4.2 4.2 0 1 0 8.3 0a4.2 4.2 0 1 0 -8.3 0M711.5 720.3a3.6 3.6 0 1 0 7.2 0a3.6 3.6 0 1 0 -7.2 0M710.2 712.7a4.2 4.2 0 1 0 8.3 0a4.2 4.2 0 1 0 -8.3 0M712.5 703.3a3.7 3.7 0 1 0 7.3 0a3.7 3.7 0 1 0 -7.3 0M711.6 695.2a4.2 4.2 0 1 0 8.3 0a4.2 4.2 0 1 0 -8.3 0M719.5 735.2a4 4 0 1 0 8 0a4 4 0 1 0 -8 0M719 728.7a4 4 0 1 0 8.1 0a4 4 0 1 0 -8.1 0M720.7 719a3.6 3.6 0 1 0 7.2 0a3.6 3.6 0 1 0 -7.2 0M722.3 710.2a4 4 0 1 0 8 0a4 4 0 1 0 -8 0M720.5 690.2a3.7 3.7 0 1 0 7.3 0a3.7 3.7 0 1 0 -7.3 0M718 683.4a4.1 4.1 0 1 0 8.3 0a4.1 4.1 0 1 0 -8.3 0M718.2 673.5a3.9 3.9 0 1 0 7.8 0a3.9 3.9 0 1 0 -7.8 0M721.8 664.2a3.9 3.9 0 1 0 7.9 0a3.9 3.9 0 1 0 -7.9 0M728.6 741.6a4.1 4.1 0 1 0 8.2 0a4.1 4.1 0 1 0 -8.2 0M726.8 730a3.7 3.7 0 1 0 7.3 0a3.7 3.7 0 1 0 -7.3 0M729 722.6a3.7 3.7 0 1 0 7.4 0a3.7 3.7 0 1 0 -7.4 0M730.7 713.1a3.9 3.9 0 1 0 7.8 0a3.9 3.9 0 1 0 -7.8 0M728.1 703.5a4.1 4.1 0 1 0 8.2 0a4.1 4.1 0 1 0 -8.2 0M728 696a3.7 3.7 0 1 0 7.5 0a3.7 3.7 0 1 0 -7.5 0M729.9 684.5a3.6 3.6 0 1 0 7.3 0a3.6 3.6 0 1 0 -7.3 0M727.3 676a4.2 4.2 0 1 0 8.3 0a4.2 4.2 0 1 0 -8.3 0M728.9 668.3a4.1 4.1 0 1 0 8.2 0a4.1 4.1 0 1 0 -8.2 0M730.9 659.7a3.8 3.8 0 1 0 7.5 0a3.8 3.8 0 1 0 -7.5 0M729 649a3.6 3.6 0 1 0 7.3 0a3.6 3.6 0 1 0 -7.3 0M727 640.3a4.3 4.3 0 1 0 8.6 0a4.3 4.3 0 1 0 -8.6 0M729.2 632a4.4 4.4 0 1 0 8.7 0a4.4 4.4 0 1 0 -8.7 0M728.5 623a3.9 3.9 0 1 0 7.8 0a3.9 3.9 0 1 0 -7.8 0M735.8 736.1a4.4 4.4 0 1 0 8.7 0a4.4 4.4 0 1 0 -8.7 0M736.4 727.6a4.4 4.4 0 1 0 8.8 0a4.4 4.4 0 1 0 -8.8 0M739.5 718.3a4.1 4.1 0 1 0 8.3 0a4.1 4.1 0 1 0 -8.3 0M737.4 709.2a4 4 0 1 0 8 0a4 4 0 1 0 -8 0M737.7 700.2a4.1 4.1 0 1 0 8.3 0a4.1 4.1 0 1 0 -8.3 0M737.7 692.1a3.8 3.8 0 1 0 7.7 0a3.8 3.8 0 1 0 -7.7 0M737.7 682.7a3.7 3.7 0 1 0 7.4 0a3.7 3.7 0 1 0 -7.4 0M735.7 672.2a3.9 3.9 0 1 0 7.8 0a3.9 3.9 0 1 0 -7.8 0M737.8 665.2a4 4 0 1 0 7.9 0a4 4 0 1 0 -7.9 0M736.7 656.7a4.4 4.4 0 1 0 8.7 0a4.4 4.4 0 1 0 -8.7 0M737.7 646.6a4.2 4.2 0 1 0 8.4 0a4.2 4.2 0 1 0 -8.4 0M738.8 638.8a4.4 4.4 0 1 0 8.8 0a4.4 4.4 0 1 0 -8.8 0M737.4 629.2a4.1 4.1 0 1 0 8.2 0a4.1 4.1 0 1 0 -8.2 0M739.5 621a4.4 4.4 0 1 0 8.7 0a4.4 4.4 0 1 0 -8.7 0M736.5 612.1a3.7 3.7 0 1 0 7.4 0a3.7 3.7 0 1 0 -7.4 0M745.6 739a4.4 4.4 0 1 0 8.8 0a4.4 4.4 0 1 0 -8.8 0M746 731.3a3.8 3.8 0 1 0 7.7 0a3.8 3.8 0 1 0 -7.7 0M746.8 722.6a3.9 3.9 0 1 0 7.9 0a3.9 3.9 0 1 0 -7.9 0M745.7 704.1a4.2 4.2 0 1 0 8.5 0a4.2 4.2 0 1 0 -8.5 0M746.1 696.1a4.2 4.2 0 1 0 8.4 0a4.2 4.2 0 1 0 -8.4 0M744.5 687.4a3.8 3.8 0 1 0 7.7 0a3.8 3.8 0 1 0 -7.7 0M747.7 677.3a4.2 4.2 0 1 0 8.4 0a4.2 4.2 0 1 0 -8.4 0M747.5 670.5a3.7 3.7 0 1 0 7.3 0a3.7 3.7 0 1 0 -7.3 0M747.2 661.2a3.9 3.9 0 1 0 7.9 0a3.9 3.9 0 1 0 -7.9 0M745.4 649.9a4.3 4.3 0 1 0 8.6 0a4.3 4.3 0 1 0 -8.6 0M747.2 642.5a3.8 3.8 0 1 0 7.5 0a3.8 3.8 0 1 0 -7.5 0M748.5 632a4 4 0 1 0 8 0a4 4 0 1 0 -8 0M748.4 624.1a3.8 3.8 0 1 0 7.6 0a3.8 3.8 0 1 0 -7.6 0M748.6 614.3a3.7 3.7 0 1 0 7.5 0a3.7 3.7 0 1 0 -7.5 0M744.9 603.6a4.4 4.4 0 1 0 8.7 0a4.4 4.4 0 1 0 -8.7 0M745 596.6a4 4 0 1 0 8 0a4 4 0 1 0 -8 0M755.7 717.7a3.8 3.8 0 1 0 7.6 0a3.8 3.8 0 1 0 -7.6 0M756 706.4a4.1 4.1 0 1 0 8.2 0a4.1 4.1 0 1 0 -8.2 0M756.5 699.8a3.8 3.8 0 1 0 7.7 0a3.8 3.8 0 1 0 -7.7 0M754.7 691.3a4 4 0 1 0 8 0a4 4 0 1 0 -8 0M754.9 682.5a4.2 4.2 0 1 0 8.3 0a4.2 4.2 0 1 0 -8.3 0M755.4 661.5a4.3 4.3 0 1 0 8.6 0a4.3 4.3 0 1 0 -8.6 0M755.9 654.6a3.7 3.7 0 1 0 7.3 0a3.7 3.7 0 1 0 -7.3 0M756.4 645.3a4.2 4.2 0 1 0 8.3 0a4.2 4.2 0 1 0 -8.3 0M753.6 636.3a3.7 3.7 0 1 0 7.4 0a3.7 3.7 0 1 0 -7.4 0M757.1 628.5a3.9 3.9 0 1 0 7.9 0a3.9 3.9 0 1 0 -7.9 0M753.1 617.1a3.8 3.8 0 1 0 7.6 0a3.8 3.8 0 1 0 -7.6 0M755.6 609a3.9 3.9 0 1 0 7.7 0a3.9 3.9 0 1 0 -7.7 0M755.9 600.4a4.4 4.4 0 1 0 8.8 0a4.4 4.4 0 1 0 -8.8 0M755.8 592.5a3.8 3.8 0 1 0 7.6 0a3.8 3.8 0 1 0 -7.6 0M756.5 572.5a3.8 3.8 0 1 0 7.7 0a3.8 3.8 0 1 0 -7.7 0M752.7 563.1a3.9 3.9 0 1 0 7.9 0a3.9 3.9 0 1 0 -7.9 0M766.5 741.6a3.8 3.8 0 1 0 7.6 0a3.8 3.8 0 1 0 -7.6 0M762.9 730.2a4 4 0 1 0 8 0a4 4 0 1 0 -8 0M763.8 722.5a4.1 4.1 0 1 0 8.2 0a4.1 4.1 0 1 0 -8.2 0M763 712.1a4.1 4.1 0 1 0 8.2 0a4.1 4.1 0 1 0 -8.2 0M763.9 704.5a4.2 4.2 0 1 0 8.4 0a4.2 4.2 0 1 0 -8.4 0M764.3 695.6a3.7 3.7 0 1 0 7.3 0a3.7 3.7 0 1 0 -7.3 0M764.7 685.8a4.3 4.3 0 1 0 8.7 0a4.3 4.3 0 1 0 -8.7 0M766.9 675.7a3.7 3.7 0 1 0 7.3 0a3.7 3.7 0 1 0 -7.3 0M765.5 667a3.7 3.7 0 1 0 7.5 0a3.7 3.7 0 1 0 -7.5 0M762.8 659.3a3.7 3.7 0 1 0 7.4 0a3.7 3.7 0 1 0 -7.4 0M763.9 650.3a4.3 4.3 0 1 0 8.6 0a4.3 4.3 0 1 0 -8.6 0M765.7 641.3a4.2 4.2 0 1 0 8.4 0a4.2 4.2 0 1 0 -8.4 0M764 632.7a4.1 4.1 0 1 0 8.2 0a4.1 4.1 0 1 0 -8.2 0M764.5 624.5a4.1 4.1 0 1 0 8.1 0a4.1 4.1 0 1 0 -8.1 0M766.3 614.7a3.7 3.7 0 1 0 7.5 0a3.7 3.7 0 1 0 -7.5 0M765.7 607.8a4.4 4.4 0 1 0 8.8 0a4.4 4.4 0 1 0 -8.8 0M764.3 596.2a4 4 0 1 0 8.1 0a4 4 0 1 0 -8.1 0M765.9 577.9a4.1 4.1 0 1 0 8.1 0a4.1 4.1 0 1 0 -8.1 0M766 571.6a3.7 3.7 0 1 0 7.5 0a3.7 3.7 0 1 0 -7.5 0M763.4 559.4a3.9 3.9 0 1 0 7.8 0a3.9 3.9 0 1 0 -7.8 0M763.4 552.8a4.3 4.3 0 1 0 8.5 0a4.3 4.3 0 1 0 -8.5 0M763.1 542.2a3.6 3.6 0 1 0 7.3 0a3.6 3.6 0 1 0 -7.3 0M764.1 534.7a3.8 3.8 0 1 0 7.5 0a3.8 3.8 0 1 0 -7.5 0M771.7 735.5a4.3 4.3 0 1 0 8.7 0a4.3 4.3 0 1 0 -8.7 0M773.3 726.9a3.7 3.7 0 1 0 7.4 0a3.7 3.7 0 1 0 -7.4 0M772.7 718.1a3.9 3.9 0 1 0 7.7 0a3.9 3.9 0 1 0 -7.7 0M773.2 699.7a4 4 0 1 0 8 0a4 4 0 1 0 -8 0M773.5 689.1a4.4 4.4 0 1 0 8.7 0a4.4 4.4 0 1 0 -8.7 0M772 682a3.8 3.8 0 1 0 7.6 0a3.8 3.8 0 1 0 -7.6 0M774.9 671.9a4.2 4.2 0 1 0 8.5 0a4.2 4.2 0 1 0 -8.5 0M772 664a3.6 3.6 0 1 0 7.2 0a3.6 3.6 0 1 0 -7.2 0M771.4 655.8a3.9 3.9 0 1 0 7.7 0a3.9 3.9 0 1 0 -7.7 0M774.4 647.3a3.9 3.9 0 1 0 7.9 0a3.9 3.9 0 1 0 -7.9 0M772.4 637.6a3.8 3.8 0 1 0 7.5 0a3.8 3.8 0 1 0 -7.5 0M774.1 629.6a4.3 4.3 0 1 0 8.6 0a4.3 4.3 0 1 0 -8.6 0M774.2 618.2a3.6 3.6 0 1 0 7.3 0a3.6 3.6 0 1 0 -7.3 0M775.3 610.2a3.7 3.7 0 1 0 7.4 0a3.7 3.7 0 1 0 -7.4 0M773.1 600.4a4.3 4.3 0 1 0 8.7 0a4.3 4.3 0 1 0 -8.7 0M772.7 591.6a3.6 3.6 0 1 0 7.3 0a3.6 3.6 0 1 0 -7.3 0M772.8 574.4a3.6 3.6 0 1 0 7.2 0a3.6 3.6 0 1 0 -7.2 0M773.3 563.8a3.6 3.6 0 1 0 7.2 0a3.6 3.6 0 1 0 -7.2 0M773 555.2a4.1 4.1 0 1 0 8.3 0a4.1 4.1 0 1 0 -8.3 0M773.4 547.4a4.2 4.2 0 1 0 8.3 0a4.2 4.2 0 1 0 -8.3 0M773.2 537.2a4.1 4.1 0 1 0 8.2 0a4.1 4.1 0 1 0 -8.2 0M774.2 529.2a4 4 0 1 0 7.9 0a4 4 0 1 0 -7.9 0M773.2 520.2a4 4 0 1 0 7.9 0a4 4 0 1 0 -7.9 0M781.6 738.9a3.7 3.7 0 1 0 7.3 0a3.7 3.7 0 1 0 -7.3 0M782.5 731.8a3.7 3.7 0 1 0 7.5 0a3.7 3.7 0 1 0 -7.5 0M781.8 721.2a4.2 4.2 0 1 0 8.3 0a4.2 4.2 0 1 0 -8.3 0M782 713.4a3.6 3.6 0 1 0 7.3 0a3.6 3.6 0 1 0 -7.3 0M782.1 703.3a4.3 4.3 0 1 0 8.6 0a4.3 4.3 0 1 0 -8.6 0M782.8 685.7a4.4 4.4 0 1 0 8.8 0a4.4 4.4 0 1 0 -8.8 0M780.4 677.9a3.7 3.7 0 1 0 7.4 0a3.7 3.7 0 1 0 -7.4 0M780.6 669.4a4.1 4.1 0 1 0 8.2 0a4.1 4.1 0 1 0 -8.2 0M780.1 659.7a3.6 3.6 0 1 0 7.2 0a3.6 3.6 0 1 0 -7.2 0M783 651.1a4 4 0 1 0 8.1 0a4 4 0 1 0 -8.1 0M781.1 642.6a3.8 3.8 0 1 0 7.6 0a3.8 3.8 0 1 0 -7.6 0M780.9 633.6a3.9 3.9 0 1 0 7.9 0a3.9 3.9 0 1 0 -7.9 0M781.8 624.5a4.2 4.2 0 1 0 8.3 0a4.2 4.2 0 1 0 -8.3 0M780.5 614.1a3.7 3.7 0 1 0 7.4 0a3.7 3.7 0 1 0 -7.4 0M780.7 606a4.4 4.4 0 1 0 8.7 0a4.4 4.4 0 1 0 -8.7 0M781.2 598.3a3.7 3.7 0 1 0 7.4 0a3.7 3.7 0 1 0 -7.4 0M780.4 590.2a4.4 4.4 0 1 0 8.8 0a4.4 4.4 0 1 0 -8.8 0M779.4 570.5a4.2 4.2 0 1 0 8.5 0a4.2 4.2 0 1 0 -8.5 0M782.9 561.2a4 4 0 1 0 8 0a4 4 0 1 0 -8 0M781.5 542.7a4 4 0 1 0 7.9 0a4 4 0 1 0 -7.9 0M791.2 735.7a3.9 3.9 0 1 0 7.9 0a3.9 3.9 0 1 0 -7.9 0M791.2 726.6a3.9 3.9 0 1 0 7.9 0a3.9 3.9 0 1 0 -7.9 0M790.3 716.1a3.8 3.8 0 1 0 7.7 0a3.8 3.8 0 1 0 -7.7 0M789.6 708.1a3.7 3.7 0 1 0 7.5 0a3.7 3.7 0 1 0 -7.5 0M790.9 700a3.6 3.6 0 1 0 7.2 0a3.6 3.6 0 1 0 -7.2 0M788.8 690.7a3.7 3.7 0 1 0 7.3 0a3.7 3.7 0 1 0 -7.3 0M789.4 681.5a4 4 0 1 0 8.1 0a4 4 0 1 0 -8.1 0M789.7 671.9a3.9 3.9 0 1 0 7.8 0a3.9 3.9 0 1 0 -7.8 0M789 665.3a3.8 3.8 0 1 0 7.6 0a3.8 3.8 0 1 0 -7.6 0M790.3 655.3a3.7 3.7 0 1 0 7.4 0a3.7 3.7 0 1 0 -7.4 0M788.9 645.4a3.8 3.8 0 1 0 7.7 0a3.8 3.8 0 1 0 -7.7 0M789 636.2a3.7 3.7 0 1 0 7.4 0a3.7 3.7 0 1 0 -7.4 0M789.9 629a3.7 3.7 0 1 0 7.4 0a3.7 3.7 0 1 0 -7.4 0M791.5 619.1a3.7 3.7 0 1 0 7.3 0a3.7 3.7 0 1 0 -7.3 0M791.3 602a4.2 4.2 0 1 0 8.4 0a4.2 4.2 0 1 0 -8.4 0M788.4 592.8a4.1 4.1 0 1 0 8.2 0a4.1 4.1 0 1 0 -8.2 0M788.2 584.5a4.1 4.1 0 1 0 8.3 0a4.1 4.1 0 1 0 -8.3 0M787.2 576.3a3.6 3.6 0 1 0 7.3 0a3.6 3.6 0 1 0 -7.3 0M789.1 567.3a3.6 3.6 0 1 0 7.3 0a3.6 3.6 0 1 0 -7.3 0M788.4 558.7a4.2 4.2 0 1 0 8.4 0a4.2 4.2 0 1 0 -8.4 0M787.4 550.5a4 4 0 1 0 8.1 0a4 4 0 1 0 -8.1 0M787.2 540.5a4 4 0 1 0 8.1 0a4 4 0 1 0 -8.1 0M790.9 531a4 4 0 1 0 7.9 0a4 4 0 1 0 -7.9 0M797.1 739.7a4.2 4.2 0 1 0 8.3 0a4.2 4.2 0 1 0 -8.3 0M796.9 730a4.3 4.3 0 1 0 8.6 0a4.3 4.3 0 1 0 -8.6 0M795.5 722.4a3.6 3.6 0 1 0 7.3 0a3.6 3.6 0 1 0 -7.3 0M797.5 705.5a4.1 4.1 0 1 0 8.2 0a4.1 4.1 0 1 0 -8.2 0M798.2 696.2a3.8 3.8 0 1 0 7.6 0a3.8 3.8 0 1 0 -7.6 0M797.2 678.8a3.7 3.7 0 1 0 7.5 0a3.7 3.7 0 1 0 -7.5 0M797 670.7a4.4 4.4 0 1 0 8.7 0a4.4 4.4 0 1 0 -8.7 0M797.8 659.4a3.6 3.6 0 1 0 7.2 0a3.6 3.6 0 1 0 -7.2 0M798.2 652.2a4.2 4.2 0 1 0 8.5 0a4.2 4.2 0 1 0 -8.5 0M797 644.5a4.3 4.3 0 1 0 8.7 0a4.3 4.3 0 1 0 -8.7 0M797.2 633.4a4.2 4.2 0 1 0 8.5 0a4.2 4.2 0 1 0 -8.5 0M797.8 623.6a4.2 4.2 0 1 0 8.4 0a4.2 4.2 0 1 0 -8.4 0M798.5 616.6a3.6 3.6 0 1 0 7.3 0a3.6 3.6 0 1 0 -7.3 0M797.9 607.8a3.6 3.6 0 1 0 7.2 0a3.6 3.6 0 1 0 -7.2 0M797.6 600.1a3.9 3.9 0 1 0 7.8 0a3.9 3.9 0 1 0 -7.8 0M800.4 590.8a3.6 3.6 0 1 0 7.3 0a3.6 3.6 0 1 0 -7.3 0M796.5 582a4 4 0 1 0 8 0a4 4 0 1 0 -8 0M797.1 572.1a3.8 3.8 0 1 0 7.6 0a3.8 3.8 0 1 0 -7.6 0M797.4 562.9a3.9 3.9 0 1 0 7.8 0a3.9 3.9 0 1 0 -7.8 0M798.2 555.6a4.3 4.3 0 1 0 8.5 0a4.3 4.3 0 1 0 -8.5 0M797.6 545.8a3.8 3.8 0 1 0 7.6 0a3.8 3.8 0 1 0 -7.6 0M797.4 535.8a4.1 4.1 0 1 0 8.1 0a4.1 4.1 0 1 0 -8.1 0M799 528.2a4 4 0 1 0 7.9 0a4 4 0 1 0 -7.9 0M808.2 727a3.7 3.7 0 1 0 7.3 0a3.7 3.7 0 1 0 -7.3 0M805.6 718.5a3.8 3.8 0 1 0 7.6 0a3.8 3.8 0 1 0 -7.6 0M805.7 710.5a4.2 4.2 0 1 0 8.5 0a4.2 4.2 0 1 0 -8.5 0M806.6 700.6a3.8 3.8 0 1 0 7.7 0a3.8 3.8 0 1 0 -7.7 0M808.3 691.9a3.7 3.7 0 1 0 7.3 0a3.7 3.7 0 1 0 -7.3 0M806 683a3.7 3.7 0 1 0 7.4 0a3.7 3.7 0 1 0 -7.4 0M808.4 676.4a3.6 3.6 0 1 0 7.2 0a3.6 3.6 0 1 0 -7.2 0M807.5 666.9a4 4 0 1 0 8 0a4 4 0 1 0 -8 0M806 647.8a4.2 4.2 0 1 0 8.4 0a4.2 4.2 0 1 0 -8.4 0M808.1 638.7a3.7 3.7 0 1 0 7.4 0a3.7 3.7 0 1 0 -7.4 0M808.1 629.7a3.7 3.7 0 1 0 7.4 0a3.7 3.7 0 1 0 -7.4 0M807 620.3a4.4 4.4 0 1 0 8.7 0a4.4 4.4 0 1 0 -8.7 0M805.2 611.9a4.3 4.3 0 1 0 8.6 0a4.3 4.3 0 1 0 -8.6 0M816.2 731.6a4.4 4.4 0 1 0 8.7 0a4.4 4.4 0 1 0 -8.7 0M816.2 722.8a3.9 3.9 0 1 0 7.8 0a3.9 3.9 0 1 0 -7.8 0M815.4 695.8a4.1 4.1 0 1 0 8.2 0a4.1 4.1 0 1 0 -8.2 0M816.8 677.8a3.9 3.9 0 1 0 7.8 0a3.9 3.9 0 1 0 -7.8 0M816.2 670.5a4 4 0 1 0 8 0a4 4 0 1 0 -8 0M816.5 660.4a4.3 4.3 0 1 0 8.6 0a4.3 4.3 0 1 0 -8.6 0M813.4 653.3a4.2 4.2 0 1 0 8.5 0a4.2 4.2 0 1 0 -8.5 0M823.7 737.1a4 4 0 1 0 8 0a4 4 0 1 0 -8 0M823.4 726.3a3.7 3.7 0 1 0 7.5 0a3.7 3.7 0 1 0 -7.5 0M822.5 709.5a3.7 3.7 0 1 0 7.4 0a3.7 3.7 0 1 0 -7.4 0M825.1 700.4a4.2 4.2 0 1 0 8.3 0a4.2 4.2 0 1 0 -8.3 0M821.8 691.3a4.1 4.1 0 1 0 8.2 0a4.1 4.1 0 1 0 -8.2 0M823.6 683.4a3.6 3.6 0 1 0 7.2 0a3.6 3.6 0 1 0 -7.2 0M824.2 664.2a4.2 4.2 0 1 0 8.4 0a4.2 4.2 0 1 0 -8.4 0M832.6 741a4.1 4.1 0 1 0 8.2 0a4.1 4.1 0 1 0 -8.2 0M832.5 730.5a3.8 3.8 0 1 0 7.6 0a3.8 3.8 0 1 0 -7.6 0M831.7 722.1a4 4 0 1 0 8 0a4 4 0 1 0 -8 0M833 711.6a4 4 0 1 0 7.9 0a4 4 0 1 0 -7.9 0M833.8 704.5a3.7 3.7 0 1 0 7.4 0a3.7 3.7 0 1 0 -7.4 0M831.9 696.3a4.4 4.4 0 1 0 8.8 0a4.4 4.4 0 1 0 -8.8 0M833.8 685.9a4.1 4.1 0 1 0 8.3 0a4.1 4.1 0 1 0 -8.3 0M831.8 677.6a4.3 4.3 0 1 0 8.5 0a4.3 4.3 0 1 0 -8.5 0M839.4 734.6a4.2 4.2 0 1 0 8.4 0a4.2 4.2 0 1 0 -8.4 0M841.1 727.2a3.8 3.8 0 1 0 7.7 0a3.8 3.8 0 1 0 -7.7 0M840.9 716.4a4 4 0 1 0 8 0a4 4 0 1 0 -8 0M841.9 711.6a3.9 3.9 0 1 0 7.8 0a3.9 3.9 0 1 0 -7.8 0M840.3 701.5a4.1 4.1 0 1 0 8.2 0a4.1 4.1 0 1 0 -8.2 0M840.6 692.9a3.9 3.9 0 1 0 7.8 0a3.9 3.9 0 1 0 -7.8 0M848.4 739.1a4.1 4.1 0 1 0 8.3 0a4.1 4.1 0 1 0 -8.3 0M849.8 729.6a3.8 3.8 0 1 0 7.5 0a3.8 3.8 0 1 0 -7.5 0M848.8 722.5a4.4 4.4 0 1 0 8.7 0a4.4 4.4 0 1 0 -8.7 0M848.5 712.3a4.4 4.4 0 1 0 8.8 0a4.4 4.4 0 1 0 -8.8 0M856.1 736.7a4.3 4.3 0 1 0 8.6 0a4.3 4.3 0 1 0 -8.6 0M859.4 726.3a4 4 0 1 0 8 0a4 4 0 1 0 -8 0M858.8 715.8a4.3 4.3 0 1 0 8.7 0a4.3 4.3 0 1 0 -8.7 0M857.6 708a3.9 3.9 0 1 0 7.8 0a3.9 3.9 0 1 0 -7.8 0M857.7 698.4a4.1 4.1 0 1 0 8.2 0a4.1 4.1 0 1 0 -8.2 0M857 689.8a3.7 3.7 0 1 0 7.4 0a3.7 3.7 0 1 0 -7.4 0M866.2 739.6a3.8 3.8 0 1 0 7.6 0a3.8 3.8 0 1 0 -7.6 0M865.7 729a4.1 4.1 0 1 0 8.1 0a4.1 4.1 0 1 0 -8.1 0M866.9 702.3a3.9 3.9 0 1 0 7.8 0a3.9 3.9 0 1 0 -7.8 0M867.7 694.9a3.7 3.7 0 1 0 7.3 0a3.7 3.7 0 1 0 -7.3 0M866.4 684.7a3.6 3.6 0 1 0 7.3 0a3.6 3.6 0 1 0 -7.3 0M868.7 678.3a4.1 4.1 0 1 0 8.3 0a4.1 4.1 0 1 0 -8.3 0M865.2 660.1a4.2 4.2 0 1 0 8.4 0a4.2 4.2 0 1 0 -8.4 0M865.8 649.6a4 4 0 1 0 8 0a4 4 0 1 0 -8 0M864.5 642.3a3.6 3.6 0 1 0 7.2 0a3.6 3.6 0 1 0 -7.2 0M866.3 633.3a4 4 0 1 0 7.9 0a4 4 0 1 0 -7.9 0M867 624.3a4.4 4.4 0 1 0 8.8 0a4.4 4.4 0 1 0 -8.8 0M867.8 616.7a4.4 4.4 0 1 0 8.8 0a4.4 4.4 0 1 0 -8.8 0M867.4 605.2a3.7 3.7 0 1 0 7.4 0a3.7 3.7 0 1 0 -7.4 0M874.2 737.4a3.9 3.9 0 1 0 7.9 0a3.9 3.9 0 1 0 -7.9 0M875.7 727.7a4 4 0 1 0 8 0a4 4 0 1 0 -8 0M876.3 717.2a3.6 3.6 0 1 0 7.2 0a3.6 3.6 0 1 0 -7.2 0M874.2 708.9a4.2 4.2 0 1 0 8.3 0a4.2 4.2 0 1 0 -8.3 0M875.5 700.4a4.1 4.1 0 1 0 8.3 0a4.1 4.1 0 1 0 -8.3 0M874.3 691.5a3.8 3.8 0 1 0 7.6 0a3.8 3.8 0 1 0 -7.6 0M874.4 683.4a4 4 0 1 0 7.9 0a4 4 0 1 0 -7.9 0M875 674.7a4.1 4.1 0 1 0 8.3 0a4.1 4.1 0 1 0 -8.3 0M876.9 664.5a3.9 3.9 0 1 0 7.8 0a3.9 3.9 0 1 0 -7.8 0M875.8 655.3a3.7 3.7 0 1 0 7.3 0a3.7 3.7 0 1 0 -7.3 0M875.1 646.6a3.8 3.8 0 1 0 7.7 0a3.8 3.8 0 1 0 -7.7 0M874.5 636.2a3.9 3.9 0 1 0 7.8 0a3.9 3.9 0 1 0 -7.8 0M875.5 627.3a3.7 3.7 0 1 0 7.3 0a3.7 3.7 0 1 0 -7.3 0M873.8 621.6a3.8 3.8 0 1 0 7.6 0a3.8 3.8 0 1 0 -7.6 0M875.6 611.5a4.1 4.1 0 1 0 8.2 0a4.1 4.1 0 1 0 -8.2 0M874.5 601.7a4.1 4.1 0 1 0 8.3 0a4.1 4.1 0 1 0 -8.3 0M881.9 740.3a3.9 3.9 0 1 0 7.8 0a3.9 3.9 0 1 0 -7.8 0M882.1 731.6a4 4 0 1 0 7.9 0a4 4 0 1 0 -7.9 0M880.7 723.5a4.3 4.3 0 1 0 8.6 0a4.3 4.3 0 1 0 -8.6 0M884 714.1a4 4 0 1 0 8 0a4 4 0 1 0 -8 0M883.8 706a3.6 3.6 0 1 0 7.2 0a3.6 3.6 0 1 0 -7.2 0M884 695.3a4.1 4.1 0 1 0 8.1 0a4.1 4.1 0 1 0 -8.1 0M881.8 687a4 4 0 1 0 8.1 0a4 4 0 1 0 -8.1 0M884.1 678a3.9 3.9 0 1 0 7.9 0a3.9 3.9 0 1 0 -7.9 0M882.8 669.8a4.1 4.1 0 1 0 8.1 0a4.1 4.1 0 1 0 -8.1 0M882.8 658.6a4.1 4.1 0 1 0 8.2 0a4.1 4.1 0 1 0 -8.2 0M881.1 650.2a3.8 3.8 0 1 0 7.6 0a3.8 3.8 0 1 0 -7.6 0M883.8 641.4a4.1 4.1 0 1 0 8.2 0a4.1 4.1 0 1 0 -8.2 0M890.6 735.9a4.4 4.4 0 1 0 8.8 0a4.4 4.4 0 1 0 -8.8 0M890.3 727.9a4 4 0 1 0 8.1 0a4 4 0 1 0 -8.1 0M892.2 719a4.2 4.2 0 1 0 8.3 0a4.2 4.2 0 1 0 -8.3 0M892.4 709.1a3.8 3.8 0 1 0 7.5 0a3.8 3.8 0 1 0 -7.5 0M890.9 702a3.9 3.9 0 1 0 7.8 0a3.9 3.9 0 1 0 -7.8 0M893 691.6a3.7 3.7 0 1 0 7.4 0a3.7 3.7 0 1 0 -7.4 0M892.9 681a4.1 4.1 0 1 0 8.2 0a4.1 4.1 0 1 0 -8.2 0M890.3 673.1a4.1 4.1 0 1 0 8.2 0a4.1 4.1 0 1 0 -8.2 0M892.3 665.9a3.7 3.7 0 1 0 7.4 0a3.7 3.7 0 1 0 -7.4 0M892.8 657a3.6 3.6 0 1 0 7.3 0a3.6 3.6 0 1 0 -7.3 0M891.1 648.9a4.1 4.1 0 1 0 8.2 0a4.1 4.1 0 1 0 -8.2 0M891.7 638.9a3.6 3.6 0 1 0 7.3 0a3.6 3.6 0 1 0 -7.3 0M890.9 628.9a4.2 4.2 0 1 0 8.4 0a4.2 4.2 0 1 0 -8.4 0M889.5 622.5a3.8 3.8 0 1 0 7.5 0a3.8 3.8 0 1 0 -7.5 0M890.8 611.5a3.8 3.8 0 1 0 7.6 0a3.8 3.8 0 1 0 -7.6 0M892.4 604.7a3.8 3.8 0 1 0 7.6 0a3.8 3.8 0 1 0 -7.6 0M900.3 741.4a3.6 3.6 0 1 0 7.3 0a3.6 3.6 0 1 0 -7.3 0M899.2 722.1a3.7 3.7 0 1 0 7.4 0a3.7 3.7 0 1 0 -7.4 0M898.4 711.5a4 4 0 1 0 8.1 0a4 4 0 1 0 -8.1 0M900.3 703.3a4 4 0 1 0 7.9 0a4 4 0 1 0 -7.9 0M899.5 695.6a4 4 0 1 0 8 0a4 4 0 1 0 -8 0M900.2 686.5a3.6 3.6 0 1 0 7.3 0a3.6 3.6 0 1 0 -7.3 0M900.4 668a4 4 0 1 0 7.9 0a4 4 0 1 0 -7.9 0M900.9 659.4a3.7 3.7 0 1 0 7.3 0a3.7 3.7 0 1 0 -7.3 0M900.4 651.4a3.8 3.8 0 1 0 7.6 0a3.8 3.8 0 1 0 -7.6 0M900.6 641.3a4.1 4.1 0 1 0 8.2 0a4.1 4.1 0 1 0 -8.2 0M900.5 633.4a4 4 0 1 0 8 0a4 4 0 1 0 -8 0M900.5 625.7a4.2 4.2 0 1 0 8.4 0a4.2 4.2 0 1 0 -8.4 0M901.6 617.5a4 4 0 1 0 8 0a4 4 0 1 0 -8 0M901.6 608.3a3.9 3.9 0 1 0 7.8 0a3.9 3.9 0 1 0 -7.8 0M899.6 598.4a3.8 3.8 0 1 0 7.6 0a3.8 3.8 0 1 0 -7.6 0M906.8 735.4a4.3 4.3 0 1 0 8.6 0a4.3 4.3 0 1 0 -8.6 0M908.9 718.7a3.9 3.9 0 1 0 7.7 0a3.9 3.9 0 1 0 -7.7 0M908.2 709.3a3.7 3.7 0 1 0 7.5 0a3.7 3.7 0 1 0 -7.5 0M908.8 701.1a3.7 3.7 0 1 0 7.3 0a3.7 3.7 0 1 0 -7.3 0M909.5 689.3a4.1 4.1 0 1 0 8.3 0a4.1 4.1 0 1 0 -8.3 0M907.5 682a3.7 3.7 0 1 0 7.4 0a3.7 3.7 0 1 0 -7.4 0M908.1 672.2a4 4 0 1 0 7.9 0a4 4 0 1 0 -7.9 0M908.8 663.7a3.9 3.9 0 1 0 7.7 0a3.9 3.9 0 1 0 -7.7 0M908.7 654.9a4.2 4.2 0 1 0 8.3 0a4.2 4.2 0 1 0 -8.3 0M908.1 646.6a3.8 3.8 0 1 0 7.6 0a3.8 3.8 0 1 0 -7.6 0M909.6 636.7a3.8 3.8 0 1 0 7.5 0a3.8 3.8 0 1 0 -7.5 0M910.1 629.4a3.6 3.6 0 1 0 7.2 0a3.6 3.6 0 1 0 -7.2 0M908.5 618.5a3.7 3.7 0 1 0 7.4 0a3.7 3.7 0 1 0 -7.4 0M909.8 610.7a4.2 4.2 0 1 0 8.4 0a4.2 4.2 0 1 0 -8.4 0M915.8 738.8a4.4 4.4 0 1 0 8.7 0a4.4 4.4 0 1 0 -8.7 0M918.5 729.8a3.6 3.6 0 1 0 7.3 0a3.6 3.6 0 1 0 -7.3 0M916.3 723a4.2 4.2 0 1 0 8.4 0a4.2 4.2 0 1 0 -8.4 0M917.9 713.1a4.2 4.2 0 1 0 8.3 0a4.2 4.2 0 1 0 -8.3 0M918.9 703.6a4.3 4.3 0 1 0 8.5 0a4.3 4.3 0 1 0 -8.5 0M915.4 695.3a4.1 4.1 0 1 0 8.1 0a4.1 4.1 0 1 0 -8.1 0M918 686a3.9 3.9 0 1 0 7.9 0a3.9 3.9 0 1 0 -7.9 0M916.1 677.1a3.9 3.9 0 1 0 7.9 0a3.9 3.9 0 1 0 -7.9 0M918.5 669.6a4.1 4.1 0 1 0 8.3 0a4.1 4.1 0 1 0 -8.3 0M917.7 650.7a3.7 3.7 0 1 0 7.5 0a3.7 3.7 0 1 0 -7.5 0M919 642.5a4.1 4.1 0 1 0 8.1 0a4.1 4.1 0 1 0 -8.1 0M918.4 633.5a4.1 4.1 0 1 0 8.3 0a4.1 4.1 0 1 0 -8.3 0M926.6 736.5a4 4 0 1 0 8.1 0a4 4 0 1 0 -8.1 0M925.6 726.6a3.9 3.9 0 1 0 7.7 0a3.9 3.9 0 1 0 -7.7 0M926.4 718.2a3.7 3.7 0 1 0 7.4 0a3.7 3.7 0 1 0 -7.4 0M926.8 711a4 4 0 1 0 8 0a4 4 0 1 0 -8 0M926.7 701a3.9 3.9 0 1 0 7.9 0a3.9 3.9 0 1 0 -7.9 0M924.8 691.5a4.3 4.3 0 1 0 8.5 0a4.3 4.3 0 1 0 -8.5 0M928 681.9a4 4 0 1 0 8 0a4 4 0 1 0 -8 0M927 666.2a3.7 3.7 0 1 0 7.4 0a3.7 3.7 0 1 0 -7.4 0M926 655.7a3.7 3.7 0 1 0 7.3 0a3.7 3.7 0 1 0 -7.3 0M926 639.4a4.1 4.1 0 1 0 8.1 0a4.1 4.1 0 1 0 -8.1 0M932.2 738.8a4 4 0 1 0 8.1 0a4 4 0 1 0 -8.1 0M935.9 730.5a3.8 3.8 0 1 0 7.6 0a3.8 3.8 0 1 0 -7.6 0M934.5 722.6a4.1 4.1 0 1 0 8.2 0a4.1 4.1 0 1 0 -8.2 0M933.8 714.3a4.3 4.3 0 1 0 8.5 0a4.3 4.3 0 1 0 -8.5 0M936.2 703.8a4.3 4.3 0 1 0 8.6 0a4.3 4.3 0 1 0 -8.6 0M933.8 694.8a3.6 3.6 0 1 0 7.3 0a3.6 3.6 0 1 0 -7.3 0M935.9 686.8a4.1 4.1 0 1 0 8.1 0a4.1 4.1 0 1 0 -8.1 0M934.8 679.1a3.9 3.9 0 1 0 7.8 0a3.9 3.9 0 1 0 -7.8 0M943.6 727.7a4.4 4.4 0 1 0 8.7 0a4.4 4.4 0 1 0 -8.7 0M943.5 717.7a3.7 3.7 0 1 0 7.4 0a3.7 3.7 0 1 0 -7.4 0M941.2 709.8a4.1 4.1 0 1 0 8.1 0a4.1 4.1 0 1 0 -8.1 0M943.2 701.7a4.1 4.1 0 1 0 8.3 0a4.1 4.1 0 1 0 -8.3 0M944.2 690.6a4.2 4.2 0 1 0 8.3 0a4.2 4.2 0 1 0 -8.3 0M942.1 681.7a3.8 3.8 0 1 0 7.6 0a3.8 3.8 0 1 0 -7.6 0M953.2 739.6a3.9 3.9 0 1 0 7.8 0a3.9 3.9 0 1 0 -7.8 0M952 729.8a3.7 3.7 0 1 0 7.4 0a3.7 3.7 0 1 0 -7.4 0M950.6 722.8a3.9 3.9 0 1 0 7.8 0a3.9 3.9 0 1 0 -7.8 0M953.4 713.4a3.6 3.6 0 1 0 7.3 0a3.6 3.6 0 1 0 -7.3 0M950.8 704.5a4.1 4.1 0 1 0 8.2 0a4.1 4.1 0 1 0 -8.2 0M959.2 735.7a3.8 3.8 0 1 0 7.6 0a3.8 3.8 0 1 0 -7.6 0M957.6 726.1a4 4 0 1 0 8 0a4 4 0 1 0 -8 0M958.2 718.8a4.1 4.1 0 1 0 8.3 0a4.1 4.1 0 1 0 -8.3 0M959.9 708.7a3.8 3.8 0 1 0 7.6 0a3.8 3.8 0 1 0 -7.6 0M968.4 741a4.1 4.1 0 1 0 8.2 0a4.1 4.1 0 1 0 -8.2 0M967.5 724.2a3.8 3.8 0 1 0 7.6 0a3.8 3.8 0 1 0 -7.6 0M967.2 713.1a4.4 4.4 0 1 0 8.8 0a4.4 4.4 0 1 0 -8.8 0M968.2 704.9a4.1 4.1 0 1 0 8.2 0a4.1 4.1 0 1 0 -8.2 0M966.6 697.3a3.8 3.8 0 1 0 7.7 0a3.8 3.8 0 1 0 -7.7 0M975.7 735.6a4.2 4.2 0 1 0 8.4 0a4.2 4.2 0 1 0 -8.4 0M974.9 725.7a4.3 4.3 0 1 0 8.5 0a4.3 4.3 0 1 0 -8.5 0M976.6 717.2a3.8 3.8 0 1 0 7.7 0a3.8 3.8 0 1 0 -7.7 0M976 709.9a3.7 3.7 0 1 0 7.5 0a3.7 3.7 0 1 0 -7.5 0M975.4 701a4.1 4.1 0 1 0 8.3 0a4.1 4.1 0 1 0 -8.3 0M978.5 689.4a3.8 3.8 0 1 0 7.6 0a3.8 3.8 0 1 0 -7.6 0M975.4 681.9a3.9 3.9 0 1 0 7.7 0a3.9 3.9 0 1 0 -7.7 0M975.6 674.7a4.4 4.4 0 1 0 8.7 0a4.4 4.4 0 1 0 -8.7 0" fill="none" stroke="#111" stroke-width="0.8"/><rect x="1010.2" y="514.5" width="308.5" height="230.9" fill="#fbf8f1"/><path d="M1061.6 539.8Q1062.3 623.2 1061.6 708.6M1061.7 540.5Q1061.7 624.5 1062.9 709.4" fill="none" stroke="#111" stroke-width="2.6" stroke-linecap="round"/><path d="M1060.4 708.5Q1176.3 710.3 1292.8 710.3M1061.8 710.2Q1176.5 710.5 1292.9 708.1" fill="none" stroke="#111" stroke-width="2.6" stroke-linecap="round"/><path d="M1016.3 520.2L1020.5 516L1024.7 520.2Z" fill="#111"/><path d="M1020.5 519V531.5" stroke="#111" stroke-width="2.2"/><text x="1037.5" y="532" text-anchor="start" font-size="16.5" fill="#111" stroke="#111" stroke-width="0.1"  textLength="45.7" lengthAdjust="spacingAndGlyphs">power</text><text x="1285.4" y="737.5" text-anchor="end" font-size="16.5" fill="#111" stroke="#111" stroke-width="0.1"  textLength="55.6" lengthAdjust="spacingAndGlyphs">weight</text><path d="M1306.8 731.8L1311 736L1306.8 740.2Z" fill="#111"/><path d="M1295 736H1308" stroke="#111" stroke-width="2"/><path d="M1142.6 658.3a3.9 3.9 0 1 0 7.8 0a3.9 3.9 0 1 0 -7.8 0M1162.5 643.1a3.9 3.9 0 1 0 7.8 0a3.9 3.9 0 1 0 -7.8 0M1186.5 626.5a3.9 3.9 0 1 0 7.8 0a3.9 3.9 0 1 0 -7.8 0M1141.4 666a3.9 3.9 0 1 0 7.8 0a3.9 3.9 0 1 0 -7.8 0M1133.3 665.9a3.9 3.9 0 1 0 7.8 0a3.9 3.9 0 1 0 -7.8 0M1240.6 554a3.9 3.9 0 1 0 7.8 0a3.9 3.9 0 1 0 -7.8 0M1170.5 630.2a3.9 3.9 0 1 0 7.8 0a3.9 3.9 0 1 0 -7.8 0M1239.4 580.2a3.9 3.9 0 1 0 7.8 0a3.9 3.9 0 1 0 -7.8 0M1133.2 680a3.9 3.9 0 1 0 7.8 0a3.9 3.9 0 1 0 -7.8 0M1136.1 653.4a3.9 3.9 0 1 0 7.8 0a3.9 3.9 0 1 0 -7.8 0M1183.5 637.3a3.9 3.9 0 1 0 7.8 0a3.9 3.9 0 1 0 -7.8 0M1256.6 583.7a3.9 3.9 0 1 0 7.8 0a3.9 3.9 0 1 0 -7.8 0M1183 629.3a3.9 3.9 0 1 0 7.8 0a3.9 3.9 0 1 0 -7.8 0M1185.3 645.4a3.9 3.9 0 1 0 7.8 0a3.9 3.9 0 1 0 -7.8 0M1223.5 625.5a3.9 3.9 0 1 0 7.8 0a3.9 3.9 0 1 0 -7.8 0M1154.6 659.5a3.9 3.9 0 1 0 7.8 0a3.9 3.9 0 1 0 -7.8 0M1168.8 670.2a3.9 3.9 0 1 0 7.8 0a3.9 3.9 0 1 0 -7.8 0M1139.9 659.4a3.9 3.9 0 1 0 7.8 0a3.9 3.9 0 1 0 -7.8 0M1150.7 658.2a3.9 3.9 0 1 0 7.8 0a3.9 3.9 0 1 0 -7.8 0M1214 592.8a3.9 3.9 0 1 0 7.8 0a3.9 3.9 0 1 0 -7.8 0M1203.5 611.3a3.9 3.9 0 1 0 7.8 0a3.9 3.9 0 1 0 -7.8 0M1161.3 645a3.9 3.9 0 1 0 7.8 0a3.9 3.9 0 1 0 -7.8 0M1167.7 652.9a3.9 3.9 0 1 0 7.8 0a3.9 3.9 0 1 0 -7.8 0M1246.2 566.6a3.9 3.9 0 1 0 7.8 0a3.9 3.9 0 1 0 -7.8 0M1262.3 595.6a3.9 3.9 0 1 0 7.8 0a3.9 3.9 0 1 0 -7.8 0M1190.6 625.2a3.9 3.9 0 1 0 7.8 0a3.9 3.9 0 1 0 -7.8 0M1241.7 615.2a3.9 3.9 0 1 0 7.8 0a3.9 3.9 0 1 0 -7.8 0M1205.2 620a3.9 3.9 0 1 0 7.8 0a3.9 3.9 0 1 0 -7.8 0M1245.9 570.7a3.9 3.9 0 1 0 7.8 0a3.9 3.9 0 1 0 -7.8 0M1146.2 657a3.9 3.9 0 1 0 7.8 0a3.9 3.9 0 1 0 -7.8 0M1251.1 584.6a3.9 3.9 0 1 0 7.8 0a3.9 3.9 0 1 0 -7.8 0M1204.8 623.3a3.9 3.9 0 1 0 7.8 0a3.9 3.9 0 1 0 -7.8 0M1236.3 607.1a3.9 3.9 0 1 0 7.8 0a3.9 3.9 0 1 0 -7.8 0M1227.3 607.9a3.9 3.9 0 1 0 7.8 0a3.9 3.9 0 1 0 -7.8 0M1257.6 594.1a3.9 3.9 0 1 0 7.8 0a3.9 3.9 0 1 0 -7.8 0M1200.5 598.1a3.9 3.9 0 1 0 7.8 0a3.9 3.9 0 1 0 -7.8 0M1218.4 613.2a3.9 3.9 0 1 0 7.8 0a3.9 3.9 0 1 0 -7.8 0M1261.6 571.8a3.9 3.9 0 1 0 7.8 0a3.9 3.9 0 1 0 -7.8 0M1215.2 633.2a3.9 3.9 0 1 0 7.8 0a3.9 3.9 0 1 0 -7.8 0M1196.5 637.1a3.9 3.9 0 1 0 7.8 0a3.9 3.9 0 1 0 -7.8 0M1196.2 630.5a3.9 3.9 0 1 0 7.8 0a3.9 3.9 0 1 0 -7.8 0M1227.7 615.8a3.9 3.9 0 1 0 7.8 0a3.9 3.9 0 1 0 -7.8 0M1237.5 632a3.9 3.9 0 1 0 7.8 0a3.9 3.9 0 1 0 -7.8 0M1266.7 551.1a3.9 3.9 0 1 0 7.8 0a3.9 3.9 0 1 0 -7.8 0M1225.1 606.8a3.9 3.9 0 1 0 7.8 0a3.9 3.9 0 1 0 -7.8 0M1186.5 629.3a3.9 3.9 0 1 0 7.8 0a3.9 3.9 0 1 0 -7.8 0M1155 642.7a3.9 3.9 0 1 0 7.8 0a3.9 3.9 0 1 0 -7.8 0M1192.2 646.4a3.9 3.9 0 1 0 7.8 0a3.9 3.9 0 1 0 -7.8 0M1262.7 557.4a3.9 3.9 0 1 0 7.8 0a3.9 3.9 0 1 0 -7.8 0M1241.9 590.4a3.9 3.9 0 1 0 7.8 0a3.9 3.9 0 1 0 -7.8 0M1192.4 642.5a3.9 3.9 0 1 0 7.8 0a3.9 3.9 0 1 0 -7.8 0M1158.3 646.5a3.9 3.9 0 1 0 7.8 0a3.9 3.9 0 1 0 -7.8 0M1174.1 653.7a3.9 3.9 0 1 0 7.8 0a3.9 3.9 0 1 0 -7.8 0M1216.7 602.7a3.9 3.9 0 1 0 7.8 0a3.9 3.9 0 1 0 -7.8 0M1192 621.7a3.9 3.9 0 1 0 7.8 0a3.9 3.9 0 1 0 -7.8 0M1192.2 610.5a3.9 3.9 0 1 0 7.8 0a3.9 3.9 0 1 0 -7.8 0M1145.4 667.5a3.9 3.9 0 1 0 7.8 0a3.9 3.9 0 1 0 -7.8 0M1216.4 609.1a3.9 3.9 0 1 0 7.8 0a3.9 3.9 0 1 0 -7.8 0M1180.5 644.9a3.9 3.9 0 1 0 7.8 0a3.9 3.9 0 1 0 -7.8 0M1148.2 661.1a3.9 3.9 0 1 0 7.8 0a3.9 3.9 0 1 0 -7.8 0M1175.7 636.8a3.9 3.9 0 1 0 7.8 0a3.9 3.9 0 1 0 -7.8 0M1160.7 650.4a3.9 3.9 0 1 0 7.8 0a3.9 3.9 0 1 0 -7.8 0M1151 664.6a3.9 3.9 0 1 0 7.8 0a3.9 3.9 0 1 0 -7.8 0M1215.9 659.6a3.9 3.9 0 1 0 7.8 0a3.9 3.9 0 1 0 -7.8 0M1249.4 584.9a3.9 3.9 0 1 0 7.8 0a3.9 3.9 0 1 0 -7.8 0M1201.9 611.1a3.9 3.9 0 1 0 7.8 0a3.9 3.9 0 1 0 -7.8 0M1215.4 606.9a3.9 3.9 0 1 0 7.8 0a3.9 3.9 0 1 0 -7.8 0M1227.5 587.2a3.9 3.9 0 1 0 7.8 0a3.9 3.9 0 1 0 -7.8 0M1220.1 599.9a3.9 3.9 0 1 0 7.8 0a3.9 3.9 0 1 0 -7.8 0M1195.1 646.6a3.9 3.9 0 1 0 7.8 0a3.9 3.9 0 1 0 -7.8 0M1226.7 606.4a3.9 3.9 0 1 0 7.8 0a3.9 3.9 0 1 0 -7.8 0M1171.9 639.4a3.9 3.9 0 1 0 7.8 0a3.9 3.9 0 1 0 -7.8 0M1246.1 596.2a3.9 3.9 0 1 0 7.8 0a3.9 3.9 0 1 0 -7.8 0M1189.4 624.1a3.9 3.9 0 1 0 7.8 0a3.9 3.9 0 1 0 -7.8 0M1213.2 616.9a3.9 3.9 0 1 0 7.8 0a3.9 3.9 0 1 0 -7.8 0M1201.4 625.7a3.9 3.9 0 1 0 7.8 0a3.9 3.9 0 1 0 -7.8 0M1231.6 596.6a3.9 3.9 0 1 0 7.8 0a3.9 3.9 0 1 0 -7.8 0M1276.5 606.6a3.9 3.9 0 1 0 7.8 0a3.9 3.9 0 1 0 -7.8 0M1160.1 661.9a3.9 3.9 0 1 0 7.8 0a3.9 3.9 0 1 0 -7.8 0M1161.1 629.8a3.9 3.9 0 1 0 7.8 0a3.9 3.9 0 1 0 -7.8 0M1235.7 613.9a3.9 3.9 0 1 0 7.8 0a3.9 3.9 0 1 0 -7.8 0M1166.8 662.9a3.9 3.9 0 1 0 7.8 0a3.9 3.9 0 1 0 -7.8 0M1148.7 661.6a3.9 3.9 0 1 0 7.8 0a3.9 3.9 0 1 0 -7.8 0M1163 658a3.9 3.9 0 1 0 7.8 0a3.9 3.9 0 1 0 -7.8 0M1232.6 619.2a3.9 3.9 0 1 0 7.8 0a3.9 3.9 0 1 0 -7.8 0M1236.6 603.1a3.9 3.9 0 1 0 7.8 0a3.9 3.9 0 1 0 -7.8 0M1219.2 638.9a3.9 3.9 0 1 0 7.8 0a3.9 3.9 0 1 0 -7.8 0M1272.5 582.2a3.9 3.9 0 1 0 7.8 0a3.9 3.9 0 1 0 -7.8 0M1176.2 632.9a3.9 3.9 0 1 0 7.8 0a3.9 3.9 0 1 0 -7.8 0M1132 662.5a3.9 3.9 0 1 0 7.8 0a3.9 3.9 0 1 0 -7.8 0M1176.9 661.2a3.9 3.9 0 1 0 7.8 0a3.9 3.9 0 1 0 -7.8 0M1169.2 653.5a3.9 3.9 0 1 0 7.8 0a3.9 3.9 0 1 0 -7.8 0M1170.4 641.2a3.9 3.9 0 1 0 7.8 0a3.9 3.9 0 1 0 -7.8 0M1179.9 634.5a3.9 3.9 0 1 0 7.8 0a3.9 3.9 0 1 0 -7.8 0M1255.1 612.3a3.9 3.9 0 1 0 7.8 0a3.9 3.9 0 1 0 -7.8 0M1175.8 612.2a3.9 3.9 0 1 0 7.8 0a3.9 3.9 0 1 0 -7.8 0M1161.2 650.4a3.9 3.9 0 1 0 7.8 0a3.9 3.9 0 1 0 -7.8 0M1182.6 631a3.9 3.9 0 1 0 7.8 0a3.9 3.9 0 1 0 -7.8 0M1212.6 637a3.9 3.9 0 1 0 7.8 0a3.9 3.9 0 1 0 -7.8 0M1152.4 654.1a3.9 3.9 0 1 0 7.8 0a3.9 3.9 0 1 0 -7.8 0M1175.4 651.3a3.9 3.9 0 1 0 7.8 0a3.9 3.9 0 1 0 -7.8 0M1174.7 647.9a3.9 3.9 0 1 0 7.8 0a3.9 3.9 0 1 0 -7.8 0M1247.1 571.3a3.9 3.9 0 1 0 7.8 0a3.9 3.9 0 1 0 -7.8 0M1277.5 568.2a3.9 3.9 0 1 0 7.8 0a3.9 3.9 0 1 0 -7.8 0M1193.4 619.2a3.9 3.9 0 1 0 7.8 0a3.9 3.9 0 1 0 -7.8 0M1232.7 619.8a3.9 3.9 0 1 0 7.8 0a3.9 3.9 0 1 0 -7.8 0M1179.8 635.6a3.9 3.9 0 1 0 7.8 0a3.9 3.9 0 1 0 -7.8 0M1206.2 612a3.9 3.9 0 1 0 7.8 0a3.9 3.9 0 1 0 -7.8 0M1270.9 559.3a3.9 3.9 0 1 0 7.8 0a3.9 3.9 0 1 0 -7.8 0M1156.8 657.4a3.9 3.9 0 1 0 7.8 0a3.9 3.9 0 1 0 -7.8 0M1193.5 614.2a3.9 3.9 0 1 0 7.8 0a3.9 3.9 0 1 0 -7.8 0M1213.3 633.1a3.9 3.9 0 1 0 7.8 0a3.9 3.9 0 1 0 -7.8 0M1223.4 598.1a3.9 3.9 0 1 0 7.8 0a3.9 3.9 0 1 0 -7.8 0M1250 580.4a3.9 3.9 0 1 0 7.8 0a3.9 3.9 0 1 0 -7.8 0M1206.6 620.6a3.9 3.9 0 1 0 7.8 0a3.9 3.9 0 1 0 -7.8 0M1138.5 650.7a3.9 3.9 0 1 0 7.8 0a3.9 3.9 0 1 0 -7.8 0M1199.3 638.5a3.9 3.9 0 1 0 7.8 0a3.9 3.9 0 1 0 -7.8 0M1198.1 608.3a3.9 3.9 0 1 0 7.8 0a3.9 3.9 0 1 0 -7.8 0M1191.7 639.2a3.9 3.9 0 1 0 7.8 0a3.9 3.9 0 1 0 -7.8 0M1226.6 622.9a3.9 3.9 0 1 0 7.8 0a3.9 3.9 0 1 0 -7.8 0M1215.6 610.4a3.9 3.9 0 1 0 7.8 0a3.9 3.9 0 1 0 -7.8 0M1231.8 606.1a3.9 3.9 0 1 0 7.8 0a3.9 3.9 0 1 0 -7.8 0M1139.6 670.7a3.9 3.9 0 1 0 7.8 0a3.9 3.9 0 1 0 -7.8 0M1186.8 643.7a3.9 3.9 0 1 0 7.8 0a3.9 3.9 0 1 0 -7.8 0M1200.3 628.1a3.9 3.9 0 1 0 7.8 0a3.9 3.9 0 1 0 -7.8 0M1151 667.9a3.9 3.9 0 1 0 7.8 0a3.9 3.9 0 1 0 -7.8 0M1223.5 632a3.9 3.9 0 1 0 7.8 0a3.9 3.9 0 1 0 -7.8 0M1186.1 638.4a3.9 3.9 0 1 0 7.8 0a3.9 3.9 0 1 0 -7.8 0M1287.6 586.6a3.9 3.9 0 1 0 7.8 0a3.9 3.9 0 1 0 -7.8 0M1238 562.6a3.9 3.9 0 1 0 7.8 0a3.9 3.9 0 1 0 -7.8 0M1210.9 611.9a3.9 3.9 0 1 0 7.8 0a3.9 3.9 0 1 0 -7.8 0M1174.7 643.8a3.9 3.9 0 1 0 7.8 0a3.9 3.9 0 1 0 -7.8 0M1214.6 654.1a3.9 3.9 0 1 0 7.8 0a3.9 3.9 0 1 0 -7.8 0M1147.9 662.5a3.9 3.9 0 1 0 7.8 0a3.9 3.9 0 1 0 -7.8 0M1202 607.6a3.9 3.9 0 1 0 7.8 0a3.9 3.9 0 1 0 -7.8 0M1194.6 631.7a3.9 3.9 0 1 0 7.8 0a3.9 3.9 0 1 0 -7.8 0M1211.1 620.6a3.9 3.9 0 1 0 7.8 0a3.9 3.9 0 1 0 -7.8 0M1135.7 669.2a3.9 3.9 0 1 0 7.8 0a3.9 3.9 0 1 0 -7.8 0M1145.8 662.6a3.9 3.9 0 1 0 7.8 0a3.9 3.9 0 1 0 -7.8 0M1218.9 610.4a3.9 3.9 0 1 0 7.8 0a3.9 3.9 0 1 0 -7.8 0M1149.6 673.7a3.9 3.9 0 1 0 7.8 0a3.9 3.9 0 1 0 -7.8 0M1211.8 636.5a3.9 3.9 0 1 0 7.8 0a3.9 3.9 0 1 0 -7.8 0M1156.2 647.4a3.9 3.9 0 1 0 7.8 0a3.9 3.9 0 1 0 -7.8 0M1225.4 608a3.9 3.9 0 1 0 7.8 0a3.9 3.9 0 1 0 -7.8 0M1173.1 637a3.9 3.9 0 1 0 7.8 0a3.9 3.9 0 1 0 -7.8 0M1184.7 631a3.9 3.9 0 1 0 7.8 0a3.9 3.9 0 1 0 -7.8 0M1156.4 651.4a3.9 3.9 0 1 0 7.8 0a3.9 3.9 0 1 0 -7.8 0M1157.4 657a3.9 3.9 0 1 0 7.8 0a3.9 3.9 0 1 0 -7.8 0M1236.5 589.8a3.9 3.9 0 1 0 7.8 0a3.9 3.9 0 1 0 -7.8 0M1207.7 620.9a3.9 3.9 0 1 0 7.8 0a3.9 3.9 0 1 0 -7.8 0M1264.5 545.3a3.9 3.9 0 1 0 7.8 0a3.9 3.9 0 1 0 -7.8 0M1178.3 628.9a3.9 3.9 0 1 0 7.8 0a3.9 3.9 0 1 0 -7.8 0M1205.6 631.8a3.9 3.9 0 1 0 7.8 0a3.9 3.9 0 1 0 -7.8 0M1130.1 665.1a3.9 3.9 0 1 0 7.8 0a3.9 3.9 0 1 0 -7.8 0M1204 636.8a3.9 3.9 0 1 0 7.8 0a3.9 3.9 0 1 0 -7.8 0M1190.3 627.9a3.9 3.9 0 1 0 7.8 0a3.9 3.9 0 1 0 -7.8 0M1167.3 654.4a3.9 3.9 0 1 0 7.8 0a3.9 3.9 0 1 0 -7.8 0M1246.3 606.5a3.9 3.9 0 1 0 7.8 0a3.9 3.9 0 1 0 -7.8 0M1243.9 593.5a3.9 3.9 0 1 0 7.8 0a3.9 3.9 0 1 0 -7.8 0M1179 667.2a3.9 3.9 0 1 0 7.8 0a3.9 3.9 0 1 0 -7.8 0M1203.2 629.5a3.9 3.9 0 1 0 7.8 0a3.9 3.9 0 1 0 -7.8 0M1225.6 611.4a3.9 3.9 0 1 0 7.8 0a3.9 3.9 0 1 0 -7.8 0M1148.6 659.3a3.9 3.9 0 1 0 7.8 0a3.9 3.9 0 1 0 -7.8 0M1243.9 579.3a3.9 3.9 0 1 0 7.8 0a3.9 3.9 0 1 0 -7.8 0M1199.6 618.1a3.9 3.9 0 1 0 7.8 0a3.9 3.9 0 1 0 -7.8 0M1144.4 646.5a3.9 3.9 0 1 0 7.8 0a3.9 3.9 0 1 0 -7.8 0M1205.1 605.5a3.9 3.9 0 1 0 7.8 0a3.9 3.9 0 1 0 -7.8 0M1156.3 662.7a3.9 3.9 0 1 0 7.8 0a3.9 3.9 0 1 0 -7.8 0M1135.5 662.8a3.9 3.9 0 1 0 7.8 0a3.9 3.9 0 1 0 -7.8 0M1192.7 623a3.9 3.9 0 1 0 7.8 0a3.9 3.9 0 1 0 -7.8 0M1245 595.8a3.9 3.9 0 1 0 7.8 0a3.9 3.9 0 1 0 -7.8 0M1221.2 616.9a3.9 3.9 0 1 0 7.8 0a3.9 3.9 0 1 0 -7.8 0M1164 651.9a3.9 3.9 0 1 0 7.8 0a3.9 3.9 0 1 0 -7.8 0M1215.5 634.2a3.9 3.9 0 1 0 7.8 0a3.9 3.9 0 1 0 -7.8 0M1198.9 631.8a3.9 3.9 0 1 0 7.8 0a3.9 3.9 0 1 0 -7.8 0M1146.9 655.3a3.9 3.9 0 1 0 7.8 0a3.9 3.9 0 1 0 -7.8 0M1237.8 582.8a3.9 3.9 0 1 0 7.8 0a3.9 3.9 0 1 0 -7.8 0M1174 637a3.9 3.9 0 1 0 7.8 0a3.9 3.9 0 1 0 -7.8 0M1170.9 654.4a3.9 3.9 0 1 0 7.8 0a3.9 3.9 0 1 0 -7.8 0M1166.7 673.1a3.9 3.9 0 1 0 7.8 0a3.9 3.9 0 1 0 -7.8 0M1276.6 581.7a3.9 3.9 0 1 0 7.8 0a3.9 3.9 0 1 0 -7.8 0M1130.9 680.9a3.9 3.9 0 1 0 7.8 0a3.9 3.9 0 1 0 -7.8 0M1206.5 636.1a3.9 3.9 0 1 0 7.8 0a3.9 3.9 0 1 0 -7.8 0M1227.3 624a3.9 3.9 0 1 0 7.8 0a3.9 3.9 0 1 0 -7.8 0M1231.6 611.1a3.9 3.9 0 1 0 7.8 0a3.9 3.9 0 1 0 -7.8 0M1207.7 618.2a3.9 3.9 0 1 0 7.8 0a3.9 3.9 0 1 0 -7.8 0M1196.9 612.1a3.9 3.9 0 1 0 7.8 0a3.9 3.9 0 1 0 -7.8 0M1159.2 651.1a3.9 3.9 0 1 0 7.8 0a3.9 3.9 0 1 0 -7.8 0M1160.9 648.1a3.9 3.9 0 1 0 7.8 0a3.9 3.9 0 1 0 -7.8 0M1238.4 621.4a3.9 3.9 0 1 0 7.8 0a3.9 3.9 0 1 0 -7.8 0M1209.1 625.5a3.9 3.9 0 1 0 7.8 0a3.9 3.9 0 1 0 -7.8 0M1258.2 608a3.9 3.9 0 1 0 7.8 0a3.9 3.9 0 1 0 -7.8 0M1200.2 635.2a3.9 3.9 0 1 0 7.8 0a3.9 3.9 0 1 0 -7.8 0M1140.1 657.3a3.9 3.9 0 1 0 7.8 0a3.9 3.9 0 1 0 -7.8 0M1148.8 669.2a3.9 3.9 0 1 0 7.8 0a3.9 3.9 0 1 0 -7.8 0M1203.2 633.9a3.9 3.9 0 1 0 7.8 0a3.9 3.9 0 1 0 -7.8 0M1155.5 649.4a3.9 3.9 0 1 0 7.8 0a3.9 3.9 0 1 0 -7.8 0M1164.7 647a3.9 3.9 0 1 0 7.8 0a3.9 3.9 0 1 0 -7.8 0M1208.7 599.2a3.9 3.9 0 1 0 7.8 0a3.9 3.9 0 1 0 -7.8 0M1199.5 614.6a3.9 3.9 0 1 0 7.8 0a3.9 3.9 0 1 0 -7.8 0M1154 647.8a3.9 3.9 0 1 0 7.8 0a3.9 3.9 0 1 0 -7.8 0M1248.8 611.2a3.9 3.9 0 1 0 7.8 0a3.9 3.9 0 1 0 -7.8 0M1199.4 626.5a3.9 3.9 0 1 0 7.8 0a3.9 3.9 0 1 0 -7.8 0M1245.1 586.5a3.9 3.9 0 1 0 7.8 0a3.9 3.9 0 1 0 -7.8 0M1170.3 637.9a3.9 3.9 0 1 0 7.8 0a3.9 3.9 0 1 0 -7.8 0M1194.6 635.7a3.9 3.9 0 1 0 7.8 0a3.9 3.9 0 1 0 -7.8 0M1202.6 631.5a3.9 3.9 0 1 0 7.8 0a3.9 3.9 0 1 0 -7.8 0M1213.7 595.7a3.9 3.9 0 1 0 7.8 0a3.9 3.9 0 1 0 -7.8 0M1227.2 600.7a3.9 3.9 0 1 0 7.8 0a3.9 3.9 0 1 0 -7.8 0M1173.1 634.4a3.9 3.9 0 1 0 7.8 0a3.9 3.9 0 1 0 -7.8 0M1220.3 616.4a3.9 3.9 0 1 0 7.8 0a3.9 3.9 0 1 0 -7.8 0M1218.5 614.1a3.9 3.9 0 1 0 7.8 0a3.9 3.9 0 1 0 -7.8 0M1246.7 593.9a3.9 3.9 0 1 0 7.8 0a3.9 3.9 0 1 0 -7.8 0M1241.7 601a3.9 3.9 0 1 0 7.8 0a3.9 3.9 0 1 0 -7.8 0M1267.7 583.6a3.9 3.9 0 1 0 7.8 0a3.9 3.9 0 1 0 -7.8 0M1272.8 559.7a3.9 3.9 0 1 0 7.8 0a3.9 3.9 0 1 0 -7.8 0M1284.7 579.9a3.9 3.9 0 1 0 7.8 0a3.9 3.9 0 1 0 -7.8 0M1221.2 620.1a3.9 3.9 0 1 0 7.8 0a3.9 3.9 0 1 0 -7.8 0M1127.3 662.8a3.9 3.9 0 1 0 7.8 0a3.9 3.9 0 1 0 -7.8 0M1280.9 565a3.9 3.9 0 1 0 7.8 0a3.9 3.9 0 1 0 -7.8 0M1148.2 659.6a3.9 3.9 0 1 0 7.8 0a3.9 3.9 0 1 0 -7.8 0M1179.9 618.1a3.9 3.9 0 1 0 7.8 0a3.9 3.9 0 1 0 -7.8 0M1244.6 606.1a3.9 3.9 0 1 0 7.8 0a3.9 3.9 0 1 0 -7.8 0M1187.4 633.1a3.9 3.9 0 1 0 7.8 0a3.9 3.9 0 1 0 -7.8 0M1270.5 573.2a3.9 3.9 0 1 0 7.8 0a3.9 3.9 0 1 0 -7.8 0M1225.2 598.1a3.9 3.9 0 1 0 7.8 0a3.9 3.9 0 1 0 -7.8 0M1253.3 603.1a3.9 3.9 0 1 0 7.8 0a3.9 3.9 0 1 0 -7.8 0M1203.2 610.6a3.9 3.9 0 1 0 7.8 0a3.9 3.9 0 1 0 -7.8 0M1142 650.7a3.9 3.9 0 1 0 7.8 0a3.9 3.9 0 1 0 -7.8 0M1243 617.6a3.9 3.9 0 1 0 7.8 0a3.9 3.9 0 1 0 -7.8 0M1250.2 566.6a3.9 3.9 0 1 0 7.8 0a3.9 3.9 0 1 0 -7.8 0M1213.5 623.2a3.9 3.9 0 1 0 7.8 0a3.9 3.9 0 1 0 -7.8 0M1205.5 595.2a3.9 3.9 0 1 0 7.8 0a3.9 3.9 0 1 0 -7.8 0M1243.2 611.7a3.9 3.9 0 1 0 7.8 0a3.9 3.9 0 1 0 -7.8 0M1209.1 623.7a3.9 3.9 0 1 0 7.8 0a3.9 3.9 0 1 0 -7.8 0M1172 654.7a3.9 3.9 0 1 0 7.8 0a3.9 3.9 0 1 0 -7.8 0M1234.4 620a3.9 3.9 0 1 0 7.8 0a3.9 3.9 0 1 0 -7.8 0M1242.9 641.4a3.9 3.9 0 1 0 7.8 0a3.9 3.9 0 1 0 -7.8 0M1145.5 657.9a3.9 3.9 0 1 0 7.8 0a3.9 3.9 0 1 0 -7.8 0M1132.8 654.2a3.9 3.9 0 1 0 7.8 0a3.9 3.9 0 1 0 -7.8 0M1268.9 568.8a3.9 3.9 0 1 0 7.8 0a3.9 3.9 0 1 0 -7.8 0M1179 634.2a3.9 3.9 0 1 0 7.8 0a3.9 3.9 0 1 0 -7.8 0M1211.1 619.3a3.9 3.9 0 1 0 7.8 0a3.9 3.9 0 1 0 -7.8 0M1158.7 664.1a3.9 3.9 0 1 0 7.8 0a3.9 3.9 0 1 0 -7.8 0M1249.9 609.3a3.9 3.9 0 1 0 7.8 0a3.9 3.9 0 1 0 -7.8 0M1150.2 649.7a3.9 3.9 0 1 0 7.8 0a3.9 3.9 0 1 0 -7.8 0M1188.4 630.9a3.9 3.9 0 1 0 7.8 0a3.9 3.9 0 1 0 -7.8 0M1222.1 619.2a3.9 3.9 0 1 0 7.8 0a3.9 3.9 0 1 0 -7.8 0M1169.2 646.1a3.9 3.9 0 1 0 7.8 0a3.9 3.9 0 1 0 -7.8 0M1273.2 577.8a3.9 3.9 0 1 0 7.8 0a3.9 3.9 0 1 0 -7.8 0M1178.9 627.3a3.9 3.9 0 1 0 7.8 0a3.9 3.9 0 1 0 -7.8 0M1272.4 587.4a3.9 3.9 0 1 0 7.8 0a3.9 3.9 0 1 0 -7.8 0M1201.2 622.7a3.9 3.9 0 1 0 7.8 0a3.9 3.9 0 1 0 -7.8 0M1163.5 661.1a3.9 3.9 0 1 0 7.8 0a3.9 3.9 0 1 0 -7.8 0M1193.4 632.3a3.9 3.9 0 1 0 7.8 0a3.9 3.9 0 1 0 -7.8 0M1219.1 624a3.9 3.9 0 1 0 7.8 0a3.9 3.9 0 1 0 -7.8 0M1198 606.5a3.9 3.9 0 1 0 7.8 0a3.9 3.9 0 1 0 -7.8 0M1251.4 558.2a3.9 3.9 0 1 0 7.8 0a3.9 3.9 0 1 0 -7.8 0M1264.6 580.4a3.9 3.9 0 1 0 7.8 0a3.9 3.9 0 1 0 -7.8 0M1259.6 585.2a3.9 3.9 0 1 0 7.8 0a3.9 3.9 0 1 0 -7.8 0M1130.6 663.1a3.9 3.9 0 1 0 7.8 0a3.9 3.9 0 1 0 -7.8 0M1266.4 586a3.9 3.9 0 1 0 7.8 0a3.9 3.9 0 1 0 -7.8 0M1185.6 637.2a3.9 3.9 0 1 0 7.8 0a3.9 3.9 0 1 0 -7.8 0M1185.3 650.5a3.9 3.9 0 1 0 7.8 0a3.9 3.9 0 1 0 -7.8 0M1193 650a3.9 3.9 0 1 0 7.8 0a3.9 3.9 0 1 0 -7.8 0M1150.3 674.8a3.9 3.9 0 1 0 7.8 0a3.9 3.9 0 1 0 -7.8 0M1239.6 655.3a3.9 3.9 0 1 0 7.8 0a3.9 3.9 0 1 0 -7.8 0M1168.6 657.8a3.9 3.9 0 1 0 7.8 0a3.9 3.9 0 1 0 -7.8 0M1156.9 677.3a3.9 3.9 0 1 0 7.8 0a3.9 3.9 0 1 0 -7.8 0M1147.1 651.4a3.9 3.9 0 1 0 7.8 0a3.9 3.9 0 1 0 -7.8 0M1267.4 607.2a3.9 3.9 0 1 0 7.8 0a3.9 3.9 0 1 0 -7.8 0M1237.5 616.2a3.9 3.9 0 1 0 7.8 0a3.9 3.9 0 1 0 -7.8 0M1146.7 654.3a3.9 3.9 0 1 0 7.8 0a3.9 3.9 0 1 0 -7.8 0M1205.3 607.2a3.9 3.9 0 1 0 7.8 0a3.9 3.9 0 1 0 -7.8 0M1128 643.5a3.9 3.9 0 1 0 7.8 0a3.9 3.9 0 1 0 -7.8 0M1139.9 667.6a3.9 3.9 0 1 0 7.8 0a3.9 3.9 0 1 0 -7.8 0M1184.9 628.8a3.9 3.9 0 1 0 7.8 0a3.9 3.9 0 1 0 -7.8 0M1191.9 619.1a3.9 3.9 0 1 0 7.8 0a3.9 3.9 0 1 0 -7.8 0M1200.2 609a3.9 3.9 0 1 0 7.8 0a3.9 3.9 0 1 0 -7.8 0M1205 599.8a3.9 3.9 0 1 0 7.8 0a3.9 3.9 0 1 0 -7.8 0M1190 643.7a3.9 3.9 0 1 0 7.8 0a3.9 3.9 0 1 0 -7.8 0M1232 600.5a3.9 3.9 0 1 0 7.8 0a3.9 3.9 0 1 0 -7.8 0M1248.8 611.7a3.9 3.9 0 1 0 7.8 0a3.9 3.9 0 1 0 -7.8 0M1209.2 619.8a3.9 3.9 0 1 0 7.8 0a3.9 3.9 0 1 0 -7.8 0M1170.7 639.2a3.9 3.9 0 1 0 7.8 0a3.9 3.9 0 1 0 -7.8 0M1167.8 654.3a3.9 3.9 0 1 0 7.8 0a3.9 3.9 0 1 0 -7.8 0M1200.2 605a3.9 3.9 0 1 0 7.8 0a3.9 3.9 0 1 0 -7.8 0M1194.1 642.8a3.9 3.9 0 1 0 7.8 0a3.9 3.9 0 1 0 -7.8 0M1206.7 606.9a3.9 3.9 0 1 0 7.8 0a3.9 3.9 0 1 0 -7.8 0M1264.6 571.5a3.9 3.9 0 1 0 7.8 0a3.9 3.9 0 1 0 -7.8 0M1197.4 627.8a3.9 3.9 0 1 0 7.8 0a3.9 3.9 0 1 0 -7.8 0M1225.8 610.2a3.9 3.9 0 1 0 7.8 0a3.9 3.9 0 1 0 -7.8 0M1252.4 599.7a3.9 3.9 0 1 0 7.8 0a3.9 3.9 0 1 0 -7.8 0M1263.9 567.9a3.9 3.9 0 1 0 7.8 0a3.9 3.9 0 1 0 -7.8 0M1264.8 578a3.9 3.9 0 1 0 7.8 0a3.9 3.9 0 1 0 -7.8 0M1212 630.1a3.9 3.9 0 1 0 7.8 0a3.9 3.9 0 1 0 -7.8 0M1242.7 601.6a3.9 3.9 0 1 0 7.8 0a3.9 3.9 0 1 0 -7.8 0M1271.1 607.6a3.9 3.9 0 1 0 7.8 0a3.9 3.9 0 1 0 -7.8 0M1161.6 663.7a3.9 3.9 0 1 0 7.8 0a3.9 3.9 0 1 0 -7.8 0M1237.7 605.7a3.9 3.9 0 1 0 7.8 0a3.9 3.9 0 1 0 -7.8 0M1171 661a3.9 3.9 0 1 0 7.8 0a3.9 3.9 0 1 0 -7.8 0M1253.5 598.7a3.9 3.9 0 1 0 7.8 0a3.9 3.9 0 1 0 -7.8 0M1190.6 660.1a3.9 3.9 0 1 0 7.8 0a3.9 3.9 0 1 0 -7.8 0M1165.1 658.9a3.9 3.9 0 1 0 7.8 0a3.9 3.9 0 1 0 -7.8 0M1236 597.2a3.9 3.9 0 1 0 7.8 0a3.9 3.9 0 1 0 -7.8 0M1216.2 604.4a3.9 3.9 0 1 0 7.8 0a3.9 3.9 0 1 0 -7.8 0M1194.9 632.7a3.9 3.9 0 1 0 7.8 0a3.9 3.9 0 1 0 -7.8 0M1137.5 651.2a3.9 3.9 0 1 0 7.8 0a3.9 3.9 0 1 0 -7.8 0M1254 569a3.9 3.9 0 1 0 7.8 0a3.9 3.9 0 1 0 -7.8 0M1215.3 603.5a3.9 3.9 0 1 0 7.8 0a3.9 3.9 0 1 0 -7.8 0M1210 620.2a3.9 3.9 0 1 0 7.8 0a3.9 3.9 0 1 0 -7.8 0M1167.6 641.7a3.9 3.9 0 1 0 7.8 0a3.9 3.9 0 1 0 -7.8 0M1140.5 677.6a3.9 3.9 0 1 0 7.8 0a3.9 3.9 0 1 0 -7.8 0M1158.7 631.5a3.9 3.9 0 1 0 7.8 0a3.9 3.9 0 1 0 -7.8 0M1225.9 622.2a3.9 3.9 0 1 0 7.8 0a3.9 3.9 0 1 0 -7.8 0M1178.4 631.1a3.9 3.9 0 1 0 7.8 0a3.9 3.9 0 1 0 -7.8 0M1223.6 646.6a3.9 3.9 0 1 0 7.8 0a3.9 3.9 0 1 0 -7.8 0M1229.3 572.9a3.9 3.9 0 1 0 7.8 0a3.9 3.9 0 1 0 -7.8 0M1185.1 620.5a3.9 3.9 0 1 0 7.8 0a3.9 3.9 0 1 0 -7.8 0M1190.8 620.3a3.9 3.9 0 1 0 7.8 0a3.9 3.9 0 1 0 -7.8 0M1197.1 544a3.9 3.9 0 1 0 7.8 0a3.9 3.9 0 1 0 -7.8 0M1251.1 539a3.9 3.9 0 1 0 7.8 0a3.9 3.9 0 1 0 -7.8 0M1281.1 543a3.9 3.9 0 1 0 7.8 0a3.9 3.9 0 1 0 -7.8 0M1288.1 580a3.9 3.9 0 1 0 7.8 0a3.9 3.9 0 1 0 -7.8 0M1283.1 598a3.9 3.9 0 1 0 7.8 0a3.9 3.9 0 1 0 -7.8 0M1230.1 568a3.9 3.9 0 1 0 7.8 0a3.9 3.9 0 1 0 -7.8 0" fill="none" stroke="#4682b4" stroke-width="1.1"/><path d="M1135.2 669.5Q1213.8 618.1 1293 567.6M1136.4 669Q1215.2 619.6 1292.8 568.8" fill="none" stroke="#b22222" stroke-width="3.0" stroke-linecap="round"/><rect x="1345" y="514.5" width="309" height="230.9" fill="#fbf8f1"/><path d="M1390.8 708.8h6" stroke="#111" stroke-width="1.3"/><text x="1385.8" y="713.3" text-anchor="end" font-size="15" fill="#111" stroke="#111" stroke-width="0.1"  textLength="7.3" lengthAdjust="spacingAndGlyphs">0</text><path d="M1390.8 675.2h6" stroke="#111" stroke-width="1.3"/><text x="1385.8" y="679.7" text-anchor="end" font-size="15" fill="#111" stroke="#111" stroke-width="0.1"  textLength="7.3" lengthAdjust="spacingAndGlyphs">2</text><path d="M1390.8 641.6h6" stroke="#111" stroke-width="1.3"/><text x="1385.8" y="646.1" text-anchor="end" font-size="15" fill="#111" stroke="#111" stroke-width="0.1"  textLength="7.3" lengthAdjust="spacingAndGlyphs">4</text><path d="M1390.8 608h6" stroke="#111" stroke-width="1.3"/><text x="1385.8" y="612.5" text-anchor="end" font-size="15" fill="#111" stroke="#111" stroke-width="0.1"  textLength="7.3" lengthAdjust="spacingAndGlyphs">6</text><path d="M1390.8 574.4h6" stroke="#111" stroke-width="1.3"/><text x="1385.8" y="578.9" text-anchor="end" font-size="15" fill="#111" stroke="#111" stroke-width="0.1"  textLength="7.3" lengthAdjust="spacingAndGlyphs">8</text><path d="M1390.8 540.8h6" stroke="#111" stroke-width="1.3"/><text x="1385.8" y="545.3" text-anchor="end" font-size="15" fill="#111" stroke="#111" stroke-width="0.1"  textLength="14.7" lengthAdjust="spacingAndGlyphs">10</text><path d="M1396.8 709v6" stroke="#111" stroke-width="1.3"/><text x="1396.8" y="731" text-anchor="middle" font-size="15" fill="#111" stroke="#111" stroke-width="0.1"  textLength="7.3" lengthAdjust="spacingAndGlyphs">0</text><path d="M1512.6 709v6" stroke="#111" stroke-width="1.3"/><text x="1512.6" y="731" text-anchor="middle" font-size="15" fill="#111" stroke="#111" stroke-width="0.1"  textLength="7.3" lengthAdjust="spacingAndGlyphs">5</text><path d="M1628.5 709v6" stroke="#111" stroke-width="1.3"/><text x="1628.5" y="731" text-anchor="middle" font-size="15" fill="#111" stroke="#111" stroke-width="0.1"  textLength="14.7" lengthAdjust="spacingAndGlyphs">10</text><path d="M1393.6 706.7Q1510.9 626.9 1626.3 542.4M1399.2 708.7Q1513.6 627.1 1627.2 540.9" fill="none" stroke="#4269d0" stroke-width="2.0" stroke-linecap="round"/><path d="M1400.1 539.3Q1516.7 623.1 1626.5 706.5M1399.5 537.8Q1515.5 623.8 1631.6 711.5" fill="none" stroke="#efb118" stroke-width="2.0" stroke-linecap="round"/><path d="M1510.2 573.2Q1512 627.1 1515.5 676.8M1512.3 575.4Q1516.3 625.7 1515.4 677.3" fill="none" stroke="#6cc5b0" stroke-width="2.0" stroke-linecap="round"/><path d="M1444.4 626.8Q1515.3 629.3 1585.3 626.4M1445 623.2Q1517.9 624.6 1585 621.7" fill="none" stroke="#ff725c" stroke-width="2.0" stroke-linecap="round"/><path d="M1385.9 697L1408.2 698.3L1408 719L1385.3 719.7ZM1388.5 699.7L1405.7 699.1L1406.9 717.2L1385.2 717.9Z" fill="none" stroke="#b22222" stroke-width="2.5" stroke-linejoin="round" stroke-linecap="round"/><path d="M1618.4 529.3L1639.9 531.9L1639.4 551.4L1617.9 550.7ZM1617 532.6L1638 529.9L1639.8 549.5L1619.9 549.4Z" fill="none" stroke="#b22222" stroke-width="2.5" stroke-linejoin="round" stroke-linecap="round"/><path d="M1388.3 531.1L1408.2 530L1407.5 549.8L1388.2 549.5ZM1386.5 529.9L1405.8 532.6L1408.3 552L1386.8 551.2Z" fill="none" stroke="#b22222" stroke-width="2.5" stroke-linejoin="round" stroke-linecap="round"/><path d="M1619.2 700.5L1637.3 699.4L1637.9 720.3L1618.1 718.1ZM1619.4 698.5L1637.9 697.3L1638.7 719.8L1619.9 720.1Z" fill="none" stroke="#b22222" stroke-width="2.5" stroke-linejoin="round" stroke-linecap="round"/><path d="M1503.8 565.5L1522.4 567.1L1519.9 581.9L1502.6 582.3ZM1502.5 566.2L1522.6 566.9L1520.7 585.2L1501.9 583.1Z" fill="none" stroke="#b22222" stroke-width="2.5" stroke-linejoin="round" stroke-linecap="round"/><path d="M1504 666.1L1522.4 665.5L1521.4 682.7L1502.9 685.1ZM1504.8 667L1519.9 665.9L1522.5 684.3L1504.1 685.5Z" fill="none" stroke="#b22222" stroke-width="2.5" stroke-linejoin="round" stroke-linecap="round"/><path d="M1434.3 615L1451.6 615.5L1453.3 632.1L1432.9 633.4ZM1435 615.3L1452.8 616.6L1452.5 635.6L1435.3 633.3Z" fill="none" stroke="#b22222" stroke-width="2.5" stroke-linejoin="round" stroke-linecap="round"/><path d="M1573.5 615.2L1589.8 616.9L1589.4 633.8L1574.1 633.3ZM1571.7 616.2L1590.8 617.3L1590.2 634.5L1574.1 635.4Z" fill="none" stroke="#b22222" stroke-width="2.5" stroke-linejoin="round" stroke-linecap="round"/><rect x="1680" y="514.5" width="308.5" height="231.2" fill="#fbf8f1"/><path d="M1733.3 705.2L1747.3 705.7L1746.7 708.1L1734 707.6ZM1734.4 705.5L1746.7 704.9L1747 706.7L1733.2 707.2Z" fill="none" stroke="#b22222" stroke-width="2.6" stroke-linejoin="round" stroke-linecap="round"/><path d="M1750.8 706.1L1763.7 705L1764.4 708.2L1750 708.7ZM1750.9 705.5L1763.2 706.7L1765.4 708.4L1750.1 706.4Z" fill="none" stroke="#b22222" stroke-width="2.6" stroke-linejoin="round" stroke-linecap="round"/><g clip-path="url(#c86)"><path d="M1756.8 681.1L1790.5 681.9M1757 684.1L1789.7 684.3M1755.8 686.9L1791.1 687.4M1756.5 689.7L1789.4 690.9M1757.5 694.2L1791.1 694.5M1756.3 697.2L1790.9 697.4M1755.5 700.5L1790.8 700.8M1756.9 703.4L1790.4 704.4M1757.1 705.9L1789.8 706.9M1755.4 710.7L1789.8 709.7M1755.8 713.8L1790.5 713.9" fill="none" stroke="#4a6ae8" stroke-width="2.2"/></g><path d="M1766 686.6L1779.7 685.7L1781.4 706.2L1764.7 708.6ZM1767.3 686.1L1780.9 686.5L1779.9 706.8L1765.3 707.5Z" fill="none" stroke="#b22222" stroke-width="2.6" stroke-linejoin="round" stroke-linecap="round"/><g clip-path="url(#c87)"><path d="M1769.7 673.5L1812.9 673.7M1768.3 676.2L1812.9 675.8M1767.6 679.4L1812.4 679M1769.2 682.3L1810.7 682.9M1769.5 685.4L1810.5 687.6M1767.2 687.2L1811.2 688.1M1769.3 690.2L1811.2 693.7M1767.1 695.4L1810.8 696.7M1767.3 699L1811.2 700.3M1768.6 702L1811.8 702.5M1768.4 704.4L1811 706.4M1766.5 709.1L1811.1 710.4M1768.7 712L1811.2 713.1" fill="none" stroke="#2f9df5" stroke-width="2.2"/></g><path d="M1782.8 675.3L1797.4 674.8L1797.1 706.6L1781.8 708.8ZM1783.6 675.8L1798.1 676.2L1797 708L1782.7 706.1Z" fill="none" stroke="#b22222" stroke-width="2.6" stroke-linejoin="round" stroke-linecap="round"/><g clip-path="url(#c88)"><path d="M1765 626.3L1850.3 630.1M1764.2 629.6L1850.5 633M1765.3 631.8L1850.3 636.1M1765.7 635.3L1848.8 639.2M1765.3 638.5L1848.3 642.1M1764.7 641.8L1849.6 644.9M1765.3 645.4L1849 649.6M1764 650.6L1848.3 651.7M1763.9 653.2L1849.4 654.5M1764.3 655L1847.9 659.4M1765.1 657.7L1848.4 661.5M1763 661.7L1849.9 662.9M1764.8 665.4L1849.6 668.3M1762.7 668.1L1849.1 671M1764 672.3L1848.6 673.8M1762.7 673.7L1847.9 676.7M1762.6 678.1L1848.8 679.8M1763.7 680L1848.4 683.6M1763.5 684.1L1848.2 686.7M1763.6 686.9L1847.3 690.6M1762.5 691.1L1847.7 692M1762.4 692.7L1847.4 696.3M1763.9 696.5L1847.5 699.1M1763 700L1847.5 701.5M1763.9 702.5L1847.8 706.1M1762.2 705.6L1847 708.6M1762.2 709.7L1847.6 710.8" fill="none" stroke="#27c8d0" stroke-width="2.2"/></g><path d="M1798.1 633.5L1812.9 633.2L1812.3 707.5L1800 707ZM1798.6 632.2L1812 631.2L1813.5 708L1799 707Z" fill="none" stroke="#b22222" stroke-width="2.6" stroke-linejoin="round" stroke-linecap="round"/><g clip-path="url(#c89)"><path d="M1757.3 576.1L1892.3 581.7M1755.6 578.5L1893.1 583.2M1755.7 583L1892.7 587.3M1755.1 585.6L1893.8 590.2M1756.2 588.4L1892.6 591.6M1755.3 591.3L1893.4 596.5M1755.9 595.7L1892.7 598.6M1756.8 598.5L1892.2 602.4M1754.6 602L1892.5 606.5M1755.3 604.6L1892.7 608.8M1756.1 608.2L1890.9 612.3M1756.1 609.9L1891.2 615.6M1754.6 614.8L1891 619.6M1755.6 616L1891.8 622.8M1755.2 620.3L1892.3 625.9M1755.8 622.2L1891.2 629M1755.7 626.7L1891.4 630.1M1754.6 629.2L1891 634.5M1754.9 634L1890.8 638.8M1754.5 636.1L1890.2 641.7M1753.3 639L1891.5 644.4M1754.9 642.1L1889.7 647.9M1755.3 645.5L1890 648.9M1755.2 648L1891.6 653M1753.2 650.5L1889.6 655.2M1753.3 654.1L1891.5 660.5M1754.5 657.4L1889.7 663M1754 660.9L1890.7 665.2M1754.2 664.7L1890.3 670M1753.2 668.6L1891.1 672.1M1753 671.3L1890.2 676.4M1754.1 675.2L1890.8 680M1752.4 677.3L1889.9 682.4M1753.2 680L1889.2 685.6M1753.6 682.6L1888.6 689.1M1752.3 687L1889.7 690.6M1752.6 689.6L1890.4 695.7M1753.6 692.6L1890.2 697.9M1751.5 696.7L1888 700.6M1752.7 700.3L1888.7 705M1752.1 702L1889.5 706.9M1751.7 706.4L1887.5 710.3" fill="none" stroke="#3ee09a" stroke-width="2.2"/></g><path d="M1815.4 578.3L1830.6 578.3L1831 708.1L1815.3 708.6ZM1814.2 580.1L1830 580.9L1829.7 707L1814.9 708.2Z" fill="none" stroke="#b22222" stroke-width="2.6" stroke-linejoin="round" stroke-linecap="round"/><g clip-path="url(#c90)"><path d="M1762.1 550.7L1922.3 553.9M1761.3 553.6L1921.7 558.5M1762 555.7L1921.2 561.8M1761.1 559.4L1921.9 564.6M1760 563.9L1920.8 567.8M1761.1 566.6L1921.8 572.8M1761.3 569.7L1921.6 574.6M1759.9 574.6L1920.8 578.2M1759.4 575.9L1921.3 582.2M1761.1 579.1L1921.4 585.7M1759.6 583.5L1921.1 587.4M1761 586.2L1920.2 591.7M1760.1 590.1L1921.7 595.2M1759.5 592.3L1920 597.9M1761 595.9L1919.9 600.8M1760.6 598.4L1921.2 604.6M1760 602.8L1919.6 608.1M1760.5 603.9L1920.6 610.6M1760 608.8L1920.6 614.7M1759.5 612.1L1919.5 616.1M1759.2 614.8L1920.8 620.5M1759.8 618.7L1919.2 622.9M1758.4 622.1L1920.3 626.5M1757.7 624.7L1920.1 630M1758.5 629L1918.5 633.1M1758.3 632.3L1919.1 637.3M1758.5 634.5L1919.8 640M1758.2 638.5L1919 642.9M1757.4 640.9L1920 646.8M1758.2 645.1L1917.8 651.5M1757.2 647.3L1919.1 653.7M1757.9 651.5L1918.1 657.2M1757 655.1L1917.6 660.5M1757.1 658.9L1918.6 664.7M1757.3 663.1L1918.3 667.6M1758.4 664.9L1918 670.9M1757 669.7L1917.7 674.7M1756.3 672.8L1918.3 678.1M1756.5 675.4L1918.4 682.8M1757.6 679.3L1917.1 685.9M1757.9 681.4L1917.7 688.1M1755.7 685.8L1918 690M1755.5 689.2L1917.7 694M1755.4 691.2L1917.6 697.3M1755.5 696.2L1918.1 700.6M1756.3 698L1917 703.7M1755.1 702.2L1917.4 706.5M1755.6 705.5L1917.9 711.8M1756.7 707.7L1916.5 714.2" fill="none" stroke="#7af070" stroke-width="2.2"/></g><path d="M1832.6 555.8L1845.1 555.8L1846.4 706.4L1832.7 707.1ZM1831.1 554.3L1846.1 556.1L1846.2 706.3L1830.6 706.2Z" fill="none" stroke="#b22222" stroke-width="2.6" stroke-linejoin="round" stroke-linecap="round"/><g clip-path="url(#c91)"><path d="M1771.5 533.3L1946.5 538.9M1771.1 536.6L1945.2 542.4M1771 540.2L1946.2 546.3M1770.9 543.7L1947 550.1M1769.5 545.1L1947 552.5M1769.1 549.1L1945.4 554.8M1769.3 552.7L1945.4 557.6M1769.7 555.3L1944.7 561.5M1769 558.9L1946.1 564.9M1769.8 563.1L1944.7 569.2M1769.9 565.7L1945.6 570.9M1769.8 567.7L1944.9 575M1769.8 571.6L1946 577.1M1770.4 575.2L1944.6 580.5M1768.7 577.5L1944.1 582.8M1769 579.7L1945.2 586M1769.6 584L1943.9 589M1769.1 587.3L1944.9 592.5M1768.9 589.8L1944.2 595.5M1767.5 593.5L1945.3 598.5M1769.3 594.8L1943.9 602.5M1768 600L1944.6 603.9M1768.2 602.3L1944.4 609M1768 604L1944 610.8M1768.4 608.6L1942.7 614M1766.9 612.7L1943.7 616.5M1769 614.8L1944.8 621.4M1767.2 618.6L1944.6 622.9M1768.4 620.9L1944.3 626.6M1767.7 624.7L1943.1 631.3M1768.4 626.9L1942.6 633.2M1768.2 630.9L1942 635.9M1767.4 634.5L1944.1 639.4M1767.3 638.6L1943.7 643.5M1766.2 641.4L1942.2 646.4M1766.6 642.7L1943.4 650.8M1766.3 646.8L1941.8 653.7M1766.3 648.9L1943.1 655.3M1766.9 653.4L1941.7 660.5M1767.1 655.9L1942.1 661.7M1767.1 660.4L1942.5 666.8M1767.1 663.4L1941.3 668.4M1765.4 666.8L1941.3 671.2M1765.9 669.3L1941 674.8M1766.2 671.4L1941.2 677.5M1764.6 674.5L1940.7 680.1M1766.6 679.4L1942.3 683.4M1766.2 681.1L1942.2 686.6M1766.5 684.5L1942.3 690.2M1764.2 688.2L1940.8 694.5M1766.3 692.2L1939.8 699.2M1764.1 694.7L1940.5 700.6M1764.4 698.5L1940 704.3M1764.9 701L1939.7 708M1763.7 704.2L1940.5 711M1765.3 707.4L1940.4 712.7" fill="none" stroke="#b6f05a" stroke-width="2.2"/></g><path d="M1848.5 539L1862.8 540.4L1862.8 707.2L1848.1 706.4ZM1849 539.3L1863.2 539.1L1863.1 708.8L1847.8 707.6Z" fill="none" stroke="#b22222" stroke-width="2.6" stroke-linejoin="round" stroke-linecap="round"/><g clip-path="url(#c92)"><path d="M1805.2 570.3L1944.1 574.4M1805.4 573.6L1944 579.2M1804.3 577.3L1944.4 582.8M1803.5 580.1L1944.3 584.5M1803.2 583.4L1944.7 587.6M1803.7 585.9L1943.6 592.1M1804.4 589.1L1943.1 593.2M1803.7 592.2L1944.5 596.9M1803.9 595.4L1944.5 601.8M1802.5 600.1L1944.1 605.1M1802.4 601.2L1943.3 606.7M1803.9 604.5L1943.3 610.2M1802.5 609.3L1942 613.7M1802.7 612.2L1942.7 616M1802.8 614.5L1943.1 619.7M1803.9 617.7L1943.7 623.7M1802.6 621.3L1943.6 625.8M1801.3 625L1942.6 628.9M1803.5 627.3L1942.7 631M1802.1 630.6L1942.1 635.4M1803.3 633.4L1942.1 637.7M1802.6 637.1L1942.8 642.1M1802.4 638.5L1941.4 645.5M1802.5 642.6L1943 647.2M1800.7 646.9L1941.6 651M1802.4 649.6L1941.9 653.4M1802.4 652.4L1942.6 658.2M1801.6 655.2L1942.2 661.7M1800.8 659.7L1942.2 664.3M1801.9 660.9L1940.7 667.9M1801.3 664.3L1940.8 669.2M1800.7 667.4L1939.8 672.5M1801.2 671L1942 675.9M1800.7 675.7L1940.4 680M1800.2 678.6L1941.8 681.4M1800.2 681.4L1940.1 686.9M1801.1 683.3L1940.5 689.1M1799.2 688L1941.4 692.3M1799.7 691.1L1939.4 694.2M1801 693.4L1940.1 696.9M1800.5 694.7L1939.5 701.5M1799.5 698.2L1941.1 704.3M1800.2 701L1938.8 705.6M1798.7 704.1L1939.8 709.7M1798.4 706.2L1940 713.1" fill="none" stroke="#e8e040" stroke-width="2.2"/></g><path d="M1865.8 576.4L1877.8 577.2L1879.9 707.6L1864.1 708.2ZM1863.6 577.4L1879.6 576.1L1878.1 707.9L1864.6 706.2Z" fill="none" stroke="#b22222" stroke-width="2.6" stroke-linejoin="round" stroke-linecap="round"/><g clip-path="url(#c93)"><path d="M1848 629.7L1931.3 633.2M1849.6 635.1L1930.8 635.9M1849.4 636.6L1931.1 639.7M1847.2 640.5L1930 642.3M1847.4 644.3L1930.3 647.3M1847.7 646.3L1930.2 648.8M1848.2 651.4L1930 653.7M1848.8 654.3L1929.1 657.8M1847.3 656.8L1930.2 660.4M1848.8 659.7L1929 661.8M1846.8 662.7L1929.1 665.4M1848 666.6L1929.4 669.2M1846.3 670.2L1930.1 672.5M1846.7 672.8L1929.6 675.8M1846.3 674.6L1930.2 679M1846.4 678.6L1930.3 682.3M1846.7 681.7L1928.4 686.4M1846.3 684.5L1927.9 688.9M1846.7 687.7L1927.7 690.9M1847.7 691.3L1928.8 694.3M1847.2 695.2L1929.2 697.9M1845.5 697.8L1929.6 701.3M1846.7 701.2L1928.7 704.5M1846.4 704L1927.5 707.4M1846.1 708.8L1928.7 711" fill="none" stroke="#f8b038" stroke-width="2.2"/></g><path d="M1880.5 634.1L1894.7 635.2L1895.3 707.8L1881.5 708.2ZM1880.4 633.9L1895.3 633.8L1896.8 708.8L1880.8 707.2Z" fill="none" stroke="#b22222" stroke-width="2.6" stroke-linejoin="round" stroke-linecap="round"/><g clip-path="url(#c94)"><path d="M1880.4 660.2L1931.8 662M1878.7 661.7L1931.2 665.3M1878.5 667.4L1932.2 668.8M1880.5 668.5L1930.5 670.5M1879.9 672.2L1931.6 674.2M1878.5 676.6L1930.3 677.8M1878.8 679.5L1930.4 682.6M1878 683.9L1932.2 685.1M1877.9 685.5L1930.9 687.5M1879.2 688.7L1929.8 692M1879.6 692.1L1931.5 694.3M1877.8 697.3L1931.7 697.9M1877.4 700.2L1931.4 702.1M1878.8 704.1L1931.5 705.6M1879.1 706.2L1930 707.8M1878.4 710.2L1930.3 710.4" fill="none" stroke="#f78030" stroke-width="2.2"/></g><path d="M1898.5 665.6L1911.5 666.1L1911.9 707.5L1896.8 708.4ZM1897.5 666.7L1912.5 667L1912.5 707.9L1897.4 708.6Z" fill="none" stroke="#b22222" stroke-width="2.6" stroke-linejoin="round" stroke-linecap="round"/><g clip-path="url(#c95)"><path d="M1906.9 688.3L1934.4 688.3M1907.4 690.5L1936.3 692.7M1906.5 694L1936.2 696.4M1908.5 698.6L1935.9 697.4M1906.8 700.9L1935.4 701.3M1907.8 704.2L1934.6 705.7M1907.6 706.5L1935.6 708.4M1907.7 711L1934.5 712.8M1908.2 712.5L1935.1 714.6" fill="none" stroke="#e8502a" stroke-width="2.2"/></g><path d="M1913.1 693.5L1928.6 693.2L1928.2 707.4L1912.8 706.6ZM1913.5 695.5L1929.7 694.2L1929.7 708.6L1912.9 708.2Z" fill="none" stroke="#b22222" stroke-width="2.6" stroke-linejoin="round" stroke-linecap="round"/><g clip-path="url(#c96)"><path d="M1926.7 692.3L1949.2 694.1M1925.1 695L1950.9 696.4M1927.3 699.4L1950.9 699.4M1925.1 702.3L1950.4 702.5M1925.7 705.2L1949.6 707.6M1927 710.5L1949.6 709.8M1925.6 711.6L1948.9 714.5" fill="none" stroke="#d03020" stroke-width="2.2"/></g><path d="M1930 700.4L1945.6 702.2L1944.9 708.6L1929.7 707.1ZM1931.9 701.8L1943.9 703L1945.7 708.6L1929.9 706.5Z" fill="none" stroke="#b22222" stroke-width="2.6" stroke-linejoin="round" stroke-linecap="round"/><path d="M1946.9 704.1L1962.6 704.1L1962.3 707.6L1945.9 707.8ZM1947.3 705.5L1962.6 703.7L1961.8 708.7L1946.2 706.4Z" fill="none" stroke="#b22222" stroke-width="2.6" stroke-linejoin="round" stroke-linecap="round"/><path d="M1728.7 709.3Q1844.6 709.5 1961.7 709.4M1730.3 707.8Q1847.3 706.7 1963 709" fill="none" stroke="#b22222" stroke-width="2.4" stroke-linecap="round"/><path d="M1721 707.5h6" stroke="#111" stroke-width="1.3"/><text x="1716" y="712" text-anchor="end" font-size="15" fill="#111" stroke="#111" stroke-width="0.1"  textLength="7.3" lengthAdjust="spacingAndGlyphs">0</text><path d="M1721 665.7h6" stroke="#111" stroke-width="1.3"/><text x="1716" y="670.2" text-anchor="end" font-size="15" fill="#111" stroke="#111" stroke-width="0.1"  textLength="14.7" lengthAdjust="spacingAndGlyphs">50</text><path d="M1721 623.9h6" stroke="#111" stroke-width="1.3"/><text x="1716" y="628.4" text-anchor="end" font-size="15" fill="#111" stroke="#111" stroke-width="0.1"  textLength="22" lengthAdjust="spacingAndGlyphs">100</text><path d="M1721 582.1h6" stroke="#111" stroke-width="1.3"/><text x="1716" y="586.6" text-anchor="end" font-size="15" fill="#111" stroke="#111" stroke-width="0.1"  textLength="22" lengthAdjust="spacingAndGlyphs">150</text><path d="M1721 540.3h6" stroke="#111" stroke-width="1.3"/><text x="1716" y="544.8" text-anchor="end" font-size="15" fill="#111" stroke="#111" stroke-width="0.1"  textLength="22" lengthAdjust="spacingAndGlyphs">200</text><path d="M1781.5 709v6" stroke="#111" stroke-width="1.3"/><text x="1781.5" y="731" text-anchor="middle" font-size="15" fill="#111" stroke="#111" stroke-width="0.1"  textLength="15.1" lengthAdjust="spacingAndGlyphs">−2</text><path d="M1847.3 709v6" stroke="#111" stroke-width="1.3"/><text x="1847.3" y="731" text-anchor="middle" font-size="15" fill="#111" stroke="#111" stroke-width="0.1"  textLength="7.3" lengthAdjust="spacingAndGlyphs">0</text><path d="M1913.1 709v6" stroke="#111" stroke-width="1.3"/><text x="1913.1" y="731" text-anchor="middle" font-size="15" fill="#111" stroke="#111" stroke-width="0.1"  textLength="7.3" lengthAdjust="spacingAndGlyphs">2</text><path d="M1685.8 519.2L1690 515L1694.2 519.2Z" fill="#111"/><path d="M1690 518V530.5" stroke="#111" stroke-width="2.2"/><text x="1707" y="531" text-anchor="start" font-size="16.5" fill="#111" stroke="#111" stroke-width="0.1"  textLength="50.7" lengthAdjust="spacingAndGlyphs">length</text><rect x="8" y="770.5" width="309" height="232.2" fill="#fbf8f1"/><path d="M59.8 962.4Q59.7 963.8 60.3 964.3M59.4 962.5Q59.4 963.2 59.7 963.6" fill="none" stroke="#b22222" stroke-width="2.4" stroke-linecap="round"/><path d="M76.1 958.4Q76.1 960.8 76.5 964M75.7 958.3Q76.6 960.6 76.4 964" fill="none" stroke="#b22222" stroke-width="2.4" stroke-linecap="round"/><path d="M93.2 957.7Q93 960.4 93.7 964M93.2 957.6Q94.1 961.3 94.3 964.8" fill="none" stroke="#b22222" stroke-width="2.4" stroke-linecap="round"/><path d="M109.7 946.8Q109.3 955.3 110 964.2M109.3 947.2Q109.9 955.6 110.5 964.1" fill="none" stroke="#b22222" stroke-width="2.4" stroke-linecap="round"/><path d="M125.7 931.1Q126.5 946.6 125.4 961.8M127 928.5Q125.4 943.6 127.7 963.3" fill="none" stroke="#b22222" stroke-width="2.4" stroke-linecap="round"/><path d="M145.4 910.9Q146.2 935.9 145.9 965.5M144.6 910.2Q143.9 934.6 144.2 961.7" fill="none" stroke="#b22222" stroke-width="2.4" stroke-linecap="round"/><path d="M157.1 849.5Q159.3 903.6 161.1 961.9M158.2 851Q161.2 909.6 159.8 963.3" fill="none" stroke="#b22222" stroke-width="2.4" stroke-linecap="round"/><path d="M173.1 795.9Q174.1 879.5 171.6 965.7M173.7 797.2Q173.9 881.5 173.6 966" fill="none" stroke="#b22222" stroke-width="2.4" stroke-linecap="round"/><path d="M191.1 806.4Q191.1 886.2 191.1 964M190.3 808.3Q190.7 886.9 189.8 964.3" fill="none" stroke="#b22222" stroke-width="2.4" stroke-linecap="round"/><path d="M207.7 849.5Q210.5 903.4 208 962.4M207.3 847.6Q205.1 904.9 207.4 966.7" fill="none" stroke="#b22222" stroke-width="2.4" stroke-linecap="round"/><path d="M225.3 903.1Q224.7 934.3 224.7 965.7M227.8 901.6Q225.2 931.9 226.2 963.9" fill="none" stroke="#b22222" stroke-width="2.4" stroke-linecap="round"/><path d="M242.1 919.7Q244.2 940.3 243.1 965.9M242.4 917.3Q241.4 939.1 240.9 963.8" fill="none" stroke="#b22222" stroke-width="2.4" stroke-linecap="round"/><path d="M258.8 952Q258.6 958.6 258.1 964.7M258.8 951.7Q258.4 957.5 258 963.7" fill="none" stroke="#b22222" stroke-width="2.4" stroke-linecap="round"/><path d="M275.1 963.9Q276.3 964 277.3 963.7M275.3 963.8Q276.2 964.5 277.1 964.4" fill="none" stroke="#b22222" stroke-width="2.4" stroke-linecap="round"/><path d="M291.1 963Q290.8 963.2 290.7 963.8M290.9 963.1Q290.7 964.1 291.2 964.3" fill="none" stroke="#b22222" stroke-width="2.4" stroke-linecap="round"/><path d="M61 962.3Q177.5 964.6 292 967.2M61.8 963.5Q176.7 965.9 294 968.1" fill="none" stroke="#4682b4" stroke-width="2.8" stroke-linecap="round"/><path d="M53 964.2h6" stroke="#111" stroke-width="1.3"/><text x="48" y="968.7" text-anchor="end" font-size="15" fill="#111" stroke="#111" stroke-width="0.1"  textLength="7.3" lengthAdjust="spacingAndGlyphs">0</text><path d="M53 925h6" stroke="#111" stroke-width="1.3"/><text x="48" y="929.5" text-anchor="end" font-size="15" fill="#111" stroke="#111" stroke-width="0.1"  textLength="14.7" lengthAdjust="spacingAndGlyphs">50</text><path d="M53 885.7h6" stroke="#111" stroke-width="1.3"/><text x="48" y="890.2" text-anchor="end" font-size="15" fill="#111" stroke="#111" stroke-width="0.1"  textLength="22" lengthAdjust="spacingAndGlyphs">100</text><path d="M53 846.5h6" stroke="#111" stroke-width="1.3"/><text x="48" y="851" text-anchor="end" font-size="15" fill="#111" stroke="#111" stroke-width="0.1"  textLength="22" lengthAdjust="spacingAndGlyphs">150</text><path d="M53 807.2h6" stroke="#111" stroke-width="1.3"/><text x="48" y="811.7" text-anchor="end" font-size="15" fill="#111" stroke="#111" stroke-width="0.1"  textLength="22" lengthAdjust="spacingAndGlyphs">200</text><path d="M118.3 965v6" stroke="#111" stroke-width="1.3"/><text x="118.3" y="987" text-anchor="middle" font-size="15" fill="#111" stroke="#111" stroke-width="0.1"  textLength="15.1" lengthAdjust="spacingAndGlyphs">−2</text><path d="M184.3 965v6" stroke="#111" stroke-width="1.3"/><text x="184.3" y="987" text-anchor="middle" font-size="15" fill="#111" stroke="#111" stroke-width="0.1"  textLength="7.3" lengthAdjust="spacingAndGlyphs">0</text><path d="M250.3 965v6" stroke="#111" stroke-width="1.3"/><text x="250.3" y="987" text-anchor="middle" font-size="15" fill="#111" stroke="#111" stroke-width="0.1"  textLength="7.3" lengthAdjust="spacingAndGlyphs">2</text><path d="M14.8 777.6L19 773.4L23.2 777.6Z" fill="#111"/><path d="M19 776.4V788.9" stroke="#111" stroke-width="2.2"/><text x="36" y="789.4" text-anchor="start" font-size="16.5" fill="#111" stroke="#111" stroke-width="0.1"  textLength="49.8" lengthAdjust="spacingAndGlyphs">length</text><rect x="343.4" y="770.9" width="308.9" height="231.8" fill="#fbf8f1"/><path d="M440.3 833.2C439.6 869.2 441.8 906.6 440.2 942.6M439.6 835C437.4 871 439 904.4 438.8 940.4M445.3 834.6C446.3 870.6 443.2 903.1 445.4 939.1M436.3 834.6C437.3 870.6 433.7 908.4 434.9 944.4M441 831.5C437.9 867.5 442.2 907.9 439.6 943.9M438.2 834.4C438.7 870.4 439.7 903.3 438.4 939.3M444.8 831.9C446.9 867.9 445.7 907.6 446.5 943.6M445.7 831.7C446.2 867.7 443.6 906.3 446.3 942.3M442.9 831.5C442.9 867.5 441.1 907.7 441.1 943.7M436.3 833.3C436.6 869.3 436.3 906.1 437.6 942.1M443.7 832C444 868 444.5 908.2 443.4 944.2M439.5 831.2C442.7 867.2 441.7 907.5 438.7 943.5M433.1 833.2C436.7 869.2 431.7 904 434.4 940M471.9 835.8C472.1 871.8 471.9 907.5 473.7 943.5M466.6 832.8C464 868.8 464.4 904.8 467.8 940.8M466.4 835.2C464.1 871.2 467.1 908.8 465.5 944.8M468.8 832.8C471.5 868.8 467.1 905.5 468.2 941.5M467.1 832.7C467.7 868.7 468.7 906.3 467.7 942.3M455.3 835C453.2 871 452.3 907.1 454.1 943.1M460.4 831.4C463.3 867.4 458.7 906.6 459.9 942.6M465.5 835.4C463.5 871.4 467.7 908.3 464.3 944.3M472.6 835C469.7 871 474.6 904.8 470.9 940.8M470.1 835.8C472.1 871.8 469.7 906.9 469.5 942.9M461.8 835.7C458.8 871.7 460.1 903 462.3 939M469.6 835C469.7 871 466.8 907.4 468.1 943.4M473.2 835.9C476.2 871.9 473.5 903.2 473.3 939.2M462 832.2C460.4 868.2 461 907.3 463.1 943.3M454.8 831.1C455.7 867.1 455.1 905.5 455.3 941.5M474 833.8C474.6 869.8 473.3 905 472.6 941M466.2 834.5C469.4 870.5 467.2 903.9 468.3 939.9M468.9 831.7C469.1 867.7 471.4 904 470.1 940M464.8 831.5C461.8 867.5 462.7 903.4 465.1 939.4M469.3 832.8C470.5 868.8 472.8 907.6 470 943.6M463.9 835.6C465.3 871.6 465.1 906.1 462.4 942.1M525.7 835.3C526.5 871.3 525.8 906.3 525.5 942.3M492.4 831.9C492.2 867.9 492.3 908.1 492.5 944.1M500 832.9C498.8 868.9 498.1 902.8 499.7 938.8M486.5 833.3C486.8 869.3 484.1 908.6 485.9 944.6M480 833.8C479 869.8 481.9 905.1 481.5 941.1M521.4 833.2C522.7 869.2 523.3 908.6 519.2 944.6M476.5 833.6C477 869.6 479.3 906.4 475 942.4M514.5 833.9C516.4 869.9 512.3 907.6 514.4 943.6M512.6 835.2C514.4 871.2 514.1 904.4 512.7 940.4M513.1 834.2C510.1 870.2 511 904.6 514.1 940.6M500.8 835.3C500.2 871.3 498 902.9 498.7 938.9M517.4 835.2C518.3 871.2 517.3 907.4 517.3 943.4M495 834.5C495.9 870.5 497.4 903.2 494.8 939.2M494 835.8C497.1 871.8 495.9 903.7 493.9 939.7M486.1 831.7C485.3 867.7 487.9 902.9 485 938.9M500.5 831.8C502.6 867.8 498.3 907.1 502.7 943.1M499.5 835.3C498.8 871.3 500.3 905.2 499.9 941.2M533.1 835.2C533.1 871.2 535 904.2 533.1 940.2M531.1 835.2C533.6 871.2 531.6 908.6 532.1 944.6M531.8 833.2C531 869.2 534.2 906.3 530.7 942.3M505.4 835.4C504.8 871.4 506 905.2 506 941.2M487.6 835C487.2 871 486.4 903.6 488.3 939.6M495.3 832.5C496.7 868.5 496.9 907.7 495.6 943.7M497.9 832C500.5 868 496.1 904.8 497.9 940.8M477.3 832.7C481.2 868.7 476.6 903.9 478.2 939.9M494.2 835.7C495.9 871.7 495.4 907.7 495.7 943.7M521.3 831.4C520.6 867.4 523.3 905.9 522.8 941.9M476.7 833.3C477.6 869.3 477.6 907.6 475.5 943.6M500.9 834.8C498.6 870.8 502.6 906.4 499 942.4M508.1 835.4C508.3 871.4 506.4 908.1 509.3 944.1M518.2 834.4C517.6 870.4 519 905.1 517.3 941.1M478.9 833.9C476.4 869.9 477.1 908.2 479.7 944.2M517.7 833.2C518.1 869.2 515.5 908.1 515.3 944.1M498.1 832.6C500.6 868.6 497.4 905 498.5 941M508.3 832.3C507.1 868.3 508.1 906.5 509 942.5M511.6 835.3C510.9 871.3 508.4 904.5 512.6 940.5M530.8 833.3C532.9 869.3 528.2 903.2 531.2 939.2M527.8 835.2C528.6 871.2 528.7 907.1 528.5 943.1M512.7 831.7C514.5 867.7 514.9 905.7 514.7 941.7M490.5 835.8C489 871.8 491.1 908.7 492 944.7M497.9 831.9C495.8 867.9 496.9 907.2 496 943.2M491.6 831.8C492.4 867.8 492.1 906.5 491.5 942.5M494 832.9C497.1 868.9 494 904.6 493.9 940.6M518 831.1C516.5 867.1 517.5 907.1 518.4 943.1M489.9 835.5C488.3 871.5 489.6 905.3 488.5 941.3M493.9 834.4C494 870.4 497.5 906.3 493.2 942.3M528.2 833.7C527.3 869.7 527.7 903.5 528.3 939.5M525.7 834.3C525 870.3 526.9 903.1 527.5 939.1M485.4 835.3C488 871.3 482.3 903.4 484 939.4M523.5 833.2C520.2 869.2 521.4 904 521.4 940M502.7 834.8C503.5 870.8 502.3 905.5 502.8 941.5M520.6 835.4C521.4 871.4 519.5 908.3 520 944.3M480.4 835.5C480 871.5 480.2 906.2 480 942.2M493.7 831.3C493.6 867.3 492.9 904.8 493.5 940.8M498.2 833.4C494.9 869.4 496.2 906.8 498.4 942.8M513 831.7C510.9 867.7 512.2 906.9 511.6 942.9M477.8 833.4C476.6 869.4 479.6 905.9 478.2 941.9M490.2 833.8C491.7 869.8 489.2 904.5 488.9 940.5M523.2 832.2C522.2 868.2 525 908 523 944M479.4 835.5C478.7 871.5 477.8 907.8 477.6 943.8M495.9 831C496.8 867 493.6 903.5 494.3 939.5M514.6 831.1C515 867.1 518.2 908.3 515.7 944.3M495 835.2C496.1 871.2 497.5 908.4 497 944.4M479.7 832.7C476.9 868.7 479.1 904.1 479.2 940.1M495.6 833.2C492.5 869.2 495 908.5 494.3 944.5M480.8 834.2C479.5 870.2 477.1 904.3 479.1 940.3M518.7 832.8C520.9 868.8 520.6 907.7 518.7 943.7M480.6 833.5C481.1 869.5 478.9 905.4 481.1 941.4M498.7 831.8C497.9 867.8 500.7 906.4 497.8 942.4M520.2 831.5C520.6 867.5 521 907.4 518.5 943.4M492.4 834.4C491.5 870.4 492.7 905.3 493.7 941.3M516.3 832.9C515.5 868.9 517.6 906.2 515.2 942.2M499.1 835.4C496.9 871.4 500.3 906.5 499.1 942.5M527.8 834.2C530.3 870.2 526.9 904.3 529.6 940.3M501.1 835.1C502.6 871.1 499.8 908.6 500.5 944.6M529.4 835.6C529.4 871.6 527.6 905 530.3 941M519 833.1C522 869.1 516.7 903.6 517.6 939.6M494.3 833.3C495.1 869.3 494.2 907.7 494 943.7M501.9 834.4C501.4 870.4 501.4 903.4 500.4 939.4M478.6 833C480.2 869 479.8 906 478.1 942M485.1 833.1C485.3 869.1 484.4 904 485.4 940M510.7 831.1C509.2 867.1 511.1 905 509 941M504.5 833.6C507.1 869.6 501.4 906.5 504.9 942.5M532.5 831.5C531.8 867.5 531.6 903.8 531.5 939.8M506.3 834.4C505.8 870.4 508.5 908.8 507 944.8M544.1 831.9C542.9 867.9 545.7 902.9 543.5 938.9M544.6 831.5C542.6 867.5 544.8 903.7 543.2 939.7M542.9 834.5C545.1 870.5 542.4 905.8 544.6 941.8M541 834.7C542.5 870.7 543.9 903.6 540.7 939.6M564.6 835.9C563.6 871.9 562.1 908 563.9 944M557.2 834.6C556.9 870.6 558.9 907.9 555.8 943.9M566.3 835.4C565.4 871.4 564.4 906.2 565.2 942.2M559.9 835.8C557.9 871.8 560.3 902.9 561.5 938.9M560.8 835.5C558.6 871.5 561.7 904.7 561.7 940.7M565.1 832C563.6 868 562.5 903 564.6 939M554.8 835.6C558.4 871.6 553.2 908.7 556.1 944.7M555.2 833.8C556.4 869.8 556.1 905.5 555.5 941.5M565 834.4C565.2 870.4 565.9 905.7 563.5 941.7M566.2 834.8C568.2 870.8 569.2 905.4 566 941.4M557.6 831.5C558.7 867.5 561.1 907.4 558.7 943.4" fill="none" stroke="#b22222" stroke-width="0.85"/><rect x="678.7" y="770.9" width="308.9" height="231.8" fill="#fbf8f1"/><path d="M732.8 864.7C769.6 863 769.6 794.1 807.1 796.6" fill="none" stroke="#d9d6d0" stroke-width="2.0"/><path d="M733.3 864.3C769.6 863 769.6 794.4 807.8 795.8" fill="none" stroke="#d9d6d0" stroke-width="2.0"/><path d="M731.5 864.9C769.6 864.8 769.6 843.8 806.4 842.1" fill="none" stroke="#d9d6d0" stroke-width="2.0"/><path d="M732.2 865C769.6 864.6 769.6 841.6 806.8 841.2" fill="none" stroke="#d9d6d0" stroke-width="2.0"/><path d="M732.7 864.6C769.6 863.4 769.6 887.4 807.6 886.2" fill="none" stroke="#d9d6d0" stroke-width="2.0"/><path d="M732.7 864C769.6 863.6 769.6 888.3 806.4 886.5" fill="none" stroke="#d9d6d0" stroke-width="2.0"/><path d="M732.2 865.2C768.4 866.1 768.4 931.7 803.7 931.5" fill="none" stroke="#a8a6a2" stroke-width="2.0"/><path d="M732.4 864.2C768.4 864.1 768.4 932.1 803.8 931.8" fill="none" stroke="#a8a6a2" stroke-width="2.0"/><path d="M804.4 932.6C833.1 931.3 833.1 894.1 861.9 893.7" fill="none" stroke="#d9d6d0" stroke-width="2.0"/><path d="M804.6 932.8C833.1 933.4 833.1 893.5 861 894" fill="none" stroke="#d9d6d0" stroke-width="2.0"/><path d="M804.1 931.4C844.4 933.6 844.4 933.7 883.3 931.7" fill="none" stroke="#d9d6d0" stroke-width="2.0"/><path d="M803.9 932.6C844.4 932 844.4 931.1 883.9 931.8" fill="none" stroke="#d9d6d0" stroke-width="2.0"/><path d="M804.4 932.6C844.4 932.9 844.4 976.6 884.5 975.9" fill="none" stroke="#d9d6d0" stroke-width="2.0"/><path d="M804.4 931.1C844.4 930.3 844.4 978.3 883.6 976.2" fill="none" stroke="#d9d6d0" stroke-width="2.0"/><path d="M807 792.1l-1 7" stroke="#bbb" stroke-width="1.5"/><path d="M807 838.2l-1 7" stroke="#bbb" stroke-width="1.5"/><path d="M807 883l-1 7" stroke="#bbb" stroke-width="1.5"/><path d="M884.2 927.9l-1 7" stroke="#bbb" stroke-width="1.5"/><path d="M884.2 972.7l-1 7" stroke="#bbb" stroke-width="1.5"/><path d="M732 860.6l-1 7" stroke="#bbb" stroke-width="1.5"/><path d="M805 927.9l-1 7" stroke="#bbb" stroke-width="1.5"/><text x="721" y="870.8" text-anchor="end" font-size="16.5" fill="#111" stroke="#111" stroke-width="0.1"  textLength="42.3" lengthAdjust="spacingAndGlyphs">Chaos</text><text x="815.7" y="803.6" text-anchor="start" font-size="16.5" fill="#111" stroke="#111" stroke-width="0.1"  textLength="32.4" lengthAdjust="spacingAndGlyphs">Eros</text><text x="815.7" y="848.4" text-anchor="start" font-size="16.5" fill="#111" stroke="#111" stroke-width="0.1"  textLength="49.8" lengthAdjust="spacingAndGlyphs">Erebus</text><text x="815.7" y="893.2" text-anchor="start" font-size="16.5" fill="#111" stroke="#111" stroke-width="0.1"  textLength="159.4" lengthAdjust="spacingAndGlyphs">Tartarus Mountains</text><text x="799.5" y="938" text-anchor="end" font-size="16.5" fill="#111" stroke="#111" stroke-width="0.1"  textLength="31.1" lengthAdjust="spacingAndGlyphs">Gaia</text><text x="892.4" y="938" text-anchor="start" font-size="16.5" fill="#111" stroke="#111" stroke-width="0.1"  textLength="55.3" lengthAdjust="spacingAndGlyphs">Pontus</text><text x="892.4" y="983" text-anchor="start" font-size="16.5" fill="#111" stroke="#111" stroke-width="0.1"  textLength="54" lengthAdjust="spacingAndGlyphs">Uranus</text><rect x="1011.3" y="770.9" width="308.9" height="231.8" fill="#fbf8f1"/><path d="M1147.5 935.8Q1180.1 876.4 1212.5 820.6M1144.8 934.9Q1177.9 879.9 1212.3 822.2" fill="none" stroke="#b22222" stroke-width="2.2" stroke-linecap="round"/><path d="M1146 935Q1170 870 1209 824" fill="none" stroke="#b22222" stroke-width="2.2"/><path d="M1212.3 822.5Q1192.3 827.4 1174.2 831.4M1211 821.2Q1193.3 827.9 1175.2 832.9" fill="none" stroke="#b22222" stroke-width="2.4" stroke-linecap="round"/><path d="M1212.7 822.1Q1215.8 839.8 1219.9 859.8M1211.9 821.9Q1216.9 841.1 1221.4 859.5" fill="none" stroke="#b22222" stroke-width="2.4" stroke-linecap="round"/><text x="1022.4" y="792" text-anchor="middle" font-size="15" fill="#111" stroke="#111" stroke-width="0.1"  textLength="8.8" lengthAdjust="spacingAndGlyphs">Y</text><path d="M1056 880.8h6" stroke="#111" stroke-width="1.3"/><text x="1051" y="885.3" text-anchor="end" font-size="15" fill="#111" stroke="#111" stroke-width="0.1"  textLength="7.3" lengthAdjust="spacingAndGlyphs">5</text><path d="M1178.6 967v6" stroke="#111" stroke-width="1.3"/><text x="1178.6" y="989" text-anchor="middle" font-size="15" fill="#111" stroke="#111" stroke-width="0.1"  textLength="7.3" lengthAdjust="spacingAndGlyphs">5</text><text x="1311.4" y="998" text-anchor="middle" font-size="15" fill="#111" stroke="#111" stroke-width="0.1"  textLength="6.6" lengthAdjust="spacingAndGlyphs">x</text><rect x="1346" y="770.3" width="309.6" height="232.4" fill="#fbf8f1"/><g clip-path="url(#c97)"><path d="M1351.7 766.8L1569 779.3M1349.2 771.2L1568.9 784.1M1349.6 775.2L1571.4 787.1M1351.5 779.7L1568.9 792M1349.9 785.9L1568 797.7M1348.5 791.6L1571 804.2M1350.1 796L1570.5 806.1M1350.9 801.9L1568.2 811.6M1350.8 806L1570.7 817.4M1347.2 812.1L1567.3 822M1350.4 813.3L1568.1 828.7M1349.2 817.2L1569.7 832.6M1347.8 824.9L1570.1 837.5M1345.7 828.3L1567.8 842.1M1347 832.2L1568.7 843.5M1346.1 836.5L1566.4 848.8M1347.9 844.5L1567.1 852.5M1347.9 846.5L1565.5 859.1M1346 853.3L1568.8 864.1M1345.3 858.2L1567.1 868.8M1345.2 861.4L1565.8 872.3M1345.8 865.4L1564.7 876.7M1345.1 869.6L1565.7 880.4M1344.4 873.3L1563.5 886.7M1344 881L1564.9 893.1M1345.3 886.1L1565.3 895.4M1344.2 889.1L1562.6 898.2M1345.1 892.2L1563.9 905.9M1342.8 899L1563.7 907.5M1345 902.7L1562.6 912.8M1345 905.7L1564.9 919.2M1342.2 912L1565.7 922.5M1342.8 916L1562.5 928.3M1341.4 921.2L1564.3 930.1M1342.2 925.1L1561.1 936.5M1342.2 928.2L1563.1 939.3M1344 933.6L1563.9 944.5M1342.8 936.6L1562.9 949.5M1342.1 943.4L1563.1 952.4M1340.3 945L1562.6 956.4M1341.3 949.3L1561.4 961.5M1339.4 958.4L1559.6 968M1342.4 962.9L1562.5 973.1M1339.6 966.7L1561.5 979.7M1342 971.6L1560.2 983.5M1340.2 975.6L1558.7 989.3M1339.4 982.1L1559.1 991.9M1350.1 767L1570.2 780.5M1349.3 772.8L1570.2 784.1M1348.7 776.9L1569.8 786M1349.4 782.6L1571.3 793.1M1350.6 786L1570.5 796.1M1351.6 791.6L1568.5 803.8M1350.1 795.7L1570.8 806.4M1350.9 800L1569 812.3M1348.6 805.3L1568.9 814.1M1350.7 810.1L1567.7 819.4M1347 813.4L1567.3 824.4M1350.1 819.9L1566.5 831.3M1346.2 823.8L1569.3 834.9M1346.9 827.9L1567.5 839.3M1349.1 829.9L1567.7 840.9M1347.4 835.6L1567.8 848.6M1346.7 837.1L1567.2 850.2M1348.9 841.4L1565.5 856.3M1347 846.5L1567.9 860.1M1346 850.3L1568.8 864.5M1346.5 857.4L1564.7 868.7M1348.3 861.7L1567.1 873.3M1345.9 865.7L1567.6 877M1345.2 869.3L1563.7 883.3M1346.3 877.5L1566.1 886.6M1346.8 881.7L1565.6 894M1345.6 885.5L1564.7 895.3M1342.8 887.3L1564.2 902.9M1343.4 893.6L1563.6 904.6M1346.2 898.3L1562.9 911.4M1345.1 901L1562 912.4M1345.7 906.7L1565.4 915.8M1343.9 908.6L1564.9 921.1M1341.6 916.2L1563.2 927.8M1343.7 919.8L1565.1 931.6M1342.4 922.5L1560.9 933.3M1342.6 927L1563.3 939.2M1342.5 930.5L1560.9 945.5M1340.4 935.4L1561.1 947M1344.1 940.9L1562.4 950.8M1343.8 945.7L1562.2 956.3M1339.7 951.8L1563.3 960.9M1342.3 954.9L1560.7 966.7M1341.9 961.2L1562.3 972.5M1340.9 962.3L1559.5 976.4M1341.7 968.8L1562.4 980M1341.4 972.1L1561.4 984.4M1339.9 978.9L1558.1 988.7M1340.7 982.9L1558.2 996" fill="none" stroke="#ff725c" stroke-width="1.4"/></g><g clip-path="url(#c98)"><path d="M1457.9 747.6L1662.4 761.6M1455.5 755.7L1659.3 762.8M1456.9 757L1660.5 769.7M1457.6 761.5L1659.5 775M1456.7 766.9L1659.1 780.6M1457.2 775.3L1661 782.4M1456.2 780.5L1661.6 788.2M1453.2 781.7L1658.4 794.4M1456 786.2L1660.5 798M1454.1 794L1658.7 802.8M1456.5 797.6L1657.3 805.9M1453 804.4L1656.8 811.1M1455.6 808.8L1656.7 817M1454.3 809.9L1659.9 821.1M1452.3 814.8L1658.5 829.1M1451.8 820.4L1656.3 832.5M1452.1 825.7L1656.1 838.2M1453.5 829.8L1658.8 839.4M1453.8 833.8L1657.9 847.3M1453.5 840.1L1655.8 850.2M1453.5 845L1655.7 855.3M1453.1 851.4L1654.9 862.9M1451.6 855.4L1655.9 865.5M1452.3 859L1653.3 870.4M1453.1 864.4L1654.7 872.5M1448.8 869.5L1656.7 876.2M1449.2 870L1652.7 882.9M1452.4 877.4L1655.1 887.7M1450.9 879.8L1655.9 892.3M1449.5 885.2L1656.1 896.8M1450.5 891.1L1652 902.7M1447.9 894.3L1651.9 907.8M1450.7 900.7L1653.5 910.7M1447.5 906.7L1654.8 916.1M1448.6 906.9L1653.3 919.5M1448.2 910.8L1651.7 923M1448.9 917.6L1653.7 926.8M1448.9 921.5L1654.1 933.5M1446.4 926.7L1651.6 938.8M1446.7 930.5L1651.2 940.3M1445.3 934L1652.7 947.6M1445.2 940.8L1652.6 950.1M1445.8 941.6L1651.9 954.3M1444.6 946.8L1650.3 957.7M1457.2 745.4L1663.1 755.6M1456.3 750.3L1660.4 761.6M1455.8 755.9L1661.5 765M1455.3 756.7L1661.4 769.3M1458.2 760.6L1659.2 773.7M1455.9 768.9L1661.6 779.1M1457.5 772.2L1659.8 784.9M1454.8 777.8L1657.6 789.8M1453.7 780.6L1661.2 792.2M1455.7 787.8L1661 796.6M1456.6 792L1657.4 801.4M1453.8 796.5L1656.7 804.1M1453.3 797.8L1657.2 811.7M1452.5 805.1L1658.4 815.4M1455.1 805.7L1658.6 818.7M1454.2 814.8L1656.2 822.1M1451.8 816.7L1655.7 826.9M1453.1 822.7L1655.9 831.5M1452.7 828.1L1657.1 836.2M1452.7 830L1655 842.5M1453.5 834.7L1657 848.3M1453.5 841.6L1654.5 851.4M1452.7 847.1L1657.5 854.6M1451.9 848.4L1657.5 861.3M1451.4 855.3L1657.3 866.1M1452.1 860.1L1654.1 868.1M1453.1 861.6L1654.6 872.3M1451.2 870.7L1656.9 878M1448.7 873.3L1653 884.8M1452 876L1653.5 890.4M1450.7 882.4L1653.9 894M1450 884.1L1652 896M1447.8 890L1654 899.7M1447.9 895.8L1655 904.9M1448 899.6L1651.2 911.9M1447.1 901.8L1653.6 915.9M1449.4 907.8L1651.4 919.7M1449.6 912.7L1652.3 921.1M1446.4 915.7L1652.4 925.8M1446.6 923.8L1652 931.4M1446.9 928.3L1652.3 936.4M1445.8 929.2L1649.8 942.7M1449.2 936L1651.6 944.5M1448.6 938.6L1651.4 953M1447.5 945.8L1648.7 955.9M1446.5 948.9L1652.6 957.7" fill="none" stroke="#efb118" stroke-width="1.4"/></g><g clip-path="url(#c99)"><path d="M1394 775.3L1654.4 788.6M1396.1 778L1656 791.6M1395.3 784.5L1655.4 800.3M1395.5 788.1L1656.3 802.8M1396.4 792.8L1654.6 808.3M1392.5 799.9L1654.6 812M1392 802.6L1655.1 815.7M1394.9 806.6L1653.6 823.1M1395.2 812.5L1654.5 824M1394.8 816.7L1655.7 831.3M1394.3 822.2L1655.5 833.8M1392.4 826.6L1653 836.9M1393.3 829.4L1650.7 845M1394 835.4L1651.9 846.3M1390.4 840.7L1651.4 853.4M1390.2 844.5L1654.1 857.8M1390.7 847.3L1653 860.7M1390.4 852.1L1651.4 867M1392.1 858.2L1651.9 873.1M1393 860.1L1653.4 874.8M1392.6 866.9L1650.2 878.4M1390.9 870.2L1651.7 886.6M1388 877.3L1652.4 890.7M1390.9 880.7L1652.3 894.7M1391.4 884.6L1652 900.9M1391.6 891.1L1650.3 902.3M1389.4 893.7L1648.5 906.3M1390.1 899.9L1648 914.4M1388 903.8L1650.5 917.7M1386.4 906.5L1647 919.7M1390.2 911.1L1650.7 925.3M1387.7 915.6L1646.9 932.2M1389.7 920.6L1649.2 935.9M1386.6 927.7L1648.9 940.4M1387.3 933.6L1648.2 944.6M1386.9 936L1645.2 951.2M1385.3 944.5L1649.2 955.3M1385.9 945L1647.9 959.7M1388 953.9L1645.4 964.1M1386.4 957.6L1646.7 969.8M1385.9 961.4L1646.5 975.4M1383.7 964.8L1647 980.5M1385.4 971.1L1645.4 984.9M1384.2 976.4L1646.8 988.7M1383.5 977.9L1644.9 993.2M1385.9 983.6L1645.8 1000.1M1383.2 989.4L1643.1 1002.7M1382 996.7L1643.7 1006.9M1383.1 1000.2L1645.8 1014.6M1382.7 1005.8L1645.6 1016M1384.2 1009.2L1643.3 1022.1M1381.4 1014.4L1643.4 1027.4M1384.5 1017.9L1643.5 1031.3M1381.8 1021.6L1644.3 1035.4M1382.5 1025.2L1642.2 1042.9M1383.4 1031.8L1644 1045.2M1394.5 776.5L1655 789.1M1394.7 781.4L1654.2 793.8M1396.2 786.5L1654.6 798.2M1396.3 791.7L1656.4 803.8M1394.8 795L1653.9 808.4M1395.7 798.5L1655 814.7M1395.3 807.2L1656.3 818M1391.8 808.5L1652.2 821.4M1395.5 812.4L1654.9 826.3M1394.9 819.3L1655.6 833.7M1394.4 823.5L1653.1 835.9M1393 828.8L1651.7 843.2M1393.6 832.4L1653.5 847.1M1392.8 836.8L1651.8 850.9M1393 842.6L1650.8 858.4M1389.6 845.7L1653.8 859.8M1391.9 850.3L1652.1 863.4M1389.9 855.2L1653.7 871.5M1389.3 861.1L1651 872.7M1390.5 865.5L1651.3 875.9M1389.3 869.6L1649.7 883.8M1390.1 872.1L1649.5 885.6M1388.3 876.5L1650 889.1M1391.4 883.6L1650.1 897.4M1387.6 889.3L1648.5 901.7M1388.9 890.4L1648 906.3M1388.3 895.2L1650.3 909.7M1390.8 900.3L1651.1 914.1M1388.2 905.2L1649.3 919.8M1387.9 907.8L1646.6 922.1M1389.1 915.9L1648.9 929.4M1385.9 920.1L1648.2 932.2M1388.3 921.2L1649.4 937.8M1387.4 928.5L1646.2 940.4M1389.2 932.5L1648.6 943.3M1387.4 935.5L1648.3 948.2M1388.1 940.3L1646.7 954.6M1385.4 944.6L1644.9 960.2M1384.8 951.6L1644.5 964.2M1387.8 956.9L1645.6 968.2M1385.5 960L1646.7 974.7M1386.5 963L1644.3 978.9M1385.9 968L1644.1 983.4M1383.9 973.3L1644.8 988.7M1383.6 979.2L1646 992.3M1385.6 981.9L1645.6 995.5M1385.2 984.8L1644 1001.7M1386.2 990.6L1646.1 1003.9M1381.9 993.8L1645.3 1007.9M1382.8 1001.2L1645.7 1013.3M1382.8 1004.6L1642.6 1020.1M1382.2 1011.2L1644.4 1024.6M1381.7 1017.8L1642.9 1031.8M1382.8 1018.4L1644.3 1034M1382.7 1026.6L1643.7 1040.2M1381.8 1028.3L1642.2 1042.1M1381.8 1031.4L1641.4 1046.4" fill="none" stroke="#4269d0" stroke-width="1.4"/></g><g clip-path="url(#vor)"><path d="M-635.7 1000L-583.1 935M1000 -1169.1L-403.7 706.5M-583.1 935L-488.3 814.8M-488.3 814.8L-408.3 712.4M-403.7 706.5L-408.3 712.4M-635.7 1000L619.8 2458.5M1000 2913.8L619.8 2458.5M1000 2913.8L1480.3 2546.6M3772 1000L3589.8 1118.7M3589.8 1118.7L2648.9 1743.7M2648.9 1743.7L1705.4 2386.7M1480.3 2546.6L1621.8 2445.6M1705.4 2386.7L1621.8 2445.6M-583.1 935L1396.4 914M619.8 2458.5L1421.4 944.5M1421.4 944.5L1396.4 914M2648.9 1743.7L1631.8 956.3M1705.4 2386.7L1585.8 957.9M1631.8 956.3L1607.6 949.1M1585.8 957.9L1607.6 949.1M1480.3 2546.6L1491.6 1115.9M1444.3 939.7L1433.6 938.2M1421.4 944.5L1433.6 938.2M1491.6 1115.9L1467.9 963.9M1444.3 939.7L1464 956.3M1464 956.3L1467.9 963.9M3589.8 1118.7L1631.8 915.5M1631.8 956.3L1615.5 931.1M1615.5 931.1L1631.8 915.5M1000 -1169.1L1502 -722.7M3772 1000L3371.2 710.7M2717.5 221.4L3281 643.4M2717.5 221.4L1908.6 -394.6M1502 -722.7L1908.6 -394.6M3371.2 710.7L3281 643.4M1444.3 939.7L1462.8 918M1464 956.3L1476 931.2M1462.8 918L1463.6 918.2M1476 931.2L1463.6 918.2M1615.6 888.3L1623.7 881.4M1658.6 867.1L1623.7 881.4M1658.6 867.1L3371.2 710.7M1631.8 915.5L1618.7 905.7M1615.6 888.3L1614.5 898.6M1614.5 898.6L1618.7 905.7M1615.5 931.1L1609.6 930.7M1607.6 949.1L1606.9 932.7M1606.9 932.7L1609.6 930.7M1621.8 2445.6L1553.9 958.9M1585.8 957.9L1585.6 957.4M1585.6 957.4L1580.4 952.7M1553.9 958.9L1567 950.9M1580.4 952.7L1567 950.9M1393.6 883.3L1402.4 889.4M1393.6 883.3L1403 897.9M1402.4 889.4L1403.2 893.7M1403 897.9L1403.2 893.7M1403.5 884.7L1407.3 885.4M1402.6 885L1403.5 884.7M1402.6 885L1402.4 889.4M1407.3 885.4L1403.2 893.7M1433.6 938.2L1433.5 926.3M1396.4 914L1404.5 907.1M1426.5 912.8L1420.1 909.1M1433.5 926.3L1426.5 912.8M1420.1 909.1L1404.5 907.1M1410.2 886.7L1411.8 897.8M1408.1 885.1L1410.2 886.7M1403 897.9L1404.6 906.9M1408.1 885.1L1407.3 885.4M1404.6 906.9L1411.8 897.8M1532.5 810.8L1528.8 819.3M1508.2 767.8L1532.5 810.8M1508.2 767.8L1490.6 821.4M1528.8 819.3L1496.5 827.8M1490.6 821.4L1496.5 827.8M1618.7 905.7L1616 908.7M1609.6 930.7L1609.2 929.5M1609.2 929.5L1611.1 914.5M1611.1 914.5L1616 908.7M1586.6 929.8L1580.6 925.8M1580.6 925.8L1575.5 931.1M1586.6 929.8L1579.3 939.2M1575.5 931.1L1579.3 939.2M3281 643.4L1618 840.1M2717.5 221.4L1612 831.6M1612 831.6L1618 840.1M1530.1 853L1532.6 863.9M1530.1 853L1535 854.8M1537.1 862.2L1532.6 863.9M1537.1 862.2L1537.9 859.8M1537.9 859.8L1535 854.8M1397.9 875.2L1400.2 874.9M1397.9 875.2L1390.9 881.5M1400.2 874.9L1402.9 878.7M1402.9 878.7L1397 882M1397 882L1392.6 882M1390.9 881.5L1392.6 882M1398.4 861.7L1398.9 861.7M1398.4 861.7L1397.9 875.2M1398.9 861.7L1403.4 871.7M1403.4 871.7L1400.2 874.9M-408.3 712.4L1398.4 861.7M-488.3 814.8L1390.9 881.5M1405.6 878.3L1402.9 878.7M1403.5 884.7L1405.6 878.3M1402.6 885L1397 882M1393.6 883.3L1392.6 882M1404.5 907.1L1404.6 906.9M1410.4 867.1L1411.2 868M1410.4 867.1L1406 873.8M1411.2 868L1410.6 877.4M1406 873.8L1408 877.2M1408 877.2L1409 877.6M1409 877.6L1410.6 877.4M1416.4 866.6L1412.5 868.5M1416.4 866.6L1407.3 859.4M1407.3 859.4L1407.1 859.5M1407.1 859.5L1410.4 867.1M1412.5 868.5L1411.2 868M1400.7 860.9L1407.1 859.5M1398.9 861.7L1400.7 860.9M1403.4 871.7L1406 873.8M1405.6 878.3L1408 877.2M1408.1 885.1L1409 877.6M1415.5 877.9L1410.6 877.4M1417.7 880.6L1415.5 877.9M1417.7 880.6L1415.9 883.7M1415.9 883.7L1410.2 886.7M-403.7 706.5L1368.9 821.9M1400.7 860.9L1400.5 846M1368.9 821.9L1400.5 846M1408 858.8L1411.4 847.9M1407.3 859.4L1408 858.8M1400.5 846L1411.4 847.9M1421.4 890.5L1416 886.2M1421.4 890.5L1414.5 895.8M1414.5 895.8L1416 886.2M1422.7 886.9L1423 889.5M1423 889.5L1421.4 890.5M1420.6 881.3L1422.7 886.9M1417.7 880.6L1420.6 881.3M1415.9 883.7L1416 886.2M1414.4 896L1411.8 897.8M1414.4 896L1414.5 895.8M1462.8 918L1459 910.6M1433.5 926.3L1444.2 909.8M1459 910.6L1448.9 907.4M1444.2 909.8L1448.9 907.4M1553.9 958.9L1552.4 957.5M1567 950.9L1559.8 942.8M1552.2 942.4L1549.7 951.2M1552.4 957.5L1549.7 951.2M1552.2 942.4L1555.4 941.7M1559.8 942.8L1555.4 941.7M1506.3 880.7L1502.3 890.7M1502.3 890.7L1479.9 878.6M1505.9 879.9L1506.3 880.7M1505.9 879.9L1494.4 871.9M1494.4 871.9L1483.6 872.6M1483.6 872.6L1479.9 878.6M1500.6 853.5L1494.3 870.9M1500.6 853.5L1496.2 849.9M1496.2 849.9L1487.8 855.1M1494.3 870.9L1487.8 855.1M1506.1 877.9L1502.5 854.4M1502.5 854.4L1500.6 853.5M1494.4 871.9L1494.3 870.9M1505.9 879.9L1506.1 877.9M1496.8 828.3L1496.2 849.9M1513.4 837.3L1513.9 844.1M1496.8 828.3L1513.4 837.3M1502.5 854.4L1508.2 854.2M1508.2 854.2L1513.9 844.1M1476 931.2L1480.6 930.5M1463.6 918.2L1475.5 912.8M1480.6 930.5L1484.5 920.1M1475.5 912.8L1483.3 917.9M1483.3 917.9L1484.5 920.1M1475.5 912.8L1478.6 907.3M1483.3 917.9L1487.5 910.5M1478.6 907.3L1487.5 910.5M1462.9 901.7L1471.2 898.4M1459 910.6L1462.9 901.7M1471.2 898.4L1478.7 906.4M1478.6 907.3L1478.7 906.4M1479.5 890.6L1472.2 896.7M1479.5 890.6L1489.4 895.4M1471.2 898.4L1472.2 896.7M1478.7 906.4L1489.4 895.4M1601 913.5L1599 917.3M1601 913.5L1601.4 913.6M1601.4 913.6L1603 914.4M1603 914.4L1604.4 920.6M1599 917.3L1599.5 920.1M1599.5 920.1L1603.9 922.5M1603.9 922.5L1604.4 920.6M1598.9 904.1L1601 913.5M1614.5 898.6L1598.9 904.1M1616 908.7L1601.4 913.6M1611.1 914.5L1606.8 915.5M1606.8 915.5L1603 914.4M1606.8 915.5L1604.4 920.6M1609.2 929.5L1603.9 922.5M1604.9 933L1592.7 925.2M1604.9 933L1601.2 935.4M1601.2 935.4L1590.3 931.8M1591.9 925.2L1589 929.3M1591.9 925.2L1592.7 925.2M1589 929.3L1590.3 931.8M1606.9 932.7L1604.9 933M1599.5 920.1L1592.7 925.2M1585.6 957.4L1591.6 945.3M1591.6 945.3L1601.2 935.4M1591.6 945.3L1590.3 931.8M1593.3 915.9L1591 923.4M1591 923.4L1591.9 925.2M1593.3 915.9L1599 917.3M1586.6 929.8L1589 929.3M1580.4 952.7L1579 946.7M1579.3 939.2L1579 946.7M1589 922L1591 923.4M1589 922L1580 921.4M1580.6 925.8L1580 921.5M1580 921.4L1580 921.5M1544.9 814.6L1532.5 810.8M1528.8 819.3L1528.1 830.5M1544.9 814.6L1545.7 825M1528.1 830.5L1542.1 834.5M1545.7 825L1542.1 834.5M1472.2 896.7L1466.1 887.6M1479.5 890.6L1477.6 885.7M1477.6 885.7L1466.1 887.6M1423 897.2L1426.6 899.2M1423 897.2L1424.6 890.5M1424.6 890.5L1427.9 898.8M1426.6 899.2L1427.9 898.8M1420.1 909.1L1426.6 899.2M1414.4 896L1423 897.2M1423 889.5L1424.6 890.4M1424.6 890.4L1424.6 890.5M1428.2 898.7L1429.9 895.9M1428.2 898.7L1427.9 898.8M1424.9 890.4L1424.6 890.4M1424.9 890.4L1430.1 891.3M1429.9 895.9L1430.1 891.3M1426.5 912.8L1432.8 905.5M1428.2 898.7L1431.7 901.4M1431.7 901.4L1432.8 905.5M1444.2 909.8L1437 906.1M1432.8 905.5L1437 906.1M1552.4 957.5L1535.3 958.9M1549.7 951.2L1539.4 949.3M1539.4 949.3L1535.3 958.9M1491.6 1115.9L1514.4 980.5M1514.4 980.5L1516.8 976M1535.3 958.9L1516.8 976M1527.4 831.7L1532.4 845M1527.4 831.7L1517 836.7M1517 836.7L1528.7 850.6M1532.4 845L1528.7 850.6M1496.5 827.8L1496.8 828.3M1528.1 830.5L1527.4 831.7M1513.4 837.3L1517 836.7M1513.9 844.1L1520 850.5M1528.6 851.1L1520 850.5M1528.6 851.1L1528.7 850.6M1506.1 877.9L1512.4 861.5M1508.2 854.2L1508.6 854.5M1512.4 861.5L1508.6 854.5M1520 850.5L1516.9 854.3M1508.6 854.5L1516.9 854.3M1495.2 913L1492.5 912.8M1495.2 913L1505.1 899M1492.5 912.8L1488 910.4M1488 910.4L1491.4 895.4M1505.1 899L1501.8 892.7M1501.8 892.7L1491.4 895.4M1484.5 920.1L1486.2 919.9M1486.2 919.9L1492.5 912.8M1487.5 910.5L1488 910.4M1489.4 895.4L1491.4 895.4M1479.9 878.6L1478.5 879.8M1478.5 879.8L1477.8 881.1M1502.3 890.7L1501.8 892.7M1477.6 885.7L1477.8 881.1M1598.9 904.1L1592.9 903.3M1615.6 888.3L1602.4 882.3M1602.4 882.3L1599.9 882.3M1599.9 882.3L1587.5 891.4M1587.4 891.6L1587.5 891.4M1587.4 891.6L1587.6 897.4M1592.9 903.3L1587.6 897.4M1574 920.7L1569.7 920M1574 920.7L1570.2 927.6M1569.7 920L1565.1 922.4M1565.1 922.4L1566.1 924.8M1570.2 927.6L1566.1 924.8M1575.4 919.5L1580 921.5M1575.5 931.1L1570.5 928.7M1574 920.7L1575.4 919.5M1570.2 927.6L1570.5 928.7M1560.8 941.3L1562.6 934.9M1560.8 941.3L1568.5 937M1562.6 934.9L1567.6 934.2M1568.5 937L1567.6 934.2M1579 946.7L1568.5 937M1559.8 942.8L1560.8 941.3M1568.9 930.5L1570.5 928.7M1568.9 930.5L1567.6 934.2M1505.5 899.7L1516.1 906.5M1505.1 899L1505.5 899.7M1525.8 899.3L1525 897.1M1525.8 899.3L1521.7 903.6M1525 897.1L1505.1 899M1521.7 903.6L1516.1 906.5M1508.8 940L1505.8 947.1M1505.8 947.1L1513.6 943.4M1513.6 943.4L1512.6 937M1508.8 940L1511.5 936.7M1511.5 936.7L1512.6 937M1516.7 937L1515.1 936.8M1516.7 937L1517.5 945.8M1517.5 945.8L1513.6 943.4M1512.6 937L1515.1 936.8M1552.2 942.4L1547.1 938.8M1539.4 949.3L1538.8 947.2M1538.8 947.2L1546.7 938.8M1546.7 938.8L1547.1 938.8M1414.2 844.8L1417 839.5M1411.4 847.9L1414.2 844.8M1368.9 821.9L1422.2 819M1417 839.5L1422.2 819M1424.9 890.4L1429.7 885.4M1430.1 891.3L1430.9 890.8M1430.9 890.8L1431 888.3M1431 888.3L1429.7 885.4M1422.7 886.9L1429.6 884.9M1429.7 885.4L1429.6 884.9M1412.5 868.5L1416.6 872M1415.5 877.9L1416.8 874.1M1416.8 874.1L1416.6 872M1408 858.8L1418.3 860.1M1414.2 844.8L1422.3 858.5M1422.3 858.5L1418.3 860.1M1416.4 866.6L1418.4 866.8M1418.3 860.1L1418.4 866.8M1416.6 872L1418.9 867.6M1418.4 866.8L1418.9 867.6M1458 894.7L1454 893.7M1458 894.7L1457.3 889M1454 893.7L1454.4 888.1M1454.4 888.1L1457.3 889M1429.9 895.9L1436.7 894.8M1430.9 890.8L1437 892M1437 892L1436.7 894.8M1431.7 901.4L1437.4 897.3M1436.7 894.8L1437.4 897.3M1448.3 895.6L1450 894.5M1454 893.7L1450 894.5M1448.3 895.6L1447.4 897.1M1460.7 896.3L1462.9 901.7M1460.7 896.3L1458 894.7M1448.9 907.4L1446.7 899.9M1447.4 897.1L1446.7 899.9M1437 906.1L1438.6 898.2M1446.7 899.9L1438.6 898.2M1437.4 897.3L1438.6 898.2M1519.8 962.4L1534.5 946.2M1516.8 976L1519.8 962.4M1538.8 947.2L1538.2 946.7M1538.2 946.7L1534.5 946.2M1487.8 855.1L1479.2 855.7M1490.6 821.4L1471.5 827.3M1476.4 849.1L1471.5 827.3M1476.4 849.1L1479.1 855.7M1479.2 855.7L1479.1 855.7M1483.6 872.6L1481 868.4M1479.2 855.7L1481 868.4M1468.7 879.6L1464.9 887.2M1468.7 879.6L1466.7 877.3M1466.7 877.3L1463.6 875.6M1463.6 875.6L1460.1 876.7M1460.1 876.7L1457.9 880.5M1457.9 880.5L1461.6 885.4M1461.6 885.4L1464.3 887.3M1464.3 887.3L1464.9 887.2M1477.8 881.1L1468.7 879.6M1466.1 887.6L1464.9 887.2M1457.3 889L1461.6 885.4M1460.7 896.3L1464.3 887.3M1524.6 867L1522.9 869.2M1524.6 867L1527.2 866M1522.9 869.2L1528.9 873.1M1527.2 866L1530.8 866.5M1530.8 866.5L1533.2 872.9M1533.2 872.9L1528.9 873.1M1513.5 879.7L1514 879.8M1513.5 879.7L1518 873.5M1514 879.8L1528.9 873.1M1518 873.5L1522.9 869.2M1528.8 852L1525.7 856.7M1530.1 853L1528.8 852M1532.6 863.9L1531.4 865.9M1531.4 865.9L1530.8 866.5M1525.7 856.7L1527.2 866M1506.3 880.7L1513.5 879.7M1505.1 899L1505.1 899M1514 879.8L1523.9 884.1M1525 897.1L1528.2 890.3M1528.2 890.3L1523.9 884.1M1534.1 874L1532.5 878.1M1534.1 874L1533.2 872.9M1523.9 884.1L1532.5 878.1M1517.9 862.6L1520.3 861.5M1517.9 862.6L1513.8 861.4M1513.8 861.4L1518 856.8M1520.3 861.5L1521.3 859M1521.3 859L1518 856.8M1518 873.5L1517.9 862.6M1524.6 867L1520.3 861.5M1512.4 861.5L1513.8 861.4M1516.9 854.3L1518 856.8M1525.7 856.7L1521.3 859M1528.8 852L1528.6 851.1M1908.6 -394.6L1594.3 761.7M1594.3 761.7L1598 823M1612 831.6L1610.4 831.4M1598 823L1610.4 831.4M1554.7 900.7L1566.9 902.1M1554.7 900.7L1553.2 889.7M1553.2 889.7L1556.9 886.7M1556.9 886.7L1567.5 895.5M1567.5 895.5L1568.4 899.6M1568.4 899.6L1566.9 902.1M1583.8 915.8L1581 911.9M1583.8 915.8L1586.6 915.6M1581 911.9L1591.6 906.5M1586.6 915.6L1590.9 911.4M1590.9 911.4L1591.6 906.5M1589 922L1586.6 915.6M1580 921.4L1583.8 915.8M1593.3 915.9L1590.9 911.4M1592.9 903.3L1591.6 906.5M1580.7 911.8L1581 911.9M1580.7 911.8L1579.4 905.7M1587.6 897.4L1580.2 901M1580.2 901L1579.4 905.7M1568.4 899.6L1575.7 900.7M1587.4 891.6L1574.9 888.1M1574.9 888.1L1567.5 895.5M1580.2 901L1575.7 900.7M1580.7 911.8L1577.1 913.5M1579.4 905.7L1575 909.4M1577.1 913.5L1575 909.4M1575.7 900.7L1574.2 909.1M1575 909.4L1574.2 909.1M1568.9 930.5L1563.5 930.4M1562.6 934.9L1561.9 933.9M1561.9 933.9L1563.5 930.4M1566.1 924.8L1560.9 927.8M1563.5 930.4L1560.9 927.8M1505.1 915.9L1502.3 922.8M1505.1 915.9L1497.2 915.5M1502.3 922.8L1497.2 915.5M1486.2 919.9L1492.9 921.8M1495.2 913L1495.5 914.2M1492.9 921.8L1495.5 914.2M1507.6 912.9L1505.5 899.7M1507.6 912.9L1505.1 915.9M1495.5 914.2L1497.2 915.5M1501.5 937.3L1502.1 949.8M1501.5 937.3L1499 929.8M1497.5 929.9L1499 929.8M1497.5 929.9L1489.6 934.6M1489.6 934.6L1490.1 944.3M1490.1 944.3L1502.1 949.8M1508.8 940L1501.5 937.3M1503.2 950.8L1505.8 947.1M1503.2 950.8L1502.1 949.8M1502.4 928.2L1502.3 922.8M1502.4 928.2L1499 929.8M1492.9 921.8L1497.5 929.9M1480.6 930.5L1489.6 934.6M1467.9 963.9L1490.1 944.3M1514.4 980.5L1503.2 950.8M1522 929L1528.9 926.1M1528.9 926.1L1528.8 932.8M1522 929L1522 929M1522 929L1528.8 932.8M1502.5 928.2L1508.7 924M1502.5 928.2L1507.9 931.6M1507.9 931.6L1515.8 928.4M1508.7 924L1514.5 924M1514.9 924.2L1514.5 924M1514.9 924.2L1516.8 927.4M1516.8 927.4L1515.8 928.4M1507.6 912.9L1510.9 916.3M1510.9 916.3L1508.7 924M1502.4 928.2L1502.5 928.2M1511.5 936.7L1507.9 931.6M1515.1 936.8L1515.8 928.4M1510.9 916.3L1514.2 916.9M1514.2 916.9L1514.5 924M1516.7 937L1519.1 936.4M1519.1 936.4L1522 929M1521.7 928.5L1522 929M1521.7 928.5L1516.8 927.4M1521.7 928.5L1523 924.1M1523 924.1L1529.2 923M1528.9 926.1L1530.2 924.3M1530.2 924.3L1529.2 923M1483.7 294.5L1508.2 767.8M1483.7 294.5L1436.2 810.5M1471.5 827.3L1463.4 826.3M1463.4 826.3L1445.9 819.2M1445.9 819.2L1436.2 810.5M1424.7 850.9L1417 839.5M1424.7 850.9L1430.4 847.6M1422.2 819L1425.7 817.2M1430.4 847.6L1425.7 817.2M1502 -722.7L1483.7 294.5M1436.2 810.5L1425.7 817.2M1430.3 881.8L1429.6 884.9M1433.6 887.2L1433.8 882M1431 888.3L1433.6 887.2M1430.3 881.8L1432 881.4M1432 881.4L1433.8 882M1433.6 887.2L1437.3 888.9M1437.4 886.8L1437.3 888.9M1437.4 886.8L1435.3 882M1433.8 882L1435.3 882M1444.6 838.4L1437.5 853.3M1444.6 838.4L1445.9 819.2M1430.4 847.6L1433.5 854M1437.5 853.3L1434.7 854.3M1433.5 854L1434.7 854.3M1439.8 864.4L1434.2 860.8M1439.8 864.4L1433.2 870M1433.2 870L1432.7 869.7M1432.7 869.7L1432.8 862.3M1432.8 862.3L1434.2 860.8M1450 894.5L1451.4 885.7M1454.4 888.1L1452.7 885.3M1451.4 885.7L1452.7 885.3M1457.9 880.5L1456.1 880.9M1452.7 885.3L1456.1 880.9M1437.5 889.5L1445.2 884.9M1437.5 889.5L1437.5 891.4M1437.5 891.4L1440.5 891.7M1440.5 891.7L1445.3 887.8M1445.3 887.8L1445.5 885.2M1445.5 885.2L1445.3 884.9M1445.2 884.9L1445.3 884.9M1437.3 888.9L1437.5 889.5M1442.9 883.3L1437.4 886.8M1442.9 883.3L1445.2 884.9M1437 892L1437.5 891.4M1447.4 897.1L1440.5 891.7M1448.3 895.6L1445.3 887.8M1451.4 885.7L1445.5 885.2M1474.9 869.1L1467.4 866.6M1474.9 869.1L1472.6 873.8M1472.6 873.8L1471.7 873.5M1471.7 873.5L1467.3 867.5M1467.3 867.5L1467.4 866.6M1478.5 879.8L1472.6 873.8M1481 868.4L1474.9 869.1M1466.7 877.3L1471.7 873.5M1463.6 875.6L1467.3 867.5M1463.4 826.3L1459.9 853.6M1446 842L1444.6 838.4M1446 842L1458.3 855.3M1458.3 855.3L1459.9 853.6M1476.4 849.1L1461 853.8M1459.9 853.6L1461 853.8M1553 889.7L1542.9 903.6M1553 889.7L1545.2 888.9M1542.9 903.6L1539.3 901.4M1539.3 901.4L1538.8 899.2M1538.8 899.2L1545.2 888.9M1610.4 831.4L1605.1 845.2M1618 840.1L1619.7 848.9M1605.1 845.2L1619.7 848.9M1658.6 867.1L1621.7 853.9M1621.7 853.9L1619.7 848.9M1544.9 814.6L1557.8 811.9M1594.3 761.7L1566.6 806.1M1557.8 811.9L1566.6 806.1M1569.7 920L1568 918.3M1563.6 920.7L1565.1 922.4M1563.6 920.7L1563.6 920.3M1568 918.3L1563.6 920.3M1559.9 923.8L1563.6 920.7M1555.9 920.9L1559.9 923.8M1555.9 920.9L1554.9 919.9M1554.9 919.9L1555.2 919.4M1555.2 919.4L1561.6 917M1563.6 920.3L1561.6 917M1566.9 902.1L1566.3 905.8M1574.2 909.1L1569 909M1566.3 905.8L1569 909M1555.6 909.2L1560.9 910.1M1551.6 906.6L1555.6 909.2M1551.6 906.6L1554.7 900.7M1566.3 905.8L1560.9 910.1M1554.2 917.3L1555.2 919.4M1555.6 909.2L1554.2 917.3M1561.6 917L1561.8 916.5M1560.9 910.1L1561.8 916.5M1559.9 923.8L1559.5 927.2M1555.9 920.9L1558.1 926.8M1558.1 926.8L1559.5 927.2M1560.9 927.8L1560 927.8M1559.5 927.2L1560 927.8M1514.2 916.9L1515.7 916.5M1514.9 924.2L1520.1 919.8M1515.7 916.5L1520.1 919.8M1523 924.1L1521.8 920.1M1520.1 919.8L1521.8 920.1M1530.1 939.8L1530.6 944.4M1530.1 939.8L1528.5 937.9M1528.5 937.9L1523.6 939.6M1523.6 939.6L1521.2 951.6M1530.6 944.4L1521.3 952.3M1521.2 951.6L1521.3 952.3M1536.8 941.8L1535.2 940M1535.2 940L1530.1 939.8M1538.2 946.7L1536.8 941.8M1534.5 946.2L1530.6 944.4M1529.7 933.6L1528.5 937.9M1529.7 933.6L1530 933.5M1535.2 940L1536.8 936.1M1530 933.5L1536.8 936.1M1519.1 936.4L1523.6 939.6M1529.7 933.6L1528.8 932.8M1517.5 945.8L1521.2 951.6M1519.8 962.4L1521.3 952.3M1535 895.2L1538.8 899.2M1539.3 901.4L1537.7 902.2M1535 895.2L1530.9 899.6M1537.7 902.2L1530.9 899.6M1531.6 890.9L1535 895.2M1528.2 890.3L1531.6 890.9M1525.8 899.3L1526.1 899.6M1526.1 899.6L1530.9 899.6M1554.2 917.3L1550.6 915.4M1551.6 906.6L1547.8 907.4M1550.6 915.4L1547.8 907.4M1553 889.7L1553.2 889.7M1542.9 903.6L1545.6 907.2M1547.8 907.4L1545.6 907.2M1416.8 874.1L1423.2 871.9M1418.9 867.6L1424.7 868.2M1424.7 868.2L1423.2 871.9M1437.5 853.3L1443.5 857.9M1434.7 854.3L1434.2 860.8M1439.8 864.4L1439.9 864.4M1443.5 857.9L1439.9 864.4M1446 842L1449.7 858M1443.5 857.9L1449.7 858M1425.9 855.2L1422.8 858.5M1425.9 855.2L1431.7 854.4M1431.7 854.4L1428.7 862.3M1422.8 858.5L1425.5 862.7M1425.5 862.7L1428.7 862.3M1422.3 858.5L1422.8 858.5M1424.7 850.9L1425.9 855.2M1433.5 854L1431.7 854.4M1432.8 862.3L1428.7 862.3M1425.5 867.7L1424.7 868.2M1425.5 867.7L1425.5 862.7M1432.7 869.7L1430.3 870M1430.3 870L1425.5 867.7M1436 872L1436.8 877M1436 872L1436.4 872M1436.4 872L1441.3 878M1436.8 877L1438.8 880M1438.8 880L1440.2 879.9M1440.2 879.9L1441.3 878M1433 876.8L1436.8 877M1432.9 876.5L1433 876.8M1432.9 876.5L1434.3 871.2M1434.3 871.2L1436 872M1433 876.8L1432 881.4M1435.3 882L1438.8 880M1442.9 883.3L1440.2 879.9M1531.6 931.9L1535.5 930.6M1531.6 931.9L1532.4 925.2M1535.5 930.6L1538 928M1538 928L1537.3 925.2M1532.4 925.2L1535.4 924.4M1537.3 925.2L1535.4 924.4M1530 933.5L1531.6 931.9M1530.2 924.3L1532.4 925.2M1541.3 930.2L1538 928M1541.3 930.2L1545 928M1545 928L1543.1 923.7M1539.8 923.3L1543.1 923.7M1539.8 923.3L1537.3 925.2M1537.3 933.3L1537.3 935.9M1537.3 933.3L1541.3 930.5M1537.3 935.9L1541.7 936.7M1541.3 930.5L1542.9 936.6M1542.9 936.6L1541.7 936.7M1535.5 930.6L1537.3 933.3M1536.8 936.1L1537.3 935.9M1541.3 930.2L1541.3 930.5M1536.8 941.8L1541.7 936.7M1546.7 938.8L1542.9 936.6M1478.1 856.2L1469 863.4M1478.1 856.2L1464.8 855.5M1464.8 855.5L1469 863.4M1479.1 855.7L1478.1 856.2M1467.4 866.6L1467.1 865.8M1467.1 865.8L1469 863.4M1461 853.8L1464.8 855.5M1531.6 890.9L1538.8 886.6M1545.2 888.9L1543.1 887.5M1543.1 887.5L1538.8 886.6M1532.5 878.1L1537.5 882.8M1538.8 886.6L1537.5 882.8M1592.6 826.4L1576.8 833.7M1592.6 826.4L1572.7 823.4M1576.8 833.7L1571.8 828.6M1572.7 823.4L1571.8 828.6M1566.6 806.1L1572.7 823.4M1598 823L1594.8 826.1M1594.8 826.1L1592.6 826.4M1602.4 882.3L1603.9 871M1599.9 882.3L1595 876.7M1603.9 871L1599.3 864.7M1595 876.7L1594.3 863.6M1594.3 863.6L1594.6 863.2M1594.6 863.2L1595.4 863.1M1599.3 864.7L1595.4 863.1M1569 909L1569.1 909.3M1577.1 913.5L1575.6 915.7M1569.1 909.3L1575.6 915.7M1575.4 919.5L1575.1 918.2M1575.1 918.2L1575.6 915.7M1560.7 933.4L1558.3 931.9M1560.7 933.4L1555.5 941.2M1558.3 931.9L1556.5 932.7M1555.5 941.2L1556.5 932.7M1561.9 933.9L1560.7 933.4M1560 927.8L1558.3 931.9M1555.4 941.7L1555.5 941.2M1517.8 912.8L1520.5 914.9M1517.8 912.8L1518.6 909.2M1520.5 914.9L1526.4 910.2M1518.6 909.2L1526.4 910.2M1521.8 920.1L1523.7 917.8M1523.7 917.8L1520.5 914.9M1515.7 916.5L1517.8 912.8M1516.1 906.5L1518.6 909.2M1549 925.9L1548.2 928.6M1549 925.9L1552.8 921.7M1554.8 926.8L1552.3 930.4M1554.8 926.8L1553 921.6M1548.2 928.6L1549.9 930.7M1553 921.6L1552.8 921.7M1549.9 930.7L1552.3 930.4M1545 928L1548.2 928.6M1543.1 923.7L1545.5 921.2M1545.5 921.2L1549 925.9M1556.5 932.7L1552.3 930.4M1558.1 926.8L1554.8 926.8M1554.9 919.9L1553 921.6M1547.1 938.8L1549.9 930.7M1546.9 919.2L1550.6 915.4M1546.9 919.2L1552.8 921.7M1541.4 920.1L1541.7 917.2M1541.4 920.1L1546.2 919.2M1546.2 919.2L1546.2 919.2M1546.2 919.2L1544.1 915.8M1541.7 917.2L1544.1 915.8M1538.5 918.3L1539.7 921.6M1538.5 918.3L1541.7 917.2M1539.7 921.6L1541.4 920.1M1545.5 921.2L1546.2 919.2M1539.8 923.3L1539.7 921.6M1546.9 919.2L1546.2 919.2M1543.8 910.3L1545.6 907.2M1543.8 910.3L1544.1 915.8M1523.7 917.8L1525.6 916.5M1529.2 923L1529.3 921.5M1525.6 916.5L1529.1 920.6M1529.3 921.5L1529.1 920.6M1526.4 910.2L1527.8 910.3M1521.7 903.6L1528 909.9M1527.8 910.3L1528 909.9M1525.6 916.5L1528 910.9M1527.8 910.3L1528 910.9M1526.1 899.6L1529.4 907.3M1528 909.9L1529.4 907.3M1537.7 902.2L1532 906.3M1529.4 907.3L1532 906.3M1428.4 875.2L1429.1 872.9M1428.4 875.2L1425.6 879.2M1429.1 872.9L1423.8 873.6M1423.8 873.6L1425.2 879.2M1425.2 879.2L1425.6 879.2M1432.9 876.5L1428.4 875.2M1434.3 871.2L1433.2 870M1430.3 870L1429.1 872.9M1430.3 881.8L1425.6 879.2M1423.2 871.9L1423.8 873.6M1420.6 881.3L1425.2 879.2M1450.7 858.6L1450 861.7M1450.7 858.6L1456.9 857.5M1450 861.7L1456.2 870.4M1456.9 857.5L1460.8 863.7M1460.8 863.7L1456.4 870.5M1456.4 870.5L1456.2 870.4M1458.3 855.3L1456.9 857.5M1449.7 858L1450.7 858.6M1467.1 865.8L1460.8 863.7M1460.1 876.7L1456.4 870.5M1456.1 880.9L1452.3 878.7M1452.3 878.7L1452.4 871.2M1452.4 871.2L1456.2 870.4M1444.7 870.5L1442.4 876.9M1444.7 870.5L1445.2 870.1M1445.2 870.1L1445.9 870M1442.4 876.9L1448 879.2M1445.9 870L1446.4 870.2M1446.4 870.2L1449.4 878.1M1448 879.2L1449.4 878.1M1441.3 878L1442.4 876.9M1436.4 872L1444.7 870.5M1439.9 864.4L1445.2 870.1M1450 861.7L1445.9 870M1445.3 884.9L1448 879.2M1452.4 871.2L1446.4 870.2M1452.3 878.7L1449.4 878.1M1594.8 826.1L1591.8 836M1576.8 833.7L1576.9 836.6M1591.8 836L1586.7 838.2M1576.9 836.6L1586.7 838.2M1571.7 828.7L1561.4 826.4M1571.7 828.7L1566.9 833.1M1561.4 826.4L1565.5 832.8M1566.9 833.1L1565.5 832.8M1571.8 828.6L1571.7 828.7M1557.8 811.9L1558.9 824.4M1558.9 824.4L1561.4 826.4M1541.4 853L1542.6 851.1M1535 854.8L1541.4 853M1532.4 845L1539.6 843.9M1542.6 851.1L1539.6 843.9M1542.1 834.5L1542.9 836.3M1542.9 836.3L1541.2 842.2M1539.6 843.9L1541.2 842.2M1574.9 888.1L1572.3 881.2M1556.9 886.7L1557 886.4M1572.3 881.2L1557 886.4M1592.1 852.6L1588.9 848.1M1592.1 852.6L1596.9 849.4M1598.2 847.1L1596.9 849.4M1598.2 847.1L1592.7 840.3M1588.9 848.1L1588.9 845.3M1588.9 845.3L1592.7 840.3M1591.2 854.5L1592.1 852.6M1591.2 854.5L1582.4 854.5M1580.6 852L1580.7 852.8M1580.6 852L1588.9 848.1M1582.4 854.5L1580.7 852.8M1605.1 845.2L1604 846.7M1604 846.7L1598.2 847.1M1591.8 836L1592.7 840.3M1604 846.7L1607.2 853.3M1596.9 849.4L1599.7 856.4M1599.7 856.4L1607.2 853.3M1594.6 863.2L1591.2 854.5M1595.4 863.1L1598.4 859.1M1599.7 856.4L1598.4 859.1M1565.5 915.7L1568.6 914.2M1565.5 915.7L1568.1 917.8M1568.6 914.2L1569.7 915.8M1568.1 917.8L1569.7 915.8M1561.8 916.5L1565.5 915.7M1569.1 909.3L1568.6 914.2M1568 918.3L1568.1 917.8M1575.1 918.2L1569.7 915.8M1535.4 924.4L1535.2 923.3M1529.3 921.5L1531.9 920.7M1535.2 923.3L1531.9 920.7M1538.5 918.3L1536.1 917M1535.2 923.3L1535 919M1536.1 917L1535 919M1531.9 920.7L1533.6 919.3M1535 919L1533.6 919.3M1529.1 920.6L1531.2 918.6M1533.6 919.3L1531.2 918.6M1566.9 833.1L1567.3 838.6M1576.9 836.6L1576.7 837.2M1576.7 837.2L1567.3 838.6M1586.7 838.2L1584.4 840.8M1588.9 845.3L1585 845.6M1585 845.6L1584.4 840.8M1580.6 852L1579.4 849.4M1585 845.6L1579.4 849.4M1576.7 837.2L1577 844.4M1584.4 840.8L1577 844.4M1545.7 825L1554.3 832.4M1542.9 836.3L1546.3 836.6M1546.3 836.6L1554 833.7M1554.3 832.4L1554 833.7M1558.9 824.4L1557 830M1554.3 832.4L1557 830M1565.5 832.8L1562.7 833.2M1557 830L1562.7 833.2M1572.3 881.2L1572.6 880.4M1572.6 880.4L1564.4 871.9M1557 886.4L1555.6 877.7M1555.6 877.7L1564.4 871.9M1606.5 858.5L1609.6 855.4M1606.5 858.5L1604.1 862.9M1604.1 862.9L1611 866.6M1614.4 856.7L1609.6 855.4M1614.4 856.7L1611.6 866.5M1611.6 866.5L1611 866.6M1598.4 859.1L1606.5 858.5M1607.2 853.3L1609.6 855.4M1599.3 864.7L1604.1 862.9M1603.9 871L1611 866.6M1621.7 853.9L1614.4 856.7M1623.7 881.4L1611.6 866.5M1531.3 913.3L1537.8 911.1M1531.3 913.3L1531.3 913.3M1531.3 913.3L1536.1 916.7M1536.1 916.7L1540.2 911.7M1540.2 911.7L1537.8 911.1M1528 910.9L1531.3 913.3M1532 906.3L1537.8 911.1M1531.2 918.6L1531.3 913.3M1536.1 917L1536.1 916.7M1543.8 910.3L1540.2 911.7M1579.2 849.1L1576.9 844.7M1579.2 849.1L1569.4 852.6M1576.9 844.7L1571.9 844.8M1569.4 852.6L1571.9 844.8M1579.4 849.4L1579.2 849.1M1577 844.4L1576.9 844.7M1565.8 842.5L1571.9 844.8M1567.3 838.6L1565.8 842.5M1541.9 842.5L1548.4 847M1541.9 842.5L1549.3 842.9M1549.3 842.9L1548.4 847M1569.4 852.7L1563.6 845.2M1569.4 852.7L1569.4 852.6M1565.8 842.5L1564.3 843.3M1564.3 843.3L1563.6 845.2M1555.6 877.7L1555.2 877.3M1543.1 887.5L1544.4 875.1M1555.2 877.3L1544.4 875.1M1537.5 882.8L1544 874.8M1534.1 874L1542.1 872.6M1542.1 872.6L1544 874.8M1531.4 865.9L1542.6 868.1M1542.1 872.6L1542.6 868.1M1537.1 862.2L1542.7 867.8M1542.7 867.8L1542.6 868.1M1544.4 875.1L1544 874.8M1574.2 867.4L1576.2 863.8M1574.2 867.4L1580.2 874.4M1576.2 863.8L1583.1 861.1M1582.6 873.7L1587.3 865.3M1582.6 873.7L1581.1 874.5M1587.3 865.3L1583.1 861.1M1581.1 874.5L1580.2 874.4M1569.3 866.9L1574.2 867.4M1569.3 866.9L1572.3 856.9M1574.8 857.2L1576.2 863.8M1572.3 856.9L1574.8 857.2M1566.4 867.2L1564.4 871.9M1572.6 880.4L1580.2 874.4M1566.4 867.2L1569.3 866.9M1580.7 852.8L1574.8 857.2M1582.4 854.5L1583.1 861.1M1594.3 863.6L1587.3 865.3M1595 876.7L1582.6 873.7M1587.5 891.4L1581.1 874.5M1552.9 847.3L1553.9 845.2M1552.9 847.3L1561.2 849M1553.9 845.2L1562.1 846.9M1561.2 849L1562.1 846.9M1555.2 849L1560.6 851.1M1560.6 851.1L1561.2 849M1552.6 847.7L1552.9 847.3M1552.6 847.7L1555.2 849M1553.8 844.2L1558.5 839.2M1553.8 844.2L1550.9 841.6M1550.9 841.4L1555.3 836.2M1550.9 841.4L1550.9 841.6M1555.3 836.2L1558.4 838.9M1558.4 838.9L1558.5 839.2M1563.6 845.2L1562.1 846.9M1564.3 843.3L1558.5 839.2M1553.9 845.2L1553.8 844.2M1546.3 836.6L1550.9 841.4M1554 833.7L1555.3 836.2M1541.2 842.2L1541.9 842.5M1549.3 842.9L1550.9 841.6M1562.7 833.2L1558.4 838.9M1542.7 867.8L1544.3 866.1M1537.9 859.8L1542.1 859M1544.3 866.1L1542.1 859M1541.4 853L1543.1 857.6M1542.1 859L1543.1 857.6M1555.2 849L1556.3 852.9M1560.6 851.1L1560.5 852.4M1560.5 852.4L1557.9 854M1556.3 852.9L1557.9 854M1564.6 864.4L1563.1 863.3M1564.6 864.4L1570.2 855.8M1563.1 863.3L1563.3 854.8M1563.3 854.8L1569 854M1570.2 855.8L1569 854M1572.3 856.9L1570.2 855.8M1566.4 867.2L1564.6 864.4M1569.4 852.7L1569 854M1560.5 852.4L1563.3 854.8M1557.9 854L1556.1 856.6M1563.1 863.3L1558 862.5M1558 862.5L1556.1 856.6M1555.2 877.3L1553.1 865.5M1558 862.5L1553.1 865.5M1544.3 866.1L1549.6 863.9M1553.1 865.5L1549.6 863.9M1542.6 851.1L1544.5 851.2M1544.5 851.2L1547 850.7M1548.4 847L1549.5 848.7M1547 850.7L1549.5 848.7M1556.1 856.6L1551.6 856.4M1556.3 852.9L1552 850.4M1551.6 856.4L1552 850.4M1552.6 847.7L1551.3 848.8M1549.5 848.7L1551.3 848.8M1551.3 848.8L1552 850.4M1549.4 861.2L1551.2 856.6M1549.4 861.2L1544.7 857.7M1546.5 855.9L1544.7 857.7M1546.5 855.9L1549 855.3M1549 855.3L1551.2 856.6M1549.6 863.9L1549.4 861.2M1551.6 856.4L1551.2 856.6M1543.1 857.6L1544.7 857.7M1544.5 851.2L1546.5 855.9M1547 850.7L1549 855.3" fill="none" stroke="#111" stroke-width="1.5" stroke-linejoin="round"/></g><path d="M1395.8 795.6L1631.5 794.2L1628.8 964.1L1396.7 965.3ZM1396.1 796.6L1628.9 794.5L1630.3 964.6L1395.8 963.3Z" fill="none" stroke="#111" stroke-width="1.1" stroke-linejoin="round" stroke-linecap="round"/><path d="M1389.1 854.6h6" stroke="#111" stroke-width="1.3"/><text x="1384.1" y="859.1" text-anchor="end" font-size="15" fill="#111" stroke="#111" stroke-width="0.1"  textLength="14.7" lengthAdjust="spacingAndGlyphs">50</text><path d="M1389.1 915.7h6" stroke="#111" stroke-width="1.3"/><text x="1384.1" y="920.2" text-anchor="end" font-size="15" fill="#111" stroke="#111" stroke-width="0.1"  textLength="14.7" lengthAdjust="spacingAndGlyphs">40</text><path d="M1449.6 964.5v6" stroke="#111" stroke-width="1.3"/><text x="1449.6" y="986.5" text-anchor="middle" font-size="15" fill="#111" stroke="#111" stroke-width="0.1"  textLength="14.7" lengthAdjust="spacingAndGlyphs">15</text><path d="M1587.8 964.5v6" stroke="#111" stroke-width="1.3"/><text x="1587.8" y="986.5" text-anchor="middle" font-size="15" fill="#111" stroke="#111" stroke-width="0.1"  textLength="14.7" lengthAdjust="spacingAndGlyphs">20</text><path d="M1352.3 776.8L1356.5 772.6L1360.7 776.8Z" fill="#111"/><path d="M1356.5 775.6V788.1" stroke="#111" stroke-width="2.2"/><text x="1373.5" y="788.6" text-anchor="start" font-size="16.5" fill="#111" stroke="#111" stroke-width="0.1"  textLength="157" lengthAdjust="spacingAndGlyphs">culmen_length_mm</text><text x="1620.2" y="995.4" text-anchor="end" font-size="16.5" fill="#111" stroke="#111" stroke-width="0.1"  textLength="150.7" lengthAdjust="spacingAndGlyphs">culmen_depth_mm</text><path d="M1644.8 987.8L1649 992L1644.8 996.2Z" fill="#111"/><path d="M1633 992H1646" stroke="#111" stroke-width="2"/><rect x="1680.8" y="770.3" width="309.7" height="230.7" fill="#fbf8f1"/><path d="M1753.4 942.5L1773.4 942.5L1773.4 962L1753.4 962Z" fill="#4269d0"/><path d="M1754 942.4L1772.4 941.9L1772.8 962.8L1753.1 962.9ZM1752.5 943.2L1773 942.7L1773 961.9L1753.2 962.9Z" fill="none" stroke="#a51d1d" stroke-width="1.6" stroke-linejoin="round" stroke-linecap="round"/><path d="M1775.9 942.5L1795.8 942.5L1795.8 962L1775.9 962Z" fill="#4269d0"/><path d="M1775.5 942.6L1796.6 942.9L1796.2 962.5L1775 962.2ZM1775.4 942.3L1794.9 942.6L1794.9 963L1775.6 961.2Z" fill="none" stroke="#a51d1d" stroke-width="1.6" stroke-linejoin="round" stroke-linecap="round"/><path d="M1753.4 920.1L1773.4 920.1L1773.4 939.6L1753.4 939.6Z" fill="#4269d0"/><path d="M1752.7 920.5L1773.1 920.2L1773.7 940.2L1753.1 938.9ZM1752.5 920.9L1773 921L1772.8 939.3L1753.5 939.4Z" fill="none" stroke="#a51d1d" stroke-width="1.6" stroke-linejoin="round" stroke-linecap="round"/><path d="M1775.9 920.1L1795.8 920.1L1795.8 939.6L1775.9 939.6Z" fill="#4269d0"/><path d="M1775.9 920.4L1795.6 920.2L1796.7 939.7L1775.8 938.7ZM1775.1 919.4L1795.8 919.9L1795.2 939.6L1775.5 939.8Z" fill="none" stroke="#a51d1d" stroke-width="1.6" stroke-linejoin="round" stroke-linecap="round"/><path d="M1753.4 897.7L1773.4 897.7L1773.4 917.2L1753.4 917.2Z" fill="#4269d0"/><path d="M1753.7 898.4L1774.2 897.8L1772.9 916.6L1753.3 916.5ZM1753.3 896.8L1773.5 898.3L1772.5 917.9L1753 918.1Z" fill="none" stroke="#a51d1d" stroke-width="1.6" stroke-linejoin="round" stroke-linecap="round"/><path d="M1775.9 897.7L1795.8 897.7L1795.8 917.2L1775.9 917.2Z" fill="#4269d0"/><path d="M1774.9 898.6L1795.2 898.2L1795 916.5L1775.8 918.2ZM1776.3 897.4L1796.6 897.6L1796 917.4L1775.1 917.7Z" fill="none" stroke="#a51d1d" stroke-width="1.6" stroke-linejoin="round" stroke-linecap="round"/><path d="M1753.4 875.3L1773.4 875.3L1773.4 894.8L1753.4 894.8Z" fill="#4269d0"/><path d="M1753.7 876.1L1773.9 874.6L1773.4 894.8L1753.8 894.2ZM1753.8 874.6L1772.5 875.5L1774.4 894.8L1753.4 894.8Z" fill="none" stroke="#a51d1d" stroke-width="1.6" stroke-linejoin="round" stroke-linecap="round"/><path d="M1775.9 875.3L1795.8 875.3L1795.8 894.8L1775.9 894.8Z" fill="#4269d0"/><path d="M1776.2 875.4L1796.5 875.2L1795.3 894.6L1776 894.5ZM1775.2 875.3L1794.8 876.2L1796.1 894.6L1775.4 894Z" fill="none" stroke="#a51d1d" stroke-width="1.6" stroke-linejoin="round" stroke-linecap="round"/><path d="M1753.4 852.9L1773.4 852.9L1773.4 872.4L1753.4 872.4Z" fill="#4269d0"/><path d="M1752.7 852.9L1774.2 853.3L1773 872.9L1752.8 872.7ZM1754.4 853.5L1773.5 853.1L1773.1 872.1L1754 871.9Z" fill="none" stroke="#a51d1d" stroke-width="1.6" stroke-linejoin="round" stroke-linecap="round"/><path d="M1775.9 852.9L1795.8 852.9L1795.8 872.4L1775.9 872.4Z" fill="#4269d0"/><path d="M1776.3 853.9L1795.7 852.4L1796.6 871.5L1776.5 872.8ZM1775.6 852.3L1795 852.3L1796.1 873.4L1775.2 873.3Z" fill="none" stroke="#a51d1d" stroke-width="1.6" stroke-linejoin="round" stroke-linecap="round"/><path d="M1753.4 830.5L1773.4 830.5L1773.4 850L1753.4 850Z" fill="#4269d0"/><path d="M1753.1 829.8L1773.6 831L1773.1 850.3L1753.6 850.5ZM1753.4 829.9L1772.9 830.7L1774.2 849.5L1754.1 849.5Z" fill="none" stroke="#a51d1d" stroke-width="1.6" stroke-linejoin="round" stroke-linecap="round"/><path d="M1775.9 830.5L1795.8 830.5L1795.8 850L1775.9 850Z" fill="#4269d0"/><path d="M1776 829.9L1794.9 830.9L1795 850.1L1776.1 850.4ZM1775.7 831.1L1794.9 830.4L1796.3 850.9L1776.3 849.8Z" fill="none" stroke="#a51d1d" stroke-width="1.6" stroke-linejoin="round" stroke-linecap="round"/><path d="M1828.2 942.5L1848.1 942.5L1848.1 962L1828.2 962Z" fill="#efb118"/><path d="M1829 942.6L1848 941.5L1847.7 961.6L1828.5 962.1ZM1827.7 942L1848.5 943L1848.6 962.8L1827.6 961.6Z" fill="none" stroke="#a51d1d" stroke-width="1.6" stroke-linejoin="round" stroke-linecap="round"/><path d="M1850.6 942.5L1870.5 942.5L1870.5 962L1850.6 962Z" fill="#efb118"/><path d="M1851.3 941.7L1871.2 943.3L1871 961L1849.8 962.7ZM1850.9 942.5L1870.9 942L1871.2 962.9L1850.8 962.6Z" fill="none" stroke="#a51d1d" stroke-width="1.6" stroke-linejoin="round" stroke-linecap="round"/><path d="M1828.2 920.1L1848.1 920.1L1848.1 939.6L1828.2 939.6Z" fill="#efb118"/><path d="M1828.9 920.8L1847.5 919.9L1847.4 940.3L1829.1 938.7ZM1828.1 919.2L1848.8 920.2L1848.1 938.9L1827.4 940.2Z" fill="none" stroke="#a51d1d" stroke-width="1.6" stroke-linejoin="round" stroke-linecap="round"/><path d="M1850.6 920.1L1870.5 920.1L1870.5 939.6L1850.6 939.6Z" fill="#efb118"/><path d="M1851.2 919.6L1869.8 919.9L1869.9 940.1L1851.1 940.5ZM1851 920.8L1870.2 921L1870.5 938.8L1850.8 940.6Z" fill="none" stroke="#a51d1d" stroke-width="1.6" stroke-linejoin="round" stroke-linecap="round"/><path d="M1828.2 897.7L1848.1 897.7L1848.1 917.2L1828.2 917.2Z" fill="#efb118"/><path d="M1827.5 897.6L1848.2 898.6L1849.1 917.5L1828.7 917.8ZM1828.9 898.6L1848.8 898.1L1847.2 917.9L1828 917.1Z" fill="none" stroke="#a51d1d" stroke-width="1.6" stroke-linejoin="round" stroke-linecap="round"/><path d="M1850.6 897.7L1870.5 897.7L1870.5 917.2L1850.6 917.2Z" fill="#efb118"/><path d="M1851.5 898.4L1870.5 897.3L1870.3 918L1850.5 916.5ZM1851.5 897.4L1870.7 897.5L1871.1 917.2L1850.8 916.5Z" fill="none" stroke="#a51d1d" stroke-width="1.6" stroke-linejoin="round" stroke-linecap="round"/><path d="M1828.2 875.3L1848.1 875.3L1848.1 894.8L1828.2 894.8Z" fill="#efb118"/><path d="M1829 876.3L1847.3 876.1L1848.8 894.8L1828.7 893.8ZM1827.5 875.1L1847.6 875.6L1849 894.1L1827.5 894.6Z" fill="none" stroke="#a51d1d" stroke-width="1.6" stroke-linejoin="round" stroke-linecap="round"/><path d="M1901.6 942.5L1921.6 942.5L1921.6 962L1901.6 962Z" fill="#ff725c"/><path d="M1901.2 941.5L1921.6 941.7L1920.8 962.2L1901.7 962ZM1901.4 942.7L1921.3 942.1L1921.2 962.1L1900.7 961.5Z" fill="none" stroke="#a51d1d" stroke-width="1.6" stroke-linejoin="round" stroke-linecap="round"/><path d="M1924 942.5L1944 942.5L1944 962L1924 962Z" fill="#ff725c"/><path d="M1923.3 943.1L1944.7 942.6L1944 962.7L1923.1 962.5ZM1923.5 942.7L1943.5 942.9L1944.2 962.7L1923.1 962.6Z" fill="none" stroke="#a51d1d" stroke-width="1.6" stroke-linejoin="round" stroke-linecap="round"/><path d="M1901.6 920.1L1921.6 920.1L1921.6 939.6L1901.6 939.6Z" fill="#ff725c"/><path d="M1901.1 919.1L1920.9 919.7L1921.6 940.3L1902.4 940.3ZM1901.7 920.6L1922 919.3L1920.8 938.9L1901.4 938.9Z" fill="none" stroke="#a51d1d" stroke-width="1.6" stroke-linejoin="round" stroke-linecap="round"/><path d="M1924 920.1L1944 920.1L1944 939.6L1924 939.6Z" fill="#ff725c"/><path d="M1923.2 919.4L1944.3 919.6L1943.6 939.3L1924.9 939.4ZM1924.5 919.9L1943.1 919.7L1944.7 939.5L1924.7 938.7Z" fill="none" stroke="#a51d1d" stroke-width="1.6" stroke-linejoin="round" stroke-linecap="round"/><path d="M1901.6 897.7L1921.6 897.7L1921.6 917.2L1901.6 917.2Z" fill="#ff725c"/><path d="M1901.4 897.4L1922.1 897.3L1921.6 916.4L1902.6 917.3ZM1901 897.5L1921.7 897.3L1921.3 917.2L1902.5 916.3Z" fill="none" stroke="#a51d1d" stroke-width="1.6" stroke-linejoin="round" stroke-linecap="round"/><path d="M1924 897.7L1944 897.7L1944 917.2L1924 917.2Z" fill="#ff725c"/><path d="M1924.1 896.9L1943.8 898.5L1944.5 916.5L1924.1 917.6ZM1924.9 898.3L1943.1 897L1943.9 918.2L1924.7 916.4Z" fill="none" stroke="#a51d1d" stroke-width="1.6" stroke-linejoin="round" stroke-linecap="round"/><path d="M1901.6 875.3L1921.6 875.3L1921.6 894.8L1901.6 894.8Z" fill="#ff725c"/><path d="M1902 875.8L1921.6 875.6L1921.9 894.8L1901.4 894.5ZM1902.6 875.3L1921.9 875.6L1921 894.9L1901.2 893.9Z" fill="none" stroke="#a51d1d" stroke-width="1.6" stroke-linejoin="round" stroke-linecap="round"/><path d="M1924 875.3L1944 875.3L1944 894.8L1924 894.8Z" fill="#ff725c"/><path d="M1923.4 874.7L1943.1 875.1L1944.2 894.3L1923.2 895.3ZM1924.9 875.7L1944.1 874.8L1944.5 895L1923.6 895Z" fill="none" stroke="#a51d1d" stroke-width="1.6" stroke-linejoin="round" stroke-linecap="round"/><path d="M1901.6 852.9L1921.6 852.9L1921.6 872.4L1901.6 872.4Z" fill="#ff725c"/><path d="M1901.7 853.4L1922 852.6L1921.5 872.7L1900.7 872.5ZM1902.4 852.2L1921 852.2L1921.7 872.9L1901.7 871.9Z" fill="none" stroke="#a51d1d" stroke-width="1.6" stroke-linejoin="round" stroke-linecap="round"/><path d="M1924 852.9L1944 852.9L1944 872.4L1924 872.4Z" fill="#ff725c"/><path d="M1924.5 852L1943.1 853.2L1944.5 873.3L1924.3 872.7ZM1925 852.4L1943.1 853.7L1944.1 872.9L1923.3 872.1Z" fill="none" stroke="#a51d1d" stroke-width="1.6" stroke-linejoin="round" stroke-linecap="round"/><path d="M1901.6 830.5L1921.6 830.5L1921.6 850L1901.6 850Z" fill="#ff725c"/><path d="M1901 830.7L1922.5 830.9L1922 849.5L1902.4 850.5ZM1902.4 830.3L1921.3 831.3L1920.9 849.9L1902 850.5Z" fill="none" stroke="#a51d1d" stroke-width="1.6" stroke-linejoin="round" stroke-linecap="round"/><path d="M1924 830.5L1944 830.5L1944 850L1924 850Z" fill="#ff725c"/><path d="M1923.2 830.7L1943.8 829.6L1943.7 850.1L1924.5 849.3ZM1924.1 830.3L1943.1 831.2L1944 849.4L1924.7 849.2Z" fill="none" stroke="#a51d1d" stroke-width="1.6" stroke-linejoin="round" stroke-linecap="round"/><path d="M1901.6 808.1L1921.6 808.1L1921.6 827.6L1901.6 827.6Z" fill="#ff725c"/><path d="M1901 808.4L1921.1 808L1922.3 826.8L1901.9 826.6ZM1902.5 807.4L1921.1 808L1921.9 828.1L1902.6 827.4Z" fill="none" stroke="#a51d1d" stroke-width="1.6" stroke-linejoin="round" stroke-linecap="round"/><path d="M1924 808.1L1944 808.1L1944 827.6L1924 827.6Z" fill="#ff725c"/><path d="M1925 807.6L1943.5 808L1943.5 827.4L1924.3 828.1ZM1923.9 807.9L1943.2 808.3L1943.1 827.8L1924.3 828.4Z" fill="none" stroke="#a51d1d" stroke-width="1.6" stroke-linejoin="round" stroke-linecap="round"/><path d="M1901.6 785.7L1921.6 785.7L1921.6 805.2L1901.6 805.2Z" fill="#ff725c"/><path d="M1901.2 786.5L1921.6 786.4L1921 805.7L1901 805.8ZM1902.3 784.9L1922 785L1922.5 804.7L1900.7 805.5Z" fill="none" stroke="#a51d1d" stroke-width="1.6" stroke-linejoin="round" stroke-linecap="round"/><path d="M1727 963h6" stroke="#111" stroke-width="1.3"/><text x="1722" y="967.5" text-anchor="end" font-size="15" fill="#111" stroke="#111" stroke-width="0.1"  textLength="7.3" lengthAdjust="spacingAndGlyphs">0</text><path d="M1727 907.1h6" stroke="#111" stroke-width="1.3"/><text x="1722" y="911.6" text-anchor="end" font-size="15" fill="#111" stroke="#111" stroke-width="0.1"  textLength="7.3" lengthAdjust="spacingAndGlyphs">5</text><path d="M1727 851.3h6" stroke="#111" stroke-width="1.3"/><text x="1722" y="855.8" text-anchor="end" font-size="15" fill="#111" stroke="#111" stroke-width="0.1"  textLength="14.7" lengthAdjust="spacingAndGlyphs">10</text><path d="M1727 795.5h6" stroke="#111" stroke-width="1.3"/><text x="1722" y="800" text-anchor="end" font-size="15" fill="#111" stroke="#111" stroke-width="0.1"  textLength="14.7" lengthAdjust="spacingAndGlyphs">15</text><path d="M1774.1 965v6" stroke="#111" stroke-width="1.3"/><text x="1774.1" y="987" text-anchor="middle" font-size="15" fill="#111" stroke="#111" stroke-width="0.1" ></text><path d="M1848.8 965v6" stroke="#111" stroke-width="1.3"/><text x="1848.8" y="987" text-anchor="middle" font-size="15" fill="#111" stroke="#111" stroke-width="0.1" ></text><path d="M1923.5 965v6" stroke="#111" stroke-width="1.3"/><text x="1923.5" y="987" text-anchor="middle" font-size="15" fill="#111" stroke="#111" stroke-width="0.1" ></text><text x="1774" y="989" text-anchor="middle" font-size="16.5" fill="#111" stroke="#111" stroke-width="0.1"  textLength="43.6" lengthAdjust="spacingAndGlyphs">apples</text><text x="1848.8" y="989" text-anchor="middle" font-size="16.5" fill="#111" stroke="#111" stroke-width="0.1"  textLength="63.5" lengthAdjust="spacingAndGlyphs">bananas</text><text x="1923.5" y="989" text-anchor="middle" font-size="16.5" fill="#111" stroke="#111" stroke-width="0.1"  textLength="58.5" lengthAdjust="spacingAndGlyphs">oranges</text><path d="M1685.8 777.2L1690 773L1694.2 777.2Z" fill="#111"/><path d="M1690 776V788.5" stroke="#111" stroke-width="2.2"/><text x="1710" y="789" text-anchor="start" font-size="17" fill="#111" stroke="#111" stroke-width="0.1"  textLength="10" lengthAdjust="spacingAndGlyphs">n</text></svg></body></html>
